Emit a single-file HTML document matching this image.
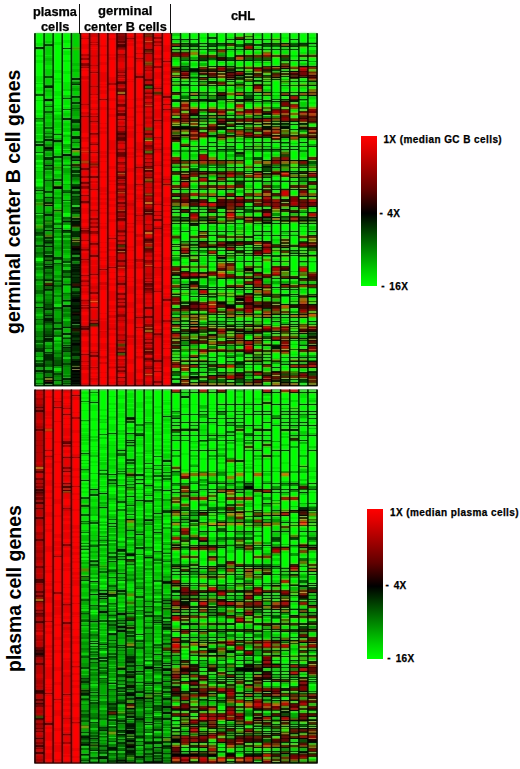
<!DOCTYPE html>
<html><head><meta charset="utf-8">
<style>
html,body{margin:0;padding:0;background:#fff;}
body{width:520px;height:769px;position:relative;overflow:hidden;font-family:"Liberation Sans",sans-serif;font-weight:bold;color:#000;-webkit-text-stroke:0.25px #000;}
.t{position:absolute;white-space:nowrap;line-height:1;}
.hd{font-size:12px;transform-origin:0 0;}
.vl{position:absolute;width:1.4px;background:#111;}
.hm{position:absolute;left:0;top:0;}
.rot{position:absolute;font-size:19.5px;-webkit-text-stroke:0;white-space:nowrap;line-height:1;transform-origin:0 0;}
.bar{position:absolute;width:16px;background:linear-gradient(to bottom,#ff0000 0%,#e00000 8%,#600000 36%,#000 51.5%,#005000 66%,#00d000 90%,#00ff00 100%);}
.cb{position:absolute;font-size:10px;letter-spacing:0.42px;white-space:nowrap;line-height:1;transform-origin:0 0;}
</style></head><body>
<svg class="hm" width="520" height="769" viewBox="0 0 520 769"><defs><filter id="bl" x="0" y="0" width="520" height="769" filterUnits="userSpaceOnUse" color-interpolation-filters="sRGB"><feGaussianBlur in="SourceGraphic" stdDeviation="0.5 0.7" result="b"/><feColorMatrix in="b" type="matrix" values="0.299 0.587 0.114 0 0  -0.1687 -0.3313 0.5 0 0.5  0.5 -0.4187 -0.0813 0 0.5  0 0 0 0 1" result="ycc"/><feGaussianBlur in="ycc" stdDeviation="1.0" result="yccb"/><feColorMatrix in="ycc" type="matrix" values="1 0 0 0 0  0 0 0 0 0  0 0 0 0 0  0 0 0 0 1" result="yo"/><feColorMatrix in="yccb" type="matrix" values="0 0 0 0 0  0 1 0 0 0  0 0 1 0 0  0 0 0 0 1" result="co"/><feComposite in="yo" in2="co" operator="arithmetic" k1="0" k2="1" k3="1" k4="0" result="m"/><feColorMatrix in="m" type="matrix" values="1 0 1.402 0 -0.701  1 -0.344136 -0.714136 0 0.529136  1 1.772 0 0 -0.886  0 0 0 0 1"/></filter></defs><g filter="url(#bl)"><rect x="0" y="0" width="520" height="769" fill="#fff"/><rect x="34.5" y="33.3" width="283" height="352.9" fill="#000"/><rect x="34.5" y="389.6" width="283" height="373.8" fill="#000"/><g shape-rendering="crispEdges"><path fill="#000000" d="M44.1 99.3h9.1v2h-9.1zM44.1 148.3h9.1v1h-9.1zM44.1 165.3h9.1v1h-9.1zM44.1 205.3h9.1v1h-9.1zM44.1 230.3h9.1v1h-9.1zM44.1 246.3h9.1v1h-9.1zM44.1 266.3h9.1v1h-9.1zM44.1 280.3h9.1v1h-9.1zM44.1 382.3h9.1v1h-9.1zM53.19 187.3h9.1v2h-9.1zM62.29 154.3h9.1v2h-9.1zM62.29 221.3h9.1v1h-9.1zM62.29 230.3h9.1v1h-9.1zM62.29 305.3h9.1v2h-9.1zM62.29 327.3h9.1v1h-9.1zM71.39 149.3h9.1v1h-9.1zM71.39 160.3h9.1v1h-9.1zM71.39 187.3h9.1v2h-9.1zM71.39 221.3h9.1v1h-9.1zM71.39 248.3h9.1v2h-9.1zM71.39 253.3h9.1v1h-9.1zM71.39 299.3h9.1v3h-9.1zM71.39 308.3h9.1v1h-9.1zM71.39 314.3h9.1v1h-9.1zM71.39 322.3h9.1v2h-9.1zM71.39 343.3h9.1v2h-9.1zM71.39 361.3h9.1v1h-9.1zM71.39 368.3h9.1v1h-9.1zM71.39 370.3h9.1v2h-9.1zM71.39 374.3h9.1v1h-9.1zM71.39 377.3h9.1v1h-9.1zM71.39 380.3h9.1v2h-9.1zM71.39 383.3h9.1v1h-9.1zM171.45 46.3h9.1v1h-9.1zM171.45 196.3h9.1v1h-9.1zM171.45 209.3h9.1v1h-9.1zM171.45 212.3h9.1v1h-9.1zM171.45 324.3h9.1v1h-9.1zM180.55 39.3h9.1v1h-9.1zM180.55 49.3h9.1v1h-9.1zM180.55 77.3h9.1v1h-9.1zM180.55 126.3h9.1v3h-9.1zM180.55 135.3h9.1v1h-9.1zM180.55 181.3h9.1v1h-9.1zM180.55 209.3h9.1v1h-9.1zM180.55 278.3h9.1v1h-9.1zM180.55 284.3h9.1v1h-9.1zM180.55 333.3h9.1v1h-9.1zM180.55 379.3h9.1v1h-9.1zM189.65 115.3h9.1v1h-9.1zM189.65 129.3h9.1v1h-9.1zM189.65 160.3h9.1v1h-9.1zM189.65 223.3h9.1v1h-9.1zM189.65 241.3h9.1v1h-9.1zM189.65 255.3h9.1v1h-9.1zM189.65 324.3h9.1v1h-9.1zM189.65 326.3h9.1v1h-9.1zM189.65 331.3h9.1v1h-9.1zM189.65 357.3h9.1v1h-9.1zM189.65 364.3h9.1v1h-9.1zM189.65 376.3h9.1v2h-9.1zM198.74 99.3h9.1v1h-9.1zM198.74 118.3h9.1v1h-9.1zM198.74 160.3h9.1v1h-9.1zM198.74 171.3h9.1v1h-9.1zM198.74 231.3h9.1v1h-9.1zM198.74 241.3h9.1v1h-9.1zM198.74 289.3h9.1v1h-9.1zM198.74 361.3h9.1v1h-9.1zM198.74 372.3h9.1v1h-9.1zM207.84 101.3h9.1v1h-9.1zM207.84 135.3h9.1v1h-9.1zM207.84 142.3h9.1v1h-9.1zM207.84 212.3h9.1v1h-9.1zM207.84 220.3h9.1v1h-9.1zM207.84 287.3h9.1v1h-9.1zM207.84 289.3h9.1v1h-9.1zM207.84 314.3h9.1v1h-9.1zM207.84 361.3h9.1v1h-9.1zM207.84 375.3h9.1v1h-9.1zM216.94 60.3h9.1v1h-9.1zM216.94 95.3h9.1v1h-9.1zM216.94 121.3h9.1v1h-9.1zM216.94 129.3h9.1v1h-9.1zM216.94 149.3h9.1v1h-9.1zM216.94 189.3h9.1v1h-9.1zM216.94 196.3h9.1v1h-9.1zM216.94 231.3h9.1v1h-9.1zM216.94 278.3h9.1v1h-9.1zM216.94 345.3h9.1v1h-9.1zM226.03 77.3h9.1v1h-9.1zM226.03 79.3h9.1v1h-9.1zM226.03 99.3h9.1v1h-9.1zM226.03 212.3h9.1v1h-9.1zM226.03 287.3h9.1v1h-9.1zM226.03 326.3h9.1v1h-9.1zM226.03 382.3h9.1v1h-9.1zM235.13 39.3h9.1v1h-9.1zM235.13 75.3h9.1v1h-9.1zM235.13 124.3h9.1v1h-9.1zM235.13 196.3h9.1v1h-9.1zM235.13 202.3h9.1v1h-9.1zM235.13 212.3h9.1v1h-9.1zM235.13 296.3h9.1v1h-9.1zM235.13 298.3h9.1v3h-9.1zM235.13 314.3h9.1v1h-9.1zM235.13 331.3h9.1v1h-9.1zM235.13 375.3h9.1v1h-9.1zM244.23 39.3h9.1v1h-9.1zM244.23 60.3h9.1v1h-9.1zM244.23 99.3h9.1v1h-9.1zM244.23 146.3h9.1v1h-9.1zM244.23 261.3h9.1v1h-9.1zM244.23 268.3h9.1v3h-9.1zM244.23 293.3h9.1v1h-9.1zM244.23 331.3h9.1v1h-9.1zM244.23 340.3h9.1v1h-9.1zM253.32 80.3h9.1v1h-9.1zM253.32 92.3h9.1v1h-9.1zM253.32 124.3h9.1v1h-9.1zM253.32 167.3h9.1v1h-9.1zM253.32 171.3h9.1v1h-9.1zM253.32 189.3h9.1v1h-9.1zM253.32 235.3h9.1v1h-9.1zM253.32 287.3h9.1v1h-9.1zM253.32 357.3h9.1v1h-9.1zM262.42 181.3h9.1v1h-9.1zM262.42 209.3h9.1v1h-9.1zM262.42 212.3h9.1v1h-9.1zM262.42 231.3h9.1v1h-9.1zM262.42 317.3h9.1v1h-9.1zM262.42 379.3h9.1v1h-9.1zM271.52 223.3h9.1v1h-9.1zM271.52 287.3h9.1v1h-9.1zM280.61 71.3h9.1v1h-9.1zM280.61 95.3h9.1v1h-9.1zM280.61 142.3h9.1v1h-9.1zM280.61 149.3h9.1v1h-9.1zM280.61 160.3h9.1v1h-9.1zM280.61 181.3h9.1v1h-9.1zM280.61 209.3h9.1v1h-9.1zM280.61 284.3h9.1v1h-9.1zM280.61 314.3h9.1v1h-9.1zM280.61 364.3h9.1v1h-9.1zM289.71 71.3h9.1v1h-9.1zM289.71 77.3h9.1v1h-9.1zM289.71 149.3h9.1v1h-9.1zM289.71 160.3h9.1v1h-9.1zM289.71 189.3h9.1v1h-9.1zM289.71 321.3h9.1v1h-9.1zM298.81 60.3h9.1v1h-9.1zM298.81 118.3h9.1v1h-9.1zM298.81 142.3h9.1v1h-9.1zM298.81 160.3h9.1v1h-9.1zM298.81 206.3h9.1v1h-9.1zM298.81 331.3h9.1v1h-9.1zM298.81 357.3h9.1v1h-9.1zM307.9 43.3h9.1v1h-9.1zM307.9 77.3h9.1v1h-9.1zM307.9 95.3h9.1v1h-9.1zM307.9 137.3h9.1v1h-9.1zM307.9 173.3h9.1v1h-9.1zM307.9 196.3h9.1v1h-9.1zM307.9 255.3h9.1v1h-9.1zM307.9 296.3h9.1v1h-9.1zM307.9 321.3h9.1v1h-9.1zM307.9 345.3h9.1v1h-9.1zM80.48 743.6h9.1v1h-9.1zM80.48 753.6h9.1v1h-9.1zM89.58 488.6h9.1v1h-9.1zM89.58 580.6h9.1v1h-9.1zM89.58 593.6h9.1v1h-9.1zM89.58 620.6h9.1v1h-9.1zM98.68 492.6h9.1v1h-9.1zM98.68 592.6h9.1v2h-9.1zM98.68 597.6h9.1v1h-9.1zM98.68 610.6h9.1v2h-9.1zM98.68 757.6h9.1v1h-9.1zM107.77 682.6h9.1v1h-9.1zM116.87 449.6h9.1v1h-9.1zM116.87 612.6h9.1v2h-9.1zM116.87 625.6h9.1v2h-9.1zM116.87 629.6h9.1v2h-9.1zM116.87 733.6h9.1v1h-9.1zM116.87 759.6h9.1v1h-9.1zM125.97 518.6h9.1v1h-9.1zM125.97 553.6h9.1v2h-9.1zM125.97 693.6h9.1v2h-9.1zM125.97 707.6h9.1v1h-9.1zM125.97 715.6h9.1v1h-9.1zM125.97 729.6h9.1v4h-9.1zM125.97 739.6h9.1v2h-9.1zM125.97 745.6h9.1v2h-9.1zM135.06 482.6h9.1v1h-9.1zM135.06 499.6h9.1v1h-9.1zM135.06 533.6h9.1v1h-9.1zM135.06 670.6h9.1v1h-9.1zM135.06 696.6h9.1v2h-9.1zM144.16 519.6h9.1v1h-9.1zM144.16 556.6h9.1v1h-9.1zM144.16 666.6h9.1v2h-9.1zM144.16 697.6h9.1v1h-9.1zM153.26 666.6h9.1v1h-9.1zM153.26 746.6h9.1v1h-9.1zM162.35 489.6h9.1v1h-9.1zM162.35 581.6h9.1v1h-9.1zM162.35 623.6h9.1v1h-9.1zM162.35 664.6h9.1v1h-9.1zM162.35 668.6h9.1v2h-9.1zM162.35 705.6h9.1v2h-9.1zM162.35 711.6h9.1v2h-9.1zM171.45 417.6h9.1v1h-9.1zM171.45 594.6h9.1v1h-9.1zM171.45 604.6h9.1v1h-9.1zM171.45 673.6h9.1v1h-9.1zM171.45 692.6h9.1v1h-9.1zM171.45 719.6h9.1v1h-9.1zM171.45 738.6h9.1v3h-9.1zM171.45 753.6h9.1v3h-9.1zM180.55 395.6h9.1v2h-9.1zM180.55 573.6h9.1v1h-9.1zM180.55 591.6h9.1v1h-9.1zM180.55 622.6h9.1v2h-9.1zM180.55 670.6h9.1v1h-9.1zM180.55 715.6h9.1v1h-9.1zM180.55 723.6h9.1v1h-9.1zM180.55 730.6h9.1v1h-9.1zM180.55 750.6h9.1v1h-9.1zM180.55 753.6h9.1v3h-9.1zM189.65 611.6h9.1v1h-9.1zM189.65 630.6h9.1v1h-9.1zM189.65 641.6h9.1v1h-9.1zM189.65 670.6h9.1v1h-9.1zM189.65 680.6h9.1v1h-9.1zM189.65 690.6h9.1v1h-9.1zM189.65 750.6h9.1v1h-9.1zM189.65 753.6h9.1v3h-9.1zM198.74 421.6h9.1v1h-9.1zM198.74 511.6h9.1v1h-9.1zM198.74 530.6h9.1v1h-9.1zM198.74 594.6h9.1v1h-9.1zM198.74 628.6h9.1v1h-9.1zM198.74 666.6h9.1v1h-9.1zM198.74 678.6h9.1v1h-9.1zM198.74 719.6h9.1v1h-9.1zM207.84 649.6h9.1v1h-9.1zM207.84 654.6h9.1v1h-9.1zM207.84 692.6h9.1v1h-9.1zM207.84 699.6h9.1v1h-9.1zM207.84 753.6h9.1v3h-9.1zM216.94 410.6h9.1v1h-9.1zM216.94 565.6h9.1v1h-9.1zM216.94 641.6h9.1v1h-9.1zM216.94 654.6h9.1v1h-9.1zM226.03 421.6h9.1v1h-9.1zM226.03 600.6h9.1v1h-9.1zM226.03 604.6h9.1v1h-9.1zM226.03 650.6h9.1v2h-9.1zM226.03 670.6h9.1v1h-9.1zM226.03 676.6h9.1v1h-9.1zM226.03 678.6h9.1v1h-9.1zM235.13 403.6h9.1v1h-9.1zM235.13 488.6h9.1v1h-9.1zM235.13 511.6h9.1v1h-9.1zM235.13 659.6h9.1v1h-9.1zM235.13 667.6h9.1v3h-9.1zM235.13 673.6h9.1v1h-9.1zM235.13 695.6h9.1v1h-9.1zM235.13 715.6h9.1v1h-9.1zM235.13 725.6h9.1v1h-9.1zM244.23 424.6h9.1v1h-9.1zM244.23 485.6h9.1v3h-9.1zM244.23 530.6h9.1v1h-9.1zM244.23 570.6h9.1v1h-9.1zM244.23 611.6h9.1v1h-9.1zM244.23 636.6h9.1v1h-9.1zM244.23 667.6h9.1v4h-9.1zM244.23 692.6h9.1v1h-9.1zM244.23 761.6h9.1v1h-9.1zM253.32 488.6h9.1v1h-9.1zM253.32 565.6h9.1v1h-9.1zM253.32 567.6h9.1v1h-9.1zM253.32 608.6h9.1v1h-9.1zM253.32 673.6h9.1v1h-9.1zM253.32 678.6h9.1v1h-9.1zM253.32 719.6h9.1v1h-9.1zM253.32 725.6h9.1v1h-9.1zM262.42 391.6h9.1v1h-9.1zM262.42 413.6h9.1v1h-9.1zM262.42 544.6h9.1v1h-9.1zM262.42 594.6h9.1v1h-9.1zM262.42 659.6h9.1v1h-9.1zM262.42 663.6h9.1v1h-9.1zM262.42 673.6h9.1v1h-9.1zM262.42 680.6h9.1v1h-9.1zM262.42 690.6h9.1v1h-9.1zM271.52 403.6h9.1v1h-9.1zM271.52 514.6h9.1v1h-9.1zM271.52 565.6h9.1v1h-9.1zM271.52 608.6h9.1v1h-9.1zM271.52 611.6h9.1v1h-9.1zM271.52 663.6h9.1v1h-9.1zM271.52 699.6h9.1v1h-9.1zM271.52 750.6h9.1v1h-9.1zM271.52 761.6h9.1v1h-9.1zM280.61 449.6h9.1v1h-9.1zM280.61 521.6h9.1v1h-9.1zM280.61 600.6h9.1v1h-9.1zM280.61 639.6h9.1v1h-9.1zM280.61 752.6h9.1v1h-9.1zM289.71 424.6h9.1v1h-9.1zM289.71 608.6h9.1v1h-9.1zM289.71 614.6h9.1v1h-9.1zM289.71 639.6h9.1v1h-9.1zM289.71 676.6h9.1v1h-9.1zM289.71 719.6h9.1v1h-9.1zM289.71 741.6h9.1v1h-9.1zM298.81 403.6h9.1v1h-9.1zM298.81 491.6h9.1v1h-9.1zM298.81 509.6h9.1v1h-9.1zM298.81 514.6h9.1v1h-9.1zM298.81 544.6h9.1v1h-9.1zM298.81 585.6h9.1v1h-9.1zM298.81 641.6h9.1v1h-9.1zM298.81 666.6h9.1v1h-9.1zM298.81 719.6h9.1v1h-9.1zM298.81 737.6h9.1v1h-9.1zM298.81 751.6h9.1v1h-9.1zM307.9 410.6h9.1v1h-9.1zM307.9 570.6h9.1v1h-9.1zM307.9 591.6h9.1v1h-9.1zM307.9 604.6h9.1v1h-9.1zM307.9 641.6h9.1v1h-9.1zM307.9 695.6h9.1v1h-9.1zM307.9 715.6h9.1v1h-9.1zM307.9 719.6h9.1v1h-9.1zM307.9 741.6h9.1v1h-9.1z"/><path fill="#001500" d="M35 47.3h9.1v2h-9.1zM35 144.3h9.1v2h-9.1zM35 190.3h9.1v1h-9.1zM35 307.3h9.1v1h-9.1zM35 370.3h9.1v2h-9.1zM44.1 86.3h9.1v2h-9.1zM44.1 139.3h9.1v2h-9.1zM44.1 197.3h9.1v1h-9.1zM44.1 214.3h9.1v2h-9.1zM44.1 242.3h9.1v1h-9.1zM44.1 255.3h9.1v2h-9.1zM44.1 285.3h9.1v1h-9.1zM44.1 289.3h9.1v1h-9.1zM44.1 309.3h9.1v1h-9.1zM44.1 315.3h9.1v1h-9.1zM44.1 318.3h9.1v3h-9.1zM44.1 336.3h9.1v1h-9.1zM44.1 338.3h9.1v2h-9.1zM44.1 377.3h9.1v1h-9.1zM44.1 380.3h9.1v1h-9.1zM44.1 383.3h9.1v1h-9.1zM53.19 140.3h9.1v2h-9.1zM53.19 328.3h9.1v1h-9.1zM62.29 48.3h9.1v1h-9.1zM62.29 118.3h9.1v2h-9.1zM62.29 300.3h9.1v1h-9.1zM62.29 333.3h9.1v2h-9.1zM62.29 347.3h9.1v1h-9.1zM62.29 378.3h9.1v2h-9.1zM71.39 78.3h9.1v2h-9.1zM71.39 84.3h9.1v1h-9.1zM71.39 96.3h9.1v1h-9.1zM71.39 136.3h9.1v3h-9.1zM71.39 156.3h9.1v2h-9.1zM71.39 207.3h9.1v2h-9.1zM71.39 211.3h9.1v1h-9.1zM71.39 218.3h9.1v1h-9.1zM71.39 222.3h9.1v4h-9.1zM71.39 236.3h9.1v1h-9.1zM71.39 250.3h9.1v1h-9.1zM71.39 257.3h9.1v2h-9.1zM71.39 264.3h9.1v2h-9.1zM71.39 267.3h9.1v1h-9.1zM71.39 269.3h9.1v3h-9.1zM71.39 274.3h9.1v1h-9.1zM71.39 277.3h9.1v1h-9.1zM71.39 282.3h9.1v1h-9.1zM71.39 286.3h9.1v2h-9.1zM71.39 293.3h9.1v1h-9.1zM71.39 297.3h9.1v2h-9.1zM71.39 305.3h9.1v3h-9.1zM71.39 311.3h9.1v2h-9.1zM71.39 315.3h9.1v1h-9.1zM71.39 319.3h9.1v2h-9.1zM71.39 328.3h9.1v1h-9.1zM71.39 335.3h9.1v2h-9.1zM71.39 340.3h9.1v1h-9.1zM71.39 345.3h9.1v1h-9.1zM71.39 353.3h9.1v3h-9.1zM71.39 362.3h9.1v3h-9.1zM71.39 367.3h9.1v1h-9.1zM71.39 372.3h9.1v2h-9.1zM71.39 375.3h9.1v2h-9.1zM71.39 378.3h9.1v2h-9.1zM71.39 382.3h9.1v1h-9.1zM71.39 385.3h9.1v0.9h-9.1zM171.45 68.3h9.1v1h-9.1zM171.45 101.3h9.1v1h-9.1zM171.45 118.3h9.1v1h-9.1zM171.45 126.3h9.1v1h-9.1zM171.45 135.3h9.1v1h-9.1zM171.45 137.3h9.1v1h-9.1zM171.45 160.3h9.1v1h-9.1zM171.45 274.3h9.1v2h-9.1zM171.45 278.3h9.1v1h-9.1zM171.45 294.3h9.1v1h-9.1zM171.45 331.3h9.1v1h-9.1zM171.45 364.3h9.1v1h-9.1zM171.45 379.3h9.1v1h-9.1zM180.55 66.3h9.1v1h-9.1zM180.55 85.3h9.1v1h-9.1zM180.55 118.3h9.1v1h-9.1zM180.55 177.3h9.1v1h-9.1zM180.55 231.3h9.1v1h-9.1zM180.55 308.3h9.1v1h-9.1zM180.55 340.3h9.1v1h-9.1zM189.65 71.3h9.1v1h-9.1zM189.65 99.3h9.1v1h-9.1zM189.65 189.3h9.1v1h-9.1zM189.65 261.3h9.1v1h-9.1zM189.65 281.3h9.1v3h-9.1zM189.65 382.3h9.1v1h-9.1zM198.74 71.3h9.1v1h-9.1zM198.74 85.3h9.1v1h-9.1zM198.74 220.3h9.1v1h-9.1zM198.74 294.3h9.1v1h-9.1zM207.84 46.3h9.1v1h-9.1zM207.84 71.3h9.1v1h-9.1zM207.84 81.3h9.1v1h-9.1zM207.84 136.3h9.1v1h-9.1zM207.84 171.3h9.1v1h-9.1zM207.84 223.3h9.1v1h-9.1zM207.84 246.3h9.1v2h-9.1zM216.94 71.3h9.1v1h-9.1zM216.94 85.3h9.1v1h-9.1zM216.94 124.3h9.1v1h-9.1zM216.94 127.3h9.1v2h-9.1zM216.94 207.3h9.1v2h-9.1zM216.94 212.3h9.1v1h-9.1zM216.94 223.3h9.1v1h-9.1zM216.94 250.3h9.1v1h-9.1zM216.94 261.3h9.1v1h-9.1zM216.94 317.3h9.1v1h-9.1zM216.94 324.3h9.1v1h-9.1zM216.94 331.3h9.1v1h-9.1zM226.03 49.3h9.1v1h-9.1zM226.03 66.3h9.1v1h-9.1zM226.03 135.3h9.1v1h-9.1zM226.03 189.3h9.1v1h-9.1zM226.03 241.3h9.1v1h-9.1zM226.03 308.3h9.1v1h-9.1zM226.03 361.3h9.1v1h-9.1zM226.03 379.3h9.1v1h-9.1zM235.13 99.3h9.1v1h-9.1zM235.13 142.3h9.1v1h-9.1zM235.13 160.3h9.1v1h-9.1zM235.13 289.3h9.1v1h-9.1zM235.13 333.3h9.1v1h-9.1zM244.23 92.3h9.1v1h-9.1zM244.23 241.3h9.1v1h-9.1zM244.23 244.3h9.1v1h-9.1zM244.23 284.3h9.1v1h-9.1zM244.23 333.3h9.1v1h-9.1zM253.32 118.3h9.1v1h-9.1zM253.32 247.3h9.1v1h-9.1zM253.32 255.3h9.1v1h-9.1zM253.32 289.3h9.1v1h-9.1zM253.32 338.3h9.1v1h-9.1zM253.32 372.3h9.1v1h-9.1zM262.42 92.3h9.1v1h-9.1zM262.42 113.3h9.1v2h-9.1zM262.42 118.3h9.1v1h-9.1zM262.42 127.3h9.1v2h-9.1zM262.42 149.3h9.1v1h-9.1zM262.42 160.3h9.1v1h-9.1zM262.42 171.3h9.1v1h-9.1zM262.42 222.3h9.1v1h-9.1zM262.42 255.3h9.1v1h-9.1zM262.42 296.3h9.1v1h-9.1zM262.42 314.3h9.1v1h-9.1zM262.42 375.3h9.1v1h-9.1zM271.52 49.3h9.1v1h-9.1zM271.52 142.3h9.1v1h-9.1zM271.52 160.3h9.1v1h-9.1zM271.52 167.3h9.1v1h-9.1zM271.52 261.3h9.1v1h-9.1zM271.52 278.3h9.1v1h-9.1zM271.52 331.3h9.1v1h-9.1zM271.52 340.3h9.1v1h-9.1zM271.52 346.3h9.1v3h-9.1zM280.61 46.3h9.1v1h-9.1zM280.61 66.3h9.1v1h-9.1zM280.61 137.3h9.1v1h-9.1zM280.61 220.3h9.1v1h-9.1zM280.61 278.3h9.1v1h-9.1zM280.61 289.3h9.1v1h-9.1zM280.61 294.3h9.1v2h-9.1zM280.61 324.3h9.1v1h-9.1zM280.61 345.3h9.1v1h-9.1zM289.71 39.3h9.1v1h-9.1zM289.71 49.3h9.1v1h-9.1zM289.71 81.3h9.1v1h-9.1zM289.71 121.3h9.1v1h-9.1zM289.71 129.3h9.1v1h-9.1zM289.71 171.3h9.1v1h-9.1zM289.71 177.3h9.1v1h-9.1zM289.71 357.3h9.1v1h-9.1zM298.81 43.3h9.1v1h-9.1zM298.81 77.3h9.1v1h-9.1zM298.81 92.3h9.1v1h-9.1zM298.81 99.3h9.1v1h-9.1zM298.81 137.3h9.1v1h-9.1zM298.81 189.3h9.1v1h-9.1zM298.81 255.3h9.1v1h-9.1zM298.81 278.3h9.1v1h-9.1zM298.81 314.3h9.1v1h-9.1zM298.81 345.3h9.1v1h-9.1zM298.81 361.3h9.1v1h-9.1zM307.9 220.3h9.1v1h-9.1zM307.9 231.3h9.1v1h-9.1zM307.9 340.3h9.1v1h-9.1zM307.9 361.3h9.1v1h-9.1zM307.9 364.3h9.1v1h-9.1zM80.48 479.6h9.1v1h-9.1zM80.48 692.6h9.1v2h-9.1zM80.48 735.6h9.1v2h-9.1zM89.58 401.6h9.1v1h-9.1zM89.58 560.6h9.1v1h-9.1zM89.58 642.6h9.1v1h-9.1zM89.58 657.6h9.1v1h-9.1zM89.58 737.6h9.1v1h-9.1zM89.58 749.6h9.1v1h-9.1zM98.68 506.6h9.1v1h-9.1zM98.68 589.6h9.1v1h-9.1zM98.68 595.6h9.1v1h-9.1zM98.68 643.6h9.1v1h-9.1zM98.68 659.6h9.1v1h-9.1zM98.68 729.6h9.1v1h-9.1zM98.68 755.6h9.1v2h-9.1zM107.77 473.6h9.1v1h-9.1zM107.77 522.6h9.1v1h-9.1zM107.77 593.6h9.1v1h-9.1zM107.77 632.6h9.1v2h-9.1zM107.77 746.6h9.1v3h-9.1zM116.87 548.6h9.1v2h-9.1zM116.87 589.6h9.1v2h-9.1zM116.87 667.6h9.1v2h-9.1zM116.87 690.6h9.1v1h-9.1zM116.87 729.6h9.1v1h-9.1zM125.97 417.6h9.1v1h-9.1zM125.97 432.6h9.1v1h-9.1zM125.97 439.6h9.1v1h-9.1zM125.97 441.6h9.1v1h-9.1zM125.97 444.6h9.1v1h-9.1zM125.97 495.6h9.1v1h-9.1zM125.97 619.6h9.1v1h-9.1zM125.97 660.6h9.1v2h-9.1zM125.97 670.6h9.1v2h-9.1zM125.97 686.6h9.1v1h-9.1zM125.97 691.6h9.1v2h-9.1zM125.97 702.6h9.1v1h-9.1zM125.97 716.6h9.1v1h-9.1zM125.97 723.6h9.1v3h-9.1zM125.97 727.6h9.1v1h-9.1zM125.97 744.6h9.1v1h-9.1zM125.97 749.6h9.1v3h-9.1zM135.06 434.6h9.1v1h-9.1zM135.06 473.6h9.1v2h-9.1zM135.06 478.6h9.1v1h-9.1zM135.06 633.6h9.1v1h-9.1zM135.06 691.6h9.1v1h-9.1zM135.06 718.6h9.1v1h-9.1zM135.06 755.6h9.1v2h-9.1zM144.16 484.6h9.1v1h-9.1zM144.16 682.6h9.1v1h-9.1zM144.16 692.6h9.1v1h-9.1zM144.16 721.6h9.1v1h-9.1zM144.16 741.6h9.1v2h-9.1zM144.16 761.6h9.1v1.8h-9.1zM153.26 512.6h9.1v1h-9.1zM153.26 531.6h9.1v1h-9.1zM153.26 621.6h9.1v1h-9.1zM153.26 653.6h9.1v1h-9.1zM153.26 736.6h9.1v1h-9.1zM153.26 741.6h9.1v2h-9.1zM153.26 760.6h9.1v2h-9.1zM162.35 415.6h9.1v1h-9.1zM162.35 459.6h9.1v2h-9.1zM162.35 580.6h9.1v1h-9.1zM162.35 599.6h9.1v1h-9.1zM162.35 602.6h9.1v1h-9.1zM162.35 626.6h9.1v1h-9.1zM162.35 662.6h9.1v1h-9.1zM162.35 680.6h9.1v1h-9.1zM162.35 697.6h9.1v2h-9.1zM162.35 717.6h9.1v2h-9.1zM162.35 745.6h9.1v1h-9.1zM171.45 470.6h9.1v1h-9.1zM171.45 565.6h9.1v1h-9.1zM171.45 570.6h9.1v1h-9.1zM171.45 573.6h9.1v1h-9.1zM171.45 582.6h9.1v1h-9.1zM171.45 654.6h9.1v1h-9.1zM171.45 676.6h9.1v1h-9.1zM171.45 685.6h9.1v2h-9.1zM171.45 730.6h9.1v1h-9.1zM180.55 546.6h9.1v1h-9.1zM180.55 570.6h9.1v1h-9.1zM180.55 601.6h9.1v3h-9.1zM180.55 628.6h9.1v1h-9.1zM180.55 673.6h9.1v1h-9.1zM180.55 680.6h9.1v1h-9.1zM180.55 699.6h9.1v1h-9.1zM189.65 570.6h9.1v1h-9.1zM189.65 663.6h9.1v1h-9.1zM189.65 709.6h9.1v1h-9.1zM189.65 725.6h9.1v1h-9.1zM189.65 737.6h9.1v1h-9.1zM198.74 544.6h9.1v1h-9.1zM198.74 546.6h9.1v1h-9.1zM198.74 630.6h9.1v1h-9.1zM198.74 692.6h9.1v1h-9.1zM198.74 698.6h9.1v1h-9.1zM207.84 417.6h9.1v1h-9.1zM207.84 421.6h9.1v1h-9.1zM207.84 482.6h9.1v1h-9.1zM207.84 488.6h9.1v1h-9.1zM207.84 491.6h9.1v1h-9.1zM207.84 544.6h9.1v1h-9.1zM207.84 608.6h9.1v1h-9.1zM207.84 715.6h9.1v1h-9.1zM207.84 723.6h9.1v1h-9.1zM216.94 434.6h9.1v1h-9.1zM216.94 491.6h9.1v1h-9.1zM216.94 511.6h9.1v1h-9.1zM216.94 600.6h9.1v1h-9.1zM216.94 604.6h9.1v1h-9.1zM216.94 690.6h9.1v1h-9.1zM216.94 723.6h9.1v1h-9.1zM216.94 750.6h9.1v1h-9.1zM226.03 434.6h9.1v1h-9.1zM226.03 439.6h9.1v1h-9.1zM226.03 530.6h9.1v1h-9.1zM226.03 614.6h9.1v1h-9.1zM226.03 725.6h9.1v1h-9.1zM235.13 546.6h9.1v1h-9.1zM235.13 565.6h9.1v1h-9.1zM235.13 567.6h9.1v1h-9.1zM235.13 600.6h9.1v1h-9.1zM235.13 611.6h9.1v1h-9.1zM235.13 630.6h9.1v1h-9.1zM235.13 666.6h9.1v1h-9.1zM235.13 737.6h9.1v1h-9.1zM244.23 413.6h9.1v1h-9.1zM244.23 482.6h9.1v1h-9.1zM244.23 628.6h9.1v1h-9.1zM244.23 654.6h9.1v1h-9.1zM244.23 659.6h9.1v1h-9.1zM244.23 753.6h9.1v3h-9.1zM253.32 403.6h9.1v1h-9.1zM253.32 410.6h9.1v1h-9.1zM253.32 413.6h9.1v1h-9.1zM253.32 434.6h9.1v1h-9.1zM253.32 573.6h9.1v1h-9.1zM253.32 600.6h9.1v1h-9.1zM253.32 663.6h9.1v1h-9.1zM253.32 676.6h9.1v1h-9.1zM253.32 753.6h9.1v3h-9.1zM262.42 439.6h9.1v1h-9.1zM262.42 514.6h9.1v1h-9.1zM262.42 565.6h9.1v1h-9.1zM262.42 608.6h9.1v1h-9.1zM262.42 614.6h9.1v1h-9.1zM262.42 695.6h9.1v1h-9.1zM262.42 715.6h9.1v1h-9.1zM262.42 725.6h9.1v1h-9.1zM271.52 594.6h9.1v1h-9.1zM271.52 630.6h9.1v1h-9.1zM271.52 636.6h9.1v1h-9.1zM271.52 639.6h9.1v1h-9.1zM271.52 641.6h9.1v1h-9.1zM271.52 680.6h9.1v1h-9.1zM271.52 695.6h9.1v1h-9.1zM271.52 719.6h9.1v1h-9.1zM271.52 734.6h9.1v1h-9.1zM280.61 403.6h9.1v1h-9.1zM280.61 410.6h9.1v1h-9.1zM280.61 488.6h9.1v1h-9.1zM280.61 546.6h9.1v1h-9.1zM280.61 594.6h9.1v1h-9.1zM280.61 663.6h9.1v1h-9.1zM280.61 715.6h9.1v1h-9.1zM280.61 746.6h9.1v1h-9.1zM289.71 391.6h9.1v1h-9.1zM289.71 410.6h9.1v1h-9.1zM289.71 413.6h9.1v1h-9.1zM289.71 565.6h9.1v1h-9.1zM289.71 570.6h9.1v1h-9.1zM289.71 725.6h9.1v1h-9.1zM298.81 424.6h9.1v1h-9.1zM298.81 439.6h9.1v1h-9.1zM298.81 530.6h9.1v1h-9.1zM298.81 546.6h9.1v1h-9.1zM298.81 584.6h9.1v1h-9.1zM298.81 595.6h9.1v2h-9.1zM298.81 636.6h9.1v1h-9.1zM298.81 715.6h9.1v1h-9.1zM307.9 434.6h9.1v1h-9.1zM307.9 530.6h9.1v1h-9.1zM307.9 544.6h9.1v1h-9.1zM307.9 598.6h9.1v1h-9.1zM307.9 649.6h9.1v1h-9.1zM307.9 666.6h9.1v1h-9.1z"/><path fill="#002a00" d="M35 350.3h9.1v2h-9.1zM35 365.3h9.1v2h-9.1zM44.1 45.3h9.1v1h-9.1zM44.1 157.3h9.1v3h-9.1zM44.1 191.3h9.1v1h-9.1zM44.1 202.3h9.1v2h-9.1zM44.1 237.3h9.1v1h-9.1zM44.1 264.3h9.1v1h-9.1zM44.1 308.3h9.1v1h-9.1zM44.1 340.3h9.1v2h-9.1zM44.1 352.3h9.1v1h-9.1zM44.1 354.3h9.1v6h-9.1zM44.1 370.3h9.1v3h-9.1zM44.1 385.3h9.1v0.9h-9.1zM53.19 134.3h9.1v1h-9.1zM53.19 156.3h9.1v2h-9.1zM53.19 228.3h9.1v1h-9.1zM53.19 257.3h9.1v2h-9.1zM53.19 365.3h9.1v1h-9.1zM53.19 380.3h9.1v1h-9.1zM62.29 98.3h9.1v1h-9.1zM62.29 284.3h9.1v1h-9.1zM62.29 338.3h9.1v1h-9.1zM62.29 345.3h9.1v1h-9.1zM62.29 351.3h9.1v1h-9.1zM71.39 102.3h9.1v2h-9.1zM71.39 120.3h9.1v3h-9.1zM71.39 129.3h9.1v2h-9.1zM71.39 148.3h9.1v1h-9.1zM71.39 170.3h9.1v3h-9.1zM71.39 186.3h9.1v1h-9.1zM71.39 191.3h9.1v3h-9.1zM71.39 196.3h9.1v1h-9.1zM71.39 219.3h9.1v1h-9.1zM71.39 231.3h9.1v5h-9.1zM71.39 240.3h9.1v1h-9.1zM71.39 251.3h9.1v2h-9.1zM71.39 254.3h9.1v1h-9.1zM71.39 259.3h9.1v2h-9.1zM71.39 266.3h9.1v1h-9.1zM71.39 268.3h9.1v1h-9.1zM71.39 272.3h9.1v2h-9.1zM71.39 278.3h9.1v4h-9.1zM71.39 283.3h9.1v1h-9.1zM71.39 292.3h9.1v1h-9.1zM71.39 295.3h9.1v2h-9.1zM71.39 302.3h9.1v3h-9.1zM71.39 309.3h9.1v2h-9.1zM71.39 316.3h9.1v3h-9.1zM71.39 321.3h9.1v1h-9.1zM71.39 325.3h9.1v3h-9.1zM71.39 333.3h9.1v2h-9.1zM71.39 337.3h9.1v1h-9.1zM71.39 341.3h9.1v2h-9.1zM71.39 346.3h9.1v5h-9.1zM71.39 359.3h9.1v2h-9.1zM71.39 365.3h9.1v1h-9.1zM71.39 384.3h9.1v1h-9.1zM171.45 39.3h9.1v1h-9.1zM171.45 81.3h9.1v1h-9.1zM171.45 171.3h9.1v1h-9.1zM171.45 220.3h9.1v1h-9.1zM171.45 308.3h9.1v1h-9.1zM171.45 317.3h9.1v1h-9.1zM171.45 321.3h9.1v1h-9.1zM171.45 338.3h9.1v1h-9.1zM171.45 345.3h9.1v1h-9.1zM180.55 60.3h9.1v1h-9.1zM180.55 84.3h9.1v1h-9.1zM180.55 92.3h9.1v1h-9.1zM180.55 115.3h9.1v1h-9.1zM180.55 121.3h9.1v1h-9.1zM180.55 160.3h9.1v1h-9.1zM180.55 241.3h9.1v1h-9.1zM180.55 255.3h9.1v1h-9.1zM180.55 289.3h9.1v1h-9.1zM180.55 302.3h9.1v2h-9.1zM180.55 331.3h9.1v1h-9.1zM189.65 39.3h9.1v1h-9.1zM189.65 68.3h9.1v1h-9.1zM189.65 77.3h9.1v1h-9.1zM189.65 85.3h9.1v1h-9.1zM189.65 118.3h9.1v1h-9.1zM189.65 206.3h9.1v1h-9.1zM189.65 209.3h9.1v1h-9.1zM189.65 212.3h9.1v1h-9.1zM189.65 244.3h9.1v1h-9.1zM189.65 284.3h9.1v1h-9.1zM198.74 49.3h9.1v1h-9.1zM198.74 69.3h9.1v2h-9.1zM198.74 95.3h9.1v1h-9.1zM198.74 124.3h9.1v1h-9.1zM198.74 177.3h9.1v1h-9.1zM198.74 189.3h9.1v1h-9.1zM198.74 206.3h9.1v1h-9.1zM198.74 209.3h9.1v1h-9.1zM198.74 217.3h9.1v1h-9.1zM198.74 308.3h9.1v1h-9.1zM198.74 364.3h9.1v1h-9.1zM207.84 37.3h9.1v2h-9.1zM207.84 43.3h9.1v1h-9.1zM207.84 69.3h9.1v2h-9.1zM207.84 92.3h9.1v1h-9.1zM207.84 231.3h9.1v1h-9.1zM216.94 118.3h9.1v1h-9.1zM216.94 167.3h9.1v1h-9.1zM216.94 304.3h9.1v1h-9.1zM216.94 321.3h9.1v1h-9.1zM216.94 364.3h9.1v1h-9.1zM216.94 367.3h9.1v1h-9.1zM226.03 43.3h9.1v1h-9.1zM226.03 69.3h9.1v2h-9.1zM226.03 81.3h9.1v1h-9.1zM226.03 118.3h9.1v1h-9.1zM226.03 129.3h9.1v1h-9.1zM226.03 149.3h9.1v1h-9.1zM226.03 173.3h9.1v1h-9.1zM226.03 202.3h9.1v1h-9.1zM226.03 231.3h9.1v1h-9.1zM226.03 340.3h9.1v1h-9.1zM235.13 49.3h9.1v1h-9.1zM235.13 60.3h9.1v1h-9.1zM235.13 78.3h9.1v1h-9.1zM235.13 84.3h9.1v1h-9.1zM235.13 250.3h9.1v1h-9.1zM235.13 304.3h9.1v1h-9.1zM235.13 324.3h9.1v1h-9.1zM235.13 326.3h9.1v1h-9.1zM235.13 345.3h9.1v1h-9.1zM235.13 362.3h9.1v3h-9.1zM235.13 367.3h9.1v1h-9.1zM235.13 372.3h9.1v1h-9.1zM235.13 378.3h9.1v1h-9.1zM235.13 382.3h9.1v1h-9.1zM244.23 49.3h9.1v1h-9.1zM244.23 73.3h9.1v2h-9.1zM244.23 206.3h9.1v1h-9.1zM244.23 220.3h9.1v1h-9.1zM244.23 255.3h9.1v1h-9.1zM244.23 289.3h9.1v1h-9.1zM244.23 294.3h9.1v1h-9.1zM244.23 364.3h9.1v1h-9.1zM244.23 385.3h9.1v0.9h-9.1zM253.32 44.3h9.1v2h-9.1zM253.32 77.3h9.1v1h-9.1zM253.32 95.3h9.1v1h-9.1zM253.32 129.3h9.1v1h-9.1zM253.32 149.3h9.1v1h-9.1zM253.32 181.3h9.1v1h-9.1zM253.32 206.3h9.1v1h-9.1zM253.32 220.3h9.1v1h-9.1zM253.32 223.3h9.1v1h-9.1zM253.32 333.3h9.1v1h-9.1zM253.32 340.3h9.1v1h-9.1zM262.42 69.3h9.1v2h-9.1zM262.42 137.3h9.1v1h-9.1zM262.42 167.3h9.1v1h-9.1zM262.42 196.3h9.1v1h-9.1zM262.42 220.3h9.1v1h-9.1zM262.42 294.3h9.1v1h-9.1zM262.42 304.3h9.1v1h-9.1zM262.42 308.3h9.1v1h-9.1zM262.42 357.3h9.1v1h-9.1zM262.42 364.3h9.1v1h-9.1zM271.52 99.3h9.1v1h-9.1zM271.52 124.3h9.1v1h-9.1zM271.52 129.3h9.1v1h-9.1zM271.52 181.3h9.1v1h-9.1zM271.52 202.3h9.1v1h-9.1zM271.52 361.3h9.1v1h-9.1zM280.61 92.3h9.1v1h-9.1zM280.61 146.3h9.1v1h-9.1zM280.61 189.3h9.1v1h-9.1zM280.61 223.3h9.1v1h-9.1zM280.61 245.3h9.1v1h-9.1zM280.61 340.3h9.1v1h-9.1zM289.71 95.3h9.1v1h-9.1zM289.71 99.3h9.1v1h-9.1zM289.71 135.3h9.1v1h-9.1zM289.71 220.3h9.1v1h-9.1zM289.71 255.3h9.1v1h-9.1zM289.71 289.3h9.1v1h-9.1zM289.71 304.3h9.1v1h-9.1zM289.71 317.3h9.1v1h-9.1zM289.71 364.3h9.1v1h-9.1zM289.71 367.3h9.1v1h-9.1zM289.71 379.3h9.1v1h-9.1zM289.71 382.3h9.1v1h-9.1zM298.81 124.3h9.1v1h-9.1zM298.81 146.3h9.1v1h-9.1zM298.81 177.3h9.1v1h-9.1zM298.81 181.3h9.1v1h-9.1zM298.81 202.3h9.1v1h-9.1zM298.81 217.3h9.1v1h-9.1zM298.81 284.3h9.1v1h-9.1zM298.81 308.3h9.1v1h-9.1zM298.81 364.3h9.1v1h-9.1zM298.81 372.3h9.1v1h-9.1zM298.81 379.3h9.1v1h-9.1zM307.9 66.3h9.1v1h-9.1zM307.9 121.3h9.1v1h-9.1zM307.9 181.3h9.1v1h-9.1zM307.9 212.3h9.1v1h-9.1zM307.9 235.3h9.1v1h-9.1zM307.9 247.3h9.1v1h-9.1zM307.9 278.3h9.1v1h-9.1zM307.9 333.3h9.1v1h-9.1zM307.9 357.3h9.1v1h-9.1zM307.9 372.3h9.1v1h-9.1zM307.9 385.3h9.1v0.9h-9.1zM62.29 485.6h9.1v2h-9.1zM80.48 452.6h9.1v1h-9.1zM80.48 548.6h9.1v1h-9.1zM80.48 579.6h9.1v1h-9.1zM80.48 677.6h9.1v1h-9.1zM80.48 680.6h9.1v2h-9.1zM80.48 698.6h9.1v1h-9.1zM80.48 731.6h9.1v1h-9.1zM80.48 744.6h9.1v1h-9.1zM89.58 493.6h9.1v2h-9.1zM89.58 640.6h9.1v1h-9.1zM89.58 691.6h9.1v1h-9.1zM89.58 721.6h9.1v1h-9.1zM89.58 741.6h9.1v1h-9.1zM89.58 761.6h9.1v1.8h-9.1zM98.68 656.6h9.1v2h-9.1zM98.68 726.6h9.1v1h-9.1zM98.68 749.6h9.1v1h-9.1zM107.77 432.6h9.1v1h-9.1zM107.77 482.6h9.1v1h-9.1zM107.77 525.6h9.1v1h-9.1zM107.77 560.6h9.1v1h-9.1zM107.77 594.6h9.1v2h-9.1zM107.77 614.6h9.1v1h-9.1zM107.77 702.6h9.1v2h-9.1zM107.77 710.6h9.1v1h-9.1zM107.77 713.6h9.1v1h-9.1zM107.77 719.6h9.1v1h-9.1zM116.87 558.6h9.1v1h-9.1zM116.87 572.6h9.1v1h-9.1zM116.87 619.6h9.1v1h-9.1zM116.87 622.6h9.1v1h-9.1zM116.87 644.6h9.1v1h-9.1zM116.87 646.6h9.1v1h-9.1zM116.87 686.6h9.1v2h-9.1zM116.87 694.6h9.1v1h-9.1zM116.87 701.6h9.1v2h-9.1zM116.87 719.6h9.1v2h-9.1zM116.87 741.6h9.1v2h-9.1zM125.97 416.6h9.1v1h-9.1zM125.97 459.6h9.1v1h-9.1zM125.97 504.6h9.1v1h-9.1zM125.97 529.6h9.1v1h-9.1zM125.97 558.6h9.1v1h-9.1zM125.97 630.6h9.1v1h-9.1zM125.97 634.6h9.1v2h-9.1zM125.97 655.6h9.1v3h-9.1zM125.97 664.6h9.1v2h-9.1zM125.97 697.6h9.1v1h-9.1zM125.97 722.6h9.1v1h-9.1zM125.97 726.6h9.1v1h-9.1zM125.97 752.6h9.1v2h-9.1zM135.06 546.6h9.1v2h-9.1zM135.06 664.6h9.1v1h-9.1zM135.06 681.6h9.1v1h-9.1zM135.06 690.6h9.1v1h-9.1zM135.06 717.6h9.1v1h-9.1zM135.06 735.6h9.1v2h-9.1zM135.06 744.6h9.1v1h-9.1zM144.16 499.6h9.1v2h-9.1zM144.16 605.6h9.1v1h-9.1zM144.16 611.6h9.1v1h-9.1zM144.16 614.6h9.1v2h-9.1zM144.16 723.6h9.1v1h-9.1zM144.16 760.6h9.1v1h-9.1zM153.26 681.6h9.1v2h-9.1zM153.26 717.6h9.1v1h-9.1zM153.26 728.6h9.1v2h-9.1zM153.26 751.6h9.1v2h-9.1zM153.26 757.6h9.1v1h-9.1zM162.35 510.6h9.1v2h-9.1zM162.35 582.6h9.1v1h-9.1zM162.35 620.6h9.1v1h-9.1zM162.35 627.6h9.1v2h-9.1zM162.35 642.6h9.1v1h-9.1zM162.35 667.6h9.1v1h-9.1zM162.35 673.6h9.1v2h-9.1zM162.35 685.6h9.1v1h-9.1zM162.35 690.6h9.1v2h-9.1zM162.35 736.6h9.1v1h-9.1zM162.35 752.6h9.1v1h-9.1zM171.45 421.6h9.1v1h-9.1zM171.45 439.6h9.1v1h-9.1zM171.45 449.6h9.1v1h-9.1zM171.45 567.6h9.1v1h-9.1zM171.45 600.6h9.1v1h-9.1zM171.45 636.6h9.1v1h-9.1zM171.45 691.6h9.1v1h-9.1zM171.45 752.6h9.1v1h-9.1zM180.55 413.6h9.1v1h-9.1zM180.55 594.6h9.1v1h-9.1zM180.55 639.6h9.1v1h-9.1zM180.55 641.6h9.1v1h-9.1zM180.55 692.6h9.1v1h-9.1zM189.65 413.6h9.1v1h-9.1zM189.65 514.6h9.1v1h-9.1zM189.65 594.6h9.1v1h-9.1zM189.65 598.6h9.1v1h-9.1zM189.65 600.6h9.1v1h-9.1zM189.65 608.6h9.1v1h-9.1zM189.65 628.6h9.1v1h-9.1zM189.65 673.6h9.1v1h-9.1zM189.65 723.6h9.1v1h-9.1zM198.74 410.6h9.1v1h-9.1zM198.74 488.6h9.1v1h-9.1zM198.74 604.6h9.1v1h-9.1zM198.74 659.6h9.1v1h-9.1zM198.74 676.6h9.1v1h-9.1zM198.74 725.6h9.1v1h-9.1zM198.74 753.6h9.1v3h-9.1zM207.84 509.6h9.1v1h-9.1zM207.84 530.6h9.1v1h-9.1zM207.84 546.6h9.1v1h-9.1zM207.84 567.6h9.1v1h-9.1zM207.84 591.6h9.1v1h-9.1zM207.84 673.6h9.1v1h-9.1zM207.84 678.6h9.1v1h-9.1zM207.84 725.6h9.1v1h-9.1zM207.84 732.6h9.1v1h-9.1zM216.94 391.6h9.1v1h-9.1zM216.94 439.6h9.1v1h-9.1zM216.94 666.6h9.1v1h-9.1zM216.94 761.6h9.1v1h-9.1zM226.03 424.6h9.1v1h-9.1zM226.03 482.6h9.1v1h-9.1zM226.03 544.6h9.1v1h-9.1zM226.03 649.6h9.1v1h-9.1zM226.03 673.6h9.1v1h-9.1zM226.03 680.6h9.1v1h-9.1zM226.03 741.6h9.1v1h-9.1zM235.13 421.6h9.1v1h-9.1zM235.13 594.6h9.1v1h-9.1zM235.13 678.6h9.1v1h-9.1zM235.13 692.6h9.1v1h-9.1zM235.13 709.6h9.1v1h-9.1zM235.13 723.6h9.1v1h-9.1zM235.13 727.6h9.1v1h-9.1zM235.13 750.6h9.1v1h-9.1zM244.23 403.6h9.1v1h-9.1zM244.23 434.6h9.1v1h-9.1zM244.23 582.6h9.1v1h-9.1zM244.23 630.6h9.1v1h-9.1zM244.23 649.6h9.1v1h-9.1zM244.23 666.6h9.1v1h-9.1zM244.23 680.6h9.1v1h-9.1zM244.23 690.6h9.1v1h-9.1zM244.23 750.6h9.1v1h-9.1zM253.32 591.6h9.1v1h-9.1zM253.32 695.6h9.1v1h-9.1zM253.32 727.6h9.1v1h-9.1zM262.42 567.6h9.1v1h-9.1zM262.42 604.6h9.1v1h-9.1zM262.42 750.6h9.1v1h-9.1zM271.52 424.6h9.1v1h-9.1zM271.52 491.6h9.1v1h-9.1zM271.52 509.6h9.1v1h-9.1zM271.52 628.6h9.1v1h-9.1zM271.52 649.6h9.1v1h-9.1zM271.52 666.6h9.1v1h-9.1zM271.52 673.6h9.1v1h-9.1zM271.52 715.6h9.1v1h-9.1zM271.52 741.6h9.1v1h-9.1zM280.61 604.6h9.1v1h-9.1zM280.61 611.6h9.1v1h-9.1zM280.61 734.6h9.1v1h-9.1zM280.61 741.6h9.1v1h-9.1zM289.71 434.6h9.1v1h-9.1zM289.71 544.6h9.1v1h-9.1zM289.71 630.6h9.1v1h-9.1zM289.71 636.6h9.1v1h-9.1zM289.71 663.6h9.1v1h-9.1zM289.71 666.6h9.1v1h-9.1zM289.71 723.6h9.1v1h-9.1zM289.71 727.6h9.1v1h-9.1zM289.71 750.6h9.1v1h-9.1zM298.81 506.6h9.1v3h-9.1zM298.81 511.6h9.1v1h-9.1zM298.81 608.6h9.1v1h-9.1zM298.81 628.6h9.1v1h-9.1zM298.81 649.6h9.1v1h-9.1zM298.81 718.6h9.1v1h-9.1zM298.81 723.6h9.1v1h-9.1zM298.81 725.6h9.1v1h-9.1zM298.81 730.6h9.1v1h-9.1zM298.81 746.6h9.1v1h-9.1zM307.9 417.6h9.1v1h-9.1zM307.9 488.6h9.1v1h-9.1zM307.9 600.6h9.1v1h-9.1zM307.9 614.6h9.1v1h-9.1zM307.9 639.6h9.1v1h-9.1zM307.9 670.6h9.1v1h-9.1zM307.9 676.6h9.1v1h-9.1zM307.9 680.6h9.1v1h-9.1zM307.9 732.6h9.1v1h-9.1z"/><path fill="#004000" d="M35 94.3h9.1v2h-9.1zM35 152.3h9.1v1h-9.1zM35 232.3h9.1v2h-9.1zM35 245.3h9.1v2h-9.1zM35 348.3h9.1v2h-9.1zM35 363.3h9.1v2h-9.1zM44.1 44.3h9.1v1h-9.1zM44.1 76.3h9.1v2h-9.1zM44.1 106.3h9.1v1h-9.1zM44.1 149.3h9.1v2h-9.1zM44.1 180.3h9.1v1h-9.1zM44.1 192.3h9.1v1h-9.1zM44.1 238.3h9.1v1h-9.1zM44.1 240.3h9.1v2h-9.1zM44.1 267.3h9.1v2h-9.1zM44.1 279.3h9.1v1h-9.1zM44.1 290.3h9.1v1h-9.1zM44.1 304.3h9.1v1h-9.1zM44.1 321.3h9.1v2h-9.1zM44.1 334.3h9.1v2h-9.1zM44.1 360.3h9.1v1h-9.1zM53.19 179.3h9.1v2h-9.1zM53.19 263.3h9.1v1h-9.1zM53.19 307.3h9.1v2h-9.1zM53.19 322.3h9.1v2h-9.1zM53.19 329.3h9.1v1h-9.1zM53.19 373.3h9.1v2h-9.1zM62.29 109.3h9.1v1h-9.1zM62.29 192.3h9.1v1h-9.1zM62.29 231.3h9.1v2h-9.1zM62.29 261.3h9.1v2h-9.1zM62.29 270.3h9.1v3h-9.1zM62.29 276.3h9.1v2h-9.1zM62.29 363.3h9.1v2h-9.1zM62.29 383.3h9.1v1h-9.1zM62.29 385.3h9.1v0.9h-9.1zM71.39 97.3h9.1v1h-9.1zM71.39 119.3h9.1v1h-9.1zM71.39 174.3h9.1v3h-9.1zM71.39 184.3h9.1v2h-9.1zM71.39 199.3h9.1v1h-9.1zM71.39 204.3h9.1v1h-9.1zM71.39 209.3h9.1v2h-9.1zM71.39 212.3h9.1v2h-9.1zM71.39 242.3h9.1v4h-9.1zM71.39 275.3h9.1v2h-9.1zM71.39 291.3h9.1v1h-9.1zM71.39 331.3h9.1v2h-9.1zM71.39 338.3h9.1v2h-9.1zM71.39 351.3h9.1v2h-9.1zM144.16 88.3h9.1v1h-9.1zM162.35 184.3h9.1v1h-9.1zM171.45 69.3h9.1v2h-9.1zM171.45 85.3h9.1v1h-9.1zM171.45 99.3h9.1v1h-9.1zM171.45 167.3h9.1v1h-9.1zM171.45 173.3h9.1v1h-9.1zM171.45 206.3h9.1v1h-9.1zM171.45 217.3h9.1v1h-9.1zM171.45 357.3h9.1v1h-9.1zM171.45 375.3h9.1v1h-9.1zM180.55 101.3h9.1v1h-9.1zM180.55 129.3h9.1v1h-9.1zM180.55 189.3h9.1v1h-9.1zM180.55 196.3h9.1v1h-9.1zM180.55 223.3h9.1v1h-9.1zM180.55 321.3h9.1v1h-9.1zM189.65 44.3h9.1v2h-9.1zM189.65 81.3h9.1v1h-9.1zM189.65 101.3h9.1v1h-9.1zM189.65 121.3h9.1v1h-9.1zM189.65 126.3h9.1v1h-9.1zM189.65 135.3h9.1v1h-9.1zM189.65 173.3h9.1v1h-9.1zM189.65 202.3h9.1v1h-9.1zM189.65 317.3h9.1v1h-9.1zM189.65 333.3h9.1v1h-9.1zM198.74 57.3h9.1v3h-9.1zM198.74 81.3h9.1v1h-9.1zM198.74 129.3h9.1v1h-9.1zM198.74 250.3h9.1v1h-9.1zM198.74 287.3h9.1v1h-9.1zM198.74 314.3h9.1v1h-9.1zM198.74 331.3h9.1v1h-9.1zM207.84 75.3h9.1v1h-9.1zM207.84 99.3h9.1v1h-9.1zM207.84 118.3h9.1v1h-9.1zM207.84 126.3h9.1v1h-9.1zM207.84 167.3h9.1v1h-9.1zM207.84 172.3h9.1v1h-9.1zM207.84 255.3h9.1v1h-9.1zM207.84 331.3h9.1v1h-9.1zM207.84 357.3h9.1v1h-9.1zM207.84 364.3h9.1v1h-9.1zM207.84 379.3h9.1v1h-9.1zM216.94 171.3h9.1v1h-9.1zM216.94 217.3h9.1v1h-9.1zM216.94 241.3h9.1v1h-9.1zM216.94 247.3h9.1v1h-9.1zM216.94 382.3h9.1v1h-9.1zM226.03 209.3h9.1v1h-9.1zM226.03 220.3h9.1v1h-9.1zM226.03 244.3h9.1v1h-9.1zM226.03 278.3h9.1v1h-9.1zM226.03 304.3h9.1v1h-9.1zM235.13 46.3h9.1v1h-9.1zM235.13 77.3h9.1v1h-9.1zM235.13 126.3h9.1v1h-9.1zM235.13 129.3h9.1v1h-9.1zM235.13 173.3h9.1v1h-9.1zM235.13 177.3h9.1v1h-9.1zM235.13 182.3h9.1v3h-9.1zM235.13 218.3h9.1v2h-9.1zM235.13 223.3h9.1v1h-9.1zM235.13 247.3h9.1v1h-9.1zM235.13 261.3h9.1v1h-9.1zM235.13 278.3h9.1v1h-9.1zM235.13 338.3h9.1v1h-9.1zM235.13 361.3h9.1v1h-9.1zM235.13 379.3h9.1v1h-9.1zM244.23 43.3h9.1v3h-9.1zM244.23 81.3h9.1v1h-9.1zM244.23 95.3h9.1v1h-9.1zM244.23 129.3h9.1v1h-9.1zM244.23 137.3h9.1v1h-9.1zM244.23 171.3h9.1v1h-9.1zM244.23 177.3h9.1v1h-9.1zM244.23 202.3h9.1v1h-9.1zM244.23 209.3h9.1v1h-9.1zM244.23 372.3h9.1v1h-9.1zM244.23 375.3h9.1v1h-9.1zM244.23 379.3h9.1v1h-9.1zM253.32 60.3h9.1v1h-9.1zM253.32 75.3h9.1v1h-9.1zM253.32 81.3h9.1v1h-9.1zM253.32 115.3h9.1v1h-9.1zM253.32 157.3h9.1v3h-9.1zM253.32 196.3h9.1v1h-9.1zM253.32 261.3h9.1v1h-9.1zM253.32 294.3h9.1v1h-9.1zM253.32 317.3h9.1v1h-9.1zM253.32 364.3h9.1v1h-9.1zM253.32 385.3h9.1v0.9h-9.1zM262.42 39.3h9.1v1h-9.1zM262.42 46.3h9.1v1h-9.1zM262.42 49.3h9.1v1h-9.1zM262.42 66.3h9.1v1h-9.1zM262.42 71.3h9.1v1h-9.1zM262.42 75.3h9.1v1h-9.1zM262.42 81.3h9.1v1h-9.1zM262.42 95.3h9.1v1h-9.1zM262.42 146.3h9.1v1h-9.1zM262.42 284.3h9.1v1h-9.1zM271.52 69.3h9.1v2h-9.1zM271.52 121.3h9.1v1h-9.1zM271.52 126.3h9.1v1h-9.1zM271.52 220.3h9.1v1h-9.1zM271.52 247.3h9.1v1h-9.1zM271.52 255.3h9.1v1h-9.1zM271.52 308.3h9.1v1h-9.1zM280.61 49.3h9.1v1h-9.1zM280.61 85.3h9.1v1h-9.1zM280.61 115.3h9.1v1h-9.1zM280.61 124.3h9.1v1h-9.1zM280.61 135.3h9.1v1h-9.1zM280.61 231.3h9.1v1h-9.1zM280.61 235.3h9.1v1h-9.1zM280.61 250.3h9.1v1h-9.1zM280.61 287.3h9.1v1h-9.1zM280.61 331.3h9.1v1h-9.1zM280.61 338.3h9.1v1h-9.1zM280.61 380.3h9.1v2h-9.1zM289.71 287.3h9.1v1h-9.1zM289.71 331.3h9.1v1h-9.1zM289.71 385.3h9.1v0.9h-9.1zM298.81 44.3h9.1v2h-9.1zM298.81 95.3h9.1v1h-9.1zM298.81 129.3h9.1v1h-9.1zM298.81 212.3h9.1v1h-9.1zM298.81 380.3h9.1v2h-9.1zM307.9 92.3h9.1v1h-9.1zM307.9 177.3h9.1v1h-9.1zM307.9 189.3h9.1v1h-9.1zM307.9 284.3h9.1v1h-9.1zM307.9 287.3h9.1v1h-9.1zM307.9 294.3h9.1v1h-9.1zM307.9 338.3h9.1v1h-9.1zM80.48 496.6h9.1v2h-9.1zM80.48 513.6h9.1v2h-9.1zM80.48 612.6h9.1v1h-9.1zM80.48 666.6h9.1v2h-9.1zM80.48 694.6h9.1v1h-9.1zM80.48 713.6h9.1v1h-9.1zM80.48 737.6h9.1v1h-9.1zM80.48 741.6h9.1v2h-9.1zM80.48 759.6h9.1v1h-9.1zM89.58 521.6h9.1v2h-9.1zM89.58 563.6h9.1v2h-9.1zM89.58 604.6h9.1v1h-9.1zM89.58 645.6h9.1v1h-9.1zM89.58 661.6h9.1v1h-9.1zM89.58 701.6h9.1v2h-9.1zM89.58 756.6h9.1v2h-9.1zM98.68 469.6h9.1v1h-9.1zM98.68 619.6h9.1v2h-9.1zM98.68 660.6h9.1v1h-9.1zM98.68 677.6h9.1v1h-9.1zM98.68 744.6h9.1v2h-9.1zM107.77 478.6h9.1v2h-9.1zM107.77 555.6h9.1v2h-9.1zM107.77 576.6h9.1v1h-9.1zM107.77 589.6h9.1v1h-9.1zM107.77 619.6h9.1v2h-9.1zM107.77 623.6h9.1v2h-9.1zM107.77 639.6h9.1v1h-9.1zM107.77 655.6h9.1v1h-9.1zM107.77 688.6h9.1v1h-9.1zM107.77 706.6h9.1v3h-9.1zM107.77 726.6h9.1v1h-9.1zM107.77 740.6h9.1v1h-9.1zM107.77 749.6h9.1v1h-9.1zM107.77 759.6h9.1v2h-9.1zM116.87 484.6h9.1v1h-9.1zM116.87 500.6h9.1v2h-9.1zM116.87 550.6h9.1v1h-9.1zM116.87 555.6h9.1v1h-9.1zM116.87 673.6h9.1v3h-9.1zM116.87 679.6h9.1v1h-9.1zM116.87 683.6h9.1v1h-9.1zM116.87 722.6h9.1v1h-9.1zM116.87 730.6h9.1v2h-9.1zM116.87 734.6h9.1v1h-9.1zM116.87 738.6h9.1v1h-9.1zM116.87 749.6h9.1v1h-9.1zM116.87 760.6h9.1v2h-9.1zM125.97 420.6h9.1v2h-9.1zM125.97 458.6h9.1v1h-9.1zM125.97 462.6h9.1v1h-9.1zM125.97 486.6h9.1v1h-9.1zM125.97 513.6h9.1v1h-9.1zM125.97 552.6h9.1v1h-9.1zM125.97 563.6h9.1v1h-9.1zM125.97 618.6h9.1v1h-9.1zM125.97 645.6h9.1v2h-9.1zM125.97 658.6h9.1v2h-9.1zM125.97 673.6h9.1v2h-9.1zM125.97 688.6h9.1v1h-9.1zM125.97 698.6h9.1v1h-9.1zM125.97 718.6h9.1v1h-9.1zM125.97 737.6h9.1v2h-9.1zM135.06 595.6h9.1v2h-9.1zM135.06 639.6h9.1v2h-9.1zM135.06 740.6h9.1v1h-9.1zM144.16 462.6h9.1v1h-9.1zM144.16 494.6h9.1v1h-9.1zM144.16 518.6h9.1v1h-9.1zM144.16 659.6h9.1v1h-9.1zM144.16 665.6h9.1v1h-9.1zM144.16 684.6h9.1v1h-9.1zM144.16 700.6h9.1v1h-9.1zM144.16 706.6h9.1v1h-9.1zM144.16 731.6h9.1v1h-9.1zM144.16 748.6h9.1v1h-9.1zM144.16 752.6h9.1v2h-9.1zM153.26 455.6h9.1v1h-9.1zM153.26 474.6h9.1v2h-9.1zM153.26 550.6h9.1v1h-9.1zM153.26 619.6h9.1v1h-9.1zM153.26 704.6h9.1v2h-9.1zM153.26 709.6h9.1v1h-9.1zM153.26 718.6h9.1v1h-9.1zM153.26 740.6h9.1v1h-9.1zM162.35 471.6h9.1v1h-9.1zM162.35 509.6h9.1v1h-9.1zM162.35 552.6h9.1v1h-9.1zM162.35 616.6h9.1v2h-9.1zM162.35 649.6h9.1v1h-9.1zM162.35 740.6h9.1v2h-9.1zM162.35 744.6h9.1v1h-9.1zM162.35 746.6h9.1v2h-9.1zM171.45 391.6h9.1v1h-9.1zM171.45 410.6h9.1v1h-9.1zM171.45 434.6h9.1v1h-9.1zM171.45 482.6h9.1v1h-9.1zM171.45 488.6h9.1v1h-9.1zM171.45 511.6h9.1v1h-9.1zM171.45 521.6h9.1v1h-9.1zM171.45 563.6h9.1v2h-9.1zM171.45 591.6h9.1v1h-9.1zM171.45 678.6h9.1v1h-9.1zM171.45 709.6h9.1v1h-9.1zM171.45 715.6h9.1v1h-9.1zM171.45 737.6h9.1v1h-9.1zM180.55 391.6h9.1v1h-9.1zM180.55 439.6h9.1v1h-9.1zM180.55 491.6h9.1v1h-9.1zM180.55 514.6h9.1v1h-9.1zM180.55 521.6h9.1v1h-9.1zM180.55 530.6h9.1v1h-9.1zM180.55 663.6h9.1v1h-9.1zM180.55 691.6h9.1v1h-9.1zM180.55 734.6h9.1v1h-9.1zM180.55 741.6h9.1v1h-9.1zM189.65 424.6h9.1v1h-9.1zM189.65 434.6h9.1v1h-9.1zM189.65 449.6h9.1v1h-9.1zM189.65 482.6h9.1v1h-9.1zM189.65 509.6h9.1v1h-9.1zM189.65 536.6h9.1v3h-9.1zM189.65 584.6h9.1v1h-9.1zM189.65 666.6h9.1v1h-9.1zM189.65 746.6h9.1v1h-9.1zM189.65 752.6h9.1v1h-9.1zM189.65 761.6h9.1v1h-9.1zM198.74 413.6h9.1v1h-9.1zM198.74 582.6h9.1v1h-9.1zM198.74 611.6h9.1v1h-9.1zM198.74 636.6h9.1v1h-9.1zM198.74 649.6h9.1v1h-9.1zM198.74 690.6h9.1v1h-9.1zM198.74 723.6h9.1v1h-9.1zM198.74 752.6h9.1v1h-9.1zM207.84 439.6h9.1v1h-9.1zM207.84 570.6h9.1v1h-9.1zM207.84 573.6h9.1v1h-9.1zM207.84 584.6h9.1v1h-9.1zM207.84 628.6h9.1v1h-9.1zM207.84 639.6h9.1v1h-9.1zM207.84 663.6h9.1v1h-9.1zM207.84 666.6h9.1v1h-9.1zM207.84 680.6h9.1v1h-9.1zM207.84 741.6h9.1v1h-9.1zM207.84 750.6h9.1v1h-9.1zM216.94 413.6h9.1v1h-9.1zM216.94 424.6h9.1v1h-9.1zM216.94 488.6h9.1v1h-9.1zM216.94 530.6h9.1v1h-9.1zM216.94 563.6h9.1v2h-9.1zM216.94 567.6h9.1v1h-9.1zM216.94 611.6h9.1v1h-9.1zM216.94 614.6h9.1v1h-9.1zM216.94 659.6h9.1v1h-9.1zM216.94 676.6h9.1v1h-9.1zM216.94 680.6h9.1v1h-9.1zM216.94 692.6h9.1v1h-9.1zM216.94 709.6h9.1v1h-9.1zM216.94 727.6h9.1v1h-9.1zM226.03 503.6h9.1v2h-9.1zM226.03 509.6h9.1v1h-9.1zM226.03 584.6h9.1v1h-9.1zM226.03 591.6h9.1v1h-9.1zM226.03 630.6h9.1v1h-9.1zM226.03 695.6h9.1v1h-9.1zM226.03 732.6h9.1v1h-9.1zM235.13 410.6h9.1v1h-9.1zM235.13 413.6h9.1v1h-9.1zM235.13 417.6h9.1v1h-9.1zM235.13 424.6h9.1v1h-9.1zM235.13 591.6h9.1v1h-9.1zM235.13 604.6h9.1v1h-9.1zM235.13 628.6h9.1v1h-9.1zM235.13 636.6h9.1v1h-9.1zM235.13 641.6h9.1v1h-9.1zM235.13 670.6h9.1v1h-9.1zM235.13 720.6h9.1v1h-9.1zM235.13 734.6h9.1v1h-9.1zM235.13 746.6h9.1v1h-9.1zM244.23 439.6h9.1v1h-9.1zM244.23 488.6h9.1v1h-9.1zM244.23 521.6h9.1v1h-9.1zM244.23 591.6h9.1v1h-9.1zM244.23 723.6h9.1v1h-9.1zM244.23 734.6h9.1v1h-9.1zM253.32 521.6h9.1v1h-9.1zM253.32 530.6h9.1v1h-9.1zM253.32 544.6h9.1v1h-9.1zM253.32 594.6h9.1v1h-9.1zM253.32 604.6h9.1v1h-9.1zM253.32 611.6h9.1v1h-9.1zM253.32 666.6h9.1v1h-9.1zM253.32 709.6h9.1v1h-9.1zM253.32 732.6h9.1v1h-9.1zM253.32 734.6h9.1v1h-9.1zM253.32 737.6h9.1v1h-9.1zM253.32 741.6h9.1v1h-9.1zM253.32 750.6h9.1v1h-9.1zM253.32 752.6h9.1v1h-9.1zM262.42 434.6h9.1v1h-9.1zM262.42 482.6h9.1v1h-9.1zM262.42 488.6h9.1v1h-9.1zM262.42 521.6h9.1v1h-9.1zM262.42 584.6h9.1v1h-9.1zM262.42 641.6h9.1v1h-9.1zM262.42 649.6h9.1v1h-9.1zM262.42 699.6h9.1v1h-9.1zM262.42 719.6h9.1v1h-9.1zM271.52 482.6h9.1v1h-9.1zM271.52 536.6h9.1v3h-9.1zM271.52 573.6h9.1v1h-9.1zM271.52 582.6h9.1v1h-9.1zM271.52 591.6h9.1v1h-9.1zM271.52 600.6h9.1v1h-9.1zM271.52 604.6h9.1v1h-9.1zM271.52 615.6h9.1v2h-9.1zM271.52 670.6h9.1v1h-9.1zM271.52 725.6h9.1v1h-9.1zM271.52 727.6h9.1v1h-9.1zM280.61 417.6h9.1v1h-9.1zM280.61 424.6h9.1v1h-9.1zM280.61 482.6h9.1v1h-9.1zM280.61 491.6h9.1v1h-9.1zM280.61 608.6h9.1v1h-9.1zM280.61 666.6h9.1v1h-9.1zM280.61 676.6h9.1v1h-9.1zM280.61 678.6h9.1v1h-9.1zM280.61 695.6h9.1v1h-9.1zM280.61 750.6h9.1v1h-9.1zM280.61 761.6h9.1v1h-9.1zM289.71 511.6h9.1v1h-9.1zM289.71 521.6h9.1v1h-9.1zM289.71 536.6h9.1v3h-9.1zM289.71 628.6h9.1v1h-9.1zM289.71 678.6h9.1v1h-9.1zM289.71 692.6h9.1v1h-9.1zM289.71 695.6h9.1v1h-9.1zM289.71 730.6h9.1v1h-9.1zM298.81 434.6h9.1v1h-9.1zM298.81 625.6h9.1v3h-9.1zM298.81 654.6h9.1v1h-9.1zM298.81 663.6h9.1v1h-9.1zM298.81 741.6h9.1v1h-9.1zM307.9 502.6h9.1v1h-9.1zM307.9 586.6h9.1v3h-9.1zM307.9 654.6h9.1v1h-9.1zM307.9 678.6h9.1v1h-9.1zM307.9 692.6h9.1v1h-9.1zM307.9 723.6h9.1v1h-9.1zM307.9 761.6h9.1v1h-9.1z"/><path fill="#005500" d="M35 118.3h9.1v1h-9.1zM35 213.3h9.1v1h-9.1zM35 234.3h9.1v2h-9.1zM35 302.3h9.1v1h-9.1zM35 319.3h9.1v1h-9.1zM35 340.3h9.1v3h-9.1zM35 360.3h9.1v2h-9.1zM44.1 111.3h9.1v2h-9.1zM44.1 127.3h9.1v2h-9.1zM44.1 168.3h9.1v2h-9.1zM44.1 225.3h9.1v3h-9.1zM44.1 243.3h9.1v1h-9.1zM44.1 251.3h9.1v3h-9.1zM44.1 257.3h9.1v1h-9.1zM44.1 272.3h9.1v2h-9.1zM44.1 305.3h9.1v3h-9.1zM44.1 331.3h9.1v3h-9.1zM44.1 348.3h9.1v1h-9.1zM44.1 364.3h9.1v3h-9.1zM53.19 259.3h9.1v1h-9.1zM53.19 281.3h9.1v1h-9.1zM53.19 285.3h9.1v2h-9.1zM53.19 335.3h9.1v2h-9.1zM53.19 360.3h9.1v5h-9.1zM62.29 165.3h9.1v1h-9.1zM62.29 200.3h9.1v1h-9.1zM62.29 217.3h9.1v2h-9.1zM62.29 348.3h9.1v3h-9.1zM71.39 108.3h9.1v1h-9.1zM71.39 128.3h9.1v1h-9.1zM71.39 142.3h9.1v1h-9.1zM71.39 167.3h9.1v1h-9.1zM71.39 197.3h9.1v2h-9.1zM71.39 200.3h9.1v4h-9.1zM71.39 294.3h9.1v1h-9.1zM89.58 164.3h9.1v1h-9.1zM89.58 324.3h9.1v2h-9.1zM116.87 245.3h9.1v2h-9.1zM144.16 51.3h9.1v1h-9.1zM144.16 181.3h9.1v1h-9.1zM153.26 92.3h9.1v2h-9.1zM171.45 43.3h9.1v1h-9.1zM171.45 181.3h9.1v1h-9.1zM171.45 202.3h9.1v1h-9.1zM171.45 287.3h9.1v1h-9.1zM171.45 289.3h9.1v1h-9.1zM171.45 296.3h9.1v1h-9.1zM171.45 314.3h9.1v1h-9.1zM171.45 332.3h9.1v1h-9.1zM171.45 350.3h9.1v2h-9.1zM171.45 372.3h9.1v1h-9.1zM171.45 378.3h9.1v1h-9.1zM180.55 68.3h9.1v3h-9.1zM180.55 81.3h9.1v1h-9.1zM180.55 314.3h9.1v1h-9.1zM180.55 338.3h9.1v1h-9.1zM180.55 357.3h9.1v1h-9.1zM189.65 43.3h9.1v1h-9.1zM189.65 168.3h9.1v3h-9.1zM189.65 220.3h9.1v1h-9.1zM189.65 247.3h9.1v1h-9.1zM189.65 278.3h9.1v1h-9.1zM189.65 367.3h9.1v1h-9.1zM189.65 379.3h9.1v1h-9.1zM198.74 167.3h9.1v1h-9.1zM198.74 196.3h9.1v1h-9.1zM198.74 244.3h9.1v1h-9.1zM198.74 324.3h9.1v1h-9.1zM198.74 326.3h9.1v1h-9.1zM198.74 329.3h9.1v2h-9.1zM198.74 338.3h9.1v1h-9.1zM198.74 340.3h9.1v1h-9.1zM198.74 380.3h9.1v2h-9.1zM207.84 44.3h9.1v2h-9.1zM207.84 57.3h9.1v3h-9.1zM207.84 121.3h9.1v1h-9.1zM207.84 218.3h9.1v2h-9.1zM207.84 250.3h9.1v1h-9.1zM207.84 261.3h9.1v1h-9.1zM207.84 294.3h9.1v1h-9.1zM207.84 372.3h9.1v1h-9.1zM207.84 382.3h9.1v1h-9.1zM216.94 44.3h9.1v2h-9.1zM216.94 49.3h9.1v1h-9.1zM216.94 96.3h9.1v3h-9.1zM216.94 135.3h9.1v1h-9.1zM216.94 235.3h9.1v1h-9.1zM216.94 289.3h9.1v1h-9.1zM226.03 57.3h9.1v3h-9.1zM226.03 71.3h9.1v1h-9.1zM226.03 177.3h9.1v1h-9.1zM226.03 206.3h9.1v1h-9.1zM226.03 255.3h9.1v1h-9.1zM226.03 289.3h9.1v1h-9.1zM226.03 314.3h9.1v1h-9.1zM226.03 345.3h9.1v1h-9.1zM226.03 364.3h9.1v1h-9.1zM226.03 385.3h9.1v0.9h-9.1zM235.13 44.3h9.1v2h-9.1zM235.13 68.3h9.1v1h-9.1zM235.13 115.3h9.1v1h-9.1zM235.13 118.3h9.1v1h-9.1zM235.13 149.3h9.1v1h-9.1zM235.13 171.3h9.1v1h-9.1zM235.13 380.3h9.1v2h-9.1zM244.23 96.3h9.1v3h-9.1zM244.23 101.3h9.1v1h-9.1zM244.23 124.3h9.1v1h-9.1zM244.23 142.3h9.1v1h-9.1zM244.23 210.3h9.1v3h-9.1zM244.23 247.3h9.1v1h-9.1zM253.32 99.3h9.1v1h-9.1zM253.32 180.3h9.1v1h-9.1zM253.32 284.3h9.1v1h-9.1zM253.32 304.3h9.1v1h-9.1zM253.32 314.3h9.1v1h-9.1zM253.32 345.3h9.1v1h-9.1zM253.32 375.3h9.1v1h-9.1zM262.42 44.3h9.1v2h-9.1zM262.42 77.3h9.1v1h-9.1zM262.42 85.3h9.1v1h-9.1zM262.42 101.3h9.1v1h-9.1zM262.42 164.3h9.1v2h-9.1zM262.42 168.3h9.1v3h-9.1zM262.42 189.3h9.1v1h-9.1zM262.42 206.3h9.1v1h-9.1zM262.42 235.3h9.1v1h-9.1zM262.42 336.3h9.1v2h-9.1zM262.42 340.3h9.1v1h-9.1zM262.42 373.3h9.1v2h-9.1zM271.52 44.3h9.1v3h-9.1zM271.52 75.3h9.1v1h-9.1zM271.52 244.3h9.1v1h-9.1zM271.52 296.3h9.1v1h-9.1zM271.52 379.3h9.1v1h-9.1zM280.61 57.3h9.1v3h-9.1zM280.61 154.3h9.1v3h-9.1zM280.61 164.3h9.1v2h-9.1zM280.61 217.3h9.1v1h-9.1zM280.61 357.3h9.1v1h-9.1zM280.61 361.3h9.1v1h-9.1zM280.61 373.3h9.1v3h-9.1zM289.71 43.3h9.1v3h-9.1zM289.71 75.3h9.1v1h-9.1zM289.71 235.3h9.1v1h-9.1zM289.71 296.3h9.1v1h-9.1zM289.71 340.3h9.1v1h-9.1zM289.71 375.3h9.1v1h-9.1zM298.81 81.3h9.1v1h-9.1zM298.81 107.3h9.1v2h-9.1zM298.81 115.3h9.1v1h-9.1zM298.81 135.3h9.1v1h-9.1zM298.81 164.3h9.1v2h-9.1zM298.81 218.3h9.1v2h-9.1zM298.81 241.3h9.1v1h-9.1zM298.81 247.3h9.1v1h-9.1zM298.81 297.3h9.1v1h-9.1zM298.81 340.3h9.1v1h-9.1zM298.81 382.3h9.1v1h-9.1zM307.9 46.3h9.1v1h-9.1zM307.9 118.3h9.1v1h-9.1zM307.9 161.3h9.1v3h-9.1zM307.9 324.3h9.1v1h-9.1zM307.9 334.3h9.1v2h-9.1zM307.9 373.3h9.1v3h-9.1zM307.9 382.3h9.1v1h-9.1zM80.48 468.6h9.1v1h-9.1zM80.48 505.6h9.1v1h-9.1zM80.48 520.6h9.1v1h-9.1zM80.48 531.6h9.1v1h-9.1zM80.48 545.6h9.1v1h-9.1zM80.48 598.6h9.1v2h-9.1zM80.48 619.6h9.1v2h-9.1zM80.48 655.6h9.1v2h-9.1zM80.48 690.6h9.1v2h-9.1zM80.48 714.6h9.1v2h-9.1zM80.48 719.6h9.1v2h-9.1zM80.48 738.6h9.1v1h-9.1zM89.58 544.6h9.1v2h-9.1zM89.58 559.6h9.1v1h-9.1zM89.58 651.6h9.1v1h-9.1zM89.58 653.6h9.1v1h-9.1zM89.58 658.6h9.1v1h-9.1zM89.58 668.6h9.1v1h-9.1zM89.58 694.6h9.1v1h-9.1zM89.58 699.6h9.1v1h-9.1zM89.58 717.6h9.1v1h-9.1zM89.58 734.6h9.1v2h-9.1zM98.68 433.6h9.1v1h-9.1zM98.68 539.6h9.1v1h-9.1zM98.68 570.6h9.1v2h-9.1zM98.68 604.6h9.1v2h-9.1zM98.68 647.6h9.1v1h-9.1zM98.68 666.6h9.1v2h-9.1zM98.68 671.6h9.1v2h-9.1zM98.68 694.6h9.1v1h-9.1zM98.68 727.6h9.1v2h-9.1zM98.68 735.6h9.1v1h-9.1zM98.68 751.6h9.1v2h-9.1zM107.77 518.6h9.1v1h-9.1zM107.77 551.6h9.1v2h-9.1zM107.77 569.6h9.1v2h-9.1zM107.77 584.6h9.1v2h-9.1zM107.77 602.6h9.1v1h-9.1zM107.77 610.6h9.1v1h-9.1zM107.77 645.6h9.1v2h-9.1zM107.77 652.6h9.1v2h-9.1zM107.77 656.6h9.1v1h-9.1zM107.77 718.6h9.1v1h-9.1zM107.77 725.6h9.1v1h-9.1zM107.77 752.6h9.1v1h-9.1zM116.87 454.6h9.1v1h-9.1zM116.87 470.6h9.1v1h-9.1zM116.87 579.6h9.1v1h-9.1zM116.87 592.6h9.1v2h-9.1zM116.87 699.6h9.1v2h-9.1zM116.87 735.6h9.1v1h-9.1zM116.87 758.6h9.1v1h-9.1zM125.97 461.6h9.1v1h-9.1zM125.97 483.6h9.1v1h-9.1zM125.97 536.6h9.1v1h-9.1zM125.97 560.6h9.1v1h-9.1zM125.97 616.6h9.1v1h-9.1zM125.97 624.6h9.1v1h-9.1zM125.97 631.6h9.1v2h-9.1zM125.97 680.6h9.1v2h-9.1zM125.97 708.6h9.1v1h-9.1zM125.97 710.6h9.1v2h-9.1zM135.06 432.6h9.1v2h-9.1zM135.06 587.6h9.1v1h-9.1zM135.06 609.6h9.1v1h-9.1zM135.06 646.6h9.1v2h-9.1zM135.06 673.6h9.1v1h-9.1zM135.06 698.6h9.1v2h-9.1zM144.16 546.6h9.1v1h-9.1zM144.16 600.6h9.1v1h-9.1zM144.16 626.6h9.1v1h-9.1zM144.16 712.6h9.1v1h-9.1zM144.16 716.6h9.1v1h-9.1zM144.16 747.6h9.1v1h-9.1zM144.16 755.6h9.1v1h-9.1zM153.26 464.6h9.1v1h-9.1zM153.26 468.6h9.1v1h-9.1zM153.26 579.6h9.1v2h-9.1zM153.26 614.6h9.1v2h-9.1zM153.26 643.6h9.1v2h-9.1zM153.26 646.6h9.1v1h-9.1zM153.26 659.6h9.1v2h-9.1zM153.26 668.6h9.1v2h-9.1zM153.26 706.6h9.1v3h-9.1zM153.26 722.6h9.1v1h-9.1zM153.26 754.6h9.1v2h-9.1zM153.26 762.6h9.1v0.8h-9.1zM162.35 464.6h9.1v1h-9.1zM162.35 477.6h9.1v2h-9.1zM162.35 560.6h9.1v1h-9.1zM162.35 643.6h9.1v1h-9.1zM162.35 654.6h9.1v2h-9.1zM162.35 686.6h9.1v2h-9.1zM171.45 530.6h9.1v1h-9.1zM171.45 640.6h9.1v1h-9.1zM171.45 659.6h9.1v1h-9.1zM171.45 670.6h9.1v1h-9.1zM171.45 679.6h9.1v1h-9.1zM171.45 695.6h9.1v1h-9.1zM171.45 723.6h9.1v1h-9.1zM171.45 761.6h9.1v1h-9.1zM180.55 482.6h9.1v1h-9.1zM180.55 695.6h9.1v1h-9.1zM189.65 511.6h9.1v1h-9.1zM189.65 573.6h9.1v1h-9.1zM189.65 582.6h9.1v1h-9.1zM189.65 614.6h9.1v1h-9.1zM189.65 659.6h9.1v1h-9.1zM189.65 692.6h9.1v1h-9.1zM198.74 391.6h9.1v1h-9.1zM198.74 434.6h9.1v1h-9.1zM198.74 514.6h9.1v1h-9.1zM198.74 521.6h9.1v1h-9.1zM198.74 699.6h9.1v1h-9.1zM198.74 732.6h9.1v1h-9.1zM207.84 594.6h9.1v1h-9.1zM207.84 598.6h9.1v1h-9.1zM207.84 647.6h9.1v2h-9.1zM207.84 690.6h9.1v1h-9.1zM207.84 695.6h9.1v1h-9.1zM216.94 417.6h9.1v1h-9.1zM216.94 527.6h9.1v3h-9.1zM216.94 663.6h9.1v1h-9.1zM216.94 700.6h9.1v2h-9.1zM216.94 725.6h9.1v1h-9.1zM216.94 730.6h9.1v1h-9.1zM216.94 746.6h9.1v1h-9.1zM226.03 410.6h9.1v1h-9.1zM226.03 430.6h9.1v2h-9.1zM226.03 521.6h9.1v1h-9.1zM226.03 582.6h9.1v1h-9.1zM226.03 598.6h9.1v1h-9.1zM226.03 663.6h9.1v1h-9.1zM226.03 723.6h9.1v1h-9.1zM226.03 730.6h9.1v1h-9.1zM226.03 737.6h9.1v1h-9.1zM235.13 536.6h9.1v3h-9.1zM235.13 544.6h9.1v1h-9.1zM235.13 570.6h9.1v1h-9.1zM235.13 598.6h9.1v1h-9.1zM235.13 643.6h9.1v2h-9.1zM235.13 649.6h9.1v1h-9.1zM235.13 663.6h9.1v1h-9.1zM235.13 680.6h9.1v1h-9.1zM235.13 719.6h9.1v1h-9.1zM235.13 761.6h9.1v1h-9.1zM244.23 449.6h9.1v1h-9.1zM244.23 536.6h9.1v3h-9.1zM244.23 563.6h9.1v2h-9.1zM244.23 584.6h9.1v1h-9.1zM244.23 600.6h9.1v1h-9.1zM244.23 604.6h9.1v1h-9.1zM244.23 639.6h9.1v1h-9.1zM244.23 641.6h9.1v1h-9.1zM244.23 676.6h9.1v1h-9.1zM244.23 727.6h9.1v1h-9.1zM244.23 732.6h9.1v1h-9.1zM244.23 752.6h9.1v1h-9.1zM253.32 424.6h9.1v1h-9.1zM253.32 511.6h9.1v1h-9.1zM253.32 514.6h9.1v1h-9.1zM253.32 546.6h9.1v1h-9.1zM253.32 649.6h9.1v1h-9.1zM253.32 654.6h9.1v1h-9.1zM262.42 518.6h9.1v1h-9.1zM262.42 563.6h9.1v2h-9.1zM262.42 582.6h9.1v1h-9.1zM262.42 600.6h9.1v1h-9.1zM262.42 654.6h9.1v1h-9.1zM262.42 709.6h9.1v1h-9.1zM262.42 738.6h9.1v4h-9.1zM262.42 752.6h9.1v1h-9.1zM271.52 539.6h9.1v2h-9.1zM271.52 567.6h9.1v1h-9.1zM271.52 614.6h9.1v1h-9.1zM271.52 659.6h9.1v1h-9.1zM271.52 676.6h9.1v1h-9.1zM271.52 709.6h9.1v1h-9.1zM271.52 752.6h9.1v1h-9.1zM280.61 573.6h9.1v1h-9.1zM280.61 628.6h9.1v1h-9.1zM280.61 641.6h9.1v1h-9.1zM280.61 712.6h9.1v3h-9.1zM289.71 417.6h9.1v1h-9.1zM289.71 421.6h9.1v1h-9.1zM289.71 439.6h9.1v1h-9.1zM289.71 685.6h9.1v2h-9.1zM289.71 752.6h9.1v1h-9.1zM289.71 761.6h9.1v1h-9.1zM298.81 413.6h9.1v1h-9.1zM298.81 488.6h9.1v1h-9.1zM298.81 565.6h9.1v1h-9.1zM298.81 579.6h9.1v3h-9.1zM298.81 598.6h9.1v1h-9.1zM298.81 600.6h9.1v1h-9.1zM298.81 664.6h9.1v2h-9.1zM298.81 692.6h9.1v1h-9.1zM298.81 738.6h9.1v3h-9.1zM307.9 536.6h9.1v3h-9.1zM307.9 594.6h9.1v1h-9.1zM307.9 620.6h9.1v2h-9.1zM307.9 630.6h9.1v1h-9.1zM307.9 690.6h9.1v1h-9.1zM307.9 709.6h9.1v1h-9.1zM307.9 752.6h9.1v1h-9.1z"/><path fill="#006a00" d="M35 141.3h9.1v2h-9.1zM35 252.3h9.1v2h-9.1zM35 279.3h9.1v2h-9.1zM35 290.3h9.1v4h-9.1zM35 336.3h9.1v1h-9.1zM35 345.3h9.1v3h-9.1zM35 383.3h9.1v1h-9.1zM44.1 85.3h9.1v1h-9.1zM44.1 133.3h9.1v1h-9.1zM44.1 136.3h9.1v2h-9.1zM44.1 259.3h9.1v1h-9.1zM44.1 286.3h9.1v3h-9.1zM44.1 302.3h9.1v2h-9.1zM44.1 313.3h9.1v2h-9.1zM44.1 323.3h9.1v2h-9.1zM44.1 328.3h9.1v3h-9.1zM44.1 361.3h9.1v3h-9.1zM53.19 223.3h9.1v2h-9.1zM53.19 280.3h9.1v1h-9.1zM53.19 353.3h9.1v1h-9.1zM53.19 357.3h9.1v3h-9.1zM53.19 384.3h9.1v1.9h-9.1zM62.29 190.3h9.1v2h-9.1zM62.29 293.3h9.1v1h-9.1zM62.29 381.3h9.1v1h-9.1zM71.39 82.3h9.1v2h-9.1zM71.39 158.3h9.1v2h-9.1zM71.39 220.3h9.1v1h-9.1zM71.39 356.3h9.1v3h-9.1zM116.87 344.3h9.1v2h-9.1zM144.16 35.3h9.1v1h-9.1zM171.45 373.3h9.1v2h-9.1zM180.55 44.3h9.1v2h-9.1zM180.55 67.3h9.1v1h-9.1zM180.55 96.3h9.1v3h-9.1zM180.55 218.3h9.1v2h-9.1zM180.55 364.3h9.1v1h-9.1zM189.65 150.3h9.1v2h-9.1zM189.65 339.3h9.1v1h-9.1zM189.65 373.3h9.1v2h-9.1zM198.74 101.3h9.1v1h-9.1zM198.74 218.3h9.1v2h-9.1zM198.74 285.3h9.1v2h-9.1zM207.84 368.3h9.1v3h-9.1zM216.94 164.3h9.1v2h-9.1zM216.94 379.3h9.1v3h-9.1zM235.13 154.3h9.1v3h-9.1zM235.13 207.3h9.1v2h-9.1zM244.23 57.3h9.1v3h-9.1zM244.23 272.3h9.1v2h-9.1zM253.32 57.3h9.1v3h-9.1zM262.42 57.3h9.1v3h-9.1zM262.42 218.3h9.1v2h-9.1zM262.42 324.3h9.1v1h-9.1zM271.52 295.3h9.1v1h-9.1zM280.61 332.3h9.1v1h-9.1zM307.9 218.3h9.1v2h-9.1zM307.9 248.3h9.1v2h-9.1zM35 715.6h9.1v2h-9.1zM80.48 400.6h9.1v1h-9.1zM80.48 522.6h9.1v1h-9.1zM80.48 542.6h9.1v1h-9.1zM80.48 624.6h9.1v1h-9.1zM80.48 678.6h9.1v2h-9.1zM80.48 697.6h9.1v1h-9.1zM80.48 709.6h9.1v2h-9.1zM80.48 716.6h9.1v1h-9.1zM80.48 734.6h9.1v1h-9.1zM80.48 747.6h9.1v2h-9.1zM80.48 754.6h9.1v1h-9.1zM89.58 391.6h9.1v1h-9.1zM89.58 633.6h9.1v2h-9.1zM89.58 716.6h9.1v1h-9.1zM89.58 731.6h9.1v2h-9.1zM89.58 747.6h9.1v2h-9.1zM98.68 472.6h9.1v2h-9.1zM98.68 535.6h9.1v1h-9.1zM98.68 543.6h9.1v2h-9.1zM98.68 681.6h9.1v1h-9.1zM98.68 717.6h9.1v2h-9.1zM107.77 539.6h9.1v1h-9.1zM107.77 642.6h9.1v1h-9.1zM107.77 704.6h9.1v2h-9.1zM116.87 452.6h9.1v2h-9.1zM116.87 472.6h9.1v1h-9.1zM116.87 508.6h9.1v2h-9.1zM116.87 576.6h9.1v1h-9.1zM116.87 649.6h9.1v1h-9.1zM116.87 692.6h9.1v2h-9.1zM116.87 713.6h9.1v2h-9.1zM116.87 743.6h9.1v3h-9.1zM116.87 747.6h9.1v2h-9.1zM116.87 752.6h9.1v2h-9.1zM116.87 756.6h9.1v2h-9.1zM125.97 467.6h9.1v1h-9.1zM125.97 747.6h9.1v2h-9.1zM125.97 754.6h9.1v2h-9.1zM125.97 759.6h9.1v2h-9.1zM135.06 423.6h9.1v2h-9.1zM135.06 553.6h9.1v1h-9.1zM135.06 605.6h9.1v1h-9.1zM135.06 701.6h9.1v2h-9.1zM135.06 705.6h9.1v1h-9.1zM135.06 715.6h9.1v2h-9.1zM135.06 719.6h9.1v2h-9.1zM135.06 734.6h9.1v1h-9.1zM135.06 749.6h9.1v1h-9.1zM135.06 757.6h9.1v2h-9.1zM144.16 421.6h9.1v1h-9.1zM144.16 467.6h9.1v1h-9.1zM144.16 523.6h9.1v1h-9.1zM144.16 621.6h9.1v1h-9.1zM144.16 627.6h9.1v1h-9.1zM144.16 632.6h9.1v1h-9.1zM144.16 689.6h9.1v1h-9.1zM144.16 728.6h9.1v1h-9.1zM144.16 740.6h9.1v1h-9.1zM153.26 488.6h9.1v2h-9.1zM153.26 558.6h9.1v2h-9.1zM153.26 600.6h9.1v2h-9.1zM153.26 663.6h9.1v1h-9.1zM153.26 694.6h9.1v2h-9.1zM153.26 735.6h9.1v1h-9.1zM153.26 759.6h9.1v1h-9.1zM162.35 474.6h9.1v2h-9.1zM162.35 624.6h9.1v2h-9.1zM162.35 633.6h9.1v3h-9.1zM162.35 756.6h9.1v2h-9.1zM162.35 759.6h9.1v1h-9.1zM171.45 430.6h9.1v2h-9.1zM171.45 583.6h9.1v1h-9.1zM180.55 506.6h9.1v3h-9.1zM180.55 536.6h9.1v3h-9.1zM180.55 545.6h9.1v1h-9.1zM180.55 563.6h9.1v2h-9.1zM207.84 506.6h9.1v3h-9.1zM216.94 506.6h9.1v3h-9.1zM216.94 536.6h9.1v3h-9.1zM216.94 605.6h9.1v2h-9.1zM226.03 536.6h9.1v3h-9.1zM226.03 605.6h9.1v2h-9.1zM226.03 666.6h9.1v1h-9.1zM235.13 577.6h9.1v2h-9.1zM244.23 432.6h9.1v2h-9.1zM244.23 483.6h9.1v2h-9.1zM253.32 563.6h9.1v2h-9.1zM253.32 609.6h9.1v2h-9.1zM262.42 698.6h9.1v1h-9.1zM262.42 727.6h9.1v1h-9.1zM271.52 696.6h9.1v2h-9.1zM298.81 557.6h9.1v3h-9.1zM298.81 724.6h9.1v1h-9.1zM307.9 506.6h9.1v3h-9.1z"/><path fill="#008000" d="M35 229.3h9.1v3h-9.1zM35 238.3h9.1v3h-9.1zM35 254.3h9.1v3h-9.1zM35 263.3h9.1v3h-9.1zM35 268.3h9.1v2h-9.1zM35 323.3h9.1v2h-9.1zM35 331.3h9.1v5h-9.1zM35 344.3h9.1v1h-9.1zM35 356.3h9.1v1h-9.1zM35 373.3h9.1v1h-9.1zM35 378.3h9.1v2h-9.1zM44.1 220.3h9.1v2h-9.1zM44.1 258.3h9.1v1h-9.1zM44.1 270.3h9.1v2h-9.1zM44.1 274.3h9.1v2h-9.1zM44.1 278.3h9.1v1h-9.1zM44.1 294.3h9.1v2h-9.1zM44.1 299.3h9.1v3h-9.1zM44.1 316.3h9.1v2h-9.1zM44.1 353.3h9.1v1h-9.1zM44.1 373.3h9.1v4h-9.1zM53.19 295.3h9.1v2h-9.1zM53.19 352.3h9.1v1h-9.1zM53.19 375.3h9.1v2h-9.1zM62.29 219.3h9.1v2h-9.1zM62.29 222.3h9.1v1h-9.1zM62.29 235.3h9.1v3h-9.1zM62.29 264.3h9.1v3h-9.1zM62.29 273.3h9.1v3h-9.1zM62.29 301.3h9.1v1h-9.1zM62.29 309.3h9.1v3h-9.1zM62.29 314.3h9.1v3h-9.1zM62.29 326.3h9.1v1h-9.1zM62.29 337.3h9.1v1h-9.1zM62.29 342.3h9.1v2h-9.1zM62.29 355.3h9.1v2h-9.1zM62.29 359.3h9.1v4h-9.1zM62.29 365.3h9.1v2h-9.1zM62.29 375.3h9.1v2h-9.1zM62.29 380.3h9.1v1h-9.1zM62.29 382.3h9.1v1h-9.1zM71.39 166.3h9.1v1h-9.1zM71.39 177.3h9.1v3h-9.1zM71.39 262.3h9.1v2h-9.1zM71.39 288.3h9.1v3h-9.1zM116.87 353.3h9.1v2h-9.1zM144.16 64.3h9.1v1h-9.1zM144.16 86.3h9.1v2h-9.1zM144.16 128.3h9.1v2h-9.1zM144.16 138.3h9.1v2h-9.1zM144.16 247.3h9.1v1h-9.1zM171.45 132.3h9.1v2h-9.1zM171.45 150.3h9.1v2h-9.1zM171.45 218.3h9.1v2h-9.1zM171.45 259.3h9.1v2h-9.1zM180.55 57.3h9.1v3h-9.1zM180.55 150.3h9.1v2h-9.1zM180.55 332.3h9.1v1h-9.1zM189.65 72.3h9.1v1h-9.1zM198.74 164.3h9.1v3h-9.1zM198.74 355.3h9.1v2h-9.1zM207.84 150.3h9.1v2h-9.1zM207.84 164.3h9.1v2h-9.1zM207.84 207.3h9.1v2h-9.1zM207.84 297.3h9.1v1h-9.1zM207.84 346.3h9.1v3h-9.1zM207.84 380.3h9.1v2h-9.1zM216.94 150.3h9.1v2h-9.1zM216.94 344.3h9.1v1h-9.1zM216.94 373.3h9.1v2h-9.1zM226.03 132.3h9.1v2h-9.1zM226.03 150.3h9.1v2h-9.1zM226.03 311.3h9.1v2h-9.1zM226.03 324.3h9.1v1h-9.1zM235.13 175.3h9.1v2h-9.1zM235.13 234.3h9.1v1h-9.1zM235.13 365.3h9.1v2h-9.1zM244.23 196.3h9.1v1h-9.1zM244.23 329.3h9.1v2h-9.1zM244.23 380.3h9.1v2h-9.1zM253.32 150.3h9.1v2h-9.1zM253.32 248.3h9.1v2h-9.1zM262.42 150.3h9.1v2h-9.1zM262.42 175.3h9.1v2h-9.1zM271.52 150.3h9.1v2h-9.1zM271.52 164.3h9.1v2h-9.1zM280.61 100.3h9.1v1h-9.1zM280.61 218.3h9.1v2h-9.1zM289.71 373.3h9.1v2h-9.1zM298.81 150.3h9.1v2h-9.1zM298.81 180.3h9.1v1h-9.1zM298.81 313.3h9.1v1h-9.1zM307.9 80.3h9.1v1h-9.1zM307.9 332.3h9.1v1h-9.1zM307.9 360.3h9.1v1h-9.1zM80.48 419.6h9.1v1h-9.1zM80.48 618.6h9.1v1h-9.1zM80.48 636.6h9.1v2h-9.1zM80.48 647.6h9.1v2h-9.1zM80.48 682.6h9.1v2h-9.1zM80.48 699.6h9.1v1h-9.1zM80.48 703.6h9.1v1h-9.1zM80.48 739.6h9.1v2h-9.1zM80.48 758.6h9.1v1h-9.1zM89.58 588.6h9.1v2h-9.1zM89.58 647.6h9.1v2h-9.1zM89.58 650.6h9.1v1h-9.1zM89.58 673.6h9.1v2h-9.1zM89.58 682.6h9.1v1h-9.1zM89.58 689.6h9.1v1h-9.1zM89.58 703.6h9.1v4h-9.1zM89.58 712.6h9.1v4h-9.1zM89.58 723.6h9.1v4h-9.1zM89.58 738.6h9.1v2h-9.1zM89.58 742.6h9.1v2h-9.1zM98.68 669.6h9.1v2h-9.1zM98.68 679.6h9.1v2h-9.1zM98.68 700.6h9.1v4h-9.1zM98.68 713.6h9.1v2h-9.1zM98.68 732.6h9.1v1h-9.1zM98.68 739.6h9.1v1h-9.1zM98.68 748.6h9.1v1h-9.1zM98.68 750.6h9.1v1h-9.1zM98.68 762.6h9.1v0.8h-9.1zM107.77 626.6h9.1v2h-9.1zM107.77 657.6h9.1v2h-9.1zM107.77 670.6h9.1v1h-9.1zM107.77 679.6h9.1v1h-9.1zM107.77 694.6h9.1v1h-9.1zM107.77 700.6h9.1v2h-9.1zM107.77 709.6h9.1v1h-9.1zM107.77 714.6h9.1v1h-9.1zM107.77 723.6h9.1v1h-9.1zM107.77 729.6h9.1v2h-9.1zM107.77 737.6h9.1v1h-9.1zM107.77 743.6h9.1v3h-9.1zM107.77 753.6h9.1v2h-9.1zM107.77 757.6h9.1v2h-9.1zM107.77 761.6h9.1v1.8h-9.1zM116.87 653.6h9.1v1h-9.1zM116.87 661.6h9.1v1h-9.1zM116.87 680.6h9.1v1h-9.1zM116.87 688.6h9.1v2h-9.1zM116.87 698.6h9.1v1h-9.1zM116.87 712.6h9.1v1h-9.1zM116.87 717.6h9.1v2h-9.1zM125.97 480.6h9.1v1h-9.1zM125.97 578.6h9.1v2h-9.1zM125.97 615.6h9.1v1h-9.1zM125.97 638.6h9.1v2h-9.1zM125.97 653.6h9.1v2h-9.1zM125.97 662.6h9.1v1h-9.1zM125.97 668.6h9.1v1h-9.1zM125.97 672.6h9.1v1h-9.1zM125.97 682.6h9.1v2h-9.1zM125.97 687.6h9.1v1h-9.1zM125.97 713.6h9.1v2h-9.1zM125.97 741.6h9.1v2h-9.1zM135.06 672.6h9.1v1h-9.1zM135.06 684.6h9.1v1h-9.1zM135.06 700.6h9.1v1h-9.1zM135.06 703.6h9.1v2h-9.1zM135.06 706.6h9.1v1h-9.1zM135.06 721.6h9.1v1h-9.1zM135.06 730.6h9.1v2h-9.1zM135.06 737.6h9.1v1h-9.1zM144.16 610.6h9.1v1h-9.1zM144.16 652.6h9.1v1h-9.1zM144.16 680.6h9.1v2h-9.1zM144.16 691.6h9.1v1h-9.1zM144.16 696.6h9.1v1h-9.1zM144.16 734.6h9.1v4h-9.1zM144.16 749.6h9.1v1h-9.1zM144.16 756.6h9.1v1h-9.1zM153.26 528.6h9.1v1h-9.1zM153.26 661.6h9.1v2h-9.1zM153.26 671.6h9.1v1h-9.1zM153.26 698.6h9.1v2h-9.1zM153.26 701.6h9.1v1h-9.1zM153.26 711.6h9.1v1h-9.1zM153.26 715.6h9.1v2h-9.1zM153.26 719.6h9.1v2h-9.1zM153.26 726.6h9.1v2h-9.1zM153.26 749.6h9.1v2h-9.1zM153.26 756.6h9.1v1h-9.1zM153.26 758.6h9.1v1h-9.1zM162.35 597.6h9.1v2h-9.1zM162.35 608.6h9.1v1h-9.1zM162.35 621.6h9.1v2h-9.1zM162.35 638.6h9.1v1h-9.1zM162.35 646.6h9.1v1h-9.1zM162.35 651.6h9.1v1h-9.1zM162.35 695.6h9.1v2h-9.1zM162.35 702.6h9.1v3h-9.1zM162.35 707.6h9.1v2h-9.1zM162.35 723.6h9.1v2h-9.1zM162.35 726.6h9.1v1h-9.1zM162.35 760.6h9.1v1h-9.1zM162.35 762.6h9.1v0.8h-9.1zM180.55 595.6h9.1v2h-9.1zM189.65 518.6h9.1v1h-9.1zM189.65 733.6h9.1v1h-9.1zM198.74 471.6h9.1v1h-9.1zM198.74 503.6h9.1v2h-9.1zM198.74 724.6h9.1v1h-9.1zM198.74 733.6h9.1v1h-9.1zM216.94 471.6h9.1v1h-9.1zM216.94 545.6h9.1v1h-9.1zM216.94 696.6h9.1v2h-9.1zM216.94 751.6h9.1v1h-9.1zM226.03 633.6h9.1v3h-9.1zM226.03 662.6h9.1v1h-9.1zM235.13 480.6h9.1v2h-9.1zM244.23 519.6h9.1v2h-9.1zM244.23 712.6h9.1v3h-9.1zM244.23 733.6h9.1v1h-9.1zM253.32 547.6h9.1v2h-9.1zM253.32 633.6h9.1v3h-9.1zM253.32 660.6h9.1v2h-9.1zM253.32 758.6h9.1v2h-9.1zM262.42 724.6h9.1v1h-9.1zM289.71 483.6h9.1v2h-9.1zM298.81 752.6h9.1v1h-9.1z"/><path fill="#009500" d="M35 187.3h9.1v2h-9.1zM35 193.3h9.1v1h-9.1zM35 199.3h9.1v3h-9.1zM35 215.3h9.1v3h-9.1zM35 223.3h9.1v1h-9.1zM35 241.3h9.1v1h-9.1zM35 248.3h9.1v4h-9.1zM35 267.3h9.1v1h-9.1zM35 285.3h9.1v5h-9.1zM35 301.3h9.1v1h-9.1zM35 303.3h9.1v1h-9.1zM35 308.3h9.1v4h-9.1zM35 320.3h9.1v3h-9.1zM35 337.3h9.1v3h-9.1zM35 372.3h9.1v1h-9.1zM44.1 144.3h9.1v3h-9.1zM44.1 163.3h9.1v2h-9.1zM44.1 166.3h9.1v2h-9.1zM44.1 198.3h9.1v4h-9.1zM44.1 212.3h9.1v2h-9.1zM44.1 223.3h9.1v2h-9.1zM44.1 239.3h9.1v1h-9.1zM44.1 244.3h9.1v2h-9.1zM44.1 247.3h9.1v4h-9.1zM44.1 261.3h9.1v3h-9.1zM44.1 265.3h9.1v1h-9.1zM44.1 269.3h9.1v1h-9.1zM44.1 276.3h9.1v2h-9.1zM44.1 296.3h9.1v3h-9.1zM44.1 310.3h9.1v3h-9.1zM44.1 325.3h9.1v3h-9.1zM44.1 337.3h9.1v1h-9.1zM44.1 345.3h9.1v3h-9.1zM53.19 197.3h9.1v2h-9.1zM53.19 230.3h9.1v3h-9.1zM53.19 236.3h9.1v2h-9.1zM53.19 247.3h9.1v2h-9.1zM53.19 264.3h9.1v2h-9.1zM53.19 275.3h9.1v3h-9.1zM53.19 283.3h9.1v2h-9.1zM53.19 287.3h9.1v3h-9.1zM53.19 309.3h9.1v2h-9.1zM53.19 318.3h9.1v4h-9.1zM53.19 332.3h9.1v3h-9.1zM53.19 341.3h9.1v1h-9.1zM53.19 350.3h9.1v2h-9.1zM53.19 354.3h9.1v3h-9.1zM53.19 366.3h9.1v2h-9.1zM53.19 371.3h9.1v2h-9.1zM53.19 377.3h9.1v3h-9.1zM62.29 223.3h9.1v2h-9.1zM62.29 240.3h9.1v4h-9.1zM62.29 246.3h9.1v3h-9.1zM62.29 258.3h9.1v3h-9.1zM62.29 285.3h9.1v1h-9.1zM62.29 294.3h9.1v2h-9.1zM62.29 307.3h9.1v2h-9.1zM62.29 313.3h9.1v1h-9.1zM62.29 321.3h9.1v5h-9.1zM62.29 346.3h9.1v1h-9.1zM62.29 352.3h9.1v3h-9.1zM62.29 367.3h9.1v7h-9.1zM62.29 384.3h9.1v1h-9.1zM71.39 105.3h9.1v3h-9.1zM71.39 109.3h9.1v2h-9.1zM71.39 125.3h9.1v3h-9.1zM71.39 180.3h9.1v1h-9.1zM71.39 194.3h9.1v2h-9.1zM71.39 227.3h9.1v4h-9.1zM71.39 237.3h9.1v2h-9.1zM71.39 261.3h9.1v1h-9.1zM144.16 62.3h9.1v1h-9.1zM144.16 151.3h9.1v2h-9.1zM144.16 194.3h9.1v1h-9.1zM171.45 66.3h9.1v1h-9.1zM171.45 238.3h9.1v1h-9.1zM171.45 313.3h9.1v1h-9.1zM180.55 137.3h9.1v1h-9.1zM180.55 341.3h9.1v4h-9.1zM180.55 350.3h9.1v2h-9.1zM189.65 78.3h9.1v1h-9.1zM189.65 313.3h9.1v1h-9.1zM198.74 116.3h9.1v2h-9.1zM198.74 119.3h9.1v2h-9.1zM198.74 188.3h9.1v1h-9.1zM198.74 251.3h9.1v2h-9.1zM198.74 313.3h9.1v1h-9.1zM207.84 50.3h9.1v2h-9.1zM207.84 313.3h9.1v1h-9.1zM216.94 55.3h9.1v2h-9.1zM216.94 81.3h9.1v1h-9.1zM216.94 166.3h9.1v1h-9.1zM216.94 175.3h9.1v2h-9.1zM216.94 355.3h9.1v2h-9.1zM226.03 67.3h9.1v1h-9.1zM226.03 180.3h9.1v1h-9.1zM226.03 246.3h9.1v1h-9.1zM226.03 355.3h9.1v2h-9.1zM235.13 76.3h9.1v1h-9.1zM235.13 82.3h9.1v2h-9.1zM235.13 135.3h9.1v1h-9.1zM235.13 180.3h9.1v1h-9.1zM235.13 311.3h9.1v2h-9.1zM235.13 344.3h9.1v1h-9.1zM235.13 355.3h9.1v2h-9.1zM244.23 130.3h9.1v2h-9.1zM253.32 276.3h9.1v2h-9.1zM253.32 297.3h9.1v1h-9.1zM253.32 324.3h9.1v1h-9.1zM253.32 355.3h9.1v2h-9.1zM253.32 358.3h9.1v2h-9.1zM262.42 116.3h9.1v2h-9.1zM262.42 309.3h9.1v2h-9.1zM271.52 72.3h9.1v1h-9.1zM271.52 92.3h9.1v1h-9.1zM271.52 107.3h9.1v2h-9.1zM271.52 116.3h9.1v2h-9.1zM271.52 180.3h9.1v1h-9.1zM271.52 185.3h9.1v3h-9.1zM271.52 196.3h9.1v1h-9.1zM271.52 213.3h9.1v3h-9.1zM271.52 311.3h9.1v2h-9.1zM271.52 344.3h9.1v1h-9.1zM280.61 125.3h9.1v1h-9.1zM280.61 166.3h9.1v1h-9.1zM280.61 296.3h9.1v1h-9.1zM289.71 311.3h9.1v2h-9.1zM298.81 130.3h9.1v2h-9.1zM298.81 178.3h9.1v2h-9.1zM298.81 325.3h9.1v1h-9.1zM307.9 61.3h9.1v1h-9.1zM307.9 164.3h9.1v2h-9.1zM307.9 261.3h9.1v1h-9.1zM62.29 490.6h9.1v1h-9.1zM80.48 576.6h9.1v3h-9.1zM80.48 610.6h9.1v2h-9.1zM80.48 613.6h9.1v1h-9.1zM80.48 632.6h9.1v4h-9.1zM80.48 641.6h9.1v3h-9.1zM80.48 649.6h9.1v2h-9.1zM80.48 654.6h9.1v1h-9.1zM80.48 662.6h9.1v4h-9.1zM80.48 674.6h9.1v3h-9.1zM80.48 687.6h9.1v2h-9.1zM80.48 711.6h9.1v2h-9.1zM80.48 717.6h9.1v2h-9.1zM80.48 724.6h9.1v1h-9.1zM80.48 757.6h9.1v1h-9.1zM80.48 761.6h9.1v1.8h-9.1zM89.58 539.6h9.1v1h-9.1zM89.58 607.6h9.1v2h-9.1zM89.58 618.6h9.1v2h-9.1zM89.58 627.6h9.1v2h-9.1zM89.58 635.6h9.1v3h-9.1zM89.58 654.6h9.1v2h-9.1zM89.58 662.6h9.1v4h-9.1zM89.58 669.6h9.1v1h-9.1zM89.58 671.6h9.1v2h-9.1zM89.58 677.6h9.1v3h-9.1zM89.58 687.6h9.1v2h-9.1zM89.58 695.6h9.1v2h-9.1zM89.58 707.6h9.1v2h-9.1zM89.58 722.6h9.1v1h-9.1zM89.58 729.6h9.1v2h-9.1zM89.58 733.6h9.1v1h-9.1zM89.58 736.6h9.1v1h-9.1zM89.58 745.6h9.1v2h-9.1zM89.58 751.6h9.1v1h-9.1zM89.58 760.6h9.1v1h-9.1zM98.68 614.6h9.1v1h-9.1zM98.68 641.6h9.1v2h-9.1zM98.68 645.6h9.1v1h-9.1zM98.68 648.6h9.1v2h-9.1zM98.68 663.6h9.1v1h-9.1zM98.68 673.6h9.1v2h-9.1zM98.68 678.6h9.1v1h-9.1zM98.68 682.6h9.1v2h-9.1zM98.68 709.6h9.1v2h-9.1zM98.68 715.6h9.1v2h-9.1zM98.68 725.6h9.1v1h-9.1zM98.68 733.6h9.1v1h-9.1zM98.68 736.6h9.1v1h-9.1zM98.68 742.6h9.1v2h-9.1zM98.68 746.6h9.1v2h-9.1zM98.68 760.6h9.1v2h-9.1zM107.77 557.6h9.1v2h-9.1zM107.77 568.6h9.1v1h-9.1zM107.77 603.6h9.1v1h-9.1zM107.77 605.6h9.1v1h-9.1zM107.77 613.6h9.1v1h-9.1zM107.77 615.6h9.1v2h-9.1zM107.77 621.6h9.1v2h-9.1zM107.77 625.6h9.1v1h-9.1zM107.77 628.6h9.1v2h-9.1zM107.77 634.6h9.1v1h-9.1zM107.77 643.6h9.1v2h-9.1zM107.77 649.6h9.1v1h-9.1zM107.77 660.6h9.1v3h-9.1zM107.77 665.6h9.1v1h-9.1zM107.77 667.6h9.1v3h-9.1zM107.77 672.6h9.1v1h-9.1zM107.77 675.6h9.1v2h-9.1zM107.77 689.6h9.1v2h-9.1zM107.77 695.6h9.1v2h-9.1zM107.77 715.6h9.1v2h-9.1zM107.77 721.6h9.1v2h-9.1zM107.77 727.6h9.1v2h-9.1zM107.77 735.6h9.1v1h-9.1zM107.77 738.6h9.1v2h-9.1zM116.87 552.6h9.1v2h-9.1zM116.87 617.6h9.1v2h-9.1zM116.87 620.6h9.1v2h-9.1zM116.87 624.6h9.1v1h-9.1zM116.87 627.6h9.1v2h-9.1zM116.87 636.6h9.1v2h-9.1zM116.87 676.6h9.1v1h-9.1zM116.87 723.6h9.1v4h-9.1zM116.87 736.6h9.1v1h-9.1zM116.87 754.6h9.1v2h-9.1zM116.87 762.6h9.1v0.8h-9.1zM125.97 573.6h9.1v2h-9.1zM125.97 605.6h9.1v2h-9.1zM125.97 610.6h9.1v2h-9.1zM125.97 636.6h9.1v2h-9.1zM125.97 640.6h9.1v1h-9.1zM125.97 648.6h9.1v5h-9.1zM125.97 663.6h9.1v1h-9.1zM125.97 666.6h9.1v2h-9.1zM125.97 677.6h9.1v1h-9.1zM125.97 695.6h9.1v2h-9.1zM125.97 709.6h9.1v1h-9.1zM125.97 720.6h9.1v2h-9.1zM125.97 728.6h9.1v1h-9.1zM125.97 733.6h9.1v2h-9.1zM135.06 530.6h9.1v2h-9.1zM135.06 577.6h9.1v1h-9.1zM135.06 585.6h9.1v2h-9.1zM135.06 642.6h9.1v1h-9.1zM135.06 645.6h9.1v1h-9.1zM135.06 655.6h9.1v2h-9.1zM135.06 687.6h9.1v3h-9.1zM135.06 707.6h9.1v1h-9.1zM135.06 710.6h9.1v5h-9.1zM135.06 722.6h9.1v4h-9.1zM135.06 727.6h9.1v3h-9.1zM135.06 752.6h9.1v1h-9.1zM135.06 762.6h9.1v0.8h-9.1zM144.16 536.6h9.1v1h-9.1zM144.16 554.6h9.1v2h-9.1zM144.16 567.6h9.1v2h-9.1zM144.16 639.6h9.1v2h-9.1zM144.16 645.6h9.1v2h-9.1zM144.16 655.6h9.1v2h-9.1zM144.16 674.6h9.1v1h-9.1zM144.16 698.6h9.1v2h-9.1zM144.16 701.6h9.1v2h-9.1zM144.16 704.6h9.1v2h-9.1zM144.16 709.6h9.1v3h-9.1zM144.16 729.6h9.1v2h-9.1zM144.16 743.6h9.1v1h-9.1zM144.16 754.6h9.1v1h-9.1zM144.16 757.6h9.1v3h-9.1zM153.26 561.6h9.1v2h-9.1zM153.26 588.6h9.1v1h-9.1zM153.26 591.6h9.1v2h-9.1zM153.26 605.6h9.1v2h-9.1zM153.26 616.6h9.1v2h-9.1zM153.26 620.6h9.1v1h-9.1zM153.26 623.6h9.1v1h-9.1zM153.26 664.6h9.1v1h-9.1zM153.26 667.6h9.1v1h-9.1zM153.26 670.6h9.1v1h-9.1zM153.26 672.6h9.1v1h-9.1zM153.26 689.6h9.1v2h-9.1zM153.26 725.6h9.1v1h-9.1zM153.26 734.6h9.1v1h-9.1zM153.26 737.6h9.1v1h-9.1zM153.26 747.6h9.1v2h-9.1zM162.35 498.6h9.1v2h-9.1zM162.35 526.6h9.1v2h-9.1zM162.35 543.6h9.1v1h-9.1zM162.35 575.6h9.1v2h-9.1zM162.35 593.6h9.1v2h-9.1zM162.35 600.6h9.1v2h-9.1zM162.35 605.6h9.1v1h-9.1zM162.35 656.6h9.1v2h-9.1zM162.35 675.6h9.1v2h-9.1zM162.35 678.6h9.1v2h-9.1zM162.35 683.6h9.1v2h-9.1zM162.35 693.6h9.1v1h-9.1zM162.35 699.6h9.1v1h-9.1zM162.35 701.6h9.1v1h-9.1zM162.35 709.6h9.1v2h-9.1zM162.35 716.6h9.1v1h-9.1zM162.35 729.6h9.1v1h-9.1zM162.35 750.6h9.1v2h-9.1zM162.35 753.6h9.1v1h-9.1zM162.35 758.6h9.1v1h-9.1zM171.45 414.6h9.1v3h-9.1zM171.45 454.6h9.1v2h-9.1zM171.45 471.6h9.1v1h-9.1zM171.45 483.6h9.1v2h-9.1zM171.45 598.6h9.1v1h-9.1zM180.55 483.6h9.1v2h-9.1zM180.55 547.6h9.1v2h-9.1zM180.55 719.6h9.1v1h-9.1zM180.55 724.6h9.1v1h-9.1zM180.55 752.6h9.1v1h-9.1zM189.65 465.6h9.1v1h-9.1zM189.65 489.6h9.1v2h-9.1zM189.65 512.6h9.1v2h-9.1zM189.65 522.6h9.1v2h-9.1zM189.65 571.6h9.1v2h-9.1zM189.65 676.6h9.1v1h-9.1zM189.65 696.6h9.1v3h-9.1zM198.74 440.6h9.1v1h-9.1zM198.74 478.6h9.1v2h-9.1zM198.74 483.6h9.1v2h-9.1zM198.74 597.6h9.1v1h-9.1zM198.74 662.6h9.1v1h-9.1zM198.74 721.6h9.1v2h-9.1zM207.84 454.6h9.1v2h-9.1zM207.84 480.6h9.1v2h-9.1zM207.84 518.6h9.1v1h-9.1zM207.84 571.6h9.1v2h-9.1zM207.84 601.6h9.1v3h-9.1zM207.84 609.6h9.1v2h-9.1zM207.84 612.6h9.1v2h-9.1zM207.84 681.6h9.1v2h-9.1zM216.94 411.6h9.1v2h-9.1zM216.94 454.6h9.1v2h-9.1zM216.94 472.6h9.1v3h-9.1zM216.94 519.6h9.1v2h-9.1zM216.94 555.6h9.1v2h-9.1zM216.94 583.6h9.1v1h-9.1zM216.94 586.6h9.1v3h-9.1zM216.94 629.6h9.1v1h-9.1zM216.94 631.6h9.1v2h-9.1zM216.94 645.6h9.1v2h-9.1zM216.94 664.6h9.1v2h-9.1zM216.94 674.6h9.1v2h-9.1zM216.94 724.6h9.1v1h-9.1zM226.03 457.6h9.1v2h-9.1zM226.03 516.6h9.1v2h-9.1zM226.03 685.6h9.1v2h-9.1zM226.03 698.6h9.1v1h-9.1zM226.03 702.6h9.1v3h-9.1zM226.03 731.6h9.1v1h-9.1zM226.03 751.6h9.1v1h-9.1zM235.13 425.6h9.1v2h-9.1zM235.13 506.6h9.1v3h-9.1zM235.13 518.6h9.1v1h-9.1zM235.13 545.6h9.1v1h-9.1zM235.13 547.6h9.1v2h-9.1zM235.13 583.6h9.1v1h-9.1zM235.13 599.6h9.1v1h-9.1zM235.13 612.6h9.1v2h-9.1zM235.13 652.6h9.1v2h-9.1zM235.13 698.6h9.1v1h-9.1zM235.13 731.6h9.1v1h-9.1zM244.23 441.6h9.1v2h-9.1zM244.23 541.6h9.1v2h-9.1zM244.23 546.6h9.1v1h-9.1zM244.23 579.6h9.1v3h-9.1zM244.23 608.6h9.1v1h-9.1zM244.23 631.6h9.1v2h-9.1zM244.23 673.6h9.1v1h-9.1zM244.23 710.6h9.1v2h-9.1zM253.32 522.6h9.1v2h-9.1zM253.32 584.6h9.1v1h-9.1zM253.32 598.6h9.1v1h-9.1zM253.32 647.6h9.1v2h-9.1zM253.32 683.6h9.1v2h-9.1zM253.32 724.6h9.1v1h-9.1zM262.42 470.6h9.1v1h-9.1zM262.42 496.6h9.1v3h-9.1zM262.42 566.6h9.1v1h-9.1zM262.42 630.6h9.1v1h-9.1zM262.42 726.6h9.1v1h-9.1zM271.52 414.6h9.1v3h-9.1zM271.52 440.6h9.1v1h-9.1zM271.52 485.6h9.1v3h-9.1zM271.52 499.6h9.1v1h-9.1zM271.52 518.6h9.1v3h-9.1zM271.52 545.6h9.1v1h-9.1zM271.52 617.6h9.1v1h-9.1zM271.52 662.6h9.1v1h-9.1zM271.52 718.6h9.1v1h-9.1zM280.61 471.6h9.1v1h-9.1zM280.61 483.6h9.1v2h-9.1zM280.61 574.6h9.1v1h-9.1zM280.61 595.6h9.1v2h-9.1zM280.61 612.6h9.1v2h-9.1zM280.61 640.6h9.1v1h-9.1zM280.61 747.6h9.1v3h-9.1zM280.61 753.6h9.1v3h-9.1zM289.71 445.6h9.1v2h-9.1zM289.71 470.6h9.1v2h-9.1zM289.71 489.6h9.1v2h-9.1zM289.71 552.6h9.1v3h-9.1zM289.71 624.6h9.1v1h-9.1zM289.71 667.6h9.1v3h-9.1zM289.71 674.6h9.1v2h-9.1zM289.71 716.6h9.1v2h-9.1zM289.71 720.6h9.1v1h-9.1zM289.71 760.6h9.1v1h-9.1zM307.9 485.6h9.1v3h-9.1zM307.9 511.6h9.1v1h-9.1zM307.9 545.6h9.1v1h-9.1zM307.9 625.6h9.1v3h-9.1zM307.9 674.6h9.1v2h-9.1zM307.9 733.6h9.1v1h-9.1z"/><path fill="#00aa00" d="M35 119.3h9.1v3h-9.1zM35 218.3h9.1v1h-9.1zM35 221.3h9.1v2h-9.1zM35 228.3h9.1v1h-9.1zM35 237.3h9.1v1h-9.1zM35 242.3h9.1v3h-9.1zM35 247.3h9.1v1h-9.1zM35 257.3h9.1v1h-9.1zM35 261.3h9.1v2h-9.1zM35 270.3h9.1v3h-9.1zM35 276.3h9.1v3h-9.1zM35 281.3h9.1v3h-9.1zM35 294.3h9.1v3h-9.1zM35 300.3h9.1v1h-9.1zM35 312.3h9.1v2h-9.1zM35 316.3h9.1v3h-9.1zM35 328.3h9.1v3h-9.1zM35 352.3h9.1v4h-9.1zM35 362.3h9.1v1h-9.1zM35 367.3h9.1v3h-9.1zM35 374.3h9.1v4h-9.1zM44.1 131.3h9.1v2h-9.1zM44.1 153.3h9.1v3h-9.1zM44.1 160.3h9.1v3h-9.1zM44.1 171.3h9.1v3h-9.1zM44.1 178.3h9.1v2h-9.1zM44.1 181.3h9.1v6h-9.1zM44.1 211.3h9.1v1h-9.1zM44.1 216.3h9.1v4h-9.1zM44.1 228.3h9.1v2h-9.1zM44.1 231.3h9.1v4h-9.1zM44.1 291.3h9.1v3h-9.1zM53.19 160.3h9.1v2h-9.1zM53.19 203.3h9.1v1h-9.1zM53.19 214.3h9.1v3h-9.1zM53.19 240.3h9.1v3h-9.1zM53.19 245.3h9.1v2h-9.1zM53.19 249.3h9.1v2h-9.1zM53.19 266.3h9.1v5h-9.1zM53.19 282.3h9.1v1h-9.1zM53.19 290.3h9.1v3h-9.1zM53.19 301.3h9.1v3h-9.1zM53.19 311.3h9.1v7h-9.1zM53.19 324.3h9.1v4h-9.1zM53.19 331.3h9.1v1h-9.1zM53.19 344.3h9.1v3h-9.1zM53.19 381.3h9.1v3h-9.1zM62.29 144.3h9.1v3h-9.1zM62.29 150.3h9.1v1h-9.1zM62.29 156.3h9.1v3h-9.1zM62.29 168.3h9.1v5h-9.1zM62.29 184.3h9.1v1h-9.1zM62.29 202.3h9.1v2h-9.1zM62.29 205.3h9.1v2h-9.1zM62.29 244.3h9.1v2h-9.1zM62.29 250.3h9.1v3h-9.1zM62.29 281.3h9.1v3h-9.1zM62.29 296.3h9.1v4h-9.1zM62.29 312.3h9.1v1h-9.1zM62.29 317.3h9.1v2h-9.1zM62.29 339.3h9.1v3h-9.1zM62.29 344.3h9.1v1h-9.1zM62.29 374.3h9.1v1h-9.1zM71.39 88.3h9.1v3h-9.1zM71.39 111.3h9.1v5h-9.1zM71.39 123.3h9.1v2h-9.1zM71.39 139.3h9.1v3h-9.1zM71.39 155.3h9.1v1h-9.1zM71.39 168.3h9.1v2h-9.1zM71.39 181.3h9.1v1h-9.1zM71.39 189.3h9.1v2h-9.1zM71.39 214.3h9.1v3h-9.1zM71.39 255.3h9.1v2h-9.1zM71.39 324.3h9.1v1h-9.1zM171.45 166.3h9.1v1h-9.1zM171.45 257.3h9.1v2h-9.1zM171.45 281.3h9.1v3h-9.1zM171.45 311.3h9.1v2h-9.1zM171.45 344.3h9.1v1h-9.1zM180.55 95.3h9.1v1h-9.1zM180.55 242.3h9.1v2h-9.1zM180.55 285.3h9.1v2h-9.1zM180.55 311.3h9.1v2h-9.1zM180.55 372.3h9.1v1h-9.1zM189.65 57.3h9.1v3h-9.1zM189.65 166.3h9.1v1h-9.1zM189.65 293.3h9.1v1h-9.1zM189.65 344.3h9.1v2h-9.1zM198.74 93.3h9.1v2h-9.1zM198.74 111.3h9.1v2h-9.1zM198.74 322.3h9.1v2h-9.1zM207.84 96.3h9.1v3h-9.1zM207.84 278.3h9.1v3h-9.1zM216.94 52.3h9.1v3h-9.1zM216.94 116.3h9.1v2h-9.1zM216.94 180.3h9.1v1h-9.1zM216.94 334.3h9.1v2h-9.1zM226.03 123.3h9.1v1h-9.1zM226.03 349.3h9.1v1h-9.1zM226.03 373.3h9.1v2h-9.1zM235.13 253.3h9.1v1h-9.1zM235.13 332.3h9.1v1h-9.1zM235.13 354.3h9.1v1h-9.1zM244.23 93.3h9.1v2h-9.1zM244.23 116.3h9.1v2h-9.1zM244.23 180.3h9.1v1h-9.1zM244.23 313.3h9.1v1h-9.1zM244.23 373.3h9.1v2h-9.1zM253.32 116.3h9.1v2h-9.1zM253.32 313.3h9.1v1h-9.1zM262.42 256.3h9.1v1h-9.1zM262.42 332.3h9.1v1h-9.1zM262.42 361.3h9.1v1h-9.1zM271.52 166.3h9.1v1h-9.1zM271.52 271.3h9.1v1h-9.1zM271.52 281.3h9.1v3h-9.1zM271.52 301.3h9.1v1h-9.1zM271.52 349.3h9.1v1h-9.1zM271.52 362.3h9.1v2h-9.1zM280.61 132.3h9.1v2h-9.1zM280.61 143.3h9.1v1h-9.1zM280.61 281.3h9.1v3h-9.1zM289.71 172.3h9.1v1h-9.1zM289.71 251.3h9.1v2h-9.1zM289.71 271.3h9.1v1h-9.1zM289.71 371.3h9.1v1h-9.1zM298.81 166.3h9.1v1h-9.1zM298.81 210.3h9.1v2h-9.1zM298.81 226.3h9.1v1h-9.1zM298.81 272.3h9.1v2h-9.1zM298.81 336.3h9.1v2h-9.1zM298.81 344.3h9.1v1h-9.1zM307.9 144.3h9.1v2h-9.1zM307.9 297.3h9.1v1h-9.1zM307.9 355.3h9.1v2h-9.1zM307.9 379.3h9.1v1h-9.1zM80.48 556.6h9.1v1h-9.1zM80.48 561.6h9.1v2h-9.1zM80.48 583.6h9.1v4h-9.1zM80.48 600.6h9.1v4h-9.1zM80.48 607.6h9.1v1h-9.1zM80.48 614.6h9.1v3h-9.1zM80.48 629.6h9.1v2h-9.1zM80.48 640.6h9.1v1h-9.1zM80.48 644.6h9.1v3h-9.1zM80.48 651.6h9.1v1h-9.1zM80.48 657.6h9.1v5h-9.1zM80.48 670.6h9.1v3h-9.1zM80.48 684.6h9.1v3h-9.1zM80.48 700.6h9.1v1h-9.1zM80.48 704.6h9.1v5h-9.1zM80.48 721.6h9.1v3h-9.1zM80.48 727.6h9.1v4h-9.1zM80.48 760.6h9.1v1h-9.1zM89.58 543.6h9.1v1h-9.1zM89.58 550.6h9.1v2h-9.1zM89.58 565.6h9.1v2h-9.1zM89.58 572.6h9.1v2h-9.1zM89.58 576.6h9.1v2h-9.1zM89.58 590.6h9.1v1h-9.1zM89.58 598.6h9.1v2h-9.1zM89.58 605.6h9.1v2h-9.1zM89.58 614.6h9.1v4h-9.1zM89.58 623.6h9.1v3h-9.1zM89.58 631.6h9.1v2h-9.1zM89.58 652.6h9.1v1h-9.1zM89.58 675.6h9.1v2h-9.1zM89.58 709.6h9.1v3h-9.1zM89.58 718.6h9.1v1h-9.1zM89.58 740.6h9.1v1h-9.1zM89.58 752.6h9.1v1h-9.1zM89.58 758.6h9.1v1h-9.1zM98.68 501.6h9.1v2h-9.1zM98.68 555.6h9.1v1h-9.1zM98.68 567.6h9.1v2h-9.1zM98.68 575.6h9.1v1h-9.1zM98.68 598.6h9.1v4h-9.1zM98.68 608.6h9.1v2h-9.1zM98.68 612.6h9.1v2h-9.1zM98.68 622.6h9.1v2h-9.1zM98.68 628.6h9.1v2h-9.1zM98.68 636.6h9.1v2h-9.1zM98.68 653.6h9.1v3h-9.1zM98.68 664.6h9.1v2h-9.1zM98.68 684.6h9.1v9h-9.1zM98.68 695.6h9.1v3h-9.1zM98.68 704.6h9.1v3h-9.1zM98.68 711.6h9.1v2h-9.1zM98.68 724.6h9.1v1h-9.1zM98.68 730.6h9.1v2h-9.1zM98.68 740.6h9.1v2h-9.1zM98.68 758.6h9.1v2h-9.1zM107.77 497.6h9.1v2h-9.1zM107.77 527.6h9.1v1h-9.1zM107.77 533.6h9.1v2h-9.1zM107.77 542.6h9.1v3h-9.1zM107.77 571.6h9.1v2h-9.1zM107.77 586.6h9.1v2h-9.1zM107.77 607.6h9.1v3h-9.1zM107.77 635.6h9.1v4h-9.1zM107.77 663.6h9.1v1h-9.1zM107.77 673.6h9.1v2h-9.1zM107.77 681.6h9.1v1h-9.1zM107.77 684.6h9.1v2h-9.1zM107.77 691.6h9.1v3h-9.1zM107.77 697.6h9.1v3h-9.1zM107.77 720.6h9.1v1h-9.1zM107.77 733.6h9.1v2h-9.1zM107.77 755.6h9.1v2h-9.1zM116.87 540.6h9.1v2h-9.1zM116.87 545.6h9.1v1h-9.1zM116.87 568.6h9.1v2h-9.1zM116.87 577.6h9.1v1h-9.1zM116.87 601.6h9.1v1h-9.1zM116.87 606.6h9.1v2h-9.1zM116.87 609.6h9.1v3h-9.1zM116.87 614.6h9.1v1h-9.1zM116.87 631.6h9.1v5h-9.1zM116.87 645.6h9.1v1h-9.1zM116.87 647.6h9.1v2h-9.1zM116.87 650.6h9.1v3h-9.1zM116.87 654.6h9.1v3h-9.1zM116.87 658.6h9.1v3h-9.1zM116.87 662.6h9.1v3h-9.1zM116.87 677.6h9.1v2h-9.1zM116.87 681.6h9.1v2h-9.1zM116.87 695.6h9.1v3h-9.1zM116.87 703.6h9.1v1h-9.1zM116.87 706.6h9.1v3h-9.1zM116.87 710.6h9.1v1h-9.1zM116.87 721.6h9.1v1h-9.1zM116.87 727.6h9.1v2h-9.1zM116.87 739.6h9.1v2h-9.1zM125.97 475.6h9.1v2h-9.1zM125.97 487.6h9.1v1h-9.1zM125.97 509.6h9.1v2h-9.1zM125.97 537.6h9.1v2h-9.1zM125.97 543.6h9.1v2h-9.1zM125.97 577.6h9.1v1h-9.1zM125.97 607.6h9.1v2h-9.1zM125.97 622.6h9.1v2h-9.1zM125.97 625.6h9.1v1h-9.1zM125.97 669.6h9.1v1h-9.1zM125.97 678.6h9.1v2h-9.1zM125.97 689.6h9.1v2h-9.1zM125.97 757.6h9.1v2h-9.1zM135.06 522.6h9.1v2h-9.1zM135.06 538.6h9.1v1h-9.1zM135.06 542.6h9.1v3h-9.1zM135.06 578.6h9.1v1h-9.1zM135.06 581.6h9.1v2h-9.1zM135.06 599.6h9.1v1h-9.1zM135.06 606.6h9.1v1h-9.1zM135.06 610.6h9.1v4h-9.1zM135.06 615.6h9.1v3h-9.1zM135.06 643.6h9.1v2h-9.1zM135.06 657.6h9.1v1h-9.1zM135.06 660.6h9.1v3h-9.1zM135.06 665.6h9.1v3h-9.1zM135.06 671.6h9.1v1h-9.1zM135.06 685.6h9.1v2h-9.1zM135.06 694.6h9.1v2h-9.1zM135.06 726.6h9.1v1h-9.1zM135.06 732.6h9.1v2h-9.1zM135.06 741.6h9.1v3h-9.1zM135.06 747.6h9.1v2h-9.1zM135.06 753.6h9.1v2h-9.1zM135.06 759.6h9.1v2h-9.1zM144.16 475.6h9.1v1h-9.1zM144.16 514.6h9.1v1h-9.1zM144.16 521.6h9.1v2h-9.1zM144.16 547.6h9.1v1h-9.1zM144.16 557.6h9.1v1h-9.1zM144.16 581.6h9.1v1h-9.1zM144.16 592.6h9.1v1h-9.1zM144.16 599.6h9.1v1h-9.1zM144.16 606.6h9.1v2h-9.1zM144.16 619.6h9.1v1h-9.1zM144.16 625.6h9.1v1h-9.1zM144.16 633.6h9.1v6h-9.1zM144.16 649.6h9.1v3h-9.1zM144.16 660.6h9.1v1h-9.1zM144.16 663.6h9.1v2h-9.1zM144.16 668.6h9.1v3h-9.1zM144.16 672.6h9.1v2h-9.1zM144.16 675.6h9.1v3h-9.1zM144.16 683.6h9.1v1h-9.1zM144.16 686.6h9.1v2h-9.1zM144.16 693.6h9.1v2h-9.1zM144.16 703.6h9.1v1h-9.1zM144.16 713.6h9.1v2h-9.1zM144.16 717.6h9.1v2h-9.1zM144.16 745.6h9.1v2h-9.1zM144.16 750.6h9.1v2h-9.1zM153.26 478.6h9.1v2h-9.1zM153.26 497.6h9.1v1h-9.1zM153.26 515.6h9.1v2h-9.1zM153.26 518.6h9.1v1h-9.1zM153.26 557.6h9.1v1h-9.1zM153.26 597.6h9.1v2h-9.1zM153.26 607.6h9.1v3h-9.1zM153.26 618.6h9.1v1h-9.1zM153.26 632.6h9.1v1h-9.1zM153.26 645.6h9.1v1h-9.1zM153.26 647.6h9.1v1h-9.1zM153.26 649.6h9.1v2h-9.1zM153.26 673.6h9.1v1h-9.1zM153.26 677.6h9.1v2h-9.1zM153.26 683.6h9.1v2h-9.1zM153.26 696.6h9.1v2h-9.1zM153.26 724.6h9.1v1h-9.1zM153.26 732.6h9.1v2h-9.1zM162.35 547.6h9.1v2h-9.1zM162.35 558.6h9.1v2h-9.1zM162.35 565.6h9.1v1h-9.1zM162.35 579.6h9.1v1h-9.1zM162.35 603.6h9.1v2h-9.1zM162.35 609.6h9.1v5h-9.1zM162.35 636.6h9.1v2h-9.1zM162.35 639.6h9.1v1h-9.1zM162.35 641.6h9.1v1h-9.1zM162.35 644.6h9.1v2h-9.1zM162.35 660.6h9.1v2h-9.1zM162.35 671.6h9.1v2h-9.1zM162.35 681.6h9.1v2h-9.1zM162.35 692.6h9.1v1h-9.1zM162.35 700.6h9.1v1h-9.1zM162.35 714.6h9.1v2h-9.1zM162.35 721.6h9.1v2h-9.1zM162.35 728.6h9.1v1h-9.1zM162.35 732.6h9.1v3h-9.1zM162.35 748.6h9.1v2h-9.1zM162.35 754.6h9.1v2h-9.1zM171.45 472.6h9.1v3h-9.1zM171.45 518.6h9.1v1h-9.1zM171.45 527.6h9.1v3h-9.1zM171.45 541.6h9.1v2h-9.1zM171.45 660.6h9.1v2h-9.1zM171.45 698.6h9.1v1h-9.1zM180.55 427.6h9.1v1h-9.1zM180.55 516.6h9.1v2h-9.1zM180.55 524.6h9.1v1h-9.1zM180.55 585.6h9.1v1h-9.1zM180.55 716.6h9.1v2h-9.1zM180.55 732.6h9.1v1h-9.1zM189.65 440.6h9.1v1h-9.1zM189.65 464.6h9.1v1h-9.1zM189.65 480.6h9.1v2h-9.1zM189.65 510.6h9.1v1h-9.1zM189.65 545.6h9.1v1h-9.1zM189.65 575.6h9.1v2h-9.1zM189.65 671.6h9.1v2h-9.1zM189.65 678.6h9.1v1h-9.1zM189.65 732.6h9.1v1h-9.1zM198.74 414.6h9.1v3h-9.1zM198.74 664.6h9.1v2h-9.1zM198.74 685.6h9.1v2h-9.1zM198.74 700.6h9.1v2h-9.1zM207.84 410.6h9.1v1h-9.1zM207.84 437.6h9.1v2h-9.1zM207.84 470.6h9.1v1h-9.1zM207.84 539.6h9.1v2h-9.1zM207.84 549.6h9.1v3h-9.1zM207.84 577.6h9.1v2h-9.1zM207.84 615.6h9.1v2h-9.1zM207.84 676.6h9.1v1h-9.1zM207.84 746.6h9.1v1h-9.1zM207.84 751.6h9.1v1h-9.1zM216.94 480.6h9.1v2h-9.1zM216.94 485.6h9.1v3h-9.1zM216.94 512.6h9.1v2h-9.1zM216.94 539.6h9.1v2h-9.1zM216.94 566.6h9.1v1h-9.1zM216.94 568.6h9.1v2h-9.1zM216.94 585.6h9.1v1h-9.1zM216.94 608.6h9.1v1h-9.1zM216.94 615.6h9.1v2h-9.1zM216.94 652.6h9.1v2h-9.1zM216.94 685.6h9.1v2h-9.1zM216.94 728.6h9.1v2h-9.1zM226.03 483.6h9.1v2h-9.1zM226.03 510.6h9.1v1h-9.1zM226.03 515.6h9.1v1h-9.1zM226.03 518.6h9.1v1h-9.1zM226.03 565.6h9.1v1h-9.1zM226.03 617.6h9.1v1h-9.1zM226.03 667.6h9.1v3h-9.1zM226.03 724.6h9.1v1h-9.1zM235.13 485.6h9.1v3h-9.1zM235.13 519.6h9.1v2h-9.1zM235.13 531.6h9.1v3h-9.1zM235.13 575.6h9.1v2h-9.1zM235.13 584.6h9.1v1h-9.1zM235.13 671.6h9.1v2h-9.1zM235.13 724.6h9.1v1h-9.1zM235.13 744.6h9.1v2h-9.1zM244.23 518.6h9.1v1h-9.1zM244.23 531.6h9.1v3h-9.1zM244.23 586.6h9.1v3h-9.1zM244.23 643.6h9.1v2h-9.1zM244.23 662.6h9.1v1h-9.1zM244.23 687.6h9.1v3h-9.1zM244.23 709.6h9.1v1h-9.1zM253.32 454.6h9.1v2h-9.1zM253.32 518.6h9.1v1h-9.1zM253.32 534.6h9.1v2h-9.1zM253.32 566.6h9.1v1h-9.1zM253.32 636.6h9.1v1h-9.1zM253.32 650.6h9.1v4h-9.1zM253.32 680.6h9.1v1h-9.1zM253.32 733.6h9.1v1h-9.1zM253.32 762.6h9.1v0.8h-9.1zM262.42 503.6h9.1v2h-9.1zM262.42 511.6h9.1v1h-9.1zM262.42 541.6h9.1v2h-9.1zM262.42 552.6h9.1v3h-9.1zM262.42 607.6h9.1v1h-9.1zM262.42 685.6h9.1v2h-9.1zM262.42 712.6h9.1v3h-9.1zM271.52 470.6h9.1v1h-9.1zM271.52 511.6h9.1v1h-9.1zM271.52 521.6h9.1v1h-9.1zM271.52 543.6h9.1v2h-9.1zM271.52 566.6h9.1v1h-9.1zM271.52 643.6h9.1v2h-9.1zM271.52 685.6h9.1v2h-9.1zM271.52 724.6h9.1v1h-9.1zM271.52 751.6h9.1v1h-9.1zM271.52 756.6h9.1v2h-9.1zM280.61 470.6h9.1v1h-9.1zM280.61 545.6h9.1v1h-9.1zM280.61 584.6h9.1v1h-9.1zM280.61 758.6h9.1v2h-9.1zM289.71 545.6h9.1v1h-9.1zM289.71 575.6h9.1v2h-9.1zM289.71 712.6h9.1v4h-9.1zM289.71 726.6h9.1v1h-9.1zM298.81 454.6h9.1v2h-9.1zM298.81 470.6h9.1v2h-9.1zM298.81 483.6h9.1v2h-9.1zM298.81 502.6h9.1v1h-9.1zM298.81 534.6h9.1v2h-9.1zM298.81 575.6h9.1v2h-9.1zM298.81 586.6h9.1v3h-9.1zM298.81 614.6h9.1v1h-9.1zM298.81 631.6h9.1v2h-9.1zM298.81 673.6h9.1v1h-9.1zM298.81 698.6h9.1v1h-9.1zM298.81 760.6h9.1v1h-9.1zM307.9 539.6h9.1v2h-9.1zM307.9 612.6h9.1v2h-9.1zM307.9 650.6h9.1v2h-9.1zM307.9 681.6h9.1v2h-9.1zM307.9 730.6h9.1v1h-9.1z"/><path fill="#00bf00" d="M35 155.3h9.1v5h-9.1zM35 171.3h9.1v1h-9.1zM35 189.3h9.1v1h-9.1zM35 205.3h9.1v8h-9.1zM35 219.3h9.1v2h-9.1zM35 227.3h9.1v1h-9.1zM35 236.3h9.1v1h-9.1zM35 266.3h9.1v1h-9.1zM35 273.3h9.1v1h-9.1zM35 284.3h9.1v1h-9.1zM35 297.3h9.1v3h-9.1zM35 304.3h9.1v3h-9.1zM35 325.3h9.1v3h-9.1zM35 343.3h9.1v1h-9.1zM35 380.3h9.1v3h-9.1zM35 384.3h9.1v1.9h-9.1zM44.1 58.3h9.1v3h-9.1zM44.1 90.3h9.1v2h-9.1zM44.1 104.3h9.1v2h-9.1zM44.1 113.3h9.1v2h-9.1zM44.1 116.3h9.1v3h-9.1zM44.1 122.3h9.1v4h-9.1zM44.1 134.3h9.1v2h-9.1zM44.1 138.3h9.1v1h-9.1zM44.1 141.3h9.1v3h-9.1zM44.1 151.3h9.1v2h-9.1zM44.1 174.3h9.1v2h-9.1zM44.1 187.3h9.1v4h-9.1zM44.1 196.3h9.1v1h-9.1zM44.1 206.3h9.1v5h-9.1zM44.1 254.3h9.1v1h-9.1zM44.1 281.3h9.1v2h-9.1zM44.1 342.3h9.1v3h-9.1zM44.1 349.3h9.1v3h-9.1zM44.1 367.3h9.1v3h-9.1zM44.1 384.3h9.1v1h-9.1zM53.19 111.3h9.1v1h-9.1zM53.19 118.3h9.1v2h-9.1zM53.19 138.3h9.1v2h-9.1zM53.19 142.3h9.1v1h-9.1zM53.19 168.3h9.1v3h-9.1zM53.19 174.3h9.1v3h-9.1zM53.19 182.3h9.1v1h-9.1zM53.19 192.3h9.1v3h-9.1zM53.19 199.3h9.1v4h-9.1zM53.19 211.3h9.1v3h-9.1zM53.19 218.3h9.1v2h-9.1zM53.19 222.3h9.1v1h-9.1zM53.19 229.3h9.1v1h-9.1zM53.19 233.3h9.1v3h-9.1zM53.19 243.3h9.1v2h-9.1zM53.19 251.3h9.1v6h-9.1zM53.19 271.3h9.1v4h-9.1zM53.19 278.3h9.1v2h-9.1zM53.19 293.3h9.1v2h-9.1zM53.19 297.3h9.1v4h-9.1zM53.19 330.3h9.1v1h-9.1zM53.19 340.3h9.1v1h-9.1zM53.19 343.3h9.1v1h-9.1zM53.19 347.3h9.1v3h-9.1zM62.29 135.3h9.1v2h-9.1zM62.29 147.3h9.1v2h-9.1zM62.29 159.3h9.1v1h-9.1zM62.29 164.3h9.1v1h-9.1zM62.29 173.3h9.1v2h-9.1zM62.29 193.3h9.1v3h-9.1zM62.29 204.3h9.1v1h-9.1zM62.29 207.3h9.1v6h-9.1zM62.29 253.3h9.1v2h-9.1zM62.29 278.3h9.1v3h-9.1zM62.29 292.3h9.1v1h-9.1zM62.29 328.3h9.1v5h-9.1zM62.29 377.3h9.1v1h-9.1zM71.39 63.3h9.1v3h-9.1zM71.39 69.3h9.1v3h-9.1zM71.39 81.3h9.1v1h-9.1zM71.39 86.3h9.1v2h-9.1zM71.39 98.3h9.1v4h-9.1zM71.39 104.3h9.1v1h-9.1zM71.39 116.3h9.1v3h-9.1zM71.39 143.3h9.1v3h-9.1zM71.39 173.3h9.1v1h-9.1zM71.39 182.3h9.1v2h-9.1zM171.45 207.3h9.1v2h-9.1zM171.45 235.3h9.1v1h-9.1zM171.45 320.3h9.1v1h-9.1zM180.55 63.3h9.1v3h-9.1zM180.55 295.3h9.1v1h-9.1zM189.65 73.3h9.1v2h-9.1zM189.65 76.3h9.1v1h-9.1zM189.65 230.3h9.1v1h-9.1zM189.65 288.3h9.1v1h-9.1zM189.65 350.3h9.1v2h-9.1zM198.74 63.3h9.1v3h-9.1zM198.74 75.3h9.1v1h-9.1zM198.74 82.3h9.1v2h-9.1zM198.74 150.3h9.1v2h-9.1zM198.74 175.3h9.1v2h-9.1zM198.74 278.3h9.1v1h-9.1zM198.74 334.3h9.1v2h-9.1zM207.84 119.3h9.1v2h-9.1zM207.84 137.3h9.1v1h-9.1zM207.84 175.3h9.1v2h-9.1zM207.84 322.3h9.1v2h-9.1zM207.84 338.3h9.1v1h-9.1zM216.94 46.3h9.1v1h-9.1zM216.94 100.3h9.1v1h-9.1zM216.94 220.3h9.1v1h-9.1zM216.94 234.3h9.1v1h-9.1zM216.94 259.3h9.1v2h-9.1zM216.94 309.3h9.1v2h-9.1zM216.94 322.3h9.1v2h-9.1zM226.03 113.3h9.1v2h-9.1zM226.03 147.3h9.1v2h-9.1zM226.03 154.3h9.1v3h-9.1zM226.03 257.3h9.1v2h-9.1zM226.03 318.3h9.1v2h-9.1zM226.03 331.3h9.1v1h-9.1zM226.03 346.3h9.1v3h-9.1zM235.13 86.3h9.1v3h-9.1zM235.13 190.3h9.1v3h-9.1zM235.13 268.3h9.1v3h-9.1zM235.13 383.3h9.1v2h-9.1zM244.23 157.3h9.1v3h-9.1zM244.23 334.3h9.1v2h-9.1zM244.23 354.3h9.1v1h-9.1zM244.23 367.3h9.1v1h-9.1zM244.23 376.3h9.1v2h-9.1zM253.32 62.3h9.1v1h-9.1zM253.32 202.3h9.1v1h-9.1zM253.32 209.3h9.1v1h-9.1zM253.32 212.3h9.1v1h-9.1zM253.32 216.3h9.1v1h-9.1zM253.32 344.3h9.1v1h-9.1zM253.32 362.3h9.1v2h-9.1zM262.42 102.3h9.1v2h-9.1zM262.42 278.3h9.1v1h-9.1zM262.42 281.3h9.1v3h-9.1zM262.42 334.3h9.1v2h-9.1zM271.52 95.3h9.1v1h-9.1zM271.52 289.3h9.1v1h-9.1zM280.61 79.3h9.1v1h-9.1zM280.61 168.3h9.1v3h-9.1zM280.61 180.3h9.1v1h-9.1zM280.61 274.3h9.1v2h-9.1zM280.61 322.3h9.1v2h-9.1zM289.71 174.3h9.1v1h-9.1zM289.71 281.3h9.1v3h-9.1zM298.81 100.3h9.1v1h-9.1zM298.81 289.3h9.1v1h-9.1zM298.81 355.3h9.1v2h-9.1zM307.9 123.3h9.1v1h-9.1zM307.9 166.3h9.1v1h-9.1zM80.48 459.6h9.1v1h-9.1zM80.48 469.6h9.1v1h-9.1zM80.48 521.6h9.1v1h-9.1zM80.48 529.6h9.1v1h-9.1zM80.48 534.6h9.1v6h-9.1zM80.48 544.6h9.1v1h-9.1zM80.48 547.6h9.1v1h-9.1zM80.48 552.6h9.1v1h-9.1zM80.48 559.6h9.1v1h-9.1zM80.48 565.6h9.1v3h-9.1zM80.48 570.6h9.1v3h-9.1zM80.48 591.6h9.1v4h-9.1zM80.48 597.6h9.1v1h-9.1zM80.48 605.6h9.1v1h-9.1zM80.48 617.6h9.1v1h-9.1zM80.48 622.6h9.1v2h-9.1zM80.48 627.6h9.1v2h-9.1zM80.48 638.6h9.1v2h-9.1zM80.48 695.6h9.1v2h-9.1zM80.48 701.6h9.1v2h-9.1zM80.48 732.6h9.1v2h-9.1zM80.48 749.6h9.1v4h-9.1zM89.58 454.6h9.1v2h-9.1zM89.58 472.6h9.1v1h-9.1zM89.58 506.6h9.1v2h-9.1zM89.58 513.6h9.1v2h-9.1zM89.58 519.6h9.1v2h-9.1zM89.58 534.6h9.1v1h-9.1zM89.58 540.6h9.1v1h-9.1zM89.58 554.6h9.1v2h-9.1zM89.58 561.6h9.1v1h-9.1zM89.58 569.6h9.1v3h-9.1zM89.58 581.6h9.1v2h-9.1zM89.58 584.6h9.1v4h-9.1zM89.58 597.6h9.1v1h-9.1zM89.58 621.6h9.1v2h-9.1zM89.58 630.6h9.1v1h-9.1zM89.58 659.6h9.1v2h-9.1zM89.58 666.6h9.1v2h-9.1zM89.58 670.6h9.1v1h-9.1zM89.58 680.6h9.1v2h-9.1zM89.58 685.6h9.1v2h-9.1zM89.58 690.6h9.1v1h-9.1zM89.58 692.6h9.1v2h-9.1zM89.58 697.6h9.1v2h-9.1zM89.58 753.6h9.1v3h-9.1zM98.68 485.6h9.1v1h-9.1zM98.68 504.6h9.1v1h-9.1zM98.68 515.6h9.1v2h-9.1zM98.68 521.6h9.1v1h-9.1zM98.68 523.6h9.1v2h-9.1zM98.68 530.6h9.1v2h-9.1zM98.68 538.6h9.1v1h-9.1zM98.68 540.6h9.1v2h-9.1zM98.68 547.6h9.1v3h-9.1zM98.68 553.6h9.1v2h-9.1zM98.68 561.6h9.1v1h-9.1zM98.68 574.6h9.1v1h-9.1zM98.68 576.6h9.1v2h-9.1zM98.68 582.6h9.1v2h-9.1zM98.68 594.6h9.1v1h-9.1zM98.68 596.6h9.1v1h-9.1zM98.68 606.6h9.1v2h-9.1zM98.68 615.6h9.1v3h-9.1zM98.68 626.6h9.1v1h-9.1zM98.68 632.6h9.1v1h-9.1zM98.68 634.6h9.1v2h-9.1zM98.68 638.6h9.1v2h-9.1zM98.68 652.6h9.1v1h-9.1zM98.68 661.6h9.1v2h-9.1zM98.68 693.6h9.1v1h-9.1zM98.68 719.6h9.1v5h-9.1zM98.68 737.6h9.1v2h-9.1zM107.77 480.6h9.1v2h-9.1zM107.77 484.6h9.1v2h-9.1zM107.77 509.6h9.1v2h-9.1zM107.77 515.6h9.1v2h-9.1zM107.77 528.6h9.1v4h-9.1zM107.77 540.6h9.1v1h-9.1zM107.77 547.6h9.1v2h-9.1zM107.77 561.6h9.1v5h-9.1zM107.77 577.6h9.1v1h-9.1zM107.77 580.6h9.1v1h-9.1zM107.77 583.6h9.1v1h-9.1zM107.77 588.6h9.1v1h-9.1zM107.77 604.6h9.1v1h-9.1zM107.77 612.6h9.1v1h-9.1zM107.77 640.6h9.1v2h-9.1zM107.77 647.6h9.1v2h-9.1zM107.77 650.6h9.1v2h-9.1zM107.77 654.6h9.1v1h-9.1zM107.77 659.6h9.1v1h-9.1zM107.77 686.6h9.1v2h-9.1zM116.87 467.6h9.1v2h-9.1zM116.87 473.6h9.1v1h-9.1zM116.87 495.6h9.1v2h-9.1zM116.87 505.6h9.1v1h-9.1zM116.87 518.6h9.1v3h-9.1zM116.87 523.6h9.1v1h-9.1zM116.87 526.6h9.1v2h-9.1zM116.87 530.6h9.1v2h-9.1zM116.87 546.6h9.1v2h-9.1zM116.87 556.6h9.1v2h-9.1zM116.87 564.6h9.1v1h-9.1zM116.87 570.6h9.1v1h-9.1zM116.87 578.6h9.1v1h-9.1zM116.87 583.6h9.1v2h-9.1zM116.87 587.6h9.1v2h-9.1zM116.87 591.6h9.1v1h-9.1zM116.87 596.6h9.1v2h-9.1zM116.87 600.6h9.1v1h-9.1zM116.87 615.6h9.1v2h-9.1zM116.87 638.6h9.1v6h-9.1zM116.87 657.6h9.1v1h-9.1zM116.87 669.6h9.1v2h-9.1zM116.87 737.6h9.1v1h-9.1zM116.87 746.6h9.1v1h-9.1zM125.97 445.6h9.1v1h-9.1zM125.97 478.6h9.1v1h-9.1zM125.97 492.6h9.1v1h-9.1zM125.97 500.6h9.1v1h-9.1zM125.97 502.6h9.1v2h-9.1zM125.97 507.6h9.1v2h-9.1zM125.97 528.6h9.1v1h-9.1zM125.97 551.6h9.1v1h-9.1zM125.97 555.6h9.1v1h-9.1zM125.97 561.6h9.1v2h-9.1zM125.97 566.6h9.1v2h-9.1zM125.97 570.6h9.1v3h-9.1zM125.97 575.6h9.1v2h-9.1zM125.97 580.6h9.1v1h-9.1zM125.97 590.6h9.1v3h-9.1zM125.97 599.6h9.1v2h-9.1zM125.97 613.6h9.1v2h-9.1zM125.97 620.6h9.1v2h-9.1zM125.97 628.6h9.1v2h-9.1zM125.97 633.6h9.1v1h-9.1zM125.97 641.6h9.1v1h-9.1zM125.97 647.6h9.1v1h-9.1zM125.97 700.6h9.1v2h-9.1zM125.97 717.6h9.1v1h-9.1zM125.97 719.6h9.1v1h-9.1zM135.06 488.6h9.1v1h-9.1zM135.06 492.6h9.1v1h-9.1zM135.06 509.6h9.1v1h-9.1zM135.06 518.6h9.1v2h-9.1zM135.06 524.6h9.1v2h-9.1zM135.06 539.6h9.1v3h-9.1zM135.06 566.6h9.1v2h-9.1zM135.06 569.6h9.1v2h-9.1zM135.06 572.6h9.1v3h-9.1zM135.06 576.6h9.1v1h-9.1zM135.06 583.6h9.1v2h-9.1zM135.06 591.6h9.1v1h-9.1zM135.06 600.6h9.1v5h-9.1zM135.06 618.6h9.1v1h-9.1zM135.06 625.6h9.1v2h-9.1zM135.06 635.6h9.1v1h-9.1zM135.06 641.6h9.1v1h-9.1zM135.06 648.6h9.1v4h-9.1zM135.06 663.6h9.1v1h-9.1zM135.06 668.6h9.1v2h-9.1zM135.06 677.6h9.1v2h-9.1zM135.06 680.6h9.1v1h-9.1zM135.06 692.6h9.1v2h-9.1zM135.06 708.6h9.1v2h-9.1zM135.06 750.6h9.1v2h-9.1zM135.06 761.6h9.1v1h-9.1zM144.16 422.6h9.1v2h-9.1zM144.16 471.6h9.1v1h-9.1zM144.16 485.6h9.1v1h-9.1zM144.16 492.6h9.1v1h-9.1zM144.16 515.6h9.1v1h-9.1zM144.16 529.6h9.1v1h-9.1zM144.16 548.6h9.1v2h-9.1zM144.16 560.6h9.1v5h-9.1zM144.16 571.6h9.1v1h-9.1zM144.16 576.6h9.1v1h-9.1zM144.16 585.6h9.1v5h-9.1zM144.16 593.6h9.1v2h-9.1zM144.16 598.6h9.1v1h-9.1zM144.16 601.6h9.1v3h-9.1zM144.16 608.6h9.1v2h-9.1zM144.16 612.6h9.1v2h-9.1zM144.16 616.6h9.1v1h-9.1zM144.16 620.6h9.1v1h-9.1zM144.16 624.6h9.1v1h-9.1zM144.16 628.6h9.1v4h-9.1zM144.16 641.6h9.1v2h-9.1zM144.16 647.6h9.1v2h-9.1zM144.16 653.6h9.1v2h-9.1zM144.16 688.6h9.1v1h-9.1zM144.16 690.6h9.1v1h-9.1zM144.16 719.6h9.1v2h-9.1zM144.16 726.6h9.1v2h-9.1zM144.16 738.6h9.1v2h-9.1zM144.16 744.6h9.1v1h-9.1zM153.26 471.6h9.1v2h-9.1zM153.26 485.6h9.1v2h-9.1zM153.26 498.6h9.1v2h-9.1zM153.26 505.6h9.1v1h-9.1zM153.26 532.6h9.1v2h-9.1zM153.26 536.6h9.1v2h-9.1zM153.26 551.6h9.1v2h-9.1zM153.26 571.6h9.1v4h-9.1zM153.26 584.6h9.1v2h-9.1zM153.26 589.6h9.1v2h-9.1zM153.26 593.6h9.1v2h-9.1zM153.26 622.6h9.1v1h-9.1zM153.26 625.6h9.1v4h-9.1zM153.26 635.6h9.1v2h-9.1zM153.26 654.6h9.1v2h-9.1zM153.26 657.6h9.1v1h-9.1zM153.26 679.6h9.1v2h-9.1zM153.26 685.6h9.1v2h-9.1zM153.26 691.6h9.1v1h-9.1zM153.26 693.6h9.1v1h-9.1zM153.26 700.6h9.1v1h-9.1zM153.26 702.6h9.1v2h-9.1zM153.26 710.6h9.1v1h-9.1zM153.26 721.6h9.1v1h-9.1zM153.26 723.6h9.1v1h-9.1zM153.26 743.6h9.1v3h-9.1zM153.26 753.6h9.1v1h-9.1zM162.35 514.6h9.1v2h-9.1zM162.35 522.6h9.1v2h-9.1zM162.35 541.6h9.1v2h-9.1zM162.35 551.6h9.1v1h-9.1zM162.35 554.6h9.1v2h-9.1zM162.35 563.6h9.1v2h-9.1zM162.35 566.6h9.1v1h-9.1zM162.35 573.6h9.1v2h-9.1zM162.35 577.6h9.1v2h-9.1zM162.35 583.6h9.1v5h-9.1zM162.35 606.6h9.1v1h-9.1zM162.35 614.6h9.1v2h-9.1zM162.35 629.6h9.1v2h-9.1zM162.35 640.6h9.1v1h-9.1zM162.35 665.6h9.1v2h-9.1zM162.35 670.6h9.1v1h-9.1zM162.35 677.6h9.1v1h-9.1zM162.35 688.6h9.1v2h-9.1zM162.35 713.6h9.1v1h-9.1zM162.35 719.6h9.1v2h-9.1zM162.35 725.6h9.1v1h-9.1zM162.35 735.6h9.1v1h-9.1zM162.35 737.6h9.1v1h-9.1zM162.35 742.6h9.1v2h-9.1zM171.45 411.6h9.1v2h-9.1zM171.45 506.6h9.1v3h-9.1zM171.45 534.6h9.1v2h-9.1zM171.45 557.6h9.1v3h-9.1zM171.45 597.6h9.1v1h-9.1zM171.45 655.6h9.1v4h-9.1zM171.45 662.6h9.1v1h-9.1zM171.45 696.6h9.1v2h-9.1zM171.45 700.6h9.1v2h-9.1zM171.45 733.6h9.1v1h-9.1zM180.55 492.6h9.1v2h-9.1zM180.55 496.6h9.1v3h-9.1zM180.55 511.6h9.1v1h-9.1zM180.55 519.6h9.1v2h-9.1zM180.55 566.6h9.1v1h-9.1zM180.55 575.6h9.1v2h-9.1zM180.55 700.6h9.1v2h-9.1zM180.55 728.6h9.1v2h-9.1zM180.55 731.6h9.1v1h-9.1zM189.65 427.6h9.1v1h-9.1zM189.65 454.6h9.1v2h-9.1zM189.65 470.6h9.1v1h-9.1zM189.65 568.6h9.1v2h-9.1zM189.65 595.6h9.1v2h-9.1zM189.65 652.6h9.1v2h-9.1zM189.65 685.6h9.1v2h-9.1zM189.65 691.6h9.1v1h-9.1zM189.65 707.6h9.1v2h-9.1zM189.65 724.6h9.1v1h-9.1zM189.65 734.6h9.1v1h-9.1zM189.65 762.6h9.1v0.8h-9.1zM198.74 404.6h9.1v3h-9.1zM198.74 470.6h9.1v1h-9.1zM198.74 480.6h9.1v2h-9.1zM198.74 502.6h9.1v1h-9.1zM198.74 531.6h9.1v3h-9.1zM198.74 543.6h9.1v1h-9.1zM198.74 570.6h9.1v3h-9.1zM198.74 595.6h9.1v2h-9.1zM198.74 637.6h9.1v2h-9.1zM198.74 640.6h9.1v1h-9.1zM198.74 652.6h9.1v2h-9.1zM198.74 660.6h9.1v2h-9.1zM198.74 663.6h9.1v1h-9.1zM198.74 702.6h9.1v3h-9.1zM198.74 762.6h9.1v0.8h-9.1zM207.84 696.6h9.1v2h-9.1zM207.84 700.6h9.1v2h-9.1zM207.84 762.6h9.1v0.8h-9.1zM216.94 407.6h9.1v1h-9.1zM216.94 447.6h9.1v2h-9.1zM216.94 470.6h9.1v1h-9.1zM216.94 500.6h9.1v2h-9.1zM216.94 509.6h9.1v1h-9.1zM216.94 609.6h9.1v2h-9.1zM216.94 633.6h9.1v3h-9.1zM216.94 649.6h9.1v1h-9.1zM216.94 656.6h9.1v3h-9.1zM216.94 698.6h9.1v1h-9.1zM216.94 702.6h9.1v3h-9.1zM216.94 720.6h9.1v1h-9.1zM216.94 762.6h9.1v0.8h-9.1zM226.03 422.6h9.1v2h-9.1zM226.03 441.6h9.1v2h-9.1zM226.03 471.6h9.1v1h-9.1zM226.03 505.6h9.1v1h-9.1zM226.03 519.6h9.1v2h-9.1zM226.03 543.6h9.1v1h-9.1zM226.03 566.6h9.1v1h-9.1zM226.03 586.6h9.1v3h-9.1zM226.03 597.6h9.1v1h-9.1zM226.03 611.6h9.1v1h-9.1zM226.03 647.6h9.1v2h-9.1zM226.03 715.6h9.1v1h-9.1zM226.03 721.6h9.1v2h-9.1zM226.03 733.6h9.1v1h-9.1zM226.03 735.6h9.1v2h-9.1zM226.03 762.6h9.1v0.8h-9.1zM235.13 440.6h9.1v1h-9.1zM235.13 470.6h9.1v1h-9.1zM235.13 482.6h9.1v1h-9.1zM235.13 595.6h9.1v3h-9.1zM235.13 608.6h9.1v1h-9.1zM235.13 685.6h9.1v2h-9.1zM235.13 751.6h9.1v2h-9.1zM244.23 470.6h9.1v1h-9.1zM244.23 480.6h9.1v2h-9.1zM244.23 491.6h9.1v1h-9.1zM244.23 502.6h9.1v1h-9.1zM244.23 505.6h9.1v1h-9.1zM244.23 573.6h9.1v1h-9.1zM244.23 645.6h9.1v2h-9.1zM244.23 656.6h9.1v3h-9.1zM244.23 696.6h9.1v2h-9.1zM244.23 715.6h9.1v1h-9.1zM244.23 724.6h9.1v1h-9.1zM253.32 427.6h9.1v1h-9.1zM253.32 494.6h9.1v2h-9.1zM253.32 577.6h9.1v2h-9.1zM253.32 612.6h9.1v2h-9.1zM253.32 624.6h9.1v1h-9.1zM253.32 643.6h9.1v2h-9.1zM253.32 691.6h9.1v1h-9.1zM253.32 693.6h9.1v2h-9.1zM253.32 715.6h9.1v1h-9.1zM253.32 720.6h9.1v1h-9.1zM253.32 751.6h9.1v1h-9.1zM262.42 440.6h9.1v1h-9.1zM262.42 480.6h9.1v2h-9.1zM262.42 505.6h9.1v1h-9.1zM262.42 519.6h9.1v2h-9.1zM262.42 601.6h9.1v3h-9.1zM262.42 615.6h9.1v2h-9.1zM262.42 625.6h9.1v3h-9.1zM262.42 631.6h9.1v5h-9.1zM262.42 647.6h9.1v2h-9.1zM262.42 700.6h9.1v2h-9.1zM271.52 454.6h9.1v2h-9.1zM271.52 552.6h9.1v3h-9.1zM271.52 563.6h9.1v2h-9.1zM271.52 624.6h9.1v1h-9.1zM271.52 674.6h9.1v2h-9.1zM271.52 700.6h9.1v2h-9.1zM271.52 728.6h9.1v2h-9.1zM280.61 407.6h9.1v1h-9.1zM280.61 543.6h9.1v1h-9.1zM280.61 575.6h9.1v2h-9.1zM280.61 615.6h9.1v2h-9.1zM280.61 636.6h9.1v1h-9.1zM280.61 681.6h9.1v2h-9.1zM280.61 705.6h9.1v2h-9.1zM280.61 730.6h9.1v1h-9.1zM289.71 505.6h9.1v1h-9.1zM289.71 586.6h9.1v5h-9.1zM289.71 607.6h9.1v1h-9.1zM289.71 647.6h9.1v2h-9.1zM289.71 660.6h9.1v2h-9.1zM289.71 691.6h9.1v1h-9.1zM289.71 721.6h9.1v2h-9.1zM289.71 733.6h9.1v1h-9.1zM289.71 746.6h9.1v1h-9.1zM289.71 762.6h9.1v0.8h-9.1zM298.81 414.6h9.1v3h-9.1zM298.81 441.6h9.1v2h-9.1zM298.81 574.6h9.1v1h-9.1zM298.81 607.6h9.1v1h-9.1zM298.81 612.6h9.1v2h-9.1zM298.81 691.6h9.1v1h-9.1zM298.81 696.6h9.1v2h-9.1zM298.81 747.6h9.1v3h-9.1zM307.9 427.6h9.1v1h-9.1zM307.9 470.6h9.1v1h-9.1zM307.9 505.6h9.1v1h-9.1zM307.9 519.6h9.1v2h-9.1zM307.9 534.6h9.1v2h-9.1zM307.9 543.6h9.1v1h-9.1zM307.9 557.6h9.1v3h-9.1zM307.9 566.6h9.1v1h-9.1zM307.9 597.6h9.1v1h-9.1zM307.9 601.6h9.1v3h-9.1zM307.9 647.6h9.1v2h-9.1zM307.9 746.6h9.1v1h-9.1z"/><path fill="#00d400" d="M35 83.3h9.1v1h-9.1zM35 100.3h9.1v1h-9.1zM35 124.3h9.1v2h-9.1zM35 127.3h9.1v7h-9.1zM35 135.3h9.1v4h-9.1zM35 146.3h9.1v6h-9.1zM35 162.3h9.1v3h-9.1zM35 167.3h9.1v1h-9.1zM35 172.3h9.1v7h-9.1zM35 186.3h9.1v1h-9.1zM35 191.3h9.1v2h-9.1zM35 194.3h9.1v5h-9.1zM35 202.3h9.1v1h-9.1zM35 224.3h9.1v2h-9.1zM35 274.3h9.1v2h-9.1zM35 314.3h9.1v2h-9.1zM35 357.3h9.1v3h-9.1zM44.1 41.3h9.1v2h-9.1zM44.1 46.3h9.1v9h-9.1zM44.1 56.3h9.1v2h-9.1zM44.1 61.3h9.1v4h-9.1zM44.1 69.3h9.1v7h-9.1zM44.1 78.3h9.1v7h-9.1zM44.1 88.3h9.1v2h-9.1zM44.1 92.3h9.1v4h-9.1zM44.1 98.3h9.1v1h-9.1zM44.1 101.3h9.1v1h-9.1zM44.1 107.3h9.1v4h-9.1zM44.1 115.3h9.1v1h-9.1zM44.1 119.3h9.1v3h-9.1zM44.1 126.3h9.1v1h-9.1zM44.1 129.3h9.1v2h-9.1zM44.1 156.3h9.1v1h-9.1zM44.1 170.3h9.1v1h-9.1zM44.1 176.3h9.1v2h-9.1zM44.1 193.3h9.1v3h-9.1zM53.19 115.3h9.1v3h-9.1zM53.19 122.3h9.1v6h-9.1zM53.19 129.3h9.1v1h-9.1zM53.19 133.3h9.1v1h-9.1zM53.19 143.3h9.1v3h-9.1zM53.19 153.3h9.1v3h-9.1zM53.19 158.3h9.1v2h-9.1zM53.19 162.3h9.1v1h-9.1zM53.19 164.3h9.1v3h-9.1zM53.19 177.3h9.1v2h-9.1zM53.19 183.3h9.1v3h-9.1zM53.19 189.3h9.1v3h-9.1zM53.19 195.3h9.1v2h-9.1zM53.19 207.3h9.1v3h-9.1zM53.19 217.3h9.1v1h-9.1zM53.19 225.3h9.1v3h-9.1zM53.19 260.3h9.1v3h-9.1zM53.19 342.3h9.1v1h-9.1zM62.29 89.3h9.1v2h-9.1zM62.29 95.3h9.1v3h-9.1zM62.29 113.3h9.1v3h-9.1zM62.29 123.3h9.1v3h-9.1zM62.29 128.3h9.1v4h-9.1zM62.29 151.3h9.1v2h-9.1zM62.29 160.3h9.1v2h-9.1zM62.29 175.3h9.1v6h-9.1zM62.29 185.3h9.1v5h-9.1zM62.29 196.3h9.1v4h-9.1zM62.29 228.3h9.1v2h-9.1zM62.29 233.3h9.1v2h-9.1zM62.29 238.3h9.1v2h-9.1zM62.29 249.3h9.1v1h-9.1zM62.29 255.3h9.1v3h-9.1zM62.29 267.3h9.1v3h-9.1zM62.29 286.3h9.1v6h-9.1zM62.29 302.3h9.1v3h-9.1zM62.29 319.3h9.1v2h-9.1zM62.29 335.3h9.1v2h-9.1zM62.29 357.3h9.1v2h-9.1zM71.39 33.3h9.1v15h-9.1zM71.39 49.3h9.1v14h-9.1zM71.39 66.3h9.1v3h-9.1zM71.39 72.3h9.1v6h-9.1zM71.39 80.3h9.1v1h-9.1zM71.39 85.3h9.1v1h-9.1zM71.39 91.3h9.1v5h-9.1zM71.39 131.3h9.1v5h-9.1zM71.39 146.3h9.1v2h-9.1zM71.39 152.3h9.1v3h-9.1zM71.39 161.3h9.1v3h-9.1zM171.45 33.3h9.1v3h-9.1zM171.45 50.3h9.1v2h-9.1zM171.45 57.3h9.1v3h-9.1zM171.45 164.3h9.1v2h-9.1zM171.45 227.3h9.1v3h-9.1zM171.45 231.3h9.1v1h-9.1zM171.45 239.3h9.1v2h-9.1zM171.45 271.3h9.1v1h-9.1zM171.45 279.3h9.1v2h-9.1zM171.45 288.3h9.1v1h-9.1zM171.45 322.3h9.1v2h-9.1zM180.55 40.3h9.1v2h-9.1zM180.55 50.3h9.1v2h-9.1zM180.55 125.3h9.1v1h-9.1zM180.55 138.3h9.1v2h-9.1zM180.55 246.3h9.1v1h-9.1zM180.55 257.3h9.1v2h-9.1zM180.55 281.3h9.1v3h-9.1zM180.55 313.3h9.1v1h-9.1zM180.55 334.3h9.1v2h-9.1zM180.55 355.3h9.1v2h-9.1zM189.65 116.3h9.1v2h-9.1zM189.65 140.3h9.1v2h-9.1zM189.65 154.3h9.1v3h-9.1zM189.65 185.3h9.1v3h-9.1zM189.65 222.3h9.1v1h-9.1zM189.65 238.3h9.1v1h-9.1zM189.65 242.3h9.1v2h-9.1zM189.65 251.3h9.1v2h-9.1zM189.65 254.3h9.1v1h-9.1zM189.65 290.3h9.1v3h-9.1zM189.65 294.3h9.1v1h-9.1zM189.65 325.3h9.1v1h-9.1zM189.65 334.3h9.1v2h-9.1zM189.65 346.3h9.1v3h-9.1zM198.74 61.3h9.1v1h-9.1zM198.74 96.3h9.1v3h-9.1zM198.74 207.3h9.1v2h-9.1zM198.74 261.3h9.1v1h-9.1zM198.74 362.3h9.1v2h-9.1zM198.74 371.3h9.1v1h-9.1zM207.84 60.3h9.1v1h-9.1zM207.84 79.3h9.1v1h-9.1zM207.84 132.3h9.1v3h-9.1zM207.84 226.3h9.1v1h-9.1zM207.84 266.3h9.1v2h-9.1zM207.84 281.3h9.1v3h-9.1zM207.84 320.3h9.1v1h-9.1zM207.84 362.3h9.1v2h-9.1zM207.84 367.3h9.1v1h-9.1zM216.94 102.3h9.1v2h-9.1zM216.94 132.3h9.1v2h-9.1zM216.94 143.3h9.1v1h-9.1zM216.94 296.3h9.1v1h-9.1zM226.03 168.3h9.1v3h-9.1zM226.03 188.3h9.1v1h-9.1zM226.03 226.3h9.1v1h-9.1zM226.03 272.3h9.1v2h-9.1zM226.03 344.3h9.1v1h-9.1zM226.03 352.3h9.1v2h-9.1zM226.03 362.3h9.1v2h-9.1zM235.13 116.3h9.1v2h-9.1zM235.13 138.3h9.1v2h-9.1zM235.13 227.3h9.1v3h-9.1zM235.13 239.3h9.1v2h-9.1zM235.13 281.3h9.1v3h-9.1zM235.13 290.3h9.1v3h-9.1zM244.23 102.3h9.1v2h-9.1zM244.23 125.3h9.1v1h-9.1zM244.23 138.3h9.1v2h-9.1zM244.23 147.3h9.1v2h-9.1zM244.23 150.3h9.1v2h-9.1zM244.23 185.3h9.1v3h-9.1zM244.23 207.3h9.1v2h-9.1zM244.23 231.3h9.1v1h-9.1zM244.23 254.3h9.1v1h-9.1zM253.32 102.3h9.1v2h-9.1zM253.32 160.3h9.1v1h-9.1zM253.32 234.3h9.1v1h-9.1zM253.32 238.3h9.1v1h-9.1zM253.32 257.3h9.1v2h-9.1zM253.32 293.3h9.1v1h-9.1zM253.32 322.3h9.1v2h-9.1zM253.32 378.3h9.1v1h-9.1zM262.42 62.3h9.1v1h-9.1zM262.42 89.3h9.1v3h-9.1zM262.42 182.3h9.1v3h-9.1zM262.42 226.3h9.1v1h-9.1zM262.42 279.3h9.1v2h-9.1zM271.52 71.3h9.1v1h-9.1zM271.52 78.3h9.1v1h-9.1zM271.52 102.3h9.1v2h-9.1zM271.52 147.3h9.1v2h-9.1zM271.52 168.3h9.1v3h-9.1zM271.52 175.3h9.1v2h-9.1zM271.52 239.3h9.1v2h-9.1zM271.52 298.3h9.1v3h-9.1zM271.52 318.3h9.1v2h-9.1zM271.52 325.3h9.1v1h-9.1zM280.61 82.3h9.1v2h-9.1zM280.61 122.3h9.1v1h-9.1zM280.61 138.3h9.1v2h-9.1zM280.61 150.3h9.1v2h-9.1zM280.61 188.3h9.1v1h-9.1zM280.61 232.3h9.1v2h-9.1zM280.61 313.3h9.1v1h-9.1zM280.61 320.3h9.1v1h-9.1zM280.61 362.3h9.1v2h-9.1zM289.71 55.3h9.1v2h-9.1zM289.71 66.3h9.1v1h-9.1zM289.71 143.3h9.1v1h-9.1zM289.71 213.3h9.1v3h-9.1zM289.71 244.3h9.1v1h-9.1zM289.71 344.3h9.1v1h-9.1zM298.81 42.3h9.1v1h-9.1zM298.81 63.3h9.1v3h-9.1zM298.81 102.3h9.1v5h-9.1zM298.81 125.3h9.1v1h-9.1zM298.81 182.3h9.1v3h-9.1zM298.81 222.3h9.1v1h-9.1zM298.81 231.3h9.1v1h-9.1zM298.81 262.3h9.1v1h-9.1zM298.81 281.3h9.1v3h-9.1zM298.81 327.3h9.1v1h-9.1zM298.81 334.3h9.1v2h-9.1zM298.81 341.3h9.1v3h-9.1zM298.81 362.3h9.1v2h-9.1zM298.81 378.3h9.1v1h-9.1zM307.9 42.3h9.1v1h-9.1zM307.9 50.3h9.1v5h-9.1zM307.9 82.3h9.1v2h-9.1zM307.9 96.3h9.1v3h-9.1zM307.9 134.3h9.1v1h-9.1zM307.9 226.3h9.1v4h-9.1zM307.9 254.3h9.1v1h-9.1zM307.9 281.3h9.1v3h-9.1zM307.9 288.3h9.1v1h-9.1zM307.9 344.3h9.1v1h-9.1zM80.48 434.6h9.1v1h-9.1zM80.48 436.6h9.1v1h-9.1zM80.48 438.6h9.1v2h-9.1zM80.48 449.6h9.1v1h-9.1zM80.48 453.6h9.1v2h-9.1zM80.48 462.6h9.1v1h-9.1zM80.48 470.6h9.1v2h-9.1zM80.48 486.6h9.1v1h-9.1zM80.48 498.6h9.1v4h-9.1zM80.48 503.6h9.1v1h-9.1zM80.48 506.6h9.1v2h-9.1zM80.48 523.6h9.1v1h-9.1zM80.48 530.6h9.1v1h-9.1zM80.48 551.6h9.1v1h-9.1zM80.48 560.6h9.1v1h-9.1zM80.48 563.6h9.1v2h-9.1zM80.48 573.6h9.1v1h-9.1zM80.48 582.6h9.1v1h-9.1zM80.48 587.6h9.1v4h-9.1zM80.48 595.6h9.1v1h-9.1zM80.48 604.6h9.1v1h-9.1zM80.48 606.6h9.1v1h-9.1zM80.48 621.6h9.1v1h-9.1zM80.48 625.6h9.1v2h-9.1zM80.48 631.6h9.1v1h-9.1zM80.48 652.6h9.1v2h-9.1zM80.48 668.6h9.1v2h-9.1zM80.48 673.6h9.1v1h-9.1zM80.48 745.6h9.1v2h-9.1zM80.48 755.6h9.1v2h-9.1zM89.58 435.6h9.1v2h-9.1zM89.58 438.6h9.1v2h-9.1zM89.58 489.6h9.1v4h-9.1zM89.58 498.6h9.1v3h-9.1zM89.58 505.6h9.1v1h-9.1zM89.58 508.6h9.1v5h-9.1zM89.58 526.6h9.1v2h-9.1zM89.58 530.6h9.1v4h-9.1zM89.58 535.6h9.1v4h-9.1zM89.58 546.6h9.1v4h-9.1zM89.58 552.6h9.1v2h-9.1zM89.58 556.6h9.1v2h-9.1zM89.58 562.6h9.1v1h-9.1zM89.58 567.6h9.1v2h-9.1zM89.58 591.6h9.1v1h-9.1zM89.58 594.6h9.1v3h-9.1zM89.58 600.6h9.1v4h-9.1zM89.58 611.6h9.1v1h-9.1zM89.58 613.6h9.1v1h-9.1zM89.58 626.6h9.1v1h-9.1zM89.58 638.6h9.1v2h-9.1zM89.58 646.6h9.1v1h-9.1zM89.58 649.6h9.1v1h-9.1zM89.58 656.6h9.1v1h-9.1zM89.58 700.6h9.1v1h-9.1zM89.58 727.6h9.1v2h-9.1zM89.58 759.6h9.1v1h-9.1zM98.68 418.6h9.1v1h-9.1zM98.68 421.6h9.1v1h-9.1zM98.68 428.6h9.1v1h-9.1zM98.68 436.6h9.1v2h-9.1zM98.68 446.6h9.1v1h-9.1zM98.68 459.6h9.1v1h-9.1zM98.68 461.6h9.1v3h-9.1zM98.68 468.6h9.1v1h-9.1zM98.68 475.6h9.1v2h-9.1zM98.68 490.6h9.1v1h-9.1zM98.68 495.6h9.1v4h-9.1zM98.68 503.6h9.1v1h-9.1zM98.68 505.6h9.1v1h-9.1zM98.68 507.6h9.1v1h-9.1zM98.68 514.6h9.1v1h-9.1zM98.68 527.6h9.1v2h-9.1zM98.68 532.6h9.1v1h-9.1zM98.68 537.6h9.1v1h-9.1zM98.68 550.6h9.1v2h-9.1zM98.68 558.6h9.1v2h-9.1zM98.68 562.6h9.1v3h-9.1zM98.68 566.6h9.1v1h-9.1zM98.68 569.6h9.1v1h-9.1zM98.68 572.6h9.1v2h-9.1zM98.68 580.6h9.1v2h-9.1zM98.68 586.6h9.1v1h-9.1zM98.68 588.6h9.1v1h-9.1zM98.68 590.6h9.1v2h-9.1zM98.68 618.6h9.1v1h-9.1zM98.68 624.6h9.1v2h-9.1zM98.68 627.6h9.1v1h-9.1zM98.68 630.6h9.1v2h-9.1zM98.68 644.6h9.1v1h-9.1zM98.68 646.6h9.1v1h-9.1zM98.68 668.6h9.1v1h-9.1zM98.68 698.6h9.1v2h-9.1zM98.68 707.6h9.1v2h-9.1zM98.68 734.6h9.1v1h-9.1zM98.68 753.6h9.1v2h-9.1zM107.77 416.6h9.1v1h-9.1zM107.77 444.6h9.1v1h-9.1zM107.77 452.6h9.1v4h-9.1zM107.77 458.6h9.1v2h-9.1zM107.77 464.6h9.1v4h-9.1zM107.77 475.6h9.1v1h-9.1zM107.77 483.6h9.1v1h-9.1zM107.77 493.6h9.1v4h-9.1zM107.77 499.6h9.1v2h-9.1zM107.77 502.6h9.1v1h-9.1zM107.77 513.6h9.1v2h-9.1zM107.77 517.6h9.1v1h-9.1zM107.77 535.6h9.1v1h-9.1zM107.77 537.6h9.1v2h-9.1zM107.77 545.6h9.1v2h-9.1zM107.77 549.6h9.1v2h-9.1zM107.77 573.6h9.1v2h-9.1zM107.77 578.6h9.1v2h-9.1zM107.77 582.6h9.1v1h-9.1zM107.77 590.6h9.1v1h-9.1zM107.77 598.6h9.1v4h-9.1zM107.77 611.6h9.1v1h-9.1zM107.77 617.6h9.1v1h-9.1zM107.77 664.6h9.1v1h-9.1zM107.77 666.6h9.1v1h-9.1zM107.77 671.6h9.1v1h-9.1zM107.77 677.6h9.1v2h-9.1zM107.77 717.6h9.1v1h-9.1zM107.77 741.6h9.1v2h-9.1zM107.77 750.6h9.1v2h-9.1zM116.87 423.6h9.1v1h-9.1zM116.87 429.6h9.1v2h-9.1zM116.87 432.6h9.1v2h-9.1zM116.87 448.6h9.1v1h-9.1zM116.87 463.6h9.1v1h-9.1zM116.87 478.6h9.1v2h-9.1zM116.87 485.6h9.1v2h-9.1zM116.87 489.6h9.1v4h-9.1zM116.87 498.6h9.1v2h-9.1zM116.87 514.6h9.1v1h-9.1zM116.87 521.6h9.1v2h-9.1zM116.87 524.6h9.1v2h-9.1zM116.87 528.6h9.1v2h-9.1zM116.87 532.6h9.1v5h-9.1zM116.87 559.6h9.1v1h-9.1zM116.87 563.6h9.1v1h-9.1zM116.87 565.6h9.1v3h-9.1zM116.87 571.6h9.1v1h-9.1zM116.87 573.6h9.1v3h-9.1zM116.87 582.6h9.1v1h-9.1zM116.87 594.6h9.1v2h-9.1zM116.87 598.6h9.1v2h-9.1zM116.87 602.6h9.1v2h-9.1zM116.87 623.6h9.1v1h-9.1zM116.87 665.6h9.1v1h-9.1zM116.87 671.6h9.1v2h-9.1zM116.87 684.6h9.1v2h-9.1zM116.87 691.6h9.1v1h-9.1zM116.87 704.6h9.1v2h-9.1zM116.87 709.6h9.1v1h-9.1zM116.87 715.6h9.1v2h-9.1zM116.87 732.6h9.1v1h-9.1zM116.87 750.6h9.1v2h-9.1zM125.97 408.6h9.1v1h-9.1zM125.97 419.6h9.1v1h-9.1zM125.97 426.6h9.1v2h-9.1zM125.97 433.6h9.1v2h-9.1zM125.97 440.6h9.1v1h-9.1zM125.97 442.6h9.1v2h-9.1zM125.97 449.6h9.1v2h-9.1zM125.97 460.6h9.1v1h-9.1zM125.97 463.6h9.1v2h-9.1zM125.97 468.6h9.1v4h-9.1zM125.97 479.6h9.1v1h-9.1zM125.97 484.6h9.1v2h-9.1zM125.97 489.6h9.1v1h-9.1zM125.97 498.6h9.1v1h-9.1zM125.97 501.6h9.1v1h-9.1zM125.97 506.6h9.1v1h-9.1zM125.97 515.6h9.1v3h-9.1zM125.97 526.6h9.1v2h-9.1zM125.97 530.6h9.1v4h-9.1zM125.97 541.6h9.1v2h-9.1zM125.97 545.6h9.1v2h-9.1zM125.97 548.6h9.1v2h-9.1zM125.97 564.6h9.1v1h-9.1zM125.97 581.6h9.1v2h-9.1zM125.97 586.6h9.1v1h-9.1zM125.97 598.6h9.1v1h-9.1zM125.97 603.6h9.1v2h-9.1zM125.97 609.6h9.1v1h-9.1zM125.97 736.6h9.1v1h-9.1zM135.06 428.6h9.1v2h-9.1zM135.06 443.6h9.1v1h-9.1zM135.06 451.6h9.1v2h-9.1zM135.06 455.6h9.1v1h-9.1zM135.06 467.6h9.1v2h-9.1zM135.06 479.6h9.1v1h-9.1zM135.06 495.6h9.1v2h-9.1zM135.06 500.6h9.1v5h-9.1zM135.06 514.6h9.1v1h-9.1zM135.06 517.6h9.1v1h-9.1zM135.06 520.6h9.1v2h-9.1zM135.06 528.6h9.1v2h-9.1zM135.06 532.6h9.1v1h-9.1zM135.06 536.6h9.1v2h-9.1zM135.06 548.6h9.1v1h-9.1zM135.06 555.6h9.1v4h-9.1zM135.06 561.6h9.1v2h-9.1zM135.06 565.6h9.1v1h-9.1zM135.06 568.6h9.1v1h-9.1zM135.06 571.6h9.1v1h-9.1zM135.06 575.6h9.1v1h-9.1zM135.06 588.6h9.1v2h-9.1zM135.06 593.6h9.1v2h-9.1zM135.06 597.6h9.1v1h-9.1zM135.06 619.6h9.1v6h-9.1zM135.06 627.6h9.1v2h-9.1zM135.06 638.6h9.1v1h-9.1zM135.06 652.6h9.1v3h-9.1zM135.06 658.6h9.1v2h-9.1zM135.06 675.6h9.1v2h-9.1zM135.06 679.6h9.1v1h-9.1zM135.06 682.6h9.1v2h-9.1zM135.06 738.6h9.1v2h-9.1zM135.06 745.6h9.1v2h-9.1zM144.16 426.6h9.1v1h-9.1zM144.16 449.6h9.1v2h-9.1zM144.16 452.6h9.1v1h-9.1zM144.16 459.6h9.1v1h-9.1zM144.16 474.6h9.1v1h-9.1zM144.16 476.6h9.1v1h-9.1zM144.16 478.6h9.1v1h-9.1zM144.16 482.6h9.1v2h-9.1zM144.16 486.6h9.1v2h-9.1zM144.16 490.6h9.1v1h-9.1zM144.16 493.6h9.1v1h-9.1zM144.16 501.6h9.1v2h-9.1zM144.16 508.6h9.1v4h-9.1zM144.16 520.6h9.1v1h-9.1zM144.16 525.6h9.1v4h-9.1zM144.16 534.6h9.1v2h-9.1zM144.16 539.6h9.1v3h-9.1zM144.16 545.6h9.1v1h-9.1zM144.16 569.6h9.1v1h-9.1zM144.16 572.6h9.1v3h-9.1zM144.16 579.6h9.1v2h-9.1zM144.16 582.6h9.1v1h-9.1zM144.16 590.6h9.1v2h-9.1zM144.16 597.6h9.1v1h-9.1zM144.16 604.6h9.1v1h-9.1zM144.16 617.6h9.1v2h-9.1zM144.16 622.6h9.1v2h-9.1zM144.16 643.6h9.1v2h-9.1zM144.16 678.6h9.1v2h-9.1zM144.16 707.6h9.1v2h-9.1zM144.16 715.6h9.1v1h-9.1zM144.16 722.6h9.1v1h-9.1zM153.26 433.6h9.1v1h-9.1zM153.26 448.6h9.1v2h-9.1zM153.26 490.6h9.1v2h-9.1zM153.26 504.6h9.1v1h-9.1zM153.26 509.6h9.1v3h-9.1zM153.26 517.6h9.1v1h-9.1zM153.26 519.6h9.1v4h-9.1zM153.26 524.6h9.1v2h-9.1zM153.26 538.6h9.1v2h-9.1zM153.26 542.6h9.1v1h-9.1zM153.26 553.6h9.1v1h-9.1zM153.26 556.6h9.1v1h-9.1zM153.26 565.6h9.1v4h-9.1zM153.26 575.6h9.1v4h-9.1zM153.26 610.6h9.1v1h-9.1zM153.26 629.6h9.1v3h-9.1zM153.26 633.6h9.1v2h-9.1zM153.26 639.6h9.1v2h-9.1zM153.26 648.6h9.1v1h-9.1zM153.26 651.6h9.1v2h-9.1zM153.26 656.6h9.1v1h-9.1zM153.26 658.6h9.1v1h-9.1zM153.26 665.6h9.1v1h-9.1zM153.26 674.6h9.1v1h-9.1zM153.26 712.6h9.1v2h-9.1zM153.26 738.6h9.1v2h-9.1zM162.35 418.6h9.1v2h-9.1zM162.35 449.6h9.1v1h-9.1zM162.35 453.6h9.1v4h-9.1zM162.35 458.6h9.1v1h-9.1zM162.35 466.6h9.1v4h-9.1zM162.35 479.6h9.1v2h-9.1zM162.35 493.6h9.1v1h-9.1zM162.35 500.6h9.1v5h-9.1zM162.35 507.6h9.1v2h-9.1zM162.35 532.6h9.1v6h-9.1zM162.35 567.6h9.1v2h-9.1zM162.35 571.6h9.1v2h-9.1zM162.35 588.6h9.1v4h-9.1zM162.35 595.6h9.1v2h-9.1zM162.35 632.6h9.1v1h-9.1zM162.35 650.6h9.1v1h-9.1zM162.35 652.6h9.1v2h-9.1zM162.35 658.6h9.1v2h-9.1zM162.35 663.6h9.1v1h-9.1zM162.35 727.6h9.1v1h-9.1zM162.35 730.6h9.1v2h-9.1zM162.35 761.6h9.1v1h-9.1zM171.45 505.6h9.1v1h-9.1zM171.45 519.6h9.1v2h-9.1zM171.45 524.6h9.1v1h-9.1zM171.45 545.6h9.1v1h-9.1zM171.45 560.6h9.1v3h-9.1zM171.45 595.6h9.1v2h-9.1zM171.45 625.6h9.1v3h-9.1zM171.45 652.6h9.1v2h-9.1zM171.45 680.6h9.1v1h-9.1zM171.45 683.6h9.1v2h-9.1zM171.45 720.6h9.1v1h-9.1zM180.55 403.6h9.1v1h-9.1zM180.55 499.6h9.1v1h-9.1zM180.55 505.6h9.1v1h-9.1zM180.55 534.6h9.1v2h-9.1zM180.55 552.6h9.1v3h-9.1zM180.55 609.6h9.1v2h-9.1zM180.55 624.6h9.1v1h-9.1zM180.55 642.6h9.1v1h-9.1zM180.55 649.6h9.1v1h-9.1zM180.55 652.6h9.1v2h-9.1zM180.55 662.6h9.1v1h-9.1zM180.55 674.6h9.1v2h-9.1zM180.55 733.6h9.1v1h-9.1zM180.55 751.6h9.1v1h-9.1zM180.55 762.6h9.1v0.8h-9.1zM189.65 463.6h9.1v1h-9.1zM189.65 494.6h9.1v2h-9.1zM189.65 515.6h9.1v3h-9.1zM189.65 527.6h9.1v3h-9.1zM189.65 560.6h9.1v3h-9.1zM189.65 586.6h9.1v3h-9.1zM189.65 612.6h9.1v2h-9.1zM189.65 620.6h9.1v2h-9.1zM189.65 624.6h9.1v4h-9.1zM189.65 633.6h9.1v3h-9.1zM189.65 637.6h9.1v2h-9.1zM189.65 649.6h9.1v1h-9.1zM198.74 407.6h9.1v1h-9.1zM198.74 428.6h9.1v2h-9.1zM198.74 443.6h9.1v2h-9.1zM198.74 518.6h9.1v1h-9.1zM198.74 541.6h9.1v2h-9.1zM198.74 625.6h9.1v3h-9.1zM198.74 633.6h9.1v3h-9.1zM198.74 680.6h9.1v1h-9.1zM207.84 432.6h9.1v2h-9.1zM207.84 457.6h9.1v2h-9.1zM207.84 519.6h9.1v2h-9.1zM207.84 536.6h9.1v3h-9.1zM207.84 574.6h9.1v1h-9.1zM207.84 592.6h9.1v2h-9.1zM207.84 595.6h9.1v2h-9.1zM207.84 624.6h9.1v4h-9.1zM207.84 633.6h9.1v3h-9.1zM207.84 660.6h9.1v3h-9.1zM207.84 677.6h9.1v1h-9.1zM207.84 679.6h9.1v1h-9.1zM207.84 702.6h9.1v3h-9.1zM216.94 435.6h9.1v2h-9.1zM216.94 443.6h9.1v2h-9.1zM216.94 449.6h9.1v1h-9.1zM216.94 452.6h9.1v2h-9.1zM216.94 461.6h9.1v2h-9.1zM216.94 505.6h9.1v1h-9.1zM216.94 570.6h9.1v1h-9.1zM216.94 595.6h9.1v2h-9.1zM216.94 607.6h9.1v1h-9.1zM216.94 620.6h9.1v2h-9.1zM216.94 624.6h9.1v1h-9.1zM216.94 643.6h9.1v2h-9.1zM216.94 667.6h9.1v3h-9.1zM216.94 742.6h9.1v2h-9.1zM226.03 447.6h9.1v2h-9.1zM226.03 480.6h9.1v2h-9.1zM226.03 545.6h9.1v1h-9.1zM226.03 549.6h9.1v3h-9.1zM226.03 595.6h9.1v2h-9.1zM226.03 612.6h9.1v2h-9.1zM226.03 636.6h9.1v3h-9.1zM226.03 656.6h9.1v3h-9.1zM235.13 389.6h9.1v2h-9.1zM235.13 432.6h9.1v2h-9.1zM235.13 437.6h9.1v3h-9.1zM235.13 464.6h9.1v1h-9.1zM235.13 489.6h9.1v2h-9.1zM235.13 500.6h9.1v2h-9.1zM235.13 614.6h9.1v1h-9.1zM235.13 633.6h9.1v3h-9.1zM235.13 674.6h9.1v2h-9.1zM235.13 677.6h9.1v1h-9.1zM235.13 710.6h9.1v2h-9.1zM244.23 407.6h9.1v1h-9.1zM244.23 463.6h9.1v1h-9.1zM244.23 466.6h9.1v2h-9.1zM244.23 471.6h9.1v1h-9.1zM244.23 492.6h9.1v2h-9.1zM244.23 503.6h9.1v2h-9.1zM244.23 511.6h9.1v1h-9.1zM244.23 543.6h9.1v1h-9.1zM244.23 549.6h9.1v3h-9.1zM244.23 607.6h9.1v1h-9.1zM244.23 624.6h9.1v4h-9.1zM244.23 746.6h9.1v4h-9.1zM244.23 762.6h9.1v0.8h-9.1zM253.32 457.6h9.1v2h-9.1zM253.32 470.6h9.1v1h-9.1zM253.32 525.6h9.1v2h-9.1zM253.32 607.6h9.1v1h-9.1zM253.32 628.6h9.1v1h-9.1zM253.32 655.6h9.1v1h-9.1zM253.32 659.6h9.1v1h-9.1zM253.32 696.6h9.1v2h-9.1zM262.42 392.6h9.1v3h-9.1zM262.42 472.6h9.1v3h-9.1zM262.42 515.6h9.1v1h-9.1zM262.42 546.6h9.1v1h-9.1zM262.42 570.6h9.1v1h-9.1zM262.42 585.6h9.1v1h-9.1zM262.42 618.6h9.1v2h-9.1zM262.42 636.6h9.1v1h-9.1zM262.42 696.6h9.1v2h-9.1zM262.42 720.6h9.1v1h-9.1zM262.42 733.6h9.1v1h-9.1zM262.42 737.6h9.1v1h-9.1zM271.52 510.6h9.1v1h-9.1zM271.52 516.6h9.1v2h-9.1zM271.52 531.6h9.1v5h-9.1zM271.52 557.6h9.1v3h-9.1zM271.52 570.6h9.1v1h-9.1zM271.52 579.6h9.1v3h-9.1zM271.52 595.6h9.1v2h-9.1zM271.52 629.6h9.1v1h-9.1zM271.52 633.6h9.1v3h-9.1zM271.52 637.6h9.1v2h-9.1zM271.52 652.6h9.1v2h-9.1zM271.52 667.6h9.1v3h-9.1zM271.52 716.6h9.1v2h-9.1zM271.52 731.6h9.1v1h-9.1zM280.61 435.6h9.1v2h-9.1zM280.61 443.6h9.1v2h-9.1zM280.61 480.6h9.1v2h-9.1zM280.61 492.6h9.1v2h-9.1zM280.61 519.6h9.1v2h-9.1zM280.61 527.6h9.1v3h-9.1zM280.61 566.6h9.1v1h-9.1zM280.61 620.6h9.1v2h-9.1zM280.61 652.6h9.1v2h-9.1zM280.61 720.6h9.1v1h-9.1zM280.61 732.6h9.1v1h-9.1zM289.71 399.6h9.1v2h-9.1zM289.71 425.6h9.1v2h-9.1zM289.71 480.6h9.1v2h-9.1zM289.71 546.6h9.1v1h-9.1zM289.71 595.6h9.1v2h-9.1zM289.71 631.6h9.1v2h-9.1zM289.71 649.6h9.1v1h-9.1zM289.71 654.6h9.1v1h-9.1zM289.71 734.6h9.1v1h-9.1zM289.71 747.6h9.1v3h-9.1zM298.81 430.6h9.1v4h-9.1zM298.81 468.6h9.1v2h-9.1zM298.81 478.6h9.1v2h-9.1zM298.81 482.6h9.1v1h-9.1zM298.81 492.6h9.1v2h-9.1zM298.81 547.6h9.1v2h-9.1zM298.81 573.6h9.1v1h-9.1zM298.81 604.6h9.1v1h-9.1zM298.81 643.6h9.1v2h-9.1zM298.81 656.6h9.1v3h-9.1zM298.81 678.6h9.1v1h-9.1zM298.81 732.6h9.1v1h-9.1zM298.81 758.6h9.1v2h-9.1zM298.81 762.6h9.1v0.8h-9.1zM307.9 399.6h9.1v2h-9.1zM307.9 432.6h9.1v2h-9.1zM307.9 445.6h9.1v2h-9.1zM307.9 491.6h9.1v1h-9.1zM307.9 515.6h9.1v1h-9.1zM307.9 531.6h9.1v3h-9.1zM307.9 549.6h9.1v3h-9.1zM307.9 575.6h9.1v4h-9.1zM307.9 592.6h9.1v2h-9.1zM307.9 595.6h9.1v2h-9.1zM307.9 656.6h9.1v3h-9.1zM307.9 702.6h9.1v3h-9.1zM307.9 742.6h9.1v2h-9.1zM307.9 758.6h9.1v2h-9.1z"/><path fill="#00ea00" d="M35 43.3h9.1v3h-9.1zM35 49.3h9.1v1h-9.1zM35 55.3h9.1v2h-9.1zM35 60.3h9.1v3h-9.1zM35 76.3h9.1v6h-9.1zM35 87.3h9.1v4h-9.1zM35 93.3h9.1v1h-9.1zM35 110.3h9.1v3h-9.1zM35 115.3h9.1v3h-9.1zM35 126.3h9.1v1h-9.1zM35 139.3h9.1v2h-9.1zM35 143.3h9.1v1h-9.1zM35 168.3h9.1v3h-9.1zM35 181.3h9.1v2h-9.1zM44.1 33.3h9.1v8h-9.1zM44.1 43.3h9.1v1h-9.1zM44.1 55.3h9.1v1h-9.1zM44.1 65.3h9.1v4h-9.1zM44.1 96.3h9.1v2h-9.1zM44.1 102.3h9.1v2h-9.1zM53.19 42.3h9.1v3h-9.1zM53.19 70.3h9.1v3h-9.1zM53.19 78.3h9.1v2h-9.1zM53.19 81.3h9.1v2h-9.1zM53.19 91.3h9.1v5h-9.1zM53.19 98.3h9.1v1h-9.1zM53.19 105.3h9.1v1h-9.1zM53.19 108.3h9.1v3h-9.1zM53.19 114.3h9.1v1h-9.1zM53.19 120.3h9.1v2h-9.1zM53.19 128.3h9.1v1h-9.1zM53.19 130.3h9.1v3h-9.1zM53.19 135.3h9.1v3h-9.1zM53.19 146.3h9.1v3h-9.1zM53.19 150.3h9.1v3h-9.1zM53.19 163.3h9.1v1h-9.1zM53.19 171.3h9.1v3h-9.1zM53.19 181.3h9.1v1h-9.1zM53.19 204.3h9.1v3h-9.1zM53.19 220.3h9.1v2h-9.1zM53.19 238.3h9.1v2h-9.1zM53.19 304.3h9.1v3h-9.1zM53.19 337.3h9.1v3h-9.1zM53.19 368.3h9.1v3h-9.1zM62.29 40.3h9.1v3h-9.1zM62.29 51.3h9.1v4h-9.1zM62.29 60.3h9.1v2h-9.1zM62.29 71.3h9.1v3h-9.1zM62.29 82.3h9.1v7h-9.1zM62.29 99.3h9.1v6h-9.1zM62.29 107.3h9.1v2h-9.1zM62.29 111.3h9.1v2h-9.1zM62.29 116.3h9.1v2h-9.1zM62.29 120.3h9.1v3h-9.1zM62.29 126.3h9.1v2h-9.1zM62.29 134.3h9.1v1h-9.1zM62.29 137.3h9.1v4h-9.1zM62.29 153.3h9.1v1h-9.1zM62.29 162.3h9.1v2h-9.1zM62.29 166.3h9.1v2h-9.1zM62.29 181.3h9.1v3h-9.1zM62.29 201.3h9.1v1h-9.1zM62.29 216.3h9.1v1h-9.1zM62.29 263.3h9.1v1h-9.1zM71.39 205.3h9.1v2h-9.1zM171.45 40.3h9.1v2h-9.1zM171.45 60.3h9.1v2h-9.1zM171.45 79.3h9.1v1h-9.1zM171.45 82.3h9.1v2h-9.1zM171.45 152.3h9.1v2h-9.1zM171.45 180.3h9.1v1h-9.1zM171.45 188.3h9.1v1h-9.1zM171.45 234.3h9.1v1h-9.1zM171.45 261.3h9.1v1h-9.1zM171.45 352.3h9.1v2h-9.1zM171.45 382.3h9.1v1h-9.1zM180.55 62.3h9.1v1h-9.1zM180.55 86.3h9.1v3h-9.1zM180.55 93.3h9.1v2h-9.1zM180.55 143.3h9.1v1h-9.1zM180.55 149.3h9.1v1h-9.1zM180.55 152.3h9.1v8h-9.1zM180.55 164.3h9.1v2h-9.1zM180.55 173.3h9.1v1h-9.1zM180.55 180.3h9.1v1h-9.1zM180.55 188.3h9.1v1h-9.1zM180.55 190.3h9.1v3h-9.1zM180.55 227.3h9.1v3h-9.1zM180.55 262.3h9.1v1h-9.1zM180.55 294.3h9.1v1h-9.1zM180.55 325.3h9.1v1h-9.1zM180.55 346.3h9.1v3h-9.1zM180.55 354.3h9.1v1h-9.1zM180.55 375.3h9.1v1h-9.1zM180.55 382.3h9.1v1h-9.1zM189.65 47.3h9.1v2h-9.1zM189.65 50.3h9.1v2h-9.1zM189.65 63.3h9.1v3h-9.1zM189.65 75.3h9.1v1h-9.1zM189.65 79.3h9.1v1h-9.1zM189.65 96.3h9.1v3h-9.1zM189.65 102.3h9.1v2h-9.1zM189.65 157.3h9.1v3h-9.1zM189.65 164.3h9.1v2h-9.1zM189.65 196.3h9.1v1h-9.1zM189.65 207.3h9.1v2h-9.1zM189.65 235.3h9.1v1h-9.1zM189.65 239.3h9.1v2h-9.1zM189.65 246.3h9.1v1h-9.1zM189.65 248.3h9.1v2h-9.1zM189.65 268.3h9.1v3h-9.1zM189.65 298.3h9.1v3h-9.1zM198.74 37.3h9.1v2h-9.1zM198.74 44.3h9.1v2h-9.1zM198.74 52.3h9.1v3h-9.1zM198.74 80.3h9.1v1h-9.1zM198.74 102.3h9.1v2h-9.1zM198.74 239.3h9.1v2h-9.1zM198.74 257.3h9.1v4h-9.1zM198.74 263.3h9.1v3h-9.1zM198.74 279.3h9.1v5h-9.1zM198.74 298.3h9.1v3h-9.1zM198.74 357.3h9.1v1h-9.1zM198.74 365.3h9.1v2h-9.1zM198.74 368.3h9.1v3h-9.1zM198.74 378.3h9.1v1h-9.1zM207.84 78.3h9.1v1h-9.1zM207.84 86.3h9.1v3h-9.1zM207.84 143.3h9.1v1h-9.1zM207.84 152.3h9.1v2h-9.1zM207.84 177.3h9.1v1h-9.1zM207.84 197.3h9.1v2h-9.1zM207.84 227.3h9.1v3h-9.1zM207.84 234.3h9.1v1h-9.1zM207.84 242.3h9.1v2h-9.1zM207.84 257.3h9.1v2h-9.1zM207.84 284.3h9.1v1h-9.1zM207.84 295.3h9.1v1h-9.1zM207.84 298.3h9.1v3h-9.1zM207.84 333.3h9.1v1h-9.1zM207.84 360.3h9.1v1h-9.1zM207.84 371.3h9.1v1h-9.1zM216.94 62.3h9.1v1h-9.1zM216.94 80.3h9.1v1h-9.1zM216.94 89.3h9.1v3h-9.1zM216.94 101.3h9.1v1h-9.1zM216.94 104.3h9.1v3h-9.1zM216.94 140.3h9.1v2h-9.1zM216.94 152.3h9.1v8h-9.1zM216.94 168.3h9.1v3h-9.1zM216.94 193.3h9.1v3h-9.1zM216.94 218.3h9.1v2h-9.1zM216.94 227.3h9.1v3h-9.1zM216.94 294.3h9.1v1h-9.1zM216.94 320.3h9.1v1h-9.1zM216.94 378.3h9.1v1h-9.1zM226.03 37.3h9.1v2h-9.1zM226.03 47.3h9.1v2h-9.1zM226.03 50.3h9.1v2h-9.1zM226.03 63.3h9.1v3h-9.1zM226.03 89.3h9.1v3h-9.1zM226.03 95.3h9.1v1h-9.1zM226.03 102.3h9.1v2h-9.1zM226.03 134.3h9.1v1h-9.1zM226.03 138.3h9.1v2h-9.1zM226.03 157.3h9.1v3h-9.1zM226.03 164.3h9.1v2h-9.1zM226.03 190.3h9.1v3h-9.1zM226.03 227.3h9.1v3h-9.1zM226.03 232.3h9.1v2h-9.1zM226.03 279.3h9.1v2h-9.1zM226.03 295.3h9.1v1h-9.1zM226.03 297.3h9.1v1h-9.1zM226.03 302.3h9.1v2h-9.1zM235.13 36.3h9.1v1h-9.1zM235.13 47.3h9.1v2h-9.1zM235.13 50.3h9.1v2h-9.1zM235.13 69.3h9.1v2h-9.1zM235.13 89.3h9.1v3h-9.1zM235.13 109.3h9.1v2h-9.1zM235.13 157.3h9.1v3h-9.1zM235.13 178.3h9.1v2h-9.1zM235.13 213.3h9.1v3h-9.1zM235.13 220.3h9.1v1h-9.1zM235.13 224.3h9.1v2h-9.1zM235.13 238.3h9.1v1h-9.1zM235.13 257.3h9.1v4h-9.1zM235.13 294.3h9.1v1h-9.1zM235.13 313.3h9.1v1h-9.1zM235.13 322.3h9.1v2h-9.1zM235.13 325.3h9.1v1h-9.1zM235.13 352.3h9.1v2h-9.1zM235.13 368.3h9.1v3h-9.1zM244.23 37.3h9.1v2h-9.1zM244.23 66.3h9.1v1h-9.1zM244.23 72.3h9.1v1h-9.1zM244.23 126.3h9.1v1h-9.1zM244.23 143.3h9.1v1h-9.1zM244.23 152.3h9.1v2h-9.1zM244.23 164.3h9.1v2h-9.1zM244.23 168.3h9.1v3h-9.1zM244.23 197.3h9.1v2h-9.1zM244.23 226.3h9.1v4h-9.1zM244.23 320.3h9.1v1h-9.1zM244.23 378.3h9.1v1h-9.1zM253.32 33.3h9.1v3h-9.1zM253.32 47.3h9.1v2h-9.1zM253.32 52.3h9.1v3h-9.1zM253.32 61.3h9.1v1h-9.1zM253.32 96.3h9.1v3h-9.1zM253.32 125.3h9.1v1h-9.1zM253.32 132.3h9.1v2h-9.1zM253.32 144.3h9.1v2h-9.1zM253.32 147.3h9.1v2h-9.1zM253.32 188.3h9.1v1h-9.1zM253.32 224.3h9.1v2h-9.1zM253.32 271.3h9.1v1h-9.1zM253.32 288.3h9.1v1h-9.1zM253.32 334.3h9.1v2h-9.1zM262.42 109.3h9.1v2h-9.1zM262.42 138.3h9.1v2h-9.1zM262.42 147.3h9.1v2h-9.1zM262.42 154.3h9.1v3h-9.1zM262.42 232.3h9.1v2h-9.1zM262.42 268.3h9.1v4h-9.1zM262.42 298.3h9.1v3h-9.1zM262.42 318.3h9.1v4h-9.1zM262.42 325.3h9.1v1h-9.1zM262.42 346.3h9.1v3h-9.1zM262.42 352.3h9.1v2h-9.1zM262.42 367.3h9.1v4h-9.1zM262.42 383.3h9.1v2h-9.1zM271.52 96.3h9.1v3h-9.1zM271.52 115.3h9.1v1h-9.1zM271.52 125.3h9.1v1h-9.1zM271.52 154.3h9.1v3h-9.1zM271.52 188.3h9.1v1h-9.1zM271.52 197.3h9.1v2h-9.1zM271.52 221.3h9.1v1h-9.1zM271.52 231.3h9.1v1h-9.1zM271.52 241.3h9.1v3h-9.1zM271.52 251.3h9.1v2h-9.1zM271.52 259.3h9.1v2h-9.1zM271.52 276.3h9.1v2h-9.1zM271.52 284.3h9.1v1h-9.1zM271.52 293.3h9.1v1h-9.1zM271.52 322.3h9.1v2h-9.1zM271.52 358.3h9.1v2h-9.1zM271.52 382.3h9.1v1h-9.1zM280.61 37.3h9.1v2h-9.1zM280.61 47.3h9.1v2h-9.1zM280.61 50.3h9.1v5h-9.1zM280.61 61.3h9.1v1h-9.1zM280.61 69.3h9.1v2h-9.1zM280.61 75.3h9.1v1h-9.1zM280.61 80.3h9.1v1h-9.1zM280.61 86.3h9.1v3h-9.1zM280.61 207.3h9.1v2h-9.1zM280.61 241.3h9.1v1h-9.1zM280.61 248.3h9.1v2h-9.1zM280.61 318.3h9.1v2h-9.1zM280.61 367.3h9.1v1h-9.1zM289.71 42.3h9.1v1h-9.1zM289.71 109.3h9.1v2h-9.1zM289.71 207.3h9.1v3h-9.1zM289.71 222.3h9.1v1h-9.1zM289.71 234.3h9.1v1h-9.1zM289.71 290.3h9.1v3h-9.1zM289.71 295.3h9.1v1h-9.1zM289.71 298.3h9.1v3h-9.1zM289.71 325.3h9.1v1h-9.1zM289.71 334.3h9.1v2h-9.1zM289.71 354.3h9.1v1h-9.1zM289.71 380.3h9.1v2h-9.1zM298.81 52.3h9.1v3h-9.1zM298.81 86.3h9.1v3h-9.1zM298.81 96.3h9.1v3h-9.1zM298.81 138.3h9.1v2h-9.1zM298.81 149.3h9.1v1h-9.1zM298.81 152.3h9.1v5h-9.1zM298.81 238.3h9.1v1h-9.1zM298.81 254.3h9.1v1h-9.1zM298.81 287.3h9.1v1h-9.1zM298.81 290.3h9.1v3h-9.1zM298.81 358.3h9.1v2h-9.1zM298.81 368.3h9.1v3h-9.1zM307.9 37.3h9.1v2h-9.1zM307.9 44.3h9.1v2h-9.1zM307.9 63.3h9.1v3h-9.1zM307.9 69.3h9.1v2h-9.1zM307.9 99.3h9.1v1h-9.1zM307.9 102.3h9.1v2h-9.1zM307.9 178.3h9.1v2h-9.1zM307.9 185.3h9.1v3h-9.1zM307.9 207.3h9.1v2h-9.1zM307.9 222.3h9.1v1h-9.1zM307.9 232.3h9.1v2h-9.1zM307.9 251.3h9.1v2h-9.1zM307.9 262.3h9.1v1h-9.1zM307.9 311.3h9.1v2h-9.1zM307.9 317.3h9.1v1h-9.1zM307.9 322.3h9.1v2h-9.1zM80.48 391.6h9.1v2h-9.1zM80.48 396.6h9.1v2h-9.1zM80.48 402.6h9.1v1h-9.1zM80.48 409.6h9.1v1h-9.1zM80.48 420.6h9.1v1h-9.1zM80.48 423.6h9.1v1h-9.1zM80.48 427.6h9.1v4h-9.1zM80.48 432.6h9.1v2h-9.1zM80.48 435.6h9.1v1h-9.1zM80.48 437.6h9.1v1h-9.1zM80.48 441.6h9.1v3h-9.1zM80.48 450.6h9.1v1h-9.1zM80.48 465.6h9.1v3h-9.1zM80.48 474.6h9.1v5h-9.1zM80.48 482.6h9.1v2h-9.1zM80.48 487.6h9.1v1h-9.1zM80.48 490.6h9.1v2h-9.1zM80.48 502.6h9.1v1h-9.1zM80.48 508.6h9.1v5h-9.1zM80.48 515.6h9.1v5h-9.1zM80.48 524.6h9.1v5h-9.1zM80.48 540.6h9.1v2h-9.1zM80.48 546.6h9.1v1h-9.1zM80.48 555.6h9.1v1h-9.1zM80.48 574.6h9.1v1h-9.1zM80.48 580.6h9.1v2h-9.1zM80.48 596.6h9.1v1h-9.1zM80.48 608.6h9.1v2h-9.1zM89.58 393.6h9.1v2h-9.1zM89.58 399.6h9.1v2h-9.1zM89.58 404.6h9.1v6h-9.1zM89.58 417.6h9.1v3h-9.1zM89.58 428.6h9.1v2h-9.1zM89.58 440.6h9.1v1h-9.1zM89.58 445.6h9.1v1h-9.1zM89.58 449.6h9.1v1h-9.1zM89.58 451.6h9.1v3h-9.1zM89.58 460.6h9.1v2h-9.1zM89.58 464.6h9.1v1h-9.1zM89.58 478.6h9.1v3h-9.1zM89.58 483.6h9.1v2h-9.1zM89.58 486.6h9.1v2h-9.1zM89.58 496.6h9.1v2h-9.1zM89.58 501.6h9.1v4h-9.1zM89.58 524.6h9.1v2h-9.1zM89.58 528.6h9.1v2h-9.1zM89.58 541.6h9.1v2h-9.1zM89.58 574.6h9.1v2h-9.1zM89.58 592.6h9.1v1h-9.1zM89.58 641.6h9.1v1h-9.1zM89.58 643.6h9.1v2h-9.1zM89.58 683.6h9.1v2h-9.1zM89.58 719.6h9.1v2h-9.1zM89.58 750.6h9.1v1h-9.1zM98.68 408.6h9.1v2h-9.1zM98.68 414.6h9.1v2h-9.1zM98.68 419.6h9.1v2h-9.1zM98.68 427.6h9.1v1h-9.1zM98.68 443.6h9.1v3h-9.1zM98.68 447.6h9.1v2h-9.1zM98.68 452.6h9.1v3h-9.1zM98.68 456.6h9.1v3h-9.1zM98.68 464.6h9.1v4h-9.1zM98.68 474.6h9.1v1h-9.1zM98.68 477.6h9.1v2h-9.1zM98.68 480.6h9.1v4h-9.1zM98.68 486.6h9.1v2h-9.1zM98.68 491.6h9.1v1h-9.1zM98.68 493.6h9.1v2h-9.1zM98.68 499.6h9.1v2h-9.1zM98.68 508.6h9.1v6h-9.1zM98.68 517.6h9.1v1h-9.1zM98.68 520.6h9.1v1h-9.1zM98.68 533.6h9.1v2h-9.1zM98.68 536.6h9.1v1h-9.1zM98.68 545.6h9.1v2h-9.1zM98.68 552.6h9.1v1h-9.1zM98.68 556.6h9.1v2h-9.1zM98.68 560.6h9.1v1h-9.1zM98.68 587.6h9.1v1h-9.1zM98.68 621.6h9.1v1h-9.1zM98.68 633.6h9.1v1h-9.1zM98.68 640.6h9.1v1h-9.1zM98.68 658.6h9.1v1h-9.1zM98.68 675.6h9.1v2h-9.1zM107.77 395.6h9.1v1h-9.1zM107.77 402.6h9.1v2h-9.1zM107.77 407.6h9.1v1h-9.1zM107.77 410.6h9.1v1h-9.1zM107.77 415.6h9.1v1h-9.1zM107.77 417.6h9.1v2h-9.1zM107.77 423.6h9.1v7h-9.1zM107.77 433.6h9.1v2h-9.1zM107.77 437.6h9.1v1h-9.1zM107.77 440.6h9.1v4h-9.1zM107.77 445.6h9.1v7h-9.1zM107.77 456.6h9.1v1h-9.1zM107.77 460.6h9.1v4h-9.1zM107.77 468.6h9.1v4h-9.1zM107.77 474.6h9.1v1h-9.1zM107.77 476.6h9.1v1h-9.1zM107.77 486.6h9.1v1h-9.1zM107.77 490.6h9.1v1h-9.1zM107.77 501.6h9.1v1h-9.1zM107.77 505.6h9.1v4h-9.1zM107.77 519.6h9.1v3h-9.1zM107.77 523.6h9.1v2h-9.1zM107.77 526.6h9.1v1h-9.1zM107.77 536.6h9.1v1h-9.1zM107.77 553.6h9.1v2h-9.1zM107.77 559.6h9.1v1h-9.1zM107.77 566.6h9.1v2h-9.1zM107.77 575.6h9.1v1h-9.1zM107.77 581.6h9.1v1h-9.1zM107.77 606.6h9.1v1h-9.1zM107.77 680.6h9.1v1h-9.1zM107.77 683.6h9.1v1h-9.1zM107.77 736.6h9.1v1h-9.1zM116.87 394.6h9.1v4h-9.1zM116.87 402.6h9.1v6h-9.1zM116.87 410.6h9.1v1h-9.1zM116.87 412.6h9.1v5h-9.1zM116.87 420.6h9.1v1h-9.1zM116.87 431.6h9.1v1h-9.1zM116.87 437.6h9.1v1h-9.1zM116.87 439.6h9.1v3h-9.1zM116.87 443.6h9.1v2h-9.1zM116.87 447.6h9.1v1h-9.1zM116.87 450.6h9.1v2h-9.1zM116.87 455.6h9.1v3h-9.1zM116.87 461.6h9.1v2h-9.1zM116.87 464.6h9.1v3h-9.1zM116.87 469.6h9.1v1h-9.1zM116.87 471.6h9.1v1h-9.1zM116.87 474.6h9.1v2h-9.1zM116.87 480.6h9.1v3h-9.1zM116.87 497.6h9.1v1h-9.1zM116.87 502.6h9.1v1h-9.1zM116.87 510.6h9.1v4h-9.1zM116.87 515.6h9.1v1h-9.1zM116.87 539.6h9.1v1h-9.1zM116.87 542.6h9.1v3h-9.1zM116.87 551.6h9.1v1h-9.1zM116.87 554.6h9.1v1h-9.1zM116.87 560.6h9.1v2h-9.1zM116.87 585.6h9.1v2h-9.1zM116.87 604.6h9.1v1h-9.1zM116.87 608.6h9.1v1h-9.1zM125.97 389.6h9.1v1h-9.1zM125.97 392.6h9.1v5h-9.1zM125.97 398.6h9.1v4h-9.1zM125.97 403.6h9.1v3h-9.1zM125.97 407.6h9.1v1h-9.1zM125.97 409.6h9.1v7h-9.1zM125.97 428.6h9.1v2h-9.1zM125.97 435.6h9.1v4h-9.1zM125.97 446.6h9.1v3h-9.1zM125.97 452.6h9.1v6h-9.1zM125.97 477.6h9.1v1h-9.1zM125.97 481.6h9.1v2h-9.1zM125.97 491.6h9.1v1h-9.1zM125.97 493.6h9.1v2h-9.1zM125.97 496.6h9.1v2h-9.1zM125.97 499.6h9.1v1h-9.1zM125.97 505.6h9.1v1h-9.1zM125.97 511.6h9.1v2h-9.1zM125.97 522.6h9.1v3h-9.1zM125.97 534.6h9.1v2h-9.1zM125.97 539.6h9.1v1h-9.1zM125.97 547.6h9.1v1h-9.1zM125.97 550.6h9.1v1h-9.1zM125.97 565.6h9.1v1h-9.1zM125.97 568.6h9.1v2h-9.1zM125.97 583.6h9.1v3h-9.1zM125.97 587.6h9.1v3h-9.1zM125.97 595.6h9.1v3h-9.1zM135.06 401.6h9.1v6h-9.1zM135.06 410.6h9.1v1h-9.1zM135.06 417.6h9.1v1h-9.1zM135.06 425.6h9.1v3h-9.1zM135.06 435.6h9.1v3h-9.1zM135.06 439.6h9.1v4h-9.1zM135.06 444.6h9.1v2h-9.1zM135.06 456.6h9.1v8h-9.1zM135.06 466.6h9.1v1h-9.1zM135.06 469.6h9.1v2h-9.1zM135.06 475.6h9.1v1h-9.1zM135.06 483.6h9.1v1h-9.1zM135.06 486.6h9.1v2h-9.1zM135.06 497.6h9.1v2h-9.1zM135.06 505.6h9.1v2h-9.1zM135.06 510.6h9.1v4h-9.1zM135.06 526.6h9.1v2h-9.1zM135.06 534.6h9.1v2h-9.1zM135.06 549.6h9.1v4h-9.1zM135.06 563.6h9.1v1h-9.1zM135.06 579.6h9.1v2h-9.1zM135.06 590.6h9.1v1h-9.1zM135.06 592.6h9.1v1h-9.1zM135.06 598.6h9.1v1h-9.1zM135.06 607.6h9.1v2h-9.1zM135.06 629.6h9.1v4h-9.1zM135.06 674.6h9.1v1h-9.1zM144.16 389.6h9.1v1h-9.1zM144.16 395.6h9.1v3h-9.1zM144.16 400.6h9.1v3h-9.1zM144.16 408.6h9.1v8h-9.1zM144.16 417.6h9.1v1h-9.1zM144.16 419.6h9.1v1h-9.1zM144.16 424.6h9.1v2h-9.1zM144.16 427.6h9.1v4h-9.1zM144.16 433.6h9.1v9h-9.1zM144.16 443.6h9.1v6h-9.1zM144.16 451.6h9.1v1h-9.1zM144.16 454.6h9.1v1h-9.1zM144.16 457.6h9.1v2h-9.1zM144.16 460.6h9.1v2h-9.1zM144.16 465.6h9.1v2h-9.1zM144.16 468.6h9.1v3h-9.1zM144.16 477.6h9.1v1h-9.1zM144.16 491.6h9.1v1h-9.1zM144.16 496.6h9.1v1h-9.1zM144.16 504.6h9.1v4h-9.1zM144.16 516.6h9.1v2h-9.1zM144.16 524.6h9.1v1h-9.1zM144.16 530.6h9.1v4h-9.1zM144.16 537.6h9.1v2h-9.1zM144.16 542.6h9.1v3h-9.1zM144.16 552.6h9.1v2h-9.1zM144.16 558.6h9.1v2h-9.1zM144.16 565.6h9.1v2h-9.1zM144.16 570.6h9.1v1h-9.1zM144.16 577.6h9.1v2h-9.1zM144.16 583.6h9.1v2h-9.1zM144.16 595.6h9.1v2h-9.1zM144.16 657.6h9.1v2h-9.1zM144.16 671.6h9.1v1h-9.1zM144.16 685.6h9.1v1h-9.1zM144.16 724.6h9.1v2h-9.1zM153.26 405.6h9.1v2h-9.1zM153.26 411.6h9.1v2h-9.1zM153.26 422.6h9.1v2h-9.1zM153.26 426.6h9.1v2h-9.1zM153.26 430.6h9.1v3h-9.1zM153.26 437.6h9.1v3h-9.1zM153.26 444.6h9.1v2h-9.1zM153.26 451.6h9.1v2h-9.1zM153.26 458.6h9.1v2h-9.1zM153.26 465.6h9.1v3h-9.1zM153.26 473.6h9.1v1h-9.1zM153.26 480.6h9.1v2h-9.1zM153.26 492.6h9.1v4h-9.1zM153.26 500.6h9.1v4h-9.1zM153.26 507.6h9.1v2h-9.1zM153.26 513.6h9.1v2h-9.1zM153.26 526.6h9.1v2h-9.1zM153.26 529.6h9.1v2h-9.1zM153.26 540.6h9.1v2h-9.1zM153.26 545.6h9.1v3h-9.1zM153.26 554.6h9.1v2h-9.1zM153.26 560.6h9.1v1h-9.1zM153.26 563.6h9.1v2h-9.1zM153.26 569.6h9.1v2h-9.1zM153.26 583.6h9.1v1h-9.1zM153.26 586.6h9.1v2h-9.1zM153.26 599.6h9.1v1h-9.1zM153.26 602.6h9.1v3h-9.1zM153.26 611.6h9.1v3h-9.1zM153.26 624.6h9.1v1h-9.1zM153.26 637.6h9.1v2h-9.1zM153.26 641.6h9.1v2h-9.1zM153.26 675.6h9.1v2h-9.1zM153.26 687.6h9.1v2h-9.1zM153.26 730.6h9.1v2h-9.1zM162.35 399.6h9.1v1h-9.1zM162.35 401.6h9.1v3h-9.1zM162.35 408.6h9.1v1h-9.1zM162.35 410.6h9.1v2h-9.1zM162.35 413.6h9.1v2h-9.1zM162.35 416.6h9.1v2h-9.1zM162.35 420.6h9.1v2h-9.1zM162.35 423.6h9.1v4h-9.1zM162.35 428.6h9.1v5h-9.1zM162.35 438.6h9.1v1h-9.1zM162.35 440.6h9.1v2h-9.1zM162.35 444.6h9.1v3h-9.1zM162.35 448.6h9.1v1h-9.1zM162.35 450.6h9.1v1h-9.1zM162.35 452.6h9.1v1h-9.1zM162.35 457.6h9.1v1h-9.1zM162.35 462.6h9.1v2h-9.1zM162.35 470.6h9.1v1h-9.1zM162.35 472.6h9.1v2h-9.1zM162.35 476.6h9.1v1h-9.1zM162.35 485.6h9.1v4h-9.1zM162.35 490.6h9.1v1h-9.1zM162.35 494.6h9.1v4h-9.1zM162.35 505.6h9.1v2h-9.1zM162.35 512.6h9.1v2h-9.1zM162.35 516.6h9.1v3h-9.1zM162.35 528.6h9.1v4h-9.1zM162.35 538.6h9.1v2h-9.1zM162.35 544.6h9.1v3h-9.1zM162.35 549.6h9.1v2h-9.1zM162.35 556.6h9.1v2h-9.1zM162.35 561.6h9.1v2h-9.1zM162.35 569.6h9.1v2h-9.1zM162.35 592.6h9.1v1h-9.1zM162.35 618.6h9.1v2h-9.1zM162.35 694.6h9.1v1h-9.1zM171.45 407.6h9.1v1h-9.1zM171.45 435.6h9.1v4h-9.1zM171.45 465.6h9.1v1h-9.1zM171.45 492.6h9.1v2h-9.1zM171.45 552.6h9.1v3h-9.1zM171.45 568.6h9.1v2h-9.1zM171.45 574.6h9.1v3h-9.1zM171.45 586.6h9.1v3h-9.1zM171.45 607.6h9.1v1h-9.1zM171.45 612.6h9.1v2h-9.1zM171.45 624.6h9.1v1h-9.1zM171.45 629.6h9.1v1h-9.1zM171.45 664.6h9.1v3h-9.1zM171.45 710.6h9.1v2h-9.1zM171.45 724.6h9.1v2h-9.1zM171.45 732.6h9.1v1h-9.1zM171.45 742.6h9.1v2h-9.1zM180.55 392.6h9.1v3h-9.1zM180.55 404.6h9.1v3h-9.1zM180.55 452.6h9.1v2h-9.1zM180.55 468.6h9.1v2h-9.1zM180.55 502.6h9.1v1h-9.1zM180.55 515.6h9.1v1h-9.1zM180.55 525.6h9.1v2h-9.1zM180.55 560.6h9.1v3h-9.1zM180.55 567.6h9.1v1h-9.1zM180.55 571.6h9.1v2h-9.1zM180.55 579.6h9.1v3h-9.1zM180.55 583.6h9.1v1h-9.1zM180.55 599.6h9.1v1h-9.1zM180.55 612.6h9.1v2h-9.1zM180.55 620.6h9.1v2h-9.1zM180.55 637.6h9.1v2h-9.1zM180.55 643.6h9.1v2h-9.1zM180.55 656.6h9.1v3h-9.1zM180.55 687.6h9.1v3h-9.1zM180.55 720.6h9.1v1h-9.1zM180.55 726.6h9.1v2h-9.1zM189.65 403.6h9.1v1h-9.1zM189.65 441.6h9.1v2h-9.1zM189.65 445.6h9.1v2h-9.1zM189.65 457.6h9.1v2h-9.1zM189.65 492.6h9.1v2h-9.1zM189.65 531.6h9.1v3h-9.1zM189.65 566.6h9.1v1h-9.1zM189.65 574.6h9.1v1h-9.1zM189.65 585.6h9.1v1h-9.1zM189.65 604.6h9.1v1h-9.1zM189.65 607.6h9.1v1h-9.1zM189.65 609.6h9.1v2h-9.1zM189.65 617.6h9.1v3h-9.1zM189.65 639.6h9.1v1h-9.1zM189.65 662.6h9.1v1h-9.1zM189.65 677.6h9.1v1h-9.1zM189.65 699.6h9.1v1h-9.1zM189.65 742.6h9.1v2h-9.1zM198.74 424.6h9.1v4h-9.1zM198.74 430.6h9.1v4h-9.1zM198.74 457.6h9.1v2h-9.1zM198.74 485.6h9.1v3h-9.1zM198.74 489.6h9.1v2h-9.1zM198.74 494.6h9.1v2h-9.1zM198.74 500.6h9.1v2h-9.1zM198.74 505.6h9.1v1h-9.1zM198.74 510.6h9.1v1h-9.1zM198.74 516.6h9.1v2h-9.1zM198.74 525.6h9.1v2h-9.1zM198.74 557.6h9.1v3h-9.1zM198.74 566.6h9.1v1h-9.1zM198.74 568.6h9.1v2h-9.1zM198.74 574.6h9.1v1h-9.1zM198.74 583.6h9.1v1h-9.1zM198.74 592.6h9.1v2h-9.1zM198.74 599.6h9.1v1h-9.1zM198.74 612.6h9.1v3h-9.1zM198.74 617.6h9.1v3h-9.1zM198.74 624.6h9.1v1h-9.1zM198.74 629.6h9.1v1h-9.1zM198.74 673.6h9.1v1h-9.1zM198.74 696.6h9.1v2h-9.1zM198.74 710.6h9.1v2h-9.1zM198.74 728.6h9.1v2h-9.1zM198.74 747.6h9.1v3h-9.1zM207.84 403.6h9.1v1h-9.1zM207.84 407.6h9.1v1h-9.1zM207.84 413.6h9.1v1h-9.1zM207.84 422.6h9.1v2h-9.1zM207.84 447.6h9.1v2h-9.1zM207.84 475.6h9.1v5h-9.1zM207.84 503.6h9.1v3h-9.1zM207.84 510.6h9.1v1h-9.1zM207.84 541.6h9.1v3h-9.1zM207.84 582.6h9.1v2h-9.1zM207.84 607.6h9.1v1h-9.1zM207.84 620.6h9.1v2h-9.1zM207.84 640.6h9.1v1h-9.1zM207.84 643.6h9.1v4h-9.1zM207.84 659.6h9.1v1h-9.1zM207.84 674.6h9.1v2h-9.1zM207.84 691.6h9.1v1h-9.1zM207.84 698.6h9.1v1h-9.1zM207.84 731.6h9.1v1h-9.1zM207.84 742.6h9.1v2h-9.1zM207.84 756.6h9.1v2h-9.1zM216.94 421.6h9.1v1h-9.1zM216.94 432.6h9.1v2h-9.1zM216.94 457.6h9.1v2h-9.1zM216.94 468.6h9.1v2h-9.1zM216.94 496.6h9.1v3h-9.1zM216.94 515.6h9.1v1h-9.1zM216.94 531.6h9.1v3h-9.1zM216.94 541.6h9.1v3h-9.1zM216.94 547.6h9.1v2h-9.1zM216.94 557.6h9.1v6h-9.1zM216.94 579.6h9.1v3h-9.1zM216.94 597.6h9.1v1h-9.1zM216.94 617.6h9.1v3h-9.1zM216.94 625.6h9.1v3h-9.1zM216.94 637.6h9.1v2h-9.1zM216.94 662.6h9.1v1h-9.1zM216.94 695.6h9.1v1h-9.1zM216.94 752.6h9.1v4h-9.1zM226.03 414.6h9.1v3h-9.1zM226.03 432.6h9.1v2h-9.1zM226.03 449.6h9.1v1h-9.1zM226.03 456.6h9.1v1h-9.1zM226.03 465.6h9.1v1h-9.1zM226.03 470.6h9.1v1h-9.1zM226.03 478.6h9.1v2h-9.1zM226.03 485.6h9.1v3h-9.1zM226.03 524.6h9.1v1h-9.1zM226.03 539.6h9.1v4h-9.1zM226.03 546.6h9.1v3h-9.1zM226.03 571.6h9.1v2h-9.1zM226.03 575.6h9.1v4h-9.1zM226.03 585.6h9.1v1h-9.1zM226.03 608.6h9.1v1h-9.1zM226.03 625.6h9.1v3h-9.1zM226.03 652.6h9.1v3h-9.1zM226.03 671.6h9.1v2h-9.1zM226.03 679.6h9.1v1h-9.1zM226.03 681.6h9.1v2h-9.1zM226.03 720.6h9.1v1h-9.1zM235.13 395.6h9.1v2h-9.1zM235.13 407.6h9.1v1h-9.1zM235.13 427.6h9.1v1h-9.1zM235.13 443.6h9.1v2h-9.1zM235.13 466.6h9.1v2h-9.1zM235.13 483.6h9.1v2h-9.1zM235.13 502.6h9.1v1h-9.1zM235.13 525.6h9.1v5h-9.1zM235.13 534.6h9.1v2h-9.1zM235.13 568.6h9.1v2h-9.1zM235.13 574.6h9.1v1h-9.1zM235.13 625.6h9.1v3h-9.1zM235.13 642.6h9.1v1h-9.1zM235.13 656.6h9.1v3h-9.1zM235.13 683.6h9.1v2h-9.1zM235.13 687.6h9.1v4h-9.1zM235.13 693.6h9.1v2h-9.1zM235.13 696.6h9.1v2h-9.1zM235.13 707.6h9.1v2h-9.1zM235.13 728.6h9.1v2h-9.1zM235.13 733.6h9.1v1h-9.1zM235.13 747.6h9.1v3h-9.1zM244.23 401.6h9.1v2h-9.1zM244.23 425.6h9.1v3h-9.1zM244.23 435.6h9.1v2h-9.1zM244.23 459.6h9.1v2h-9.1zM244.23 465.6h9.1v1h-9.1zM244.23 489.6h9.1v2h-9.1zM244.23 494.6h9.1v2h-9.1zM244.23 500.6h9.1v2h-9.1zM244.23 525.6h9.1v2h-9.1zM244.23 534.6h9.1v2h-9.1zM244.23 577.6h9.1v2h-9.1zM244.23 622.6h9.1v2h-9.1zM244.23 637.6h9.1v2h-9.1zM244.23 660.6h9.1v2h-9.1zM244.23 671.6h9.1v2h-9.1zM244.23 674.6h9.1v2h-9.1zM244.23 677.6h9.1v1h-9.1zM244.23 691.6h9.1v1h-9.1zM244.23 707.6h9.1v2h-9.1zM244.23 718.6h9.1v2h-9.1zM244.23 751.6h9.1v1h-9.1zM253.32 397.6h9.1v2h-9.1zM253.32 447.6h9.1v2h-9.1zM253.32 464.6h9.1v1h-9.1zM253.32 482.6h9.1v1h-9.1zM253.32 485.6h9.1v3h-9.1zM253.32 491.6h9.1v3h-9.1zM253.32 503.6h9.1v2h-9.1zM253.32 510.6h9.1v1h-9.1zM253.32 516.6h9.1v2h-9.1zM253.32 543.6h9.1v1h-9.1zM253.32 570.6h9.1v3h-9.1zM253.32 574.6h9.1v1h-9.1zM253.32 582.6h9.1v1h-9.1zM253.32 585.6h9.1v1h-9.1zM253.32 595.6h9.1v2h-9.1zM253.32 614.6h9.1v1h-9.1zM253.32 631.6h9.1v2h-9.1zM253.32 671.6h9.1v2h-9.1zM253.32 723.6h9.1v1h-9.1zM253.32 728.6h9.1v2h-9.1zM262.42 397.6h9.1v2h-9.1zM262.42 417.6h9.1v1h-9.1zM262.42 445.6h9.1v2h-9.1zM262.42 457.6h9.1v2h-9.1zM262.42 509.6h9.1v1h-9.1zM262.42 543.6h9.1v1h-9.1zM262.42 549.6h9.1v3h-9.1zM262.42 557.6h9.1v6h-9.1zM262.42 583.6h9.1v1h-9.1zM262.42 592.6h9.1v2h-9.1zM262.42 595.6h9.1v2h-9.1zM262.42 612.6h9.1v2h-9.1zM262.42 620.6h9.1v2h-9.1zM262.42 637.6h9.1v2h-9.1zM262.42 667.6h9.1v3h-9.1zM262.42 731.6h9.1v1h-9.1zM262.42 756.6h9.1v2h-9.1zM271.52 410.6h9.1v1h-9.1zM271.52 422.6h9.1v2h-9.1zM271.52 445.6h9.1v2h-9.1zM271.52 466.6h9.1v2h-9.1zM271.52 505.6h9.1v4h-9.1zM271.52 525.6h9.1v5h-9.1zM271.52 575.6h9.1v2h-9.1zM271.52 583.6h9.1v1h-9.1zM271.52 586.6h9.1v3h-9.1zM271.52 612.6h9.1v2h-9.1zM271.52 647.6h9.1v2h-9.1zM271.52 677.6h9.1v1h-9.1zM271.52 747.6h9.1v3h-9.1zM280.61 397.6h9.1v2h-9.1zM280.61 411.6h9.1v2h-9.1zM280.61 432.6h9.1v2h-9.1zM280.61 461.6h9.1v2h-9.1zM280.61 510.6h9.1v1h-9.1zM280.61 531.6h9.1v3h-9.1zM280.61 549.6h9.1v3h-9.1zM280.61 568.6h9.1v2h-9.1zM280.61 571.6h9.1v2h-9.1zM280.61 577.6h9.1v2h-9.1zM280.61 585.6h9.1v1h-9.1zM280.61 625.6h9.1v3h-9.1zM280.61 633.6h9.1v3h-9.1zM280.61 642.6h9.1v1h-9.1zM280.61 647.6h9.1v2h-9.1zM280.61 650.6h9.1v2h-9.1zM280.61 659.6h9.1v1h-9.1zM280.61 662.6h9.1v1h-9.1zM280.61 664.6h9.1v2h-9.1zM280.61 667.6h9.1v3h-9.1zM280.61 674.6h9.1v2h-9.1zM280.61 677.6h9.1v1h-9.1zM280.61 683.6h9.1v2h-9.1zM280.61 691.6h9.1v1h-9.1zM280.61 709.6h9.1v1h-9.1zM280.61 724.6h9.1v1h-9.1zM280.61 742.6h9.1v2h-9.1zM289.71 411.6h9.1v2h-9.1zM289.71 418.6h9.1v3h-9.1zM289.71 432.6h9.1v2h-9.1zM289.71 435.6h9.1v2h-9.1zM289.71 440.6h9.1v1h-9.1zM289.71 464.6h9.1v1h-9.1zM289.71 516.6h9.1v2h-9.1zM289.71 530.6h9.1v1h-9.1zM289.71 543.6h9.1v1h-9.1zM289.71 579.6h9.1v3h-9.1zM289.71 599.6h9.1v1h-9.1zM289.71 601.6h9.1v3h-9.1zM289.71 611.6h9.1v1h-9.1zM289.71 625.6h9.1v3h-9.1zM289.71 641.6h9.1v1h-9.1zM289.71 643.6h9.1v4h-9.1zM289.71 650.6h9.1v2h-9.1zM289.71 677.6h9.1v1h-9.1zM289.71 724.6h9.1v1h-9.1zM289.71 738.6h9.1v3h-9.1zM298.81 392.6h9.1v5h-9.1zM298.81 417.6h9.1v1h-9.1zM298.81 449.6h9.1v1h-9.1zM298.81 503.6h9.1v3h-9.1zM298.81 527.6h9.1v3h-9.1zM298.81 552.6h9.1v3h-9.1zM298.81 563.6h9.1v2h-9.1zM298.81 577.6h9.1v2h-9.1zM298.81 582.6h9.1v1h-9.1zM298.81 605.6h9.1v2h-9.1zM298.81 617.6h9.1v1h-9.1zM298.81 637.6h9.1v2h-9.1zM298.81 642.6h9.1v1h-9.1zM298.81 671.6h9.1v2h-9.1zM298.81 705.6h9.1v2h-9.1zM298.81 710.6h9.1v2h-9.1zM298.81 733.6h9.1v1h-9.1zM307.9 397.6h9.1v2h-9.1zM307.9 421.6h9.1v1h-9.1zM307.9 466.6h9.1v4h-9.1zM307.9 475.6h9.1v3h-9.1zM307.9 565.6h9.1v1h-9.1zM307.9 607.6h9.1v1h-9.1zM307.9 609.6h9.1v2h-9.1zM307.9 624.6h9.1v1h-9.1zM307.9 631.6h9.1v5h-9.1zM307.9 642.6h9.1v1h-9.1zM307.9 685.6h9.1v5h-9.1zM307.9 691.6h9.1v1h-9.1zM307.9 724.6h9.1v1h-9.1zM307.9 751.6h9.1v1h-9.1z"/><path fill="#00ff00" d="M35 33.3h9.1v10h-9.1zM35 46.3h9.1v1h-9.1zM35 50.3h9.1v5h-9.1zM35 57.3h9.1v3h-9.1zM35 63.3h9.1v13h-9.1zM35 82.3h9.1v1h-9.1zM35 84.3h9.1v3h-9.1zM35 91.3h9.1v2h-9.1zM35 96.3h9.1v4h-9.1zM35 101.3h9.1v9h-9.1zM35 113.3h9.1v2h-9.1zM35 122.3h9.1v2h-9.1zM35 134.3h9.1v1h-9.1zM35 153.3h9.1v2h-9.1zM35 160.3h9.1v2h-9.1zM35 165.3h9.1v2h-9.1zM35 179.3h9.1v2h-9.1zM35 183.3h9.1v3h-9.1zM35 214.3h9.1v1h-9.1zM35 258.3h9.1v3h-9.1zM53.19 33.3h9.1v9h-9.1zM53.19 45.3h9.1v25h-9.1zM53.19 73.3h9.1v5h-9.1zM53.19 80.3h9.1v1h-9.1zM53.19 83.3h9.1v8h-9.1zM53.19 96.3h9.1v2h-9.1zM53.19 99.3h9.1v6h-9.1zM53.19 106.3h9.1v2h-9.1zM53.19 112.3h9.1v2h-9.1zM53.19 149.3h9.1v1h-9.1zM62.29 33.3h9.1v7h-9.1zM62.29 43.3h9.1v5h-9.1zM62.29 49.3h9.1v2h-9.1zM62.29 55.3h9.1v5h-9.1zM62.29 62.3h9.1v9h-9.1zM62.29 74.3h9.1v8h-9.1zM62.29 91.3h9.1v4h-9.1zM62.29 105.3h9.1v2h-9.1zM62.29 110.3h9.1v1h-9.1zM62.29 132.3h9.1v2h-9.1zM62.29 141.3h9.1v3h-9.1zM62.29 149.3h9.1v1h-9.1zM62.29 213.3h9.1v3h-9.1zM62.29 225.3h9.1v3h-9.1zM171.45 36.3h9.1v3h-9.1zM171.45 42.3h9.1v1h-9.1zM171.45 47.3h9.1v2h-9.1zM171.45 62.3h9.1v4h-9.1zM171.45 73.3h9.1v2h-9.1zM171.45 78.3h9.1v1h-9.1zM171.45 80.3h9.1v1h-9.1zM171.45 86.3h9.1v6h-9.1zM171.45 95.3h9.1v4h-9.1zM171.45 102.3h9.1v5h-9.1zM171.45 116.3h9.1v2h-9.1zM171.45 123.3h9.1v1h-9.1zM171.45 125.3h9.1v1h-9.1zM171.45 142.3h9.1v8h-9.1zM171.45 154.3h9.1v3h-9.1zM171.45 168.3h9.1v3h-9.1zM171.45 175.3h9.1v5h-9.1zM171.45 182.3h9.1v3h-9.1zM171.45 190.3h9.1v3h-9.1zM171.45 197.3h9.1v2h-9.1zM171.45 210.3h9.1v2h-9.1zM171.45 213.3h9.1v3h-9.1zM171.45 222.3h9.1v1h-9.1zM171.45 224.3h9.1v3h-9.1zM171.45 230.3h9.1v1h-9.1zM171.45 232.3h9.1v2h-9.1zM171.45 241.3h9.1v3h-9.1zM171.45 245.3h9.1v1h-9.1zM171.45 247.3h9.1v3h-9.1zM171.45 251.3h9.1v4h-9.1zM171.45 256.3h9.1v1h-9.1zM171.45 262.3h9.1v4h-9.1zM171.45 276.3h9.1v2h-9.1zM171.45 284.3h9.1v1h-9.1zM171.45 290.3h9.1v3h-9.1zM171.45 295.3h9.1v1h-9.1zM171.45 305.3h9.1v3h-9.1zM171.45 315.3h9.1v2h-9.1zM171.45 327.3h9.1v1h-9.1zM171.45 329.3h9.1v2h-9.1zM171.45 340.3h9.1v1h-9.1zM171.45 349.3h9.1v1h-9.1zM171.45 355.3h9.1v2h-9.1zM171.45 358.3h9.1v2h-9.1zM171.45 361.3h9.1v1h-9.1zM171.45 368.3h9.1v3h-9.1zM171.45 376.3h9.1v2h-9.1zM171.45 380.3h9.1v2h-9.1zM180.55 33.3h9.1v6h-9.1zM180.55 42.3h9.1v1h-9.1zM180.55 47.3h9.1v2h-9.1zM180.55 61.3h9.1v1h-9.1zM180.55 79.3h9.1v2h-9.1zM180.55 82.3h9.1v2h-9.1zM180.55 89.3h9.1v3h-9.1zM180.55 99.3h9.1v1h-9.1zM180.55 111.3h9.1v2h-9.1zM180.55 124.3h9.1v1h-9.1zM180.55 132.3h9.1v2h-9.1zM180.55 140.3h9.1v3h-9.1zM180.55 147.3h9.1v2h-9.1zM180.55 168.3h9.1v3h-9.1zM180.55 207.3h9.1v2h-9.1zM180.55 213.3h9.1v4h-9.1zM180.55 222.3h9.1v1h-9.1zM180.55 224.3h9.1v3h-9.1zM180.55 230.3h9.1v1h-9.1zM180.55 232.3h9.1v9h-9.1zM180.55 254.3h9.1v1h-9.1zM180.55 259.3h9.1v3h-9.1zM180.55 263.3h9.1v3h-9.1zM180.55 268.3h9.1v3h-9.1zM180.55 279.3h9.1v2h-9.1zM180.55 288.3h9.1v1h-9.1zM180.55 290.3h9.1v3h-9.1zM180.55 296.3h9.1v5h-9.1zM180.55 304.3h9.1v1h-9.1zM180.55 318.3h9.1v2h-9.1zM180.55 322.3h9.1v2h-9.1zM180.55 327.3h9.1v2h-9.1zM180.55 352.3h9.1v2h-9.1zM180.55 358.3h9.1v2h-9.1zM180.55 362.3h9.1v2h-9.1zM180.55 367.3h9.1v1h-9.1zM180.55 371.3h9.1v1h-9.1zM180.55 373.3h9.1v2h-9.1zM180.55 378.3h9.1v1h-9.1zM189.65 33.3h9.1v6h-9.1zM189.65 40.3h9.1v3h-9.1zM189.65 55.3h9.1v2h-9.1zM189.65 61.3h9.1v2h-9.1zM189.65 66.3h9.1v2h-9.1zM189.65 80.3h9.1v1h-9.1zM189.65 82.3h9.1v3h-9.1zM189.65 86.3h9.1v6h-9.1zM189.65 104.3h9.1v3h-9.1zM189.65 122.3h9.1v1h-9.1zM189.65 125.3h9.1v1h-9.1zM189.65 142.3h9.1v4h-9.1zM189.65 147.3h9.1v3h-9.1zM189.65 152.3h9.1v2h-9.1zM189.65 167.3h9.1v1h-9.1zM189.65 177.3h9.1v3h-9.1zM189.65 182.3h9.1v3h-9.1zM189.65 188.3h9.1v1h-9.1zM189.65 190.3h9.1v3h-9.1zM189.65 197.3h9.1v2h-9.1zM189.65 210.3h9.1v2h-9.1zM189.65 226.3h9.1v4h-9.1zM189.65 231.3h9.1v4h-9.1zM189.65 253.3h9.1v1h-9.1zM189.65 257.3h9.1v2h-9.1zM189.65 262.3h9.1v4h-9.1zM189.65 271.3h9.1v1h-9.1zM189.65 279.3h9.1v2h-9.1zM189.65 295.3h9.1v1h-9.1zM189.65 297.3h9.1v1h-9.1zM189.65 311.3h9.1v2h-9.1zM189.65 320.3h9.1v1h-9.1zM189.65 338.3h9.1v1h-9.1zM189.65 352.3h9.1v3h-9.1zM189.65 358.3h9.1v2h-9.1zM189.65 362.3h9.1v2h-9.1zM189.65 368.3h9.1v4h-9.1zM189.65 375.3h9.1v1h-9.1zM189.65 380.3h9.1v2h-9.1zM198.74 33.3h9.1v4h-9.1zM198.74 39.3h9.1v4h-9.1zM198.74 47.3h9.1v2h-9.1zM198.74 50.3h9.1v2h-9.1zM198.74 62.3h9.1v1h-9.1zM198.74 66.3h9.1v1h-9.1zM198.74 76.3h9.1v1h-9.1zM198.74 86.3h9.1v6h-9.1zM198.74 104.3h9.1v5h-9.1zM198.74 113.3h9.1v2h-9.1zM198.74 122.3h9.1v2h-9.1zM198.74 125.3h9.1v2h-9.1zM198.74 130.3h9.1v2h-9.1zM198.74 138.3h9.1v8h-9.1zM198.74 147.3h9.1v2h-9.1zM198.74 152.3h9.1v2h-9.1zM198.74 168.3h9.1v3h-9.1zM198.74 182.3h9.1v3h-9.1zM198.74 190.3h9.1v3h-9.1zM198.74 197.3h9.1v2h-9.1zM198.74 210.3h9.1v2h-9.1zM198.74 213.3h9.1v3h-9.1zM198.74 222.3h9.1v1h-9.1zM198.74 224.3h9.1v7h-9.1zM198.74 234.3h9.1v1h-9.1zM198.74 238.3h9.1v1h-9.1zM198.74 248.3h9.1v2h-9.1zM198.74 253.3h9.1v2h-9.1zM198.74 256.3h9.1v1h-9.1zM198.74 262.3h9.1v1h-9.1zM198.74 268.3h9.1v4h-9.1zM198.74 284.3h9.1v1h-9.1zM198.74 288.3h9.1v1h-9.1zM198.74 295.3h9.1v1h-9.1zM198.74 297.3h9.1v1h-9.1zM198.74 301.3h9.1v1h-9.1zM198.74 311.3h9.1v2h-9.1zM198.74 317.3h9.1v1h-9.1zM198.74 320.3h9.1v2h-9.1zM198.74 325.3h9.1v1h-9.1zM198.74 333.3h9.1v1h-9.1zM198.74 344.3h9.1v5h-9.1zM198.74 354.3h9.1v1h-9.1zM198.74 358.3h9.1v2h-9.1zM198.74 373.3h9.1v3h-9.1zM198.74 379.3h9.1v1h-9.1zM207.84 33.3h9.1v4h-9.1zM207.84 39.3h9.1v4h-9.1zM207.84 47.3h9.1v2h-9.1zM207.84 52.3h9.1v3h-9.1zM207.84 61.3h9.1v5h-9.1zM207.84 67.3h9.1v1h-9.1zM207.84 80.3h9.1v1h-9.1zM207.84 84.3h9.1v1h-9.1zM207.84 89.3h9.1v3h-9.1zM207.84 93.3h9.1v2h-9.1zM207.84 102.3h9.1v5h-9.1zM207.84 113.3h9.1v2h-9.1zM207.84 122.3h9.1v2h-9.1zM207.84 138.3h9.1v4h-9.1zM207.84 144.3h9.1v2h-9.1zM207.84 147.3h9.1v3h-9.1zM207.84 154.3h9.1v3h-9.1zM207.84 166.3h9.1v1h-9.1zM207.84 168.3h9.1v3h-9.1zM207.84 178.3h9.1v2h-9.1zM207.84 182.3h9.1v3h-9.1zM207.84 188.3h9.1v1h-9.1zM207.84 190.3h9.1v3h-9.1zM207.84 199.3h9.1v3h-9.1zM207.84 213.3h9.1v3h-9.1zM207.84 224.3h9.1v2h-9.1zM207.84 230.3h9.1v1h-9.1zM207.84 232.3h9.1v2h-9.1zM207.84 236.3h9.1v5h-9.1zM207.84 248.3h9.1v2h-9.1zM207.84 254.3h9.1v1h-9.1zM207.84 256.3h9.1v1h-9.1zM207.84 259.3h9.1v2h-9.1zM207.84 262.3h9.1v4h-9.1zM207.84 268.3h9.1v3h-9.1zM207.84 276.3h9.1v2h-9.1zM207.84 285.3h9.1v2h-9.1zM207.84 288.3h9.1v1h-9.1zM207.84 290.3h9.1v3h-9.1zM207.84 304.3h9.1v1h-9.1zM207.84 315.3h9.1v2h-9.1zM207.84 318.3h9.1v2h-9.1zM207.84 325.3h9.1v1h-9.1zM207.84 327.3h9.1v1h-9.1zM207.84 332.3h9.1v1h-9.1zM207.84 340.3h9.1v1h-9.1zM207.84 345.3h9.1v1h-9.1zM207.84 352.3h9.1v5h-9.1zM207.84 358.3h9.1v2h-9.1zM207.84 373.3h9.1v2h-9.1zM216.94 33.3h9.1v10h-9.1zM216.94 47.3h9.1v2h-9.1zM216.94 61.3h9.1v1h-9.1zM216.94 63.3h9.1v3h-9.1zM216.94 72.3h9.1v1h-9.1zM216.94 75.3h9.1v1h-9.1zM216.94 78.3h9.1v2h-9.1zM216.94 86.3h9.1v3h-9.1zM216.94 107.3h9.1v2h-9.1zM216.94 125.3h9.1v1h-9.1zM216.94 130.3h9.1v2h-9.1zM216.94 142.3h9.1v1h-9.1zM216.94 144.3h9.1v2h-9.1zM216.94 147.3h9.1v2h-9.1zM216.94 182.3h9.1v3h-9.1zM216.94 190.3h9.1v3h-9.1zM216.94 209.3h9.1v3h-9.1zM216.94 213.3h9.1v3h-9.1zM216.94 224.3h9.1v3h-9.1zM216.94 230.3h9.1v1h-9.1zM216.94 232.3h9.1v2h-9.1zM216.94 238.3h9.1v3h-9.1zM216.94 248.3h9.1v2h-9.1zM216.94 251.3h9.1v4h-9.1zM216.94 262.3h9.1v1h-9.1zM216.94 271.3h9.1v1h-9.1zM216.94 279.3h9.1v8h-9.1zM216.94 288.3h9.1v1h-9.1zM216.94 290.3h9.1v3h-9.1zM216.94 297.3h9.1v4h-9.1zM216.94 308.3h9.1v1h-9.1zM216.94 313.3h9.1v1h-9.1zM216.94 315.3h9.1v2h-9.1zM216.94 318.3h9.1v2h-9.1zM216.94 325.3h9.1v1h-9.1zM216.94 327.3h9.1v1h-9.1zM216.94 338.3h9.1v3h-9.1zM216.94 346.3h9.1v3h-9.1zM216.94 352.3h9.1v3h-9.1zM216.94 357.3h9.1v7h-9.1zM216.94 368.3h9.1v4h-9.1zM226.03 33.3h9.1v4h-9.1zM226.03 40.3h9.1v3h-9.1zM226.03 46.3h9.1v1h-9.1zM226.03 52.3h9.1v5h-9.1zM226.03 61.3h9.1v2h-9.1zM226.03 80.3h9.1v1h-9.1zM226.03 82.3h9.1v2h-9.1zM226.03 86.3h9.1v3h-9.1zM226.03 92.3h9.1v1h-9.1zM226.03 96.3h9.1v3h-9.1zM226.03 100.3h9.1v1h-9.1zM226.03 104.3h9.1v5h-9.1zM226.03 111.3h9.1v2h-9.1zM226.03 116.3h9.1v2h-9.1zM226.03 122.3h9.1v1h-9.1zM226.03 127.3h9.1v2h-9.1zM226.03 140.3h9.1v2h-9.1zM226.03 143.3h9.1v3h-9.1zM226.03 152.3h9.1v2h-9.1zM226.03 166.3h9.1v1h-9.1zM226.03 178.3h9.1v2h-9.1zM226.03 182.3h9.1v3h-9.1zM226.03 197.3h9.1v2h-9.1zM226.03 222.3h9.1v1h-9.1zM226.03 224.3h9.1v2h-9.1zM226.03 230.3h9.1v1h-9.1zM226.03 234.3h9.1v2h-9.1zM226.03 238.3h9.1v3h-9.1zM226.03 251.3h9.1v2h-9.1zM226.03 254.3h9.1v1h-9.1zM226.03 259.3h9.1v2h-9.1zM226.03 262.3h9.1v1h-9.1zM226.03 271.3h9.1v1h-9.1zM226.03 281.3h9.1v4h-9.1zM226.03 288.3h9.1v1h-9.1zM226.03 290.3h9.1v3h-9.1zM226.03 294.3h9.1v1h-9.1zM226.03 298.3h9.1v3h-9.1zM226.03 320.3h9.1v1h-9.1zM226.03 322.3h9.1v2h-9.1zM226.03 327.3h9.1v1h-9.1zM226.03 332.3h9.1v1h-9.1zM226.03 334.3h9.1v2h-9.1zM226.03 339.3h9.1v1h-9.1zM226.03 354.3h9.1v1h-9.1zM226.03 358.3h9.1v3h-9.1zM226.03 368.3h9.1v4h-9.1zM226.03 380.3h9.1v2h-9.1zM235.13 33.3h9.1v3h-9.1zM235.13 40.3h9.1v4h-9.1zM235.13 52.3h9.1v3h-9.1zM235.13 61.3h9.1v6h-9.1zM235.13 80.3h9.1v2h-9.1zM235.13 96.3h9.1v3h-9.1zM235.13 102.3h9.1v2h-9.1zM235.13 122.3h9.1v1h-9.1zM235.13 125.3h9.1v1h-9.1zM235.13 127.3h9.1v2h-9.1zM235.13 137.3h9.1v1h-9.1zM235.13 140.3h9.1v2h-9.1zM235.13 143.3h9.1v6h-9.1zM235.13 150.3h9.1v2h-9.1zM235.13 164.3h9.1v3h-9.1zM235.13 168.3h9.1v3h-9.1zM235.13 188.3h9.1v2h-9.1zM235.13 193.3h9.1v3h-9.1zM235.13 210.3h9.1v2h-9.1zM235.13 221.3h9.1v2h-9.1zM235.13 226.3h9.1v1h-9.1zM235.13 230.3h9.1v1h-9.1zM235.13 232.3h9.1v2h-9.1zM235.13 235.3h9.1v1h-9.1zM235.13 246.3h9.1v1h-9.1zM235.13 248.3h9.1v2h-9.1zM235.13 254.3h9.1v1h-9.1zM235.13 256.3h9.1v1h-9.1zM235.13 262.3h9.1v6h-9.1zM235.13 272.3h9.1v4h-9.1zM235.13 279.3h9.1v2h-9.1zM235.13 284.3h9.1v1h-9.1zM235.13 288.3h9.1v1h-9.1zM235.13 293.3h9.1v1h-9.1zM235.13 301.3h9.1v1h-9.1zM235.13 305.3h9.1v3h-9.1zM235.13 317.3h9.1v4h-9.1zM235.13 327.3h9.1v1h-9.1zM235.13 346.3h9.1v3h-9.1zM235.13 357.3h9.1v4h-9.1zM235.13 371.3h9.1v1h-9.1zM244.23 33.3h9.1v3h-9.1zM244.23 40.3h9.1v3h-9.1zM244.23 50.3h9.1v5h-9.1zM244.23 61.3h9.1v5h-9.1zM244.23 69.3h9.1v2h-9.1zM244.23 75.3h9.1v1h-9.1zM244.23 78.3h9.1v1h-9.1zM244.23 82.3h9.1v3h-9.1zM244.23 86.3h9.1v6h-9.1zM244.23 104.3h9.1v5h-9.1zM244.23 115.3h9.1v1h-9.1zM244.23 122.3h9.1v1h-9.1zM244.23 140.3h9.1v2h-9.1zM244.23 144.3h9.1v2h-9.1zM244.23 154.3h9.1v3h-9.1zM244.23 160.3h9.1v4h-9.1zM244.23 172.3h9.1v1h-9.1zM244.23 174.3h9.1v1h-9.1zM244.23 178.3h9.1v2h-9.1zM244.23 182.3h9.1v3h-9.1zM244.23 188.3h9.1v1h-9.1zM244.23 190.3h9.1v3h-9.1zM244.23 203.3h9.1v3h-9.1zM244.23 213.3h9.1v3h-9.1zM244.23 223.3h9.1v3h-9.1zM244.23 230.3h9.1v1h-9.1zM244.23 232.3h9.1v4h-9.1zM244.23 238.3h9.1v3h-9.1zM244.23 245.3h9.1v2h-9.1zM244.23 248.3h9.1v2h-9.1zM244.23 251.3h9.1v2h-9.1zM244.23 256.3h9.1v5h-9.1zM244.23 262.3h9.1v4h-9.1zM244.23 274.3h9.1v2h-9.1zM244.23 279.3h9.1v2h-9.1zM244.23 285.3h9.1v2h-9.1zM244.23 288.3h9.1v1h-9.1zM244.23 290.3h9.1v3h-9.1zM244.23 317.3h9.1v3h-9.1zM244.23 322.3h9.1v2h-9.1zM244.23 327.3h9.1v1h-9.1zM244.23 336.3h9.1v4h-9.1zM244.23 355.3h9.1v2h-9.1zM244.23 358.3h9.1v2h-9.1zM244.23 362.3h9.1v2h-9.1zM244.23 365.3h9.1v2h-9.1zM244.23 368.3h9.1v3h-9.1zM253.32 36.3h9.1v3h-9.1zM253.32 40.3h9.1v4h-9.1zM253.32 46.3h9.1v1h-9.1zM253.32 50.3h9.1v2h-9.1zM253.32 63.3h9.1v4h-9.1zM253.32 72.3h9.1v1h-9.1zM253.32 78.3h9.1v2h-9.1zM253.32 82.3h9.1v2h-9.1zM253.32 93.3h9.1v2h-9.1zM253.32 100.3h9.1v1h-9.1zM253.32 104.3h9.1v3h-9.1zM253.32 123.3h9.1v1h-9.1zM253.32 126.3h9.1v1h-9.1zM253.32 138.3h9.1v4h-9.1zM253.32 143.3h9.1v1h-9.1zM253.32 152.3h9.1v5h-9.1zM253.32 164.3h9.1v3h-9.1zM253.32 168.3h9.1v3h-9.1zM253.32 178.3h9.1v2h-9.1zM253.32 182.3h9.1v6h-9.1zM253.32 190.3h9.1v3h-9.1zM253.32 197.3h9.1v2h-9.1zM253.32 207.3h9.1v2h-9.1zM253.32 213.3h9.1v3h-9.1zM253.32 222.3h9.1v1h-9.1zM253.32 226.3h9.1v5h-9.1zM253.32 232.3h9.1v2h-9.1zM253.32 236.3h9.1v2h-9.1zM253.32 239.3h9.1v2h-9.1zM253.32 244.3h9.1v1h-9.1zM253.32 246.3h9.1v1h-9.1zM253.32 256.3h9.1v1h-9.1zM253.32 259.3h9.1v2h-9.1zM253.32 262.3h9.1v4h-9.1zM253.32 268.3h9.1v3h-9.1zM253.32 296.3h9.1v1h-9.1zM253.32 298.3h9.1v3h-9.1zM253.32 311.3h9.1v2h-9.1zM253.32 318.3h9.1v3h-9.1zM253.32 327.3h9.1v1h-9.1zM253.32 346.3h9.1v3h-9.1zM253.32 352.3h9.1v2h-9.1zM253.32 365.3h9.1v6h-9.1zM253.32 376.3h9.1v2h-9.1zM262.42 33.3h9.1v6h-9.1zM262.42 40.3h9.1v3h-9.1zM262.42 47.3h9.1v2h-9.1zM262.42 50.3h9.1v2h-9.1zM262.42 61.3h9.1v1h-9.1zM262.42 63.3h9.1v3h-9.1zM262.42 73.3h9.1v2h-9.1zM262.42 78.3h9.1v1h-9.1zM262.42 80.3h9.1v1h-9.1zM262.42 82.3h9.1v2h-9.1zM262.42 86.3h9.1v3h-9.1zM262.42 96.3h9.1v4h-9.1zM262.42 104.3h9.1v3h-9.1zM262.42 115.3h9.1v1h-9.1zM262.42 122.3h9.1v1h-9.1zM262.42 125.3h9.1v1h-9.1zM262.42 140.3h9.1v2h-9.1zM262.42 143.3h9.1v3h-9.1zM262.42 152.3h9.1v2h-9.1zM262.42 157.3h9.1v3h-9.1zM262.42 172.3h9.1v1h-9.1zM262.42 178.3h9.1v3h-9.1zM262.42 188.3h9.1v1h-9.1zM262.42 207.3h9.1v2h-9.1zM262.42 224.3h9.1v2h-9.1zM262.42 227.3h9.1v4h-9.1zM262.42 234.3h9.1v1h-9.1zM262.42 236.3h9.1v5h-9.1zM262.42 254.3h9.1v1h-9.1zM262.42 257.3h9.1v2h-9.1zM262.42 261.3h9.1v7h-9.1zM262.42 272.3h9.1v2h-9.1zM262.42 289.3h9.1v1h-9.1zM262.42 297.3h9.1v1h-9.1zM262.42 322.3h9.1v2h-9.1zM262.42 333.3h9.1v1h-9.1zM262.42 339.3h9.1v1h-9.1zM262.42 341.3h9.1v3h-9.1zM262.42 349.3h9.1v1h-9.1zM262.42 355.3h9.1v2h-9.1zM262.42 358.3h9.1v2h-9.1zM262.42 362.3h9.1v2h-9.1zM262.42 371.3h9.1v1h-9.1zM262.42 382.3h9.1v1h-9.1zM262.42 385.3h9.1v0.9h-9.1zM271.52 33.3h9.1v6h-9.1zM271.52 40.3h9.1v3h-9.1zM271.52 47.3h9.1v2h-9.1zM271.52 50.3h9.1v5h-9.1zM271.52 57.3h9.1v9h-9.1zM271.52 80.3h9.1v12h-9.1zM271.52 93.3h9.1v2h-9.1zM271.52 100.3h9.1v1h-9.1zM271.52 104.3h9.1v3h-9.1zM271.52 122.3h9.1v1h-9.1zM271.52 134.3h9.1v1h-9.1zM271.52 140.3h9.1v2h-9.1zM271.52 143.3h9.1v4h-9.1zM271.52 152.3h9.1v2h-9.1zM271.52 177.3h9.1v3h-9.1zM271.52 182.3h9.1v3h-9.1zM271.52 190.3h9.1v3h-9.1zM271.52 209.3h9.1v1h-9.1zM271.52 212.3h9.1v1h-9.1zM271.52 216.3h9.1v1h-9.1zM271.52 222.3h9.1v1h-9.1zM271.52 224.3h9.1v7h-9.1zM271.52 232.3h9.1v3h-9.1zM271.52 236.3h9.1v3h-9.1zM271.52 248.3h9.1v2h-9.1zM271.52 253.3h9.1v2h-9.1zM271.52 257.3h9.1v2h-9.1zM271.52 262.3h9.1v4h-9.1zM271.52 279.3h9.1v2h-9.1zM271.52 285.3h9.1v2h-9.1zM271.52 288.3h9.1v1h-9.1zM271.52 290.3h9.1v3h-9.1zM271.52 304.3h9.1v1h-9.1zM271.52 315.3h9.1v2h-9.1zM271.52 320.3h9.1v1h-9.1zM271.52 324.3h9.1v1h-9.1zM271.52 326.3h9.1v1h-9.1zM271.52 332.3h9.1v1h-9.1zM271.52 334.3h9.1v2h-9.1zM271.52 341.3h9.1v3h-9.1zM271.52 352.3h9.1v6h-9.1zM271.52 364.3h9.1v3h-9.1zM271.52 368.3h9.1v3h-9.1zM271.52 375.3h9.1v1h-9.1zM280.61 33.3h9.1v4h-9.1zM280.61 39.3h9.1v4h-9.1zM280.61 62.3h9.1v1h-9.1zM280.61 72.3h9.1v1h-9.1zM280.61 77.3h9.1v2h-9.1zM280.61 84.3h9.1v1h-9.1zM280.61 89.3h9.1v3h-9.1zM280.61 96.3h9.1v3h-9.1zM280.61 107.3h9.1v2h-9.1zM280.61 129.3h9.1v1h-9.1zM280.61 140.3h9.1v2h-9.1zM280.61 144.3h9.1v2h-9.1zM280.61 147.3h9.1v2h-9.1zM280.61 177.3h9.1v3h-9.1zM280.61 182.3h9.1v6h-9.1zM280.61 197.3h9.1v2h-9.1zM280.61 202.3h9.1v1h-9.1zM280.61 212.3h9.1v4h-9.1zM280.61 222.3h9.1v1h-9.1zM280.61 224.3h9.1v7h-9.1zM280.61 234.3h9.1v1h-9.1zM280.61 236.3h9.1v3h-9.1zM280.61 244.3h9.1v1h-9.1zM280.61 253.3h9.1v2h-9.1zM280.61 257.3h9.1v4h-9.1zM280.61 262.3h9.1v4h-9.1zM280.61 271.3h9.1v1h-9.1zM280.61 279.3h9.1v2h-9.1zM280.61 288.3h9.1v1h-9.1zM280.61 290.3h9.1v4h-9.1zM280.61 297.3h9.1v7h-9.1zM280.61 309.3h9.1v2h-9.1zM280.61 315.3h9.1v2h-9.1zM280.61 321.3h9.1v1h-9.1zM280.61 325.3h9.1v1h-9.1zM280.61 334.3h9.1v2h-9.1zM280.61 349.3h9.1v1h-9.1zM280.61 354.3h9.1v3h-9.1zM280.61 358.3h9.1v3h-9.1zM280.61 365.3h9.1v2h-9.1zM280.61 368.3h9.1v3h-9.1zM280.61 378.3h9.1v1h-9.1zM289.71 33.3h9.1v6h-9.1zM289.71 40.3h9.1v2h-9.1zM289.71 47.3h9.1v2h-9.1zM289.71 50.3h9.1v5h-9.1zM289.71 57.3h9.1v3h-9.1zM289.71 61.3h9.1v5h-9.1zM289.71 69.3h9.1v2h-9.1zM289.71 79.3h9.1v2h-9.1zM289.71 82.3h9.1v3h-9.1zM289.71 86.3h9.1v6h-9.1zM289.71 93.3h9.1v2h-9.1zM289.71 102.3h9.1v2h-9.1zM289.71 111.3h9.1v2h-9.1zM289.71 115.3h9.1v3h-9.1zM289.71 122.3h9.1v2h-9.1zM289.71 125.3h9.1v4h-9.1zM289.71 130.3h9.1v2h-9.1zM289.71 134.3h9.1v1h-9.1zM289.71 140.3h9.1v3h-9.1zM289.71 144.3h9.1v2h-9.1zM289.71 147.3h9.1v2h-9.1zM289.71 150.3h9.1v10h-9.1zM289.71 164.3h9.1v3h-9.1zM289.71 168.3h9.1v3h-9.1zM289.71 178.3h9.1v3h-9.1zM289.71 182.3h9.1v3h-9.1zM289.71 188.3h9.1v1h-9.1zM289.71 190.3h9.1v6h-9.1zM289.71 223.3h9.1v8h-9.1zM289.71 232.3h9.1v2h-9.1zM289.71 236.3h9.1v8h-9.1zM289.71 247.3h9.1v3h-9.1zM289.71 254.3h9.1v1h-9.1zM289.71 256.3h9.1v15h-9.1zM289.71 272.3h9.1v4h-9.1zM289.71 279.3h9.1v2h-9.1zM289.71 284.3h9.1v1h-9.1zM289.71 288.3h9.1v1h-9.1zM289.71 293.3h9.1v1h-9.1zM289.71 297.3h9.1v1h-9.1zM289.71 302.3h9.1v2h-9.1zM289.71 308.3h9.1v3h-9.1zM289.71 313.3h9.1v1h-9.1zM289.71 318.3h9.1v3h-9.1zM289.71 322.3h9.1v2h-9.1zM289.71 327.3h9.1v1h-9.1zM289.71 329.3h9.1v2h-9.1zM289.71 332.3h9.1v1h-9.1zM289.71 339.3h9.1v1h-9.1zM289.71 341.3h9.1v3h-9.1zM289.71 345.3h9.1v4h-9.1zM289.71 350.3h9.1v4h-9.1zM289.71 355.3h9.1v2h-9.1zM289.71 358.3h9.1v2h-9.1zM289.71 362.3h9.1v2h-9.1zM289.71 368.3h9.1v3h-9.1zM289.71 378.3h9.1v1h-9.1zM298.81 33.3h9.1v9h-9.1zM298.81 47.3h9.1v5h-9.1zM298.81 57.3h9.1v3h-9.1zM298.81 61.3h9.1v2h-9.1zM298.81 78.3h9.1v3h-9.1zM298.81 82.3h9.1v2h-9.1zM298.81 89.3h9.1v3h-9.1zM298.81 101.3h9.1v1h-9.1zM298.81 109.3h9.1v2h-9.1zM298.81 122.3h9.1v1h-9.1zM298.81 132.3h9.1v2h-9.1zM298.81 140.3h9.1v2h-9.1zM298.81 143.3h9.1v3h-9.1zM298.81 147.3h9.1v2h-9.1zM298.81 157.3h9.1v3h-9.1zM298.81 168.3h9.1v3h-9.1zM298.81 174.3h9.1v1h-9.1zM298.81 188.3h9.1v1h-9.1zM298.81 197.3h9.1v2h-9.1zM298.81 209.3h9.1v1h-9.1zM298.81 213.3h9.1v3h-9.1zM298.81 224.3h9.1v2h-9.1zM298.81 227.3h9.1v4h-9.1zM298.81 232.3h9.1v4h-9.1zM298.81 239.3h9.1v2h-9.1zM298.81 248.3h9.1v2h-9.1zM298.81 251.3h9.1v2h-9.1zM298.81 257.3h9.1v4h-9.1zM298.81 263.3h9.1v3h-9.1zM298.81 276.3h9.1v2h-9.1zM298.81 288.3h9.1v1h-9.1zM298.81 293.3h9.1v2h-9.1zM298.81 318.3h9.1v6h-9.1zM298.81 346.3h9.1v3h-9.1zM298.81 352.3h9.1v3h-9.1zM298.81 371.3h9.1v1h-9.1zM298.81 383.3h9.1v2.9h-9.1zM307.9 33.3h9.1v4h-9.1zM307.9 39.3h9.1v3h-9.1zM307.9 47.3h9.1v3h-9.1zM307.9 57.3h9.1v4h-9.1zM307.9 62.3h9.1v1h-9.1zM307.9 86.3h9.1v3h-9.1zM307.9 100.3h9.1v2h-9.1zM307.9 104.3h9.1v3h-9.1zM307.9 124.3h9.1v3h-9.1zM307.9 140.3h9.1v4h-9.1zM307.9 147.3h9.1v10h-9.1zM307.9 160.3h9.1v1h-9.1zM307.9 168.3h9.1v3h-9.1zM307.9 180.3h9.1v1h-9.1zM307.9 190.3h9.1v3h-9.1zM307.9 197.3h9.1v2h-9.1zM307.9 209.3h9.1v3h-9.1zM307.9 224.3h9.1v2h-9.1zM307.9 230.3h9.1v1h-9.1zM307.9 234.3h9.1v1h-9.1zM307.9 238.3h9.1v1h-9.1zM307.9 241.3h9.1v1h-9.1zM307.9 253.3h9.1v1h-9.1zM307.9 257.3h9.1v4h-9.1zM307.9 263.3h9.1v9h-9.1zM307.9 289.3h9.1v5h-9.1zM307.9 298.3h9.1v3h-9.1zM307.9 302.3h9.1v2h-9.1zM307.9 318.3h9.1v3h-9.1zM307.9 325.3h9.1v1h-9.1zM307.9 352.3h9.1v3h-9.1zM307.9 358.3h9.1v2h-9.1zM307.9 368.3h9.1v3h-9.1zM80.48 389.6h9.1v2h-9.1zM80.48 393.6h9.1v3h-9.1zM80.48 398.6h9.1v2h-9.1zM80.48 401.6h9.1v1h-9.1zM80.48 403.6h9.1v6h-9.1zM80.48 410.6h9.1v9h-9.1zM80.48 421.6h9.1v2h-9.1zM80.48 424.6h9.1v3h-9.1zM80.48 431.6h9.1v1h-9.1zM80.48 440.6h9.1v1h-9.1zM80.48 444.6h9.1v5h-9.1zM80.48 451.6h9.1v1h-9.1zM80.48 455.6h9.1v4h-9.1zM80.48 460.6h9.1v2h-9.1zM80.48 463.6h9.1v2h-9.1zM80.48 472.6h9.1v2h-9.1zM80.48 480.6h9.1v2h-9.1zM80.48 484.6h9.1v2h-9.1zM80.48 488.6h9.1v2h-9.1zM80.48 492.6h9.1v4h-9.1zM80.48 532.6h9.1v2h-9.1zM80.48 543.6h9.1v1h-9.1zM80.48 549.6h9.1v2h-9.1zM80.48 553.6h9.1v2h-9.1zM80.48 557.6h9.1v2h-9.1zM89.58 389.6h9.1v2h-9.1zM89.58 392.6h9.1v1h-9.1zM89.58 395.6h9.1v4h-9.1zM89.58 402.6h9.1v2h-9.1zM89.58 410.6h9.1v7h-9.1zM89.58 420.6h9.1v8h-9.1zM89.58 430.6h9.1v5h-9.1zM89.58 437.6h9.1v1h-9.1zM89.58 441.6h9.1v4h-9.1zM89.58 446.6h9.1v3h-9.1zM89.58 450.6h9.1v1h-9.1zM89.58 456.6h9.1v4h-9.1zM89.58 462.6h9.1v2h-9.1zM89.58 465.6h9.1v7h-9.1zM89.58 473.6h9.1v5h-9.1zM89.58 481.6h9.1v2h-9.1zM89.58 485.6h9.1v1h-9.1zM89.58 495.6h9.1v1h-9.1zM89.58 515.6h9.1v4h-9.1zM89.58 523.6h9.1v1h-9.1zM89.58 558.6h9.1v1h-9.1zM89.58 578.6h9.1v2h-9.1zM89.58 583.6h9.1v1h-9.1zM89.58 609.6h9.1v2h-9.1zM89.58 612.6h9.1v1h-9.1zM89.58 629.6h9.1v1h-9.1zM98.68 389.6h9.1v19h-9.1zM98.68 410.6h9.1v4h-9.1zM98.68 416.6h9.1v2h-9.1zM98.68 422.6h9.1v5h-9.1zM98.68 429.6h9.1v4h-9.1zM98.68 434.6h9.1v2h-9.1zM98.68 438.6h9.1v5h-9.1zM98.68 449.6h9.1v3h-9.1zM98.68 455.6h9.1v1h-9.1zM98.68 460.6h9.1v1h-9.1zM98.68 470.6h9.1v2h-9.1zM98.68 479.6h9.1v1h-9.1zM98.68 484.6h9.1v1h-9.1zM98.68 488.6h9.1v2h-9.1zM98.68 518.6h9.1v2h-9.1zM98.68 522.6h9.1v1h-9.1zM98.68 525.6h9.1v2h-9.1zM98.68 529.6h9.1v1h-9.1zM98.68 542.6h9.1v1h-9.1zM98.68 578.6h9.1v2h-9.1zM98.68 584.6h9.1v2h-9.1zM98.68 602.6h9.1v2h-9.1zM98.68 650.6h9.1v2h-9.1zM107.77 389.6h9.1v6h-9.1zM107.77 396.6h9.1v6h-9.1zM107.77 404.6h9.1v3h-9.1zM107.77 408.6h9.1v2h-9.1zM107.77 411.6h9.1v4h-9.1zM107.77 419.6h9.1v4h-9.1zM107.77 430.6h9.1v2h-9.1zM107.77 435.6h9.1v2h-9.1zM107.77 438.6h9.1v2h-9.1zM107.77 457.6h9.1v1h-9.1zM107.77 472.6h9.1v1h-9.1zM107.77 477.6h9.1v1h-9.1zM107.77 487.6h9.1v3h-9.1zM107.77 491.6h9.1v2h-9.1zM107.77 503.6h9.1v2h-9.1zM107.77 511.6h9.1v2h-9.1zM107.77 532.6h9.1v1h-9.1zM107.77 541.6h9.1v1h-9.1zM107.77 596.6h9.1v2h-9.1zM107.77 618.6h9.1v1h-9.1zM107.77 630.6h9.1v2h-9.1zM107.77 724.6h9.1v1h-9.1zM116.87 389.6h9.1v5h-9.1zM116.87 398.6h9.1v4h-9.1zM116.87 408.6h9.1v2h-9.1zM116.87 411.6h9.1v1h-9.1zM116.87 417.6h9.1v3h-9.1zM116.87 421.6h9.1v2h-9.1zM116.87 424.6h9.1v5h-9.1zM116.87 434.6h9.1v3h-9.1zM116.87 438.6h9.1v1h-9.1zM116.87 442.6h9.1v1h-9.1zM116.87 445.6h9.1v2h-9.1zM116.87 458.6h9.1v3h-9.1zM116.87 476.6h9.1v2h-9.1zM116.87 483.6h9.1v1h-9.1zM116.87 487.6h9.1v2h-9.1zM116.87 493.6h9.1v2h-9.1zM116.87 503.6h9.1v2h-9.1zM116.87 506.6h9.1v2h-9.1zM116.87 516.6h9.1v2h-9.1zM116.87 537.6h9.1v2h-9.1zM116.87 562.6h9.1v1h-9.1zM116.87 580.6h9.1v2h-9.1zM116.87 605.6h9.1v1h-9.1zM125.97 390.6h9.1v2h-9.1zM125.97 397.6h9.1v1h-9.1zM125.97 402.6h9.1v1h-9.1zM125.97 406.6h9.1v1h-9.1zM125.97 422.6h9.1v4h-9.1zM125.97 430.6h9.1v2h-9.1zM125.97 451.6h9.1v1h-9.1zM125.97 465.6h9.1v2h-9.1zM125.97 490.6h9.1v1h-9.1zM125.97 514.6h9.1v1h-9.1zM125.97 540.6h9.1v1h-9.1zM125.97 556.6h9.1v2h-9.1zM135.06 389.6h9.1v12h-9.1zM135.06 407.6h9.1v3h-9.1zM135.06 411.6h9.1v6h-9.1zM135.06 418.6h9.1v5h-9.1zM135.06 430.6h9.1v2h-9.1zM135.06 438.6h9.1v1h-9.1zM135.06 446.6h9.1v5h-9.1zM135.06 453.6h9.1v2h-9.1zM135.06 464.6h9.1v2h-9.1zM135.06 471.6h9.1v2h-9.1zM135.06 476.6h9.1v2h-9.1zM135.06 480.6h9.1v2h-9.1zM135.06 484.6h9.1v2h-9.1zM135.06 489.6h9.1v3h-9.1zM135.06 493.6h9.1v2h-9.1zM135.06 507.6h9.1v2h-9.1zM135.06 515.6h9.1v2h-9.1zM135.06 545.6h9.1v1h-9.1zM135.06 554.6h9.1v1h-9.1zM135.06 559.6h9.1v2h-9.1zM135.06 564.6h9.1v1h-9.1zM135.06 614.6h9.1v1h-9.1zM135.06 634.6h9.1v1h-9.1zM135.06 636.6h9.1v2h-9.1zM144.16 390.6h9.1v5h-9.1zM144.16 398.6h9.1v2h-9.1zM144.16 403.6h9.1v5h-9.1zM144.16 416.6h9.1v1h-9.1zM144.16 418.6h9.1v1h-9.1zM144.16 420.6h9.1v1h-9.1zM144.16 431.6h9.1v2h-9.1zM144.16 442.6h9.1v1h-9.1zM144.16 453.6h9.1v1h-9.1zM144.16 455.6h9.1v2h-9.1zM144.16 463.6h9.1v2h-9.1zM144.16 472.6h9.1v2h-9.1zM144.16 479.6h9.1v3h-9.1zM144.16 488.6h9.1v2h-9.1zM144.16 495.6h9.1v1h-9.1zM144.16 497.6h9.1v2h-9.1zM144.16 503.6h9.1v1h-9.1zM144.16 512.6h9.1v2h-9.1zM144.16 550.6h9.1v2h-9.1zM144.16 575.6h9.1v1h-9.1zM144.16 661.6h9.1v2h-9.1zM144.16 732.6h9.1v2h-9.1zM153.26 389.6h9.1v16h-9.1zM153.26 407.6h9.1v4h-9.1zM153.26 413.6h9.1v9h-9.1zM153.26 424.6h9.1v2h-9.1zM153.26 428.6h9.1v2h-9.1zM153.26 434.6h9.1v3h-9.1zM153.26 440.6h9.1v4h-9.1zM153.26 446.6h9.1v2h-9.1zM153.26 450.6h9.1v1h-9.1zM153.26 453.6h9.1v2h-9.1zM153.26 456.6h9.1v2h-9.1zM153.26 460.6h9.1v4h-9.1zM153.26 469.6h9.1v2h-9.1zM153.26 476.6h9.1v2h-9.1zM153.26 482.6h9.1v3h-9.1zM153.26 487.6h9.1v1h-9.1zM153.26 496.6h9.1v1h-9.1zM153.26 506.6h9.1v1h-9.1zM153.26 523.6h9.1v1h-9.1zM153.26 534.6h9.1v2h-9.1zM153.26 543.6h9.1v2h-9.1zM153.26 548.6h9.1v2h-9.1zM153.26 581.6h9.1v2h-9.1zM153.26 595.6h9.1v2h-9.1zM153.26 714.6h9.1v1h-9.1zM162.35 389.6h9.1v10h-9.1zM162.35 400.6h9.1v1h-9.1zM162.35 404.6h9.1v4h-9.1zM162.35 409.6h9.1v1h-9.1zM162.35 412.6h9.1v1h-9.1zM162.35 422.6h9.1v1h-9.1zM162.35 427.6h9.1v1h-9.1zM162.35 433.6h9.1v5h-9.1zM162.35 439.6h9.1v1h-9.1zM162.35 442.6h9.1v2h-9.1zM162.35 447.6h9.1v1h-9.1zM162.35 451.6h9.1v1h-9.1zM162.35 461.6h9.1v1h-9.1zM162.35 465.6h9.1v1h-9.1zM162.35 481.6h9.1v4h-9.1zM162.35 491.6h9.1v2h-9.1zM162.35 519.6h9.1v3h-9.1zM162.35 524.6h9.1v2h-9.1zM162.35 540.6h9.1v1h-9.1zM162.35 553.6h9.1v1h-9.1zM162.35 631.6h9.1v1h-9.1zM171.45 392.6h9.1v15h-9.1zM171.45 408.6h9.1v2h-9.1zM171.45 413.6h9.1v1h-9.1zM171.45 418.6h9.1v3h-9.1zM171.45 422.6h9.1v2h-9.1zM171.45 425.6h9.1v3h-9.1zM171.45 432.6h9.1v2h-9.1zM171.45 440.6h9.1v9h-9.1zM171.45 450.6h9.1v4h-9.1zM171.45 456.6h9.1v9h-9.1zM171.45 468.6h9.1v2h-9.1zM171.45 475.6h9.1v7h-9.1zM171.45 485.6h9.1v3h-9.1zM171.45 489.6h9.1v2h-9.1zM171.45 494.6h9.1v2h-9.1zM171.45 499.6h9.1v1h-9.1zM171.45 502.6h9.1v3h-9.1zM171.45 515.6h9.1v3h-9.1zM171.45 525.6h9.1v2h-9.1zM171.45 531.6h9.1v3h-9.1zM171.45 539.6h9.1v2h-9.1zM171.45 549.6h9.1v3h-9.1zM171.45 555.6h9.1v2h-9.1zM171.45 571.6h9.1v2h-9.1zM171.45 577.6h9.1v2h-9.1zM171.45 592.6h9.1v2h-9.1zM171.45 620.6h9.1v4h-9.1zM171.45 631.6h9.1v5h-9.1zM171.45 702.6h9.1v3h-9.1zM171.45 716.6h9.1v3h-9.1zM171.45 721.6h9.1v2h-9.1zM171.45 728.6h9.1v2h-9.1zM171.45 762.6h9.1v0.8h-9.1zM180.55 389.6h9.1v2h-9.1zM180.55 397.6h9.1v6h-9.1zM180.55 407.6h9.1v6h-9.1zM180.55 414.6h9.1v7h-9.1zM180.55 422.6h9.1v5h-9.1zM180.55 430.6h9.1v4h-9.1zM180.55 435.6h9.1v4h-9.1zM180.55 440.6h9.1v12h-9.1zM180.55 454.6h9.1v14h-9.1zM180.55 470.6h9.1v2h-9.1zM180.55 478.6h9.1v4h-9.1zM180.55 488.6h9.1v1h-9.1zM180.55 500.6h9.1v2h-9.1zM180.55 510.6h9.1v1h-9.1zM180.55 522.6h9.1v2h-9.1zM180.55 541.6h9.1v2h-9.1zM180.55 544.6h9.1v1h-9.1zM180.55 549.6h9.1v3h-9.1zM180.55 557.6h9.1v3h-9.1zM180.55 574.6h9.1v1h-9.1zM180.55 577.6h9.1v2h-9.1zM180.55 617.6h9.1v1h-9.1zM180.55 625.6h9.1v3h-9.1zM180.55 633.6h9.1v3h-9.1zM180.55 647.6h9.1v2h-9.1zM180.55 650.6h9.1v2h-9.1zM180.55 654.6h9.1v2h-9.1zM180.55 677.6h9.1v3h-9.1zM180.55 683.6h9.1v4h-9.1zM180.55 710.6h9.1v2h-9.1zM180.55 744.6h9.1v2h-9.1zM180.55 747.6h9.1v3h-9.1zM189.65 389.6h9.1v2h-9.1zM189.65 392.6h9.1v11h-9.1zM189.65 404.6h9.1v9h-9.1zM189.65 414.6h9.1v7h-9.1zM189.65 422.6h9.1v2h-9.1zM189.65 425.6h9.1v2h-9.1zM189.65 430.6h9.1v4h-9.1zM189.65 435.6h9.1v5h-9.1zM189.65 443.6h9.1v2h-9.1zM189.65 447.6h9.1v2h-9.1zM189.65 450.6h9.1v4h-9.1zM189.65 456.6h9.1v1h-9.1zM189.65 459.6h9.1v4h-9.1zM189.65 466.6h9.1v4h-9.1zM189.65 471.6h9.1v1h-9.1zM189.65 475.6h9.1v5h-9.1zM189.65 483.6h9.1v6h-9.1zM189.65 499.6h9.1v10h-9.1zM189.65 521.6h9.1v1h-9.1zM189.65 525.6h9.1v2h-9.1zM189.65 530.6h9.1v1h-9.1zM189.65 539.6h9.1v5h-9.1zM189.65 549.6h9.1v6h-9.1zM189.65 557.6h9.1v3h-9.1zM189.65 565.6h9.1v1h-9.1zM189.65 577.6h9.1v5h-9.1zM189.65 583.6h9.1v1h-9.1zM189.65 601.6h9.1v3h-9.1zM189.65 631.6h9.1v2h-9.1zM189.65 645.6h9.1v4h-9.1zM189.65 655.6h9.1v4h-9.1zM189.65 660.6h9.1v2h-9.1zM189.65 702.6h9.1v3h-9.1zM189.65 712.6h9.1v3h-9.1zM189.65 716.6h9.1v2h-9.1zM189.65 747.6h9.1v3h-9.1zM189.65 758.6h9.1v2h-9.1zM198.74 392.6h9.1v12h-9.1zM198.74 408.6h9.1v2h-9.1zM198.74 411.6h9.1v2h-9.1zM198.74 417.6h9.1v4h-9.1zM198.74 422.6h9.1v2h-9.1zM198.74 435.6h9.1v4h-9.1zM198.74 441.6h9.1v2h-9.1zM198.74 445.6h9.1v4h-9.1zM198.74 450.6h9.1v7h-9.1zM198.74 459.6h9.1v11h-9.1zM198.74 475.6h9.1v3h-9.1zM198.74 482.6h9.1v1h-9.1zM198.74 491.6h9.1v3h-9.1zM198.74 499.6h9.1v1h-9.1zM198.74 506.6h9.1v3h-9.1zM198.74 515.6h9.1v1h-9.1zM198.74 519.6h9.1v2h-9.1zM198.74 524.6h9.1v1h-9.1zM198.74 527.6h9.1v3h-9.1zM198.74 534.6h9.1v2h-9.1zM198.74 549.6h9.1v8h-9.1zM198.74 560.6h9.1v5h-9.1zM198.74 577.6h9.1v5h-9.1zM198.74 586.6h9.1v3h-9.1zM198.74 607.6h9.1v1h-9.1zM198.74 620.6h9.1v2h-9.1zM198.74 642.6h9.1v1h-9.1zM198.74 647.6h9.1v2h-9.1zM198.74 656.6h9.1v3h-9.1zM198.74 667.6h9.1v3h-9.1zM198.74 671.6h9.1v2h-9.1zM198.74 681.6h9.1v2h-9.1zM198.74 727.6h9.1v1h-9.1zM198.74 742.6h9.1v2h-9.1zM207.84 389.6h9.1v2h-9.1zM207.84 392.6h9.1v11h-9.1zM207.84 404.6h9.1v3h-9.1zM207.84 408.6h9.1v2h-9.1zM207.84 411.6h9.1v2h-9.1zM207.84 414.6h9.1v3h-9.1zM207.84 418.6h9.1v3h-9.1zM207.84 424.6h9.1v8h-9.1zM207.84 435.6h9.1v2h-9.1zM207.84 440.6h9.1v7h-9.1zM207.84 450.6h9.1v4h-9.1zM207.84 456.6h9.1v1h-9.1zM207.84 459.6h9.1v11h-9.1zM207.84 471.6h9.1v1h-9.1zM207.84 483.6h9.1v5h-9.1zM207.84 489.6h9.1v2h-9.1zM207.84 492.6h9.1v2h-9.1zM207.84 496.6h9.1v3h-9.1zM207.84 500.6h9.1v3h-9.1zM207.84 512.6h9.1v2h-9.1zM207.84 515.6h9.1v3h-9.1zM207.84 521.6h9.1v1h-9.1zM207.84 525.6h9.1v5h-9.1zM207.84 531.6h9.1v5h-9.1zM207.84 552.6h9.1v3h-9.1zM207.84 560.6h9.1v5h-9.1zM207.84 579.6h9.1v3h-9.1zM207.84 585.6h9.1v1h-9.1zM207.84 604.6h9.1v1h-9.1zM207.84 617.6h9.1v3h-9.1zM207.84 631.6h9.1v2h-9.1zM207.84 637.6h9.1v2h-9.1zM207.84 652.6h9.1v2h-9.1zM207.84 656.6h9.1v3h-9.1zM207.84 671.6h9.1v2h-9.1zM207.84 683.6h9.1v2h-9.1zM207.84 710.6h9.1v2h-9.1zM207.84 728.6h9.1v2h-9.1zM207.84 738.6h9.1v3h-9.1zM216.94 392.6h9.1v11h-9.1zM216.94 404.6h9.1v3h-9.1zM216.94 408.6h9.1v2h-9.1zM216.94 414.6h9.1v3h-9.1zM216.94 418.6h9.1v3h-9.1zM216.94 422.6h9.1v2h-9.1zM216.94 425.6h9.1v7h-9.1zM216.94 437.6h9.1v2h-9.1zM216.94 440.6h9.1v3h-9.1zM216.94 445.6h9.1v2h-9.1zM216.94 450.6h9.1v2h-9.1zM216.94 456.6h9.1v1h-9.1zM216.94 459.6h9.1v2h-9.1zM216.94 463.6h9.1v5h-9.1zM216.94 475.6h9.1v5h-9.1zM216.94 483.6h9.1v2h-9.1zM216.94 492.6h9.1v4h-9.1zM216.94 499.6h9.1v1h-9.1zM216.94 502.6h9.1v3h-9.1zM216.94 510.6h9.1v1h-9.1zM216.94 514.6h9.1v1h-9.1zM216.94 516.6h9.1v3h-9.1zM216.94 525.6h9.1v2h-9.1zM216.94 534.6h9.1v2h-9.1zM216.94 549.6h9.1v6h-9.1zM216.94 571.6h9.1v2h-9.1zM216.94 574.6h9.1v1h-9.1zM216.94 577.6h9.1v2h-9.1zM216.94 582.6h9.1v1h-9.1zM216.94 639.6h9.1v1h-9.1zM216.94 660.6h9.1v2h-9.1zM216.94 670.6h9.1v1h-9.1zM216.94 677.6h9.1v1h-9.1zM216.94 679.6h9.1v1h-9.1zM216.94 683.6h9.1v2h-9.1zM216.94 693.6h9.1v2h-9.1zM216.94 705.6h9.1v4h-9.1zM216.94 710.6h9.1v2h-9.1zM216.94 719.6h9.1v1h-9.1zM216.94 721.6h9.1v2h-9.1zM216.94 735.6h9.1v2h-9.1zM216.94 744.6h9.1v2h-9.1zM216.94 747.6h9.1v3h-9.1zM226.03 389.6h9.1v14h-9.1zM226.03 404.6h9.1v6h-9.1zM226.03 411.6h9.1v3h-9.1zM226.03 418.6h9.1v3h-9.1zM226.03 425.6h9.1v5h-9.1zM226.03 435.6h9.1v4h-9.1zM226.03 440.6h9.1v1h-9.1zM226.03 443.6h9.1v4h-9.1zM226.03 450.6h9.1v6h-9.1zM226.03 461.6h9.1v4h-9.1zM226.03 466.6h9.1v4h-9.1zM226.03 472.6h9.1v3h-9.1zM226.03 491.6h9.1v1h-9.1zM226.03 494.6h9.1v2h-9.1zM226.03 499.6h9.1v4h-9.1zM226.03 525.6h9.1v5h-9.1zM226.03 531.6h9.1v5h-9.1zM226.03 552.6h9.1v8h-9.1zM226.03 574.6h9.1v1h-9.1zM226.03 579.6h9.1v3h-9.1zM226.03 583.6h9.1v1h-9.1zM226.03 592.6h9.1v2h-9.1zM226.03 599.6h9.1v1h-9.1zM226.03 607.6h9.1v1h-9.1zM226.03 618.6h9.1v4h-9.1zM226.03 624.6h9.1v1h-9.1zM226.03 631.6h9.1v2h-9.1zM226.03 645.6h9.1v2h-9.1zM226.03 659.6h9.1v3h-9.1zM226.03 677.6h9.1v1h-9.1zM226.03 726.6h9.1v1h-9.1zM226.03 747.6h9.1v4h-9.1zM226.03 758.6h9.1v2h-9.1zM226.03 761.6h9.1v1h-9.1zM235.13 391.6h9.1v4h-9.1zM235.13 397.6h9.1v6h-9.1zM235.13 404.6h9.1v3h-9.1zM235.13 408.6h9.1v2h-9.1zM235.13 411.6h9.1v2h-9.1zM235.13 414.6h9.1v3h-9.1zM235.13 418.6h9.1v3h-9.1zM235.13 422.6h9.1v2h-9.1zM235.13 430.6h9.1v2h-9.1zM235.13 434.6h9.1v3h-9.1zM235.13 441.6h9.1v2h-9.1zM235.13 445.6h9.1v14h-9.1zM235.13 461.6h9.1v3h-9.1zM235.13 465.6h9.1v1h-9.1zM235.13 468.6h9.1v2h-9.1zM235.13 471.6h9.1v1h-9.1zM235.13 475.6h9.1v5h-9.1zM235.13 492.6h9.1v4h-9.1zM235.13 499.6h9.1v1h-9.1zM235.13 505.6h9.1v1h-9.1zM235.13 509.6h9.1v1h-9.1zM235.13 514.6h9.1v1h-9.1zM235.13 524.6h9.1v1h-9.1zM235.13 541.6h9.1v2h-9.1zM235.13 549.6h9.1v14h-9.1zM235.13 566.6h9.1v1h-9.1zM235.13 571.6h9.1v2h-9.1zM235.13 579.6h9.1v3h-9.1zM235.13 586.6h9.1v3h-9.1zM235.13 592.6h9.1v2h-9.1zM235.13 607.6h9.1v1h-9.1zM235.13 609.6h9.1v2h-9.1zM235.13 622.6h9.1v3h-9.1zM235.13 631.6h9.1v2h-9.1zM235.13 637.6h9.1v2h-9.1zM235.13 650.6h9.1v2h-9.1zM235.13 655.6h9.1v1h-9.1zM235.13 660.6h9.1v3h-9.1zM235.13 664.6h9.1v2h-9.1zM235.13 702.6h9.1v3h-9.1zM235.13 726.6h9.1v1h-9.1zM235.13 753.6h9.1v3h-9.1zM244.23 389.6h9.1v12h-9.1zM244.23 404.6h9.1v3h-9.1zM244.23 408.6h9.1v5h-9.1zM244.23 414.6h9.1v10h-9.1zM244.23 428.6h9.1v4h-9.1zM244.23 437.6h9.1v2h-9.1zM244.23 440.6h9.1v1h-9.1zM244.23 443.6h9.1v2h-9.1zM244.23 447.6h9.1v2h-9.1zM244.23 450.6h9.1v9h-9.1zM244.23 461.6h9.1v2h-9.1zM244.23 464.6h9.1v1h-9.1zM244.23 468.6h9.1v2h-9.1zM244.23 472.6h9.1v8h-9.1zM244.23 499.6h9.1v1h-9.1zM244.23 506.6h9.1v4h-9.1zM244.23 512.6h9.1v3h-9.1zM244.23 516.6h9.1v2h-9.1zM244.23 522.6h9.1v2h-9.1zM244.23 527.6h9.1v3h-9.1zM244.23 539.6h9.1v2h-9.1zM244.23 552.6h9.1v11h-9.1zM244.23 566.6h9.1v1h-9.1zM244.23 585.6h9.1v1h-9.1zM244.23 599.6h9.1v1h-9.1zM244.23 615.6h9.1v2h-9.1zM244.23 618.6h9.1v2h-9.1zM244.23 633.6h9.1v3h-9.1zM244.23 647.6h9.1v2h-9.1zM244.23 655.6h9.1v1h-9.1zM244.23 678.6h9.1v1h-9.1zM244.23 681.6h9.1v2h-9.1zM244.23 698.6h9.1v1h-9.1zM244.23 716.6h9.1v2h-9.1zM244.23 725.6h9.1v2h-9.1zM244.23 742.6h9.1v2h-9.1zM253.32 389.6h9.1v8h-9.1zM253.32 399.6h9.1v4h-9.1zM253.32 404.6h9.1v6h-9.1zM253.32 411.6h9.1v2h-9.1zM253.32 414.6h9.1v10h-9.1zM253.32 425.6h9.1v2h-9.1zM253.32 430.6h9.1v4h-9.1zM253.32 435.6h9.1v4h-9.1zM253.32 440.6h9.1v7h-9.1zM253.32 450.6h9.1v4h-9.1zM253.32 456.6h9.1v1h-9.1zM253.32 459.6h9.1v5h-9.1zM253.32 465.6h9.1v5h-9.1zM253.32 471.6h9.1v1h-9.1zM253.32 475.6h9.1v7h-9.1zM253.32 483.6h9.1v2h-9.1zM253.32 496.6h9.1v7h-9.1zM253.32 505.6h9.1v4h-9.1zM253.32 527.6h9.1v3h-9.1zM253.32 531.6h9.1v3h-9.1zM253.32 536.6h9.1v5h-9.1zM253.32 545.6h9.1v1h-9.1zM253.32 549.6h9.1v6h-9.1zM253.32 557.6h9.1v6h-9.1zM253.32 579.6h9.1v3h-9.1zM253.32 583.6h9.1v1h-9.1zM253.32 597.6h9.1v1h-9.1zM253.32 617.6h9.1v5h-9.1zM253.32 625.6h9.1v3h-9.1zM253.32 637.6h9.1v2h-9.1zM253.32 656.6h9.1v3h-9.1zM253.32 662.6h9.1v1h-9.1zM253.32 710.6h9.1v2h-9.1zM253.32 726.6h9.1v1h-9.1zM253.32 742.6h9.1v2h-9.1zM253.32 747.6h9.1v3h-9.1zM253.32 760.6h9.1v1h-9.1zM262.42 395.6h9.1v2h-9.1zM262.42 399.6h9.1v2h-9.1zM262.42 403.6h9.1v7h-9.1zM262.42 411.6h9.1v2h-9.1zM262.42 414.6h9.1v3h-9.1zM262.42 418.6h9.1v3h-9.1zM262.42 422.6h9.1v6h-9.1zM262.42 430.6h9.1v4h-9.1zM262.42 435.6h9.1v4h-9.1zM262.42 441.6h9.1v2h-9.1zM262.42 447.6h9.1v7h-9.1zM262.42 456.6h9.1v1h-9.1zM262.42 459.6h9.1v11h-9.1zM262.42 471.6h9.1v1h-9.1zM262.42 475.6h9.1v5h-9.1zM262.42 483.6h9.1v5h-9.1zM262.42 492.6h9.1v4h-9.1zM262.42 499.6h9.1v3h-9.1zM262.42 506.6h9.1v3h-9.1zM262.42 510.6h9.1v1h-9.1zM262.42 516.6h9.1v2h-9.1zM262.42 525.6h9.1v16h-9.1zM262.42 545.6h9.1v1h-9.1zM262.42 547.6h9.1v2h-9.1zM262.42 574.6h9.1v8h-9.1zM262.42 586.6h9.1v3h-9.1zM262.42 598.6h9.1v1h-9.1zM262.42 609.6h9.1v2h-9.1zM262.42 617.6h9.1v1h-9.1zM262.42 629.6h9.1v1h-9.1zM262.42 652.6h9.1v2h-9.1zM262.42 679.6h9.1v1h-9.1zM262.42 681.6h9.1v4h-9.1zM262.42 691.6h9.1v1h-9.1zM262.42 710.6h9.1v2h-9.1zM262.42 728.6h9.1v2h-9.1zM262.42 747.6h9.1v3h-9.1zM262.42 751.6h9.1v1h-9.1zM262.42 762.6h9.1v0.8h-9.1zM271.52 389.6h9.1v2h-9.1zM271.52 392.6h9.1v11h-9.1zM271.52 404.6h9.1v6h-9.1zM271.52 411.6h9.1v3h-9.1zM271.52 418.6h9.1v4h-9.1zM271.52 425.6h9.1v15h-9.1zM271.52 441.6h9.1v4h-9.1zM271.52 447.6h9.1v2h-9.1zM271.52 450.6h9.1v4h-9.1zM271.52 456.6h9.1v10h-9.1zM271.52 468.6h9.1v2h-9.1zM271.52 471.6h9.1v11h-9.1zM271.52 483.6h9.1v2h-9.1zM271.52 489.6h9.1v2h-9.1zM271.52 492.6h9.1v7h-9.1zM271.52 500.6h9.1v2h-9.1zM271.52 503.6h9.1v2h-9.1zM271.52 515.6h9.1v1h-9.1zM271.52 524.6h9.1v1h-9.1zM271.52 541.6h9.1v2h-9.1zM271.52 555.6h9.1v2h-9.1zM271.52 560.6h9.1v3h-9.1zM271.52 568.6h9.1v2h-9.1zM271.52 571.6h9.1v2h-9.1zM271.52 574.6h9.1v1h-9.1zM271.52 577.6h9.1v2h-9.1zM271.52 592.6h9.1v2h-9.1zM271.52 598.6h9.1v2h-9.1zM271.52 609.6h9.1v2h-9.1zM271.52 618.6h9.1v4h-9.1zM271.52 631.6h9.1v2h-9.1zM271.52 656.6h9.1v3h-9.1zM271.52 660.6h9.1v2h-9.1zM271.52 671.6h9.1v2h-9.1zM271.52 681.6h9.1v4h-9.1zM271.52 698.6h9.1v1h-9.1zM271.52 710.6h9.1v2h-9.1zM271.52 721.6h9.1v2h-9.1zM271.52 735.6h9.1v2h-9.1zM271.52 760.6h9.1v1h-9.1zM280.61 391.6h9.1v6h-9.1zM280.61 399.6h9.1v4h-9.1zM280.61 404.6h9.1v3h-9.1zM280.61 408.6h9.1v2h-9.1zM280.61 414.6h9.1v3h-9.1zM280.61 418.6h9.1v3h-9.1zM280.61 422.6h9.1v2h-9.1zM280.61 425.6h9.1v3h-9.1zM280.61 430.6h9.1v2h-9.1zM280.61 434.6h9.1v1h-9.1zM280.61 437.6h9.1v6h-9.1zM280.61 445.6h9.1v4h-9.1zM280.61 450.6h9.1v11h-9.1zM280.61 463.6h9.1v7h-9.1zM280.61 475.6h9.1v5h-9.1zM280.61 485.6h9.1v3h-9.1zM280.61 489.6h9.1v2h-9.1zM280.61 494.6h9.1v2h-9.1zM280.61 499.6h9.1v10h-9.1zM280.61 515.6h9.1v4h-9.1zM280.61 522.6h9.1v3h-9.1zM280.61 534.6h9.1v9h-9.1zM280.61 544.6h9.1v1h-9.1zM280.61 552.6h9.1v14h-9.1zM280.61 582.6h9.1v2h-9.1zM280.61 586.6h9.1v3h-9.1zM280.61 598.6h9.1v1h-9.1zM280.61 607.6h9.1v1h-9.1zM280.61 614.6h9.1v1h-9.1zM280.61 617.6h9.1v1h-9.1zM280.61 624.6h9.1v1h-9.1zM280.61 631.6h9.1v2h-9.1zM280.61 654.6h9.1v1h-9.1zM280.61 656.6h9.1v3h-9.1zM280.61 660.6h9.1v2h-9.1zM280.61 671.6h9.1v2h-9.1zM280.61 685.6h9.1v2h-9.1zM280.61 690.6h9.1v1h-9.1zM280.61 696.6h9.1v3h-9.1zM280.61 726.6h9.1v1h-9.1zM280.61 728.6h9.1v2h-9.1zM280.61 762.6h9.1v0.8h-9.1zM289.71 392.6h9.1v7h-9.1zM289.71 401.6h9.1v6h-9.1zM289.71 408.6h9.1v2h-9.1zM289.71 414.6h9.1v3h-9.1zM289.71 422.6h9.1v2h-9.1zM289.71 427.6h9.1v1h-9.1zM289.71 430.6h9.1v2h-9.1zM289.71 441.6h9.1v4h-9.1zM289.71 447.6h9.1v17h-9.1zM289.71 465.6h9.1v5h-9.1zM289.71 472.6h9.1v8h-9.1zM289.71 485.6h9.1v3h-9.1zM289.71 491.6h9.1v5h-9.1zM289.71 499.6h9.1v6h-9.1zM289.71 506.6h9.1v3h-9.1zM289.71 512.6h9.1v4h-9.1zM289.71 518.6h9.1v3h-9.1zM289.71 522.6h9.1v2h-9.1zM289.71 525.6h9.1v5h-9.1zM289.71 531.6h9.1v3h-9.1zM289.71 539.6h9.1v4h-9.1zM289.71 547.6h9.1v5h-9.1zM289.71 555.6h9.1v8h-9.1zM289.71 571.6h9.1v2h-9.1zM289.71 577.6h9.1v2h-9.1zM289.71 582.6h9.1v1h-9.1zM289.71 585.6h9.1v1h-9.1zM289.71 592.6h9.1v2h-9.1zM289.71 597.6h9.1v2h-9.1zM289.71 604.6h9.1v3h-9.1zM289.71 609.6h9.1v2h-9.1zM289.71 612.6h9.1v2h-9.1zM289.71 617.6h9.1v5h-9.1zM289.71 633.6h9.1v3h-9.1zM289.71 637.6h9.1v2h-9.1zM289.71 652.6h9.1v2h-9.1zM289.71 656.6h9.1v3h-9.1zM289.71 662.6h9.1v1h-9.1zM289.71 679.6h9.1v1h-9.1zM289.71 681.6h9.1v4h-9.1zM289.71 690.6h9.1v1h-9.1zM289.71 700.6h9.1v2h-9.1zM289.71 710.6h9.1v2h-9.1zM289.71 742.6h9.1v2h-9.1zM289.71 751.6h9.1v1h-9.1zM298.81 389.6h9.1v2h-9.1zM298.81 397.6h9.1v6h-9.1zM298.81 404.6h9.1v6h-9.1zM298.81 411.6h9.1v2h-9.1zM298.81 418.6h9.1v3h-9.1zM298.81 422.6h9.1v2h-9.1zM298.81 425.6h9.1v5h-9.1zM298.81 435.6h9.1v4h-9.1zM298.81 440.6h9.1v1h-9.1zM298.81 443.6h9.1v6h-9.1zM298.81 450.6h9.1v4h-9.1zM298.81 456.6h9.1v9h-9.1zM298.81 466.6h9.1v2h-9.1zM298.81 472.6h9.1v6h-9.1zM298.81 480.6h9.1v2h-9.1zM298.81 489.6h9.1v2h-9.1zM298.81 494.6h9.1v8h-9.1zM298.81 515.6h9.1v1h-9.1zM298.81 518.6h9.1v1h-9.1zM298.81 525.6h9.1v2h-9.1zM298.81 531.6h9.1v3h-9.1zM298.81 536.6h9.1v7h-9.1zM298.81 555.6h9.1v2h-9.1zM298.81 566.6h9.1v4h-9.1zM298.81 571.6h9.1v2h-9.1zM298.81 583.6h9.1v1h-9.1zM298.81 591.6h9.1v1h-9.1zM298.81 599.6h9.1v1h-9.1zM298.81 618.6h9.1v4h-9.1zM298.81 624.6h9.1v1h-9.1zM298.81 647.6h9.1v2h-9.1zM298.81 652.6h9.1v2h-9.1zM298.81 660.6h9.1v3h-9.1zM298.81 674.6h9.1v2h-9.1zM298.81 709.6h9.1v1h-9.1zM298.81 721.6h9.1v2h-9.1zM298.81 726.6h9.1v1h-9.1zM307.9 389.6h9.1v2h-9.1zM307.9 392.6h9.1v5h-9.1zM307.9 401.6h9.1v2h-9.1zM307.9 404.6h9.1v6h-9.1zM307.9 411.6h9.1v2h-9.1zM307.9 414.6h9.1v3h-9.1zM307.9 418.6h9.1v3h-9.1zM307.9 422.6h9.1v2h-9.1zM307.9 425.6h9.1v2h-9.1zM307.9 428.6h9.1v4h-9.1zM307.9 435.6h9.1v10h-9.1zM307.9 447.6h9.1v2h-9.1zM307.9 450.6h9.1v16h-9.1zM307.9 471.6h9.1v4h-9.1zM307.9 478.6h9.1v4h-9.1zM307.9 483.6h9.1v2h-9.1zM307.9 489.6h9.1v2h-9.1zM307.9 492.6h9.1v10h-9.1zM307.9 503.6h9.1v2h-9.1zM307.9 510.6h9.1v1h-9.1zM307.9 516.6h9.1v2h-9.1zM307.9 522.6h9.1v2h-9.1zM307.9 525.6h9.1v5h-9.1zM307.9 541.6h9.1v2h-9.1zM307.9 552.6h9.1v5h-9.1zM307.9 560.6h9.1v3h-9.1zM307.9 571.6h9.1v2h-9.1zM307.9 574.6h9.1v1h-9.1zM307.9 579.6h9.1v3h-9.1zM307.9 583.6h9.1v1h-9.1zM307.9 585.6h9.1v1h-9.1zM307.9 599.6h9.1v1h-9.1zM307.9 608.6h9.1v1h-9.1zM307.9 618.6h9.1v2h-9.1zM307.9 652.6h9.1v2h-9.1zM307.9 659.6h9.1v1h-9.1zM307.9 663.6h9.1v1h-9.1zM307.9 677.6h9.1v1h-9.1zM307.9 679.6h9.1v1h-9.1zM307.9 683.6h9.1v2h-9.1zM307.9 698.6h9.1v1h-9.1zM307.9 710.6h9.1v2h-9.1zM307.9 716.6h9.1v2h-9.1zM307.9 720.6h9.1v1h-9.1zM307.9 726.6h9.1v1h-9.1zM307.9 756.6h9.1v2h-9.1z"/><path fill="#150000" d="M171.45 49.3h9.1v1h-9.1zM171.45 77.3h9.1v1h-9.1zM171.45 92.3h9.1v1h-9.1zM171.45 127.3h9.1v3h-9.1zM171.45 138.3h9.1v2h-9.1zM171.45 189.3h9.1v1h-9.1zM171.45 223.3h9.1v1h-9.1zM171.45 250.3h9.1v1h-9.1zM180.55 71.3h9.1v1h-9.1zM180.55 146.3h9.1v1h-9.1zM180.55 217.3h9.1v1h-9.1zM180.55 220.3h9.1v1h-9.1zM180.55 250.3h9.1v1h-9.1zM180.55 287.3h9.1v1h-9.1zM180.55 324.3h9.1v1h-9.1zM180.55 345.3h9.1v1h-9.1zM180.55 385.3h9.1v0.9h-9.1zM189.65 49.3h9.1v1h-9.1zM189.65 60.3h9.1v1h-9.1zM189.65 69.3h9.1v2h-9.1zM189.65 92.3h9.1v1h-9.1zM189.65 95.3h9.1v1h-9.1zM189.65 289.3h9.1v1h-9.1zM189.65 296.3h9.1v1h-9.1zM189.65 308.3h9.1v1h-9.1zM189.65 372.3h9.1v1h-9.1zM198.74 43.3h9.1v1h-9.1zM198.74 46.3h9.1v1h-9.1zM198.74 60.3h9.1v1h-9.1zM198.74 77.3h9.1v1h-9.1zM198.74 115.3h9.1v1h-9.1zM198.74 146.3h9.1v1h-9.1zM198.74 173.3h9.1v1h-9.1zM198.74 202.3h9.1v1h-9.1zM198.74 223.3h9.1v1h-9.1zM198.74 304.3h9.1v1h-9.1zM198.74 367.3h9.1v1h-9.1zM207.84 66.3h9.1v1h-9.1zM207.84 77.3h9.1v1h-9.1zM207.84 115.3h9.1v1h-9.1zM207.84 129.3h9.1v1h-9.1zM207.84 160.3h9.1v1h-9.1zM207.84 241.3h9.1v1h-9.1zM207.84 308.3h9.1v1h-9.1zM207.84 321.3h9.1v1h-9.1zM216.94 43.3h9.1v1h-9.1zM216.94 99.3h9.1v1h-9.1zM216.94 115.3h9.1v1h-9.1zM216.94 137.3h9.1v1h-9.1zM216.94 146.3h9.1v1h-9.1zM216.94 173.3h9.1v1h-9.1zM216.94 206.3h9.1v1h-9.1zM216.94 244.3h9.1v1h-9.1zM216.94 257.3h9.1v2h-9.1zM216.94 302.3h9.1v2h-9.1zM216.94 326.3h9.1v1h-9.1zM216.94 372.3h9.1v1h-9.1zM216.94 375.3h9.1v1h-9.1zM226.03 39.3h9.1v1h-9.1zM226.03 60.3h9.1v1h-9.1zM226.03 72.3h9.1v1h-9.1zM226.03 75.3h9.1v1h-9.1zM226.03 85.3h9.1v1h-9.1zM226.03 115.3h9.1v1h-9.1zM226.03 126.3h9.1v1h-9.1zM226.03 146.3h9.1v1h-9.1zM226.03 181.3h9.1v1h-9.1zM226.03 250.3h9.1v1h-9.1zM226.03 261.3h9.1v1h-9.1zM226.03 305.3h9.1v3h-9.1zM226.03 317.3h9.1v1h-9.1zM226.03 321.3h9.1v1h-9.1zM235.13 71.3h9.1v1h-9.1zM235.13 101.3h9.1v1h-9.1zM235.13 123.3h9.1v1h-9.1zM235.13 167.3h9.1v1h-9.1zM235.13 241.3h9.1v1h-9.1zM235.13 255.3h9.1v1h-9.1zM235.13 287.3h9.1v1h-9.1zM235.13 321.3h9.1v1h-9.1zM244.23 123.3h9.1v1h-9.1zM244.23 149.3h9.1v1h-9.1zM244.23 217.3h9.1v1h-9.1zM244.23 304.3h9.1v1h-9.1zM244.23 314.3h9.1v1h-9.1zM244.23 321.3h9.1v1h-9.1zM244.23 326.3h9.1v1h-9.1zM244.23 344.3h9.1v1h-9.1zM253.32 142.3h9.1v1h-9.1zM253.32 217.3h9.1v1h-9.1zM253.32 241.3h9.1v1h-9.1zM253.32 278.3h9.1v1h-9.1zM253.32 326.3h9.1v1h-9.1zM253.32 331.3h9.1v1h-9.1zM253.32 361.3h9.1v1h-9.1zM253.32 379.3h9.1v1h-9.1zM262.42 43.3h9.1v1h-9.1zM262.42 126.3h9.1v1h-9.1zM262.42 135.3h9.1v1h-9.1zM262.42 142.3h9.1v1h-9.1zM262.42 202.3h9.1v1h-9.1zM262.42 217.3h9.1v1h-9.1zM262.42 223.3h9.1v1h-9.1zM262.42 241.3h9.1v1h-9.1zM262.42 247.3h9.1v1h-9.1zM262.42 287.3h9.1v1h-9.1zM262.42 345.3h9.1v1h-9.1zM271.52 66.3h9.1v1h-9.1zM271.52 77.3h9.1v1h-9.1zM271.52 101.3h9.1v1h-9.1zM271.52 173.3h9.1v1h-9.1zM271.52 189.3h9.1v1h-9.1zM271.52 217.3h9.1v1h-9.1zM271.52 314.3h9.1v1h-9.1zM271.52 317.3h9.1v1h-9.1zM271.52 321.3h9.1v1h-9.1zM271.52 367.3h9.1v1h-9.1zM271.52 372.3h9.1v1h-9.1zM280.61 60.3h9.1v1h-9.1zM280.61 68.3h9.1v1h-9.1zM280.61 99.3h9.1v1h-9.1zM280.61 127.3h9.1v2h-9.1zM280.61 171.3h9.1v1h-9.1zM280.61 247.3h9.1v1h-9.1zM280.61 255.3h9.1v1h-9.1zM280.61 304.3h9.1v1h-9.1zM280.61 317.3h9.1v1h-9.1zM280.61 379.3h9.1v1h-9.1zM280.61 382.3h9.1v1h-9.1zM289.71 101.3h9.1v1h-9.1zM289.71 124.3h9.1v1h-9.1zM289.71 146.3h9.1v1h-9.1zM289.71 173.3h9.1v1h-9.1zM289.71 206.3h9.1v1h-9.1zM289.71 250.3h9.1v1h-9.1zM289.71 314.3h9.1v1h-9.1zM289.71 361.3h9.1v1h-9.1zM298.81 66.3h9.1v1h-9.1zM298.81 75.3h9.1v1h-9.1zM298.81 123.3h9.1v1h-9.1zM298.81 173.3h9.1v1h-9.1zM298.81 196.3h9.1v1h-9.1zM298.81 220.3h9.1v1h-9.1zM298.81 223.3h9.1v1h-9.1zM298.81 304.3h9.1v1h-9.1zM298.81 333.3h9.1v1h-9.1zM298.81 338.3h9.1v1h-9.1zM307.9 81.3h9.1v1h-9.1zM307.9 85.3h9.1v1h-9.1zM307.9 129.3h9.1v1h-9.1zM307.9 146.3h9.1v1h-9.1zM307.9 202.3h9.1v1h-9.1zM307.9 206.3h9.1v1h-9.1zM307.9 223.3h9.1v1h-9.1zM307.9 304.3h9.1v1h-9.1zM307.9 367.3h9.1v1h-9.1zM35 652.6h9.1v2h-9.1zM35 702.6h9.1v1h-9.1zM35 737.6h9.1v1h-9.1zM171.45 424.6h9.1v1h-9.1zM171.45 491.6h9.1v1h-9.1zM171.45 509.6h9.1v1h-9.1zM171.45 544.6h9.1v1h-9.1zM171.45 546.6h9.1v1h-9.1zM171.45 584.6h9.1v1h-9.1zM171.45 611.6h9.1v1h-9.1zM171.45 614.6h9.1v1h-9.1zM171.45 641.6h9.1v1h-9.1zM171.45 727.6h9.1v1h-9.1zM171.45 750.6h9.1v1h-9.1zM180.55 421.6h9.1v1h-9.1zM180.55 434.6h9.1v1h-9.1zM180.55 509.6h9.1v1h-9.1zM180.55 565.6h9.1v1h-9.1zM180.55 630.6h9.1v1h-9.1zM180.55 636.6h9.1v1h-9.1zM180.55 667.6h9.1v3h-9.1zM180.55 690.6h9.1v1h-9.1zM189.65 391.6h9.1v1h-9.1zM189.65 491.6h9.1v1h-9.1zM189.65 567.6h9.1v1h-9.1zM189.65 591.6h9.1v1h-9.1zM189.65 636.6h9.1v1h-9.1zM189.65 654.6h9.1v1h-9.1zM189.65 715.6h9.1v1h-9.1zM189.65 741.6h9.1v1h-9.1zM198.74 439.6h9.1v1h-9.1zM198.74 449.6h9.1v1h-9.1zM198.74 509.6h9.1v1h-9.1zM198.74 565.6h9.1v1h-9.1zM198.74 567.6h9.1v1h-9.1zM198.74 573.6h9.1v1h-9.1zM198.74 591.6h9.1v1h-9.1zM198.74 645.6h9.1v2h-9.1zM198.74 715.6h9.1v1h-9.1zM198.74 734.6h9.1v1h-9.1zM198.74 741.6h9.1v1h-9.1zM198.74 746.6h9.1v1h-9.1zM207.84 511.6h9.1v1h-9.1zM207.84 565.6h9.1v1h-9.1zM207.84 611.6h9.1v1h-9.1zM207.84 614.6h9.1v1h-9.1zM207.84 630.6h9.1v1h-9.1zM207.84 636.6h9.1v1h-9.1zM207.84 641.6h9.1v1h-9.1zM207.84 650.6h9.1v2h-9.1zM207.84 719.6h9.1v1h-9.1zM216.94 482.6h9.1v1h-9.1zM216.94 521.6h9.1v1h-9.1zM216.94 546.6h9.1v1h-9.1zM216.94 584.6h9.1v1h-9.1zM216.94 598.6h9.1v1h-9.1zM216.94 630.6h9.1v1h-9.1zM216.94 636.6h9.1v1h-9.1zM216.94 699.6h9.1v1h-9.1zM216.94 715.6h9.1v1h-9.1zM216.94 741.6h9.1v1h-9.1zM226.03 403.6h9.1v1h-9.1zM226.03 417.6h9.1v1h-9.1zM226.03 488.6h9.1v1h-9.1zM226.03 511.6h9.1v1h-9.1zM226.03 573.6h9.1v1h-9.1zM226.03 594.6h9.1v1h-9.1zM226.03 719.6h9.1v1h-9.1zM226.03 752.6h9.1v4h-9.1zM235.13 573.6h9.1v1h-9.1zM235.13 582.6h9.1v1h-9.1zM235.13 639.6h9.1v1h-9.1zM235.13 654.6h9.1v1h-9.1zM244.23 565.6h9.1v1h-9.1zM244.23 594.6h9.1v1h-9.1zM244.23 663.6h9.1v1h-9.1zM244.23 695.6h9.1v1h-9.1zM244.23 699.6h9.1v1h-9.1zM244.23 730.6h9.1v1h-9.1zM253.32 439.6h9.1v1h-9.1zM253.32 515.6h9.1v1h-9.1zM253.32 670.6h9.1v1h-9.1zM253.32 716.6h9.1v2h-9.1zM253.32 761.6h9.1v1h-9.1zM262.42 410.6h9.1v1h-9.1zM262.42 491.6h9.1v1h-9.1zM262.42 573.6h9.1v1h-9.1zM262.42 591.6h9.1v1h-9.1zM262.42 611.6h9.1v1h-9.1zM262.42 666.6h9.1v1h-9.1zM262.42 670.6h9.1v1h-9.1zM262.42 676.6h9.1v1h-9.1zM262.42 692.6h9.1v1h-9.1zM262.42 730.6h9.1v1h-9.1zM262.42 732.6h9.1v1h-9.1zM271.52 391.6h9.1v1h-9.1zM271.52 530.6h9.1v1h-9.1zM271.52 584.6h9.1v1h-9.1zM271.52 654.6h9.1v1h-9.1zM271.52 692.6h9.1v1h-9.1zM271.52 732.6h9.1v1h-9.1zM280.61 421.6h9.1v1h-9.1zM280.61 530.6h9.1v1h-9.1zM280.61 630.6h9.1v1h-9.1zM280.61 673.6h9.1v1h-9.1zM280.61 719.6h9.1v1h-9.1zM280.61 737.6h9.1v1h-9.1zM289.71 488.6h9.1v1h-9.1zM289.71 509.6h9.1v1h-9.1zM289.71 584.6h9.1v1h-9.1zM289.71 600.6h9.1v1h-9.1zM289.71 709.6h9.1v1h-9.1zM289.71 737.6h9.1v1h-9.1zM298.81 410.6h9.1v1h-9.1zM298.81 421.6h9.1v1h-9.1zM298.81 570.6h9.1v1h-9.1zM298.81 680.6h9.1v1h-9.1zM298.81 690.6h9.1v1h-9.1zM298.81 727.6h9.1v1h-9.1zM298.81 750.6h9.1v1h-9.1zM307.9 413.6h9.1v1h-9.1zM307.9 424.6h9.1v1h-9.1zM307.9 546.6h9.1v1h-9.1zM307.9 573.6h9.1v1h-9.1zM307.9 584.6h9.1v1h-9.1zM307.9 611.6h9.1v1h-9.1zM307.9 628.6h9.1v1h-9.1zM307.9 727.6h9.1v1h-9.1zM307.9 738.6h9.1v3h-9.1z"/><path fill="#2a0000" d="M44.1 147.3h9.1v1h-9.1zM71.39 246.3h9.1v2h-9.1zM171.45 244.3h9.1v1h-9.1zM171.45 333.3h9.1v1h-9.1zM171.45 383.3h9.1v2.9h-9.1zM180.55 43.3h9.1v1h-9.1zM180.55 46.3h9.1v1h-9.1zM180.55 75.3h9.1v1h-9.1zM180.55 171.3h9.1v1h-9.1zM180.55 202.3h9.1v1h-9.1zM180.55 212.3h9.1v1h-9.1zM180.55 326.3h9.1v1h-9.1zM180.55 361.3h9.1v1h-9.1zM189.65 46.3h9.1v1h-9.1zM189.65 113.3h9.1v2h-9.1zM189.65 127.3h9.1v2h-9.1zM189.65 171.3h9.1v1h-9.1zM189.65 199.3h9.1v3h-9.1zM189.65 250.3h9.1v1h-9.1zM189.65 276.3h9.1v2h-9.1zM189.65 302.3h9.1v3h-9.1zM189.65 314.3h9.1v1h-9.1zM189.65 321.3h9.1v1h-9.1zM189.65 332.3h9.1v1h-9.1zM189.65 340.3h9.1v1h-9.1zM189.65 361.3h9.1v1h-9.1zM198.74 100.3h9.1v1h-9.1zM198.74 149.3h9.1v1h-9.1zM198.74 212.3h9.1v1h-9.1zM198.74 235.3h9.1v1h-9.1zM198.74 247.3h9.1v1h-9.1zM198.74 255.3h9.1v1h-9.1zM198.74 296.3h9.1v1h-9.1zM198.74 382.3h9.1v1h-9.1zM207.84 49.3h9.1v1h-9.1zM207.84 85.3h9.1v1h-9.1zM207.84 100.3h9.1v1h-9.1zM207.84 146.3h9.1v1h-9.1zM207.84 181.3h9.1v1h-9.1zM207.84 196.3h9.1v1h-9.1zM207.84 202.3h9.1v1h-9.1zM207.84 209.3h9.1v1h-9.1zM207.84 235.3h9.1v1h-9.1zM207.84 296.3h9.1v1h-9.1zM207.84 324.3h9.1v1h-9.1zM207.84 334.3h9.1v2h-9.1zM216.94 66.3h9.1v1h-9.1zM216.94 123.3h9.1v1h-9.1zM216.94 160.3h9.1v1h-9.1zM216.94 177.3h9.1v1h-9.1zM216.94 181.3h9.1v1h-9.1zM216.94 202.3h9.1v1h-9.1zM216.94 255.3h9.1v1h-9.1zM216.94 287.3h9.1v1h-9.1zM216.94 314.3h9.1v1h-9.1zM226.03 121.3h9.1v1h-9.1zM226.03 142.3h9.1v1h-9.1zM226.03 160.3h9.1v1h-9.1zM226.03 167.3h9.1v1h-9.1zM226.03 196.3h9.1v1h-9.1zM226.03 223.3h9.1v1h-9.1zM226.03 242.3h9.1v2h-9.1zM226.03 247.3h9.1v1h-9.1zM226.03 329.3h9.1v2h-9.1zM226.03 338.3h9.1v1h-9.1zM226.03 357.3h9.1v1h-9.1zM235.13 95.3h9.1v1h-9.1zM235.13 181.3h9.1v1h-9.1zM235.13 206.3h9.1v1h-9.1zM235.13 209.3h9.1v1h-9.1zM235.13 340.3h9.1v1h-9.1zM244.23 77.3h9.1v1h-9.1zM244.23 135.3h9.1v1h-9.1zM244.23 173.3h9.1v1h-9.1zM244.23 181.3h9.1v1h-9.1zM244.23 250.3h9.1v1h-9.1zM244.23 278.3h9.1v1h-9.1zM244.23 302.3h9.1v2h-9.1zM244.23 308.3h9.1v1h-9.1zM244.23 324.3h9.1v1h-9.1zM244.23 357.3h9.1v1h-9.1zM244.23 361.3h9.1v1h-9.1zM253.32 39.3h9.1v1h-9.1zM253.32 49.3h9.1v1h-9.1zM253.32 68.3h9.1v1h-9.1zM253.32 85.3h9.1v1h-9.1zM253.32 101.3h9.1v1h-9.1zM253.32 121.3h9.1v1h-9.1zM253.32 137.3h9.1v1h-9.1zM253.32 231.3h9.1v1h-9.1zM253.32 250.3h9.1v1h-9.1zM253.32 305.3h9.1v3h-9.1zM253.32 382.3h9.1v1h-9.1zM262.42 123.3h9.1v1h-9.1zM262.42 129.3h9.1v1h-9.1zM262.42 166.3h9.1v1h-9.1zM262.42 173.3h9.1v1h-9.1zM262.42 177.3h9.1v1h-9.1zM262.42 331.3h9.1v1h-9.1zM271.52 135.3h9.1v1h-9.1zM271.52 149.3h9.1v1h-9.1zM271.52 206.3h9.1v1h-9.1zM271.52 235.3h9.1v1h-9.1zM271.52 333.3h9.1v1h-9.1zM271.52 345.3h9.1v1h-9.1zM271.52 371.3h9.1v1h-9.1zM280.61 43.3h9.1v1h-9.1zM280.61 101.3h9.1v1h-9.1zM280.61 121.3h9.1v1h-9.1zM280.61 123.3h9.1v1h-9.1zM280.61 126.3h9.1v1h-9.1zM289.71 46.3h9.1v1h-9.1zM289.71 60.3h9.1v1h-9.1zM289.71 100.3h9.1v1h-9.1zM289.71 181.3h9.1v1h-9.1zM289.71 212.3h9.1v1h-9.1zM289.71 231.3h9.1v1h-9.1zM289.71 253.3h9.1v1h-9.1zM289.71 278.3h9.1v1h-9.1zM289.71 294.3h9.1v1h-9.1zM289.71 324.3h9.1v1h-9.1zM289.71 326.3h9.1v1h-9.1zM289.71 338.3h9.1v1h-9.1zM298.81 71.3h9.1v1h-9.1zM298.81 127.3h9.1v2h-9.1zM298.81 167.3h9.1v1h-9.1zM298.81 171.3h9.1v1h-9.1zM298.81 317.3h9.1v1h-9.1zM298.81 367.3h9.1v1h-9.1zM298.81 375.3h9.1v1h-9.1zM307.9 75.3h9.1v1h-9.1zM307.9 217.3h9.1v1h-9.1zM307.9 331.3h9.1v1h-9.1zM307.9 336.3h9.1v2h-9.1zM35 406.6h9.1v1h-9.1zM35 409.6h9.1v2h-9.1zM35 488.6h9.1v2h-9.1zM35 501.6h9.1v2h-9.1zM35 578.6h9.1v1h-9.1zM35 621.6h9.1v1h-9.1zM35 649.6h9.1v1h-9.1zM35 689.6h9.1v2h-9.1zM35 745.6h9.1v1h-9.1zM35 751.6h9.1v2h-9.1zM35 762.6h9.1v0.8h-9.1zM62.29 442.6h9.1v1h-9.1zM62.29 470.6h9.1v1h-9.1zM62.29 482.6h9.1v1h-9.1zM125.97 675.6h9.1v2h-9.1zM125.97 684.6h9.1v2h-9.1zM171.45 589.6h9.1v2h-9.1zM171.45 608.6h9.1v1h-9.1zM171.45 630.6h9.1v1h-9.1zM171.45 649.6h9.1v1h-9.1zM171.45 663.6h9.1v1h-9.1zM171.45 690.6h9.1v1h-9.1zM171.45 707.6h9.1v2h-9.1zM171.45 734.6h9.1v1h-9.1zM171.45 741.6h9.1v1h-9.1zM171.45 746.6h9.1v1h-9.1zM180.55 518.6h9.1v1h-9.1zM180.55 582.6h9.1v1h-9.1zM180.55 584.6h9.1v1h-9.1zM180.55 598.6h9.1v1h-9.1zM180.55 600.6h9.1v1h-9.1zM180.55 604.6h9.1v1h-9.1zM180.55 608.6h9.1v1h-9.1zM180.55 611.6h9.1v1h-9.1zM180.55 614.6h9.1v1h-9.1zM180.55 659.6h9.1v1h-9.1zM180.55 707.6h9.1v3h-9.1zM180.55 737.6h9.1v1h-9.1zM180.55 746.6h9.1v1h-9.1zM180.55 761.6h9.1v1h-9.1zM189.65 421.6h9.1v1h-9.1zM189.65 519.6h9.1v2h-9.1zM189.65 546.6h9.1v1h-9.1zM189.65 719.6h9.1v1h-9.1zM189.65 727.6h9.1v1h-9.1zM189.65 730.6h9.1v1h-9.1zM198.74 539.6h9.1v2h-9.1zM198.74 600.6h9.1v1h-9.1zM198.74 641.6h9.1v1h-9.1zM198.74 654.6h9.1v1h-9.1zM198.74 670.6h9.1v1h-9.1zM198.74 709.6h9.1v1h-9.1zM198.74 730.6h9.1v1h-9.1zM198.74 750.6h9.1v1h-9.1zM207.84 391.6h9.1v1h-9.1zM207.84 434.6h9.1v1h-9.1zM207.84 449.6h9.1v1h-9.1zM207.84 667.6h9.1v3h-9.1zM207.84 727.6h9.1v1h-9.1zM207.84 734.6h9.1v1h-9.1zM216.94 403.6h9.1v1h-9.1zM216.94 544.6h9.1v1h-9.1zM216.94 573.6h9.1v1h-9.1zM216.94 628.6h9.1v1h-9.1zM216.94 678.6h9.1v1h-9.1zM216.94 732.6h9.1v1h-9.1zM226.03 628.6h9.1v1h-9.1zM226.03 641.6h9.1v1h-9.1zM226.03 709.6h9.1v1h-9.1zM226.03 727.6h9.1v1h-9.1zM226.03 760.6h9.1v1h-9.1zM235.13 491.6h9.1v1h-9.1zM235.13 521.6h9.1v1h-9.1zM235.13 530.6h9.1v1h-9.1zM235.13 676.6h9.1v1h-9.1zM235.13 732.6h9.1v1h-9.1zM244.23 614.6h9.1v1h-9.1zM244.23 664.6h9.1v2h-9.1zM244.23 737.6h9.1v1h-9.1zM244.23 741.6h9.1v1h-9.1zM253.32 449.6h9.1v1h-9.1zM253.32 509.6h9.1v1h-9.1zM253.32 630.6h9.1v1h-9.1zM253.32 639.6h9.1v1h-9.1zM253.32 641.6h9.1v1h-9.1zM253.32 667.6h9.1v3h-9.1zM253.32 692.6h9.1v1h-9.1zM253.32 707.6h9.1v2h-9.1zM253.32 746.6h9.1v1h-9.1zM262.42 421.6h9.1v1h-9.1zM262.42 502.6h9.1v1h-9.1zM262.42 677.6h9.1v2h-9.1zM262.42 734.6h9.1v1h-9.1zM271.52 417.6h9.1v1h-9.1zM271.52 449.6h9.1v1h-9.1zM271.52 488.6h9.1v1h-9.1zM271.52 546.6h9.1v1h-9.1zM271.52 678.6h9.1v1h-9.1zM271.52 690.6h9.1v1h-9.1zM271.52 723.6h9.1v1h-9.1zM271.52 730.6h9.1v1h-9.1zM271.52 746.6h9.1v1h-9.1zM280.61 413.6h9.1v1h-9.1zM280.61 511.6h9.1v1h-9.1zM280.61 514.6h9.1v1h-9.1zM280.61 570.6h9.1v1h-9.1zM280.61 649.6h9.1v1h-9.1zM280.61 670.6h9.1v1h-9.1zM280.61 680.6h9.1v1h-9.1zM280.61 699.6h9.1v1h-9.1zM280.61 710.6h9.1v2h-9.1zM280.61 725.6h9.1v1h-9.1zM289.71 482.6h9.1v1h-9.1zM289.71 573.6h9.1v1h-9.1zM289.71 594.6h9.1v1h-9.1zM289.71 659.6h9.1v1h-9.1zM289.71 673.6h9.1v1h-9.1zM289.71 699.6h9.1v1h-9.1zM289.71 732.6h9.1v1h-9.1zM298.81 391.6h9.1v1h-9.1zM298.81 594.6h9.1v1h-9.1zM298.81 611.6h9.1v1h-9.1zM298.81 630.6h9.1v1h-9.1zM298.81 670.6h9.1v1h-9.1zM298.81 676.6h9.1v1h-9.1zM298.81 683.6h9.1v2h-9.1zM307.9 391.6h9.1v1h-9.1zM307.9 403.6h9.1v1h-9.1zM307.9 449.6h9.1v1h-9.1zM307.9 482.6h9.1v1h-9.1zM307.9 509.6h9.1v1h-9.1zM307.9 521.6h9.1v1h-9.1zM307.9 582.6h9.1v1h-9.1z"/><path fill="#400000" d="M44.1 260.3h9.1v1h-9.1zM71.39 313.3h9.1v1h-9.1zM71.39 329.3h9.1v2h-9.1zM80.48 182.3h9.1v1h-9.1zM80.48 328.3h9.1v2h-9.1zM89.58 307.3h9.1v1h-9.1zM116.87 44.3h9.1v3h-9.1zM116.87 82.3h9.1v2h-9.1zM116.87 133.3h9.1v2h-9.1zM116.87 178.3h9.1v1h-9.1zM116.87 249.3h9.1v2h-9.1zM116.87 377.3h9.1v1h-9.1zM144.16 49.3h9.1v1h-9.1zM144.16 134.3h9.1v1h-9.1zM144.16 166.3h9.1v1h-9.1zM144.16 177.3h9.1v1h-9.1zM144.16 211.3h9.1v1h-9.1zM144.16 239.3h9.1v2h-9.1zM144.16 288.3h9.1v1h-9.1zM144.16 307.3h9.1v1h-9.1zM171.45 100.3h9.1v1h-9.1zM180.55 174.3h9.1v1h-9.1zM180.55 253.3h9.1v1h-9.1zM180.55 271.3h9.1v1h-9.1zM180.55 276.3h9.1v2h-9.1zM180.55 305.3h9.1v3h-9.1zM189.65 224.3h9.1v2h-9.1zM189.65 329.3h9.1v2h-9.1zM198.74 276.3h9.1v2h-9.1zM207.84 329.3h9.1v2h-9.1zM216.94 57.3h9.1v3h-9.1zM216.94 92.3h9.1v1h-9.1zM216.94 245.3h9.1v1h-9.1zM226.03 253.3h9.1v1h-9.1zM235.13 100.3h9.1v1h-9.1zM235.13 152.3h9.1v2h-9.1zM235.13 329.3h9.1v2h-9.1zM235.13 350.3h9.1v2h-9.1zM244.23 352.3h9.1v2h-9.1zM253.32 272.3h9.1v2h-9.1zM262.42 100.3h9.1v1h-9.1zM262.42 210.3h9.1v2h-9.1zM262.42 216.3h9.1v1h-9.1zM262.42 242.3h9.1v2h-9.1zM262.42 302.3h9.1v2h-9.1zM262.42 305.3h9.1v3h-9.1zM271.52 380.3h9.1v2h-9.1zM280.61 76.3h9.1v1h-9.1zM280.61 199.3h9.1v3h-9.1zM280.61 268.3h9.1v3h-9.1zM289.71 73.3h9.1v2h-9.1zM289.71 305.3h9.1v3h-9.1zM298.81 261.3h9.1v1h-9.1zM298.81 349.3h9.1v1h-9.1zM307.9 245.3h9.1v2h-9.1zM307.9 329.3h9.1v2h-9.1zM35 470.6h9.1v2h-9.1zM35 491.6h9.1v1h-9.1zM35 507.6h9.1v1h-9.1zM35 516.6h9.1v2h-9.1zM35 581.6h9.1v1h-9.1zM35 612.6h9.1v1h-9.1zM35 620.6h9.1v1h-9.1zM35 691.6h9.1v2h-9.1zM35 698.6h9.1v1h-9.1zM35 730.6h9.1v1h-9.1zM35 744.6h9.1v1h-9.1zM44.1 722.6h9.1v2h-9.1zM53.19 406.6h9.1v1h-9.1zM62.29 413.6h9.1v1h-9.1zM62.29 456.6h9.1v1h-9.1zM62.29 489.6h9.1v1h-9.1zM62.29 733.6h9.1v1h-9.1zM71.39 394.6h9.1v1h-9.1zM125.97 612.6h9.1v1h-9.1zM180.55 428.6h9.1v2h-9.1zM189.65 428.6h9.1v2h-9.1zM189.65 622.6h9.1v2h-9.1zM189.65 664.6h9.1v2h-9.1zM189.65 667.6h9.1v3h-9.1zM189.65 679.6h9.1v1h-9.1zM189.65 683.6h9.1v2h-9.1zM189.65 687.6h9.1v3h-9.1zM207.84 524.6h9.1v1h-9.1zM216.94 589.6h9.1v2h-9.1zM216.94 599.6h9.1v1h-9.1zM226.03 622.6h9.1v2h-9.1zM226.03 690.6h9.1v1h-9.1zM235.13 589.6h9.1v2h-9.1zM244.23 683.6h9.1v2h-9.1zM244.23 738.6h9.1v3h-9.1zM253.32 677.6h9.1v1h-9.1zM253.32 738.6h9.1v3h-9.1zM262.42 428.6h9.1v2h-9.1zM262.42 628.6h9.1v1h-9.1zM262.42 671.6h9.1v2h-9.1zM271.52 597.6h9.1v1h-9.1zM271.52 622.6h9.1v2h-9.1zM280.61 567.6h9.1v1h-9.1zM280.61 687.6h9.1v3h-9.1zM289.71 428.6h9.1v2h-9.1zM289.71 705.6h9.1v2h-9.1zM307.9 567.6h9.1v1h-9.1zM307.9 707.6h9.1v2h-9.1z"/><path fill="#550000" d="M71.39 284.3h9.1v2h-9.1zM80.48 168.3h9.1v2h-9.1zM80.48 195.3h9.1v1h-9.1zM80.48 201.3h9.1v2h-9.1zM80.48 230.3h9.1v1h-9.1zM80.48 326.3h9.1v1h-9.1zM80.48 354.3h9.1v1h-9.1zM89.58 133.3h9.1v1h-9.1zM89.58 144.3h9.1v1h-9.1zM89.58 176.3h9.1v2h-9.1zM89.58 243.3h9.1v1h-9.1zM89.58 255.3h9.1v2h-9.1zM89.58 274.3h9.1v1h-9.1zM89.58 320.3h9.1v1h-9.1zM89.58 323.3h9.1v1h-9.1zM89.58 355.3h9.1v2h-9.1zM98.68 99.3h9.1v1h-9.1zM98.68 269.3h9.1v1h-9.1zM107.77 267.3h9.1v1h-9.1zM116.87 41.3h9.1v2h-9.1zM116.87 94.3h9.1v1h-9.1zM116.87 104.3h9.1v1h-9.1zM116.87 113.3h9.1v3h-9.1zM116.87 119.3h9.1v1h-9.1zM116.87 137.3h9.1v4h-9.1zM116.87 152.3h9.1v1h-9.1zM116.87 183.3h9.1v1h-9.1zM116.87 202.3h9.1v2h-9.1zM116.87 218.3h9.1v2h-9.1zM116.87 231.3h9.1v1h-9.1zM116.87 260.3h9.1v2h-9.1zM116.87 283.3h9.1v2h-9.1zM116.87 302.3h9.1v1h-9.1zM116.87 306.3h9.1v1h-9.1zM116.87 340.3h9.1v1h-9.1zM116.87 352.3h9.1v1h-9.1zM116.87 367.3h9.1v1h-9.1zM116.87 371.3h9.1v1h-9.1zM135.06 76.3h9.1v2h-9.1zM135.06 167.3h9.1v1h-9.1zM135.06 317.3h9.1v1h-9.1zM144.16 79.3h9.1v2h-9.1zM144.16 84.3h9.1v2h-9.1zM144.16 93.3h9.1v1h-9.1zM144.16 162.3h9.1v1h-9.1zM144.16 170.3h9.1v2h-9.1zM144.16 213.3h9.1v2h-9.1zM144.16 283.3h9.1v2h-9.1zM144.16 308.3h9.1v1h-9.1zM144.16 316.3h9.1v2h-9.1zM144.16 352.3h9.1v1h-9.1zM144.16 358.3h9.1v2h-9.1zM144.16 368.3h9.1v1h-9.1zM153.26 120.3h9.1v1h-9.1zM153.26 219.3h9.1v2h-9.1zM153.26 228.3h9.1v1h-9.1zM153.26 334.3h9.1v1h-9.1zM153.26 360.3h9.1v2h-9.1zM153.26 371.3h9.1v1h-9.1zM162.35 61.3h9.1v1h-9.1zM162.35 96.3h9.1v2h-9.1zM162.35 109.3h9.1v1h-9.1zM162.35 299.3h9.1v1h-9.1zM180.55 100.3h9.1v1h-9.1zM180.55 199.3h9.1v3h-9.1zM189.65 309.3h9.1v2h-9.1zM189.65 378.3h9.1v1h-9.1zM189.65 385.3h9.1v0.9h-9.1zM198.74 73.3h9.1v2h-9.1zM198.74 272.3h9.1v2h-9.1zM207.84 127.3h9.1v2h-9.1zM207.84 385.3h9.1v0.9h-9.1zM216.94 199.3h9.1v3h-9.1zM216.94 203.3h9.1v3h-9.1zM216.94 350.3h9.1v2h-9.1zM226.03 119.3h9.1v2h-9.1zM235.13 92.3h9.1v1h-9.1zM235.13 199.3h9.1v3h-9.1zM235.13 242.3h9.1v2h-9.1zM235.13 245.3h9.1v1h-9.1zM235.13 251.3h9.1v2h-9.1zM235.13 373.3h9.1v2h-9.1zM244.23 242.3h9.1v2h-9.1zM244.23 253.3h9.1v1h-9.1zM253.32 253.3h9.1v1h-9.1zM253.32 332.3h9.1v1h-9.1zM262.42 60.3h9.1v1h-9.1zM262.42 134.3h9.1v1h-9.1zM262.42 253.3h9.1v1h-9.1zM262.42 276.3h9.1v2h-9.1zM262.42 329.3h9.1v2h-9.1zM271.52 305.3h9.1v3h-9.1zM298.81 242.3h9.1v2h-9.1zM298.81 253.3h9.1v1h-9.1zM298.81 305.3h9.1v3h-9.1zM298.81 329.3h9.1v2h-9.1zM307.9 171.3h9.1v1h-9.1zM307.9 276.3h9.1v2h-9.1zM307.9 305.3h9.1v3h-9.1zM35 428.6h9.1v2h-9.1zM35 538.6h9.1v2h-9.1zM35 579.6h9.1v2h-9.1zM35 590.6h9.1v2h-9.1zM35 594.6h9.1v2h-9.1zM35 609.6h9.1v1h-9.1zM35 650.6h9.1v2h-9.1zM35 654.6h9.1v2h-9.1zM35 662.6h9.1v2h-9.1zM35 699.6h9.1v1h-9.1zM35 717.6h9.1v2h-9.1zM35 727.6h9.1v1h-9.1zM62.29 621.6h9.1v2h-9.1zM62.29 693.6h9.1v1h-9.1zM80.48 689.6h9.1v1h-9.1zM125.97 473.6h9.1v2h-9.1zM125.97 626.6h9.1v2h-9.1zM125.97 712.6h9.1v1h-9.1zM125.97 743.6h9.1v1h-9.1zM125.97 761.6h9.1v1.8h-9.1zM162.35 607.6h9.1v1h-9.1zM171.45 428.6h9.1v2h-9.1zM171.45 693.6h9.1v2h-9.1zM180.55 597.6h9.1v1h-9.1zM180.55 605.6h9.1v2h-9.1zM180.55 640.6h9.1v1h-9.1zM189.65 544.6h9.1v1h-9.1zM189.65 597.6h9.1v1h-9.1zM189.65 605.6h9.1v2h-9.1zM198.74 605.6h9.1v2h-9.1zM198.74 693.6h9.1v2h-9.1zM198.74 707.6h9.1v2h-9.1zM198.74 738.6h9.1v3h-9.1zM207.84 545.6h9.1v1h-9.1zM207.84 589.6h9.1v2h-9.1zM207.84 605.6h9.1v2h-9.1zM207.84 670.6h9.1v1h-9.1zM216.94 622.6h9.1v2h-9.1zM216.94 681.6h9.1v2h-9.1zM226.03 705.6h9.1v2h-9.1zM235.13 459.6h9.1v2h-9.1zM244.23 567.6h9.1v1h-9.1zM244.23 589.6h9.1v2h-9.1zM244.23 605.6h9.1v2h-9.1zM244.23 679.6h9.1v1h-9.1zM253.32 428.6h9.1v2h-9.1zM253.32 605.6h9.1v2h-9.1zM253.32 622.6h9.1v2h-9.1zM262.42 597.6h9.1v1h-9.1zM262.42 622.6h9.1v3h-9.1zM262.42 721.6h9.1v2h-9.1zM271.52 738.6h9.1v3h-9.1zM271.52 753.6h9.1v3h-9.1zM280.61 428.6h9.1v2h-9.1zM280.61 605.6h9.1v2h-9.1zM280.61 707.6h9.1v2h-9.1zM298.81 597.6h9.1v1h-9.1zM298.81 622.6h9.1v2h-9.1zM307.9 622.6h9.1v2h-9.1zM307.9 660.6h9.1v3h-9.1zM307.9 696.6h9.1v2h-9.1z"/><path fill="#551500" d="M262.42 295.3h9.1v1h-9.1z"/><path fill="#552a00" d="M171.45 266.3h9.1v2h-9.1zM244.23 221.3h9.1v1h-9.1z"/><path fill="#554000" d="M253.32 301.3h9.1v1h-9.1zM280.61 383.3h9.1v2h-9.1zM253.32 664.6h9.1v2h-9.1z"/><path fill="#555500" d="M253.32 731.6h9.1v1h-9.1z"/><path fill="#558000" d="M35 203.3h9.1v2h-9.1zM44.1 222.3h9.1v1h-9.1zM116.87 173.3h9.1v1h-9.1z"/><path fill="#6a0000" d="M71.39 164.3h9.1v2h-9.1zM80.48 116.3h9.1v1h-9.1zM80.48 183.3h9.1v1h-9.1zM80.48 249.3h9.1v1h-9.1zM80.48 259.3h9.1v1h-9.1zM80.48 275.3h9.1v1h-9.1zM80.48 305.3h9.1v1h-9.1zM89.58 72.3h9.1v1h-9.1zM89.58 121.3h9.1v1h-9.1zM89.58 152.3h9.1v1h-9.1zM89.58 231.3h9.1v1h-9.1zM89.58 292.3h9.1v2h-9.1zM107.77 238.3h9.1v1h-9.1zM116.87 72.3h9.1v1h-9.1zM116.87 75.3h9.1v1h-9.1zM116.87 90.3h9.1v1h-9.1zM116.87 105.3h9.1v1h-9.1zM116.87 126.3h9.1v1h-9.1zM116.87 149.3h9.1v1h-9.1zM116.87 153.3h9.1v4h-9.1zM116.87 162.3h9.1v1h-9.1zM116.87 176.3h9.1v2h-9.1zM116.87 189.3h9.1v1h-9.1zM116.87 211.3h9.1v2h-9.1zM116.87 220.3h9.1v1h-9.1zM116.87 235.3h9.1v1h-9.1zM116.87 240.3h9.1v1h-9.1zM116.87 293.3h9.1v2h-9.1zM125.97 38.3h9.1v1h-9.1zM135.06 327.3h9.1v1h-9.1zM144.16 53.3h9.1v1h-9.1zM144.16 133.3h9.1v1h-9.1zM144.16 145.3h9.1v1h-9.1zM144.16 209.3h9.1v2h-9.1zM144.16 249.3h9.1v2h-9.1zM144.16 339.3h9.1v1h-9.1zM144.16 342.3h9.1v2h-9.1zM144.16 351.3h9.1v1h-9.1zM153.26 88.3h9.1v1h-9.1zM153.26 381.3h9.1v2h-9.1zM153.26 385.3h9.1v0.9h-9.1zM162.35 104.3h9.1v1h-9.1zM162.35 300.3h9.1v1h-9.1zM171.45 52.3h9.1v3h-9.1zM171.45 193.3h9.1v3h-9.1zM171.45 199.3h9.1v3h-9.1zM171.45 272.3h9.1v2h-9.1zM171.45 302.3h9.1v2h-9.1zM171.45 341.3h9.1v3h-9.1zM171.45 346.3h9.1v3h-9.1zM180.55 178.3h9.1v2h-9.1zM180.55 210.3h9.1v2h-9.1zM180.55 245.3h9.1v1h-9.1zM180.55 272.3h9.1v2h-9.1zM180.55 329.3h9.1v2h-9.1zM189.65 109.3h9.1v4h-9.1zM189.65 203.3h9.1v3h-9.1zM189.65 341.3h9.1v3h-9.1zM198.74 79.3h9.1v1h-9.1zM198.74 92.3h9.1v1h-9.1zM198.74 136.3h9.1v1h-9.1zM198.74 199.3h9.1v3h-9.1zM198.74 242.3h9.1v2h-9.1zM198.74 246.3h9.1v1h-9.1zM198.74 341.3h9.1v3h-9.1zM198.74 385.3h9.1v0.9h-9.1zM207.84 73.3h9.1v2h-9.1zM207.84 82.3h9.1v2h-9.1zM207.84 111.3h9.1v2h-9.1zM207.84 173.3h9.1v1h-9.1zM207.84 222.3h9.1v1h-9.1zM207.84 272.3h9.1v2h-9.1zM207.84 328.3h9.1v1h-9.1zM207.84 339.3h9.1v1h-9.1zM207.84 350.3h9.1v2h-9.1zM207.84 365.3h9.1v2h-9.1zM216.94 68.3h9.1v1h-9.1zM216.94 93.3h9.1v2h-9.1zM216.94 122.3h9.1v1h-9.1zM216.94 126.3h9.1v1h-9.1zM216.94 268.3h9.1v3h-9.1zM216.94 305.3h9.1v3h-9.1zM226.03 136.3h9.1v1h-9.1zM226.03 199.3h9.1v3h-9.1zM226.03 245.3h9.1v1h-9.1zM226.03 276.3h9.1v2h-9.1zM235.13 55.3h9.1v2h-9.1zM235.13 119.3h9.1v2h-9.1zM235.13 302.3h9.1v2h-9.1zM244.23 100.3h9.1v1h-9.1zM244.23 199.3h9.1v3h-9.1zM244.23 236.3h9.1v2h-9.1zM244.23 287.3h9.1v1h-9.1zM244.23 297.3h9.1v1h-9.1zM244.23 332.3h9.1v1h-9.1zM244.23 350.3h9.1v2h-9.1zM244.23 382.3h9.1v1h-9.1zM253.32 73.3h9.1v2h-9.1zM253.32 84.3h9.1v1h-9.1zM253.32 136.3h9.1v1h-9.1zM253.32 174.3h9.1v1h-9.1zM253.32 210.3h9.1v2h-9.1zM253.32 218.3h9.1v2h-9.1zM253.32 251.3h9.1v2h-9.1zM253.32 279.3h9.1v2h-9.1zM253.32 329.3h9.1v2h-9.1zM253.32 350.3h9.1v2h-9.1zM253.32 371.3h9.1v1h-9.1zM253.32 380.3h9.1v2h-9.1zM262.42 111.3h9.1v2h-9.1zM262.42 190.3h9.1v3h-9.1zM262.42 199.3h9.1v3h-9.1zM262.42 360.3h9.1v1h-9.1zM271.52 79.3h9.1v1h-9.1zM271.52 172.3h9.1v1h-9.1zM271.52 193.3h9.1v3h-9.1zM271.52 246.3h9.1v1h-9.1zM271.52 302.3h9.1v2h-9.1zM271.52 378.3h9.1v1h-9.1zM280.61 136.3h9.1v1h-9.1zM280.61 203.3h9.1v3h-9.1zM280.61 210.3h9.1v2h-9.1zM280.61 266.3h9.1v2h-9.1zM280.61 327.3h9.1v1h-9.1zM280.61 350.3h9.1v2h-9.1zM289.71 92.3h9.1v1h-9.1zM289.71 210.3h9.1v2h-9.1zM289.71 216.3h9.1v1h-9.1zM289.71 245.3h9.1v2h-9.1zM289.71 276.3h9.1v2h-9.1zM298.81 116.3h9.1v2h-9.1zM298.81 172.3h9.1v1h-9.1zM298.81 246.3h9.1v1h-9.1zM298.81 296.3h9.1v1h-9.1zM307.9 76.3h9.1v1h-9.1zM307.9 111.3h9.1v2h-9.1zM307.9 116.3h9.1v2h-9.1zM307.9 127.3h9.1v2h-9.1zM307.9 136.3h9.1v1h-9.1zM307.9 182.3h9.1v3h-9.1zM307.9 279.3h9.1v2h-9.1zM307.9 308.3h9.1v1h-9.1zM307.9 341.3h9.1v3h-9.1zM307.9 371.3h9.1v1h-9.1zM35 477.6h9.1v2h-9.1zM35 482.6h9.1v1h-9.1zM35 492.6h9.1v1h-9.1zM35 496.6h9.1v3h-9.1zM35 565.6h9.1v2h-9.1zM35 600.6h9.1v1h-9.1zM35 646.6h9.1v3h-9.1zM35 705.6h9.1v1h-9.1zM44.1 692.6h9.1v1h-9.1zM53.19 555.6h9.1v1h-9.1zM62.29 440.6h9.1v2h-9.1zM62.29 466.6h9.1v2h-9.1zM62.29 507.6h9.1v1h-9.1zM62.29 543.6h9.1v2h-9.1zM62.29 603.6h9.1v1h-9.1zM71.39 456.6h9.1v1h-9.1zM80.48 504.6h9.1v1h-9.1zM125.97 418.6h9.1v1h-9.1zM125.97 703.6h9.1v2h-9.1zM171.45 687.6h9.1v3h-9.1zM171.45 747.6h9.1v3h-9.1zM180.55 539.6h9.1v2h-9.1zM180.55 660.6h9.1v2h-9.1zM180.55 702.6h9.1v3h-9.1zM189.65 563.6h9.1v2h-9.1zM189.65 589.6h9.1v2h-9.1zM189.65 710.6h9.1v2h-9.1zM189.65 744.6h9.1v2h-9.1zM198.74 589.6h9.1v2h-9.1zM198.74 639.6h9.1v1h-9.1zM198.74 674.6h9.1v2h-9.1zM198.74 720.6h9.1v1h-9.1zM207.84 555.6h9.1v2h-9.1zM207.84 575.6h9.1v2h-9.1zM207.84 622.6h9.1v2h-9.1zM207.84 687.6h9.1v3h-9.1zM207.84 705.6h9.1v2h-9.1zM207.84 726.6h9.1v1h-9.1zM216.94 612.6h9.1v2h-9.1zM216.94 691.6h9.1v1h-9.1zM216.94 731.6h9.1v1h-9.1zM226.03 560.6h9.1v3h-9.1zM226.03 567.6h9.1v1h-9.1zM226.03 643.6h9.1v2h-9.1zM226.03 683.6h9.1v2h-9.1zM226.03 738.6h9.1v3h-9.1zM235.13 617.6h9.1v1h-9.1zM235.13 620.6h9.1v2h-9.1zM235.13 716.6h9.1v2h-9.1zM235.13 735.6h9.1v2h-9.1zM235.13 742.6h9.1v2h-9.1zM244.23 544.6h9.1v1h-9.1zM244.23 597.6h9.1v1h-9.1zM244.23 652.6h9.1v2h-9.1zM253.32 700.6h9.1v2h-9.1zM253.32 712.6h9.1v3h-9.1zM262.42 401.6h9.1v2h-9.1zM262.42 454.6h9.1v2h-9.1zM262.42 571.6h9.1v2h-9.1zM262.42 662.6h9.1v1h-9.1zM262.42 707.6h9.1v2h-9.1zM262.42 735.6h9.1v2h-9.1zM262.42 760.6h9.1v1h-9.1zM271.52 605.6h9.1v2h-9.1zM271.52 705.6h9.1v2h-9.1zM271.52 712.6h9.1v3h-9.1zM280.61 592.6h9.1v2h-9.1zM280.61 622.6h9.1v2h-9.1zM280.61 655.6h9.1v1h-9.1zM280.61 692.6h9.1v1h-9.1zM280.61 721.6h9.1v2h-9.1zM280.61 738.6h9.1v3h-9.1zM289.71 437.6h9.1v2h-9.1zM289.71 563.6h9.1v2h-9.1zM289.71 615.6h9.1v2h-9.1zM289.71 629.6h9.1v1h-9.1zM289.71 670.6h9.1v1h-9.1zM289.71 702.6h9.1v3h-9.1zM289.71 753.6h9.1v3h-9.1zM298.81 485.6h9.1v3h-9.1zM298.81 510.6h9.1v1h-9.1zM298.81 512.6h9.1v2h-9.1zM298.81 629.6h9.1v1h-9.1zM298.81 700.6h9.1v2h-9.1zM298.81 731.6h9.1v1h-9.1zM298.81 742.6h9.1v2h-9.1zM298.81 753.6h9.1v3h-9.1zM307.9 547.6h9.1v2h-9.1zM307.9 615.6h9.1v2h-9.1zM307.9 667.6h9.1v3h-9.1zM307.9 700.6h9.1v2h-9.1zM307.9 712.6h9.1v3h-9.1zM307.9 725.6h9.1v1h-9.1zM307.9 750.6h9.1v1h-9.1zM307.9 753.6h9.1v3h-9.1z"/><path fill="#6a1500" d="M180.55 193.3h9.1v3h-9.1z"/><path fill="#6a2a00" d="M207.84 216.3h9.1v1h-9.1zM216.94 301.3h9.1v1h-9.1zM262.42 221.3h9.1v1h-9.1zM298.81 295.3h9.1v1h-9.1z"/><path fill="#6a4000" d="M171.45 255.3h9.1v1h-9.1zM207.84 244.3h9.1v1h-9.1zM253.32 266.3h9.1v2h-9.1zM262.42 301.3h9.1v1h-9.1zM280.61 63.3h9.1v3h-9.1zM289.71 301.3h9.1v1h-9.1zM207.84 720.6h9.1v1h-9.1zM298.81 693.6h9.1v2h-9.1z"/><path fill="#6a5500" d="M171.45 221.3h9.1v1h-9.1zM180.55 301.3h9.1v1h-9.1zM253.32 383.3h9.1v2h-9.1zM307.9 216.3h9.1v1h-9.1zM307.9 221.3h9.1v1h-9.1zM125.97 601.6h9.1v2h-9.1zM244.23 700.6h9.1v2h-9.1z"/><path fill="#6a6a00" d="M44.1 235.3h9.1v2h-9.1zM53.19 167.3h9.1v1h-9.1zM71.39 366.3h9.1v1h-9.1zM116.87 192.3h9.1v1h-9.1zM298.81 301.3h9.1v1h-9.1zM98.68 565.6h9.1v1h-9.1zM125.97 488.6h9.1v1h-9.1zM125.97 642.6h9.1v1h-9.1z"/><path fill="#6a8000" d="M144.16 330.3h9.1v2h-9.1zM298.81 339.3h9.1v1h-9.1zM125.97 472.6h9.1v1h-9.1z"/><path fill="#800000" d="M44.1 283.3h9.1v2h-9.1zM44.1 381.3h9.1v1h-9.1zM53.19 186.3h9.1v1h-9.1zM80.48 58.3h9.1v2h-9.1zM80.48 63.3h9.1v3h-9.1zM80.48 67.3h9.1v1h-9.1zM80.48 176.3h9.1v2h-9.1zM80.48 186.3h9.1v2h-9.1zM80.48 231.3h9.1v1h-9.1zM80.48 240.3h9.1v1h-9.1zM80.48 281.3h9.1v1h-9.1zM80.48 300.3h9.1v1h-9.1zM89.58 116.3h9.1v1h-9.1zM89.58 189.3h9.1v1h-9.1zM89.58 218.3h9.1v2h-9.1zM89.58 226.3h9.1v2h-9.1zM89.58 244.3h9.1v1h-9.1zM89.58 352.3h9.1v1h-9.1zM116.87 33.3h9.1v1h-9.1zM116.87 36.3h9.1v4h-9.1zM116.87 47.3h9.1v1h-9.1zM116.87 54.3h9.1v1h-9.1zM116.87 81.3h9.1v1h-9.1zM116.87 88.3h9.1v2h-9.1zM116.87 106.3h9.1v1h-9.1zM116.87 131.3h9.1v2h-9.1zM116.87 171.3h9.1v2h-9.1zM116.87 206.3h9.1v1h-9.1zM116.87 216.3h9.1v1h-9.1zM116.87 230.3h9.1v1h-9.1zM116.87 241.3h9.1v1h-9.1zM116.87 244.3h9.1v1h-9.1zM116.87 298.3h9.1v2h-9.1zM116.87 315.3h9.1v2h-9.1zM116.87 348.3h9.1v2h-9.1zM116.87 370.3h9.1v1h-9.1zM135.06 58.3h9.1v1h-9.1zM135.06 184.3h9.1v1h-9.1zM144.16 102.3h9.1v1h-9.1zM144.16 146.3h9.1v1h-9.1zM144.16 224.3h9.1v1h-9.1zM144.16 230.3h9.1v2h-9.1zM144.16 241.3h9.1v2h-9.1zM144.16 248.3h9.1v1h-9.1zM144.16 251.3h9.1v1h-9.1zM144.16 260.3h9.1v1h-9.1zM144.16 278.3h9.1v1h-9.1zM144.16 281.3h9.1v1h-9.1zM144.16 285.3h9.1v2h-9.1zM144.16 289.3h9.1v1h-9.1zM144.16 324.3h9.1v1h-9.1zM144.16 348.3h9.1v2h-9.1zM144.16 353.3h9.1v2h-9.1zM153.26 37.3h9.1v2h-9.1zM153.26 45.3h9.1v1h-9.1zM153.26 66.3h9.1v2h-9.1zM153.26 211.3h9.1v1h-9.1zM153.26 215.3h9.1v1h-9.1zM153.26 291.3h9.1v1h-9.1zM171.45 55.3h9.1v2h-9.1zM171.45 93.3h9.1v2h-9.1zM171.45 119.3h9.1v2h-9.1zM171.45 140.3h9.1v2h-9.1zM171.45 161.3h9.1v3h-9.1zM171.45 172.3h9.1v1h-9.1zM171.45 246.3h9.1v1h-9.1zM171.45 371.3h9.1v1h-9.1zM180.55 52.3h9.1v3h-9.1zM180.55 73.3h9.1v2h-9.1zM180.55 256.3h9.1v1h-9.1zM189.65 130.3h9.1v2h-9.1zM189.65 134.3h9.1v1h-9.1zM189.65 146.3h9.1v1h-9.1zM189.65 174.3h9.1v1h-9.1zM189.65 272.3h9.1v2h-9.1zM189.65 305.3h9.1v3h-9.1zM198.74 55.3h9.1v2h-9.1zM198.74 109.3h9.1v2h-9.1zM198.74 132.3h9.1v2h-9.1zM198.74 135.3h9.1v1h-9.1zM198.74 336.3h9.1v2h-9.1zM198.74 350.3h9.1v2h-9.1zM198.74 376.3h9.1v2h-9.1zM207.84 109.3h9.1v2h-9.1zM207.84 180.3h9.1v1h-9.1zM207.84 185.3h9.1v3h-9.1zM207.84 210.3h9.1v2h-9.1zM207.84 253.3h9.1v1h-9.1zM216.94 111.3h9.1v2h-9.1zM216.94 172.3h9.1v1h-9.1zM216.94 311.3h9.1v2h-9.1zM216.94 341.3h9.1v3h-9.1zM216.94 385.3h9.1v0.9h-9.1zM226.03 73.3h9.1v2h-9.1zM226.03 76.3h9.1v1h-9.1zM226.03 125.3h9.1v1h-9.1zM226.03 263.3h9.1v3h-9.1zM226.03 325.3h9.1v1h-9.1zM226.03 328.3h9.1v1h-9.1zM226.03 341.3h9.1v3h-9.1zM226.03 350.3h9.1v2h-9.1zM235.13 73.3h9.1v2h-9.1zM235.13 185.3h9.1v3h-9.1zM235.13 276.3h9.1v2h-9.1zM235.13 309.3h9.1v2h-9.1zM235.13 376.3h9.1v2h-9.1zM235.13 385.3h9.1v0.9h-9.1zM244.23 55.3h9.1v2h-9.1zM244.23 109.3h9.1v4h-9.1zM244.23 118.3h9.1v1h-9.1zM244.23 132.3h9.1v2h-9.1zM244.23 136.3h9.1v1h-9.1zM244.23 305.3h9.1v3h-9.1zM253.32 109.3h9.1v2h-9.1zM253.32 119.3h9.1v2h-9.1zM253.32 130.3h9.1v2h-9.1zM253.32 172.3h9.1v1h-9.1zM253.32 203.3h9.1v3h-9.1zM262.42 136.3h9.1v1h-9.1zM262.42 185.3h9.1v3h-9.1zM262.42 338.3h9.1v1h-9.1zM262.42 350.3h9.1v2h-9.1zM262.42 354.3h9.1v1h-9.1zM262.42 376.3h9.1v2h-9.1zM271.52 43.3h9.1v1h-9.1zM271.52 73.3h9.1v2h-9.1zM271.52 109.3h9.1v2h-9.1zM271.52 123.3h9.1v1h-9.1zM271.52 138.3h9.1v2h-9.1zM271.52 245.3h9.1v1h-9.1zM271.52 256.3h9.1v1h-9.1zM271.52 266.3h9.1v2h-9.1zM271.52 376.3h9.1v2h-9.1zM280.61 55.3h9.1v2h-9.1zM280.61 73.3h9.1v2h-9.1zM280.61 102.3h9.1v5h-9.1zM280.61 111.3h9.1v2h-9.1zM280.61 116.3h9.1v2h-9.1zM280.61 216.3h9.1v1h-9.1zM280.61 242.3h9.1v2h-9.1zM289.71 78.3h9.1v1h-9.1zM289.71 185.3h9.1v3h-9.1zM289.71 197.3h9.1v5h-9.1zM289.71 217.3h9.1v1h-9.1zM298.81 55.3h9.1v2h-9.1zM298.81 72.3h9.1v3h-9.1zM298.81 85.3h9.1v1h-9.1zM298.81 111.3h9.1v2h-9.1zM298.81 136.3h9.1v1h-9.1zM298.81 190.3h9.1v3h-9.1zM298.81 199.3h9.1v3h-9.1zM298.81 203.3h9.1v3h-9.1zM298.81 245.3h9.1v1h-9.1zM298.81 250.3h9.1v1h-9.1zM298.81 279.3h9.1v2h-9.1zM307.9 132.3h9.1v2h-9.1zM307.9 203.3h9.1v3h-9.1zM307.9 242.3h9.1v2h-9.1zM307.9 274.3h9.1v2h-9.1zM307.9 313.3h9.1v1h-9.1zM307.9 327.3h9.1v1h-9.1zM307.9 346.3h9.1v3h-9.1zM307.9 362.3h9.1v2h-9.1zM307.9 376.3h9.1v2h-9.1zM35 485.6h9.1v2h-9.1zM35 490.6h9.1v1h-9.1zM35 493.6h9.1v2h-9.1zM35 613.6h9.1v3h-9.1zM35 703.6h9.1v2h-9.1zM35 722.6h9.1v2h-9.1zM35 741.6h9.1v2h-9.1zM35 747.6h9.1v1h-9.1zM44.1 449.6h9.1v1h-9.1zM44.1 455.6h9.1v1h-9.1zM44.1 620.6h9.1v1h-9.1zM53.19 591.6h9.1v2h-9.1zM62.29 407.6h9.1v1h-9.1zM80.48 575.6h9.1v1h-9.1zM89.58 744.6h9.1v1h-9.1zM125.97 617.6h9.1v1h-9.1zM125.97 735.6h9.1v1h-9.1zM153.26 692.6h9.1v1h-9.1zM171.45 712.6h9.1v3h-9.1zM171.45 726.6h9.1v1h-9.1zM171.45 751.6h9.1v1h-9.1zM180.55 475.6h9.1v3h-9.1zM180.55 485.6h9.1v3h-9.1zM180.55 568.6h9.1v2h-9.1zM180.55 586.6h9.1v5h-9.1zM180.55 592.6h9.1v2h-9.1zM180.55 615.6h9.1v2h-9.1zM180.55 705.6h9.1v2h-9.1zM180.55 758.6h9.1v2h-9.1zM189.65 592.6h9.1v2h-9.1zM189.65 681.6h9.1v2h-9.1zM189.65 705.6h9.1v2h-9.1zM189.65 721.6h9.1v2h-9.1zM189.65 760.6h9.1v1h-9.1zM198.74 512.6h9.1v2h-9.1zM198.74 608.6h9.1v1h-9.1zM198.74 691.6h9.1v1h-9.1zM198.74 737.6h9.1v1h-9.1zM216.94 594.6h9.1v1h-9.1zM216.94 671.6h9.1v2h-9.1zM216.94 712.6h9.1v3h-9.1zM226.03 506.6h9.1v3h-9.1zM226.03 629.6h9.1v1h-9.1zM226.03 687.6h9.1v3h-9.1zM226.03 692.6h9.1v1h-9.1zM226.03 696.6h9.1v2h-9.1zM226.03 728.6h9.1v2h-9.1zM226.03 734.6h9.1v1h-9.1zM226.03 742.6h9.1v2h-9.1zM235.13 428.6h9.1v2h-9.1zM235.13 629.6h9.1v1h-9.1zM235.13 691.6h9.1v1h-9.1zM235.13 705.6h9.1v2h-9.1zM235.13 738.6h9.1v3h-9.1zM244.23 735.6h9.1v2h-9.1zM244.23 744.6h9.1v2h-9.1zM253.32 489.6h9.1v2h-9.1zM253.32 586.6h9.1v3h-9.1zM253.32 592.6h9.1v2h-9.1zM253.32 629.6h9.1v1h-9.1zM253.32 679.6h9.1v1h-9.1zM253.32 687.6h9.1v3h-9.1zM253.32 721.6h9.1v2h-9.1zM253.32 730.6h9.1v1h-9.1zM262.42 443.6h9.1v2h-9.1zM262.42 650.6h9.1v2h-9.1zM262.42 656.6h9.1v3h-9.1zM262.42 664.6h9.1v2h-9.1zM262.42 674.6h9.1v2h-9.1zM262.42 693.6h9.1v2h-9.1zM262.42 746.6h9.1v1h-9.1zM271.52 547.6h9.1v2h-9.1zM271.52 640.6h9.1v1h-9.1zM271.52 687.6h9.1v3h-9.1zM271.52 733.6h9.1v1h-9.1zM280.61 735.6h9.1v2h-9.1zM289.71 567.6h9.1v1h-9.1zM289.71 622.6h9.1v2h-9.1zM289.71 687.6h9.1v3h-9.1zM289.71 698.6h9.1v1h-9.1zM289.71 731.6h9.1v1h-9.1zM289.71 756.6h9.1v2h-9.1zM298.81 516.6h9.1v2h-9.1zM298.81 633.6h9.1v3h-9.1zM298.81 677.6h9.1v1h-9.1zM298.81 685.6h9.1v5h-9.1zM298.81 695.6h9.1v1h-9.1zM298.81 707.6h9.1v2h-9.1zM298.81 712.6h9.1v3h-9.1zM298.81 728.6h9.1v2h-9.1zM307.9 589.6h9.1v2h-9.1zM307.9 636.6h9.1v3h-9.1zM307.9 671.6h9.1v2h-9.1zM307.9 705.6h9.1v2h-9.1zM307.9 718.6h9.1v1h-9.1zM307.9 747.6h9.1v3h-9.1z"/><path fill="#801500" d="M235.13 244.3h9.1v1h-9.1zM244.23 193.3h9.1v3h-9.1zM271.52 336.3h9.1v2h-9.1zM189.65 693.6h9.1v2h-9.1zM289.71 693.6h9.1v2h-9.1z"/><path fill="#802a00" d="M171.45 136.3h9.1v1h-9.1zM180.55 161.3h9.1v3h-9.1zM180.55 221.3h9.1v1h-9.1zM189.65 218.3h9.1v2h-9.1zM189.65 301.3h9.1v1h-9.1zM216.94 109.3h9.1v2h-9.1zM216.94 161.3h9.1v3h-9.1zM235.13 295.3h9.1v1h-9.1zM244.23 295.3h9.1v1h-9.1zM271.52 157.3h9.1v3h-9.1zM198.74 751.6h9.1v1h-9.1zM207.84 721.6h9.1v2h-9.1zM271.52 742.6h9.1v2h-9.1zM280.61 693.6h9.1v2h-9.1z"/><path fill="#804000" d="M171.45 107.3h9.1v2h-9.1zM171.45 301.3h9.1v1h-9.1zM180.55 336.3h9.1v2h-9.1zM189.65 266.3h9.1v2h-9.1zM198.74 216.3h9.1v1h-9.1zM216.94 84.3h9.1v1h-9.1zM216.94 276.3h9.1v2h-9.1zM216.94 295.3h9.1v1h-9.1zM216.94 336.3h9.1v2h-9.1zM235.13 216.3h9.1v1h-9.1zM244.23 79.3h9.1v2h-9.1zM244.23 127.3h9.1v2h-9.1zM253.32 341.3h9.1v3h-9.1zM271.52 329.3h9.1v2h-9.1zM280.61 328.3h9.1v1h-9.1zM289.71 118.3h9.1v1h-9.1zM298.81 256.3h9.1v1h-9.1zM298.81 266.3h9.1v2h-9.1zM307.9 244.3h9.1v1h-9.1zM307.9 272.3h9.1v2h-9.1zM171.45 496.6h9.1v3h-9.1zM171.45 609.6h9.1v2h-9.1zM171.45 735.6h9.1v2h-9.1zM216.94 760.6h9.1v1h-9.1zM253.32 575.6h9.1v2h-9.1zM262.42 568.6h9.1v2h-9.1zM289.71 583.6h9.1v1h-9.1zM289.71 696.6h9.1v2h-9.1zM298.81 744.6h9.1v2h-9.1z"/><path fill="#805500" d="M80.48 161.3h9.1v2h-9.1zM116.87 210.3h9.1v1h-9.1zM144.16 179.3h9.1v2h-9.1zM144.16 212.3h9.1v1h-9.1zM144.16 243.3h9.1v1h-9.1zM216.94 222.3h9.1v1h-9.1zM226.03 218.3h9.1v2h-9.1zM226.03 266.3h9.1v2h-9.1zM235.13 328.3h9.1v1h-9.1zM244.23 71.3h9.1v1h-9.1zM253.32 173.3h9.1v1h-9.1zM253.32 309.3h9.1v2h-9.1zM271.52 119.3h9.1v2h-9.1zM298.81 175.3h9.1v2h-9.1zM307.9 73.3h9.1v2h-9.1zM307.9 138.3h9.1v2h-9.1zM116.87 666.6h9.1v1h-9.1zM171.45 647.6h9.1v2h-9.1zM235.13 615.6h9.1v2h-9.1zM271.52 650.6h9.1v2h-9.1zM271.52 720.6h9.1v1h-9.1zM271.52 744.6h9.1v2h-9.1zM280.61 637.6h9.1v2h-9.1z"/><path fill="#806a00" d="M144.16 327.3h9.1v1h-9.1zM171.45 203.3h9.1v3h-9.1zM180.55 317.3h9.1v1h-9.1zM207.84 116.3h9.1v2h-9.1zM207.84 317.3h9.1v1h-9.1zM244.23 216.3h9.1v1h-9.1zM244.23 383.3h9.1v2h-9.1zM262.42 84.3h9.1v1h-9.1zM307.9 71.3h9.1v1h-9.1zM125.97 519.6h9.1v1h-9.1zM171.45 731.6h9.1v1h-9.1zM198.74 731.6h9.1v1h-9.1zM216.94 650.6h9.1v2h-9.1zM226.03 664.6h9.1v2h-9.1zM262.42 705.6h9.1v2h-9.1zM289.71 534.6h9.1v2h-9.1zM298.81 560.6h9.1v3h-9.1z"/><path fill="#808000" d="M44.1 378.3h9.1v2h-9.1zM116.87 92.3h9.1v2h-9.1zM116.87 251.3h9.1v1h-9.1zM144.16 169.3h9.1v1h-9.1zM144.16 374.3h9.1v1h-9.1zM180.55 339.3h9.1v1h-9.1zM216.94 383.3h9.1v2h-9.1zM226.03 383.3h9.1v2h-9.1zM307.9 84.3h9.1v1h-9.1zM307.9 383.3h9.1v2h-9.1zM35 598.6h9.1v2h-9.1zM107.77 591.6h9.1v2h-9.1zM125.97 705.6h9.1v2h-9.1zM125.97 756.6h9.1v1h-9.1zM162.35 738.6h9.1v2h-9.1z"/><path fill="#809500" d="M89.58 301.3h9.1v1h-9.1zM298.81 84.3h9.1v1h-9.1z"/><path fill="#950000" d="M53.19 210.3h9.1v1h-9.1zM71.39 226.3h9.1v1h-9.1zM80.48 104.3h9.1v1h-9.1zM80.48 188.3h9.1v1h-9.1zM80.48 228.3h9.1v1h-9.1zM80.48 232.3h9.1v1h-9.1zM80.48 285.3h9.1v1h-9.1zM80.48 307.3h9.1v2h-9.1zM80.48 327.3h9.1v1h-9.1zM89.58 86.3h9.1v1h-9.1zM89.58 210.3h9.1v1h-9.1zM89.58 232.3h9.1v2h-9.1zM89.58 367.3h9.1v1h-9.1zM89.58 385.3h9.1v0.9h-9.1zM107.77 83.3h9.1v2h-9.1zM116.87 34.3h9.1v2h-9.1zM116.87 40.3h9.1v1h-9.1zM116.87 48.3h9.1v1h-9.1zM116.87 91.3h9.1v1h-9.1zM116.87 110.3h9.1v2h-9.1zM116.87 135.3h9.1v2h-9.1zM116.87 180.3h9.1v1h-9.1zM116.87 184.3h9.1v2h-9.1zM116.87 191.3h9.1v1h-9.1zM116.87 196.3h9.1v2h-9.1zM116.87 215.3h9.1v1h-9.1zM116.87 252.3h9.1v2h-9.1zM116.87 265.3h9.1v2h-9.1zM116.87 276.3h9.1v1h-9.1zM116.87 307.3h9.1v1h-9.1zM116.87 314.3h9.1v1h-9.1zM135.06 215.3h9.1v1h-9.1zM144.16 50.3h9.1v1h-9.1zM144.16 67.3h9.1v1h-9.1zM144.16 70.3h9.1v1h-9.1zM144.16 96.3h9.1v1h-9.1zM144.16 147.3h9.1v2h-9.1zM144.16 153.3h9.1v2h-9.1zM144.16 158.3h9.1v1h-9.1zM144.16 167.3h9.1v1h-9.1zM144.16 201.3h9.1v1h-9.1zM144.16 204.3h9.1v1h-9.1zM144.16 238.3h9.1v1h-9.1zM144.16 252.3h9.1v1h-9.1zM144.16 261.3h9.1v2h-9.1zM144.16 290.3h9.1v1h-9.1zM144.16 292.3h9.1v1h-9.1zM144.16 325.3h9.1v2h-9.1zM144.16 328.3h9.1v2h-9.1zM144.16 332.3h9.1v1h-9.1zM144.16 366.3h9.1v1h-9.1zM153.26 41.3h9.1v2h-9.1zM153.26 137.3h9.1v1h-9.1zM153.26 204.3h9.1v1h-9.1zM153.26 333.3h9.1v1h-9.1zM162.35 320.3h9.1v2h-9.1zM171.45 111.3h9.1v2h-9.1zM171.45 174.3h9.1v1h-9.1zM171.45 185.3h9.1v3h-9.1zM171.45 236.3h9.1v2h-9.1zM171.45 268.3h9.1v3h-9.1zM171.45 297.3h9.1v4h-9.1zM180.55 55.3h9.1v2h-9.1zM180.55 109.3h9.1v2h-9.1zM180.55 119.3h9.1v2h-9.1zM180.55 134.3h9.1v1h-9.1zM180.55 172.3h9.1v1h-9.1zM180.55 266.3h9.1v2h-9.1zM180.55 320.3h9.1v1h-9.1zM180.55 383.3h9.1v2h-9.1zM189.65 100.3h9.1v1h-9.1zM189.65 119.3h9.1v2h-9.1zM189.65 181.3h9.1v1h-9.1zM189.65 213.3h9.1v3h-9.1zM189.65 236.3h9.1v2h-9.1zM189.65 245.3h9.1v1h-9.1zM189.65 259.3h9.1v2h-9.1zM198.74 127.3h9.1v2h-9.1zM198.74 185.3h9.1v3h-9.1zM198.74 309.3h9.1v2h-9.1zM198.74 327.3h9.1v1h-9.1zM198.74 332.3h9.1v1h-9.1zM207.84 95.3h9.1v1h-9.1zM207.84 206.3h9.1v1h-9.1zM207.84 376.3h9.1v3h-9.1zM216.94 69.3h9.1v2h-9.1zM216.94 73.3h9.1v2h-9.1zM216.94 82.3h9.1v2h-9.1zM216.94 134.3h9.1v1h-9.1zM216.94 136.3h9.1v1h-9.1zM216.94 236.3h9.1v2h-9.1zM216.94 376.3h9.1v2h-9.1zM226.03 44.3h9.1v2h-9.1zM226.03 68.3h9.1v1h-9.1zM226.03 124.3h9.1v1h-9.1zM226.03 171.3h9.1v1h-9.1zM226.03 193.3h9.1v3h-9.1zM226.03 203.3h9.1v3h-9.1zM226.03 274.3h9.1v2h-9.1zM226.03 285.3h9.1v2h-9.1zM235.13 37.3h9.1v2h-9.1zM235.13 79.3h9.1v1h-9.1zM235.13 297.3h9.1v1h-9.1zM244.23 68.3h9.1v1h-9.1zM244.23 76.3h9.1v1h-9.1zM244.23 85.3h9.1v1h-9.1zM244.23 119.3h9.1v3h-9.1zM244.23 281.3h9.1v3h-9.1zM244.23 298.3h9.1v3h-9.1zM253.32 86.3h9.1v3h-9.1zM253.32 111.3h9.1v2h-9.1zM253.32 134.3h9.1v1h-9.1zM253.32 199.3h9.1v3h-9.1zM253.32 245.3h9.1v1h-9.1zM253.32 302.3h9.1v2h-9.1zM253.32 325.3h9.1v1h-9.1zM262.42 68.3h9.1v1h-9.1zM262.42 121.3h9.1v1h-9.1zM262.42 132.3h9.1v2h-9.1zM262.42 174.3h9.1v1h-9.1zM262.42 246.3h9.1v1h-9.1zM262.42 248.3h9.1v2h-9.1zM262.42 274.3h9.1v2h-9.1zM262.42 328.3h9.1v1h-9.1zM262.42 380.3h9.1v2h-9.1zM271.52 111.3h9.1v2h-9.1zM271.52 118.3h9.1v1h-9.1zM271.52 136.3h9.1v1h-9.1zM271.52 174.3h9.1v1h-9.1zM271.52 203.3h9.1v3h-9.1zM271.52 274.3h9.1v2h-9.1zM271.52 294.3h9.1v1h-9.1zM271.52 339.3h9.1v1h-9.1zM271.52 373.3h9.1v2h-9.1zM280.61 109.3h9.1v2h-9.1zM280.61 118.3h9.1v3h-9.1zM280.61 175.3h9.1v2h-9.1zM280.61 239.3h9.1v2h-9.1zM280.61 276.3h9.1v2h-9.1zM280.61 329.3h9.1v2h-9.1zM280.61 341.3h9.1v3h-9.1zM280.61 376.3h9.1v2h-9.1zM280.61 385.3h9.1v0.9h-9.1zM289.71 76.3h9.1v1h-9.1zM289.71 119.3h9.1v2h-9.1zM289.71 136.3h9.1v1h-9.1zM289.71 196.3h9.1v1h-9.1zM289.71 333.3h9.1v1h-9.1zM298.81 119.3h9.1v2h-9.1zM298.81 161.3h9.1v3h-9.1zM298.81 185.3h9.1v3h-9.1zM298.81 309.3h9.1v2h-9.1zM298.81 350.3h9.1v2h-9.1zM298.81 373.3h9.1v2h-9.1zM307.9 55.3h9.1v2h-9.1zM307.9 109.3h9.1v2h-9.1zM307.9 119.3h9.1v2h-9.1zM307.9 122.3h9.1v1h-9.1zM307.9 135.3h9.1v1h-9.1zM307.9 157.3h9.1v3h-9.1zM307.9 175.3h9.1v2h-9.1zM307.9 309.3h9.1v2h-9.1zM307.9 350.3h9.1v2h-9.1zM307.9 378.3h9.1v1h-9.1zM307.9 380.3h9.1v2h-9.1zM53.19 698.6h9.1v1h-9.1zM62.29 444.6h9.1v2h-9.1zM62.29 741.6h9.1v2h-9.1zM71.39 416.6h9.1v2h-9.1zM71.39 485.6h9.1v1h-9.1zM71.39 721.6h9.1v1h-9.1zM107.77 711.6h9.1v2h-9.1zM125.97 559.6h9.1v1h-9.1zM162.35 647.6h9.1v2h-9.1zM171.45 543.6h9.1v1h-9.1zM171.45 601.6h9.1v3h-9.1zM171.45 681.6h9.1v2h-9.1zM171.45 760.6h9.1v1h-9.1zM180.55 494.6h9.1v2h-9.1zM180.55 531.6h9.1v3h-9.1zM180.55 618.6h9.1v2h-9.1zM180.55 671.6h9.1v2h-9.1zM180.55 712.6h9.1v3h-9.1zM180.55 725.6h9.1v1h-9.1zM180.55 738.6h9.1v3h-9.1zM198.74 687.6h9.1v3h-9.1zM198.74 705.6h9.1v2h-9.1zM198.74 735.6h9.1v2h-9.1zM198.74 760.6h9.1v1h-9.1zM207.84 629.6h9.1v1h-9.1zM216.94 524.6h9.1v1h-9.1zM216.94 591.6h9.1v1h-9.1zM216.94 738.6h9.1v3h-9.1zM226.03 589.6h9.1v2h-9.1zM226.03 615.6h9.1v2h-9.1zM226.03 674.6h9.1v2h-9.1zM226.03 707.6h9.1v2h-9.1zM226.03 712.6h9.1v3h-9.1zM235.13 563.6h9.1v2h-9.1zM235.13 681.6h9.1v2h-9.1zM235.13 760.6h9.1v1h-9.1zM244.23 445.6h9.1v2h-9.1zM244.23 510.6h9.1v1h-9.1zM244.23 595.6h9.1v2h-9.1zM244.23 598.6h9.1v1h-9.1zM244.23 601.6h9.1v3h-9.1zM244.23 620.6h9.1v2h-9.1zM244.23 629.6h9.1v1h-9.1zM244.23 642.6h9.1v1h-9.1zM244.23 650.6h9.1v2h-9.1zM244.23 721.6h9.1v2h-9.1zM253.32 615.6h9.1v2h-9.1zM253.32 681.6h9.1v2h-9.1zM253.32 705.6h9.1v2h-9.1zM253.32 735.6h9.1v2h-9.1zM262.42 589.6h9.1v2h-9.1zM262.42 639.6h9.1v1h-9.1zM262.42 687.6h9.1v3h-9.1zM262.42 723.6h9.1v1h-9.1zM271.52 589.6h9.1v2h-9.1zM271.52 664.6h9.1v2h-9.1zM271.52 691.6h9.1v1h-9.1zM271.52 707.6h9.1v2h-9.1zM271.52 758.6h9.1v2h-9.1zM271.52 762.6h9.1v0.8h-9.1zM280.61 589.6h9.1v3h-9.1zM280.61 744.6h9.1v2h-9.1zM289.71 728.6h9.1v2h-9.1zM289.71 735.6h9.1v2h-9.1zM289.71 744.6h9.1v2h-9.1zM298.81 465.6h9.1v1h-9.1zM298.81 524.6h9.1v1h-9.1zM298.81 615.6h9.1v2h-9.1zM298.81 650.6h9.1v2h-9.1zM298.81 716.6h9.1v2h-9.1zM307.9 524.6h9.1v1h-9.1zM307.9 645.6h9.1v2h-9.1zM307.9 699.6h9.1v1h-9.1zM307.9 721.6h9.1v2h-9.1zM307.9 728.6h9.1v2h-9.1zM307.9 735.6h9.1v2h-9.1z"/><path fill="#951500" d="M180.55 244.3h9.1v1h-9.1zM298.81 216.3h9.1v1h-9.1z"/><path fill="#952a00" d="M171.45 216.3h9.1v1h-9.1zM180.55 123.3h9.1v1h-9.1zM189.65 221.3h9.1v1h-9.1zM207.84 161.3h9.1v3h-9.1zM226.03 221.3h9.1v1h-9.1zM235.13 130.3h9.1v2h-9.1zM244.23 266.3h9.1v2h-9.1zM289.71 336.3h9.1v2h-9.1zM298.81 221.3h9.1v1h-9.1zM207.84 600.6h9.1v1h-9.1zM253.32 512.6h9.1v2h-9.1z"/><path fill="#954000" d="M171.45 72.3h9.1v1h-9.1zM171.45 336.3h9.1v2h-9.1zM189.65 161.3h9.1v3h-9.1zM198.74 193.3h9.1v3h-9.1zM198.74 383.3h9.1v2h-9.1zM207.84 221.3h9.1v1h-9.1zM207.84 271.3h9.1v1h-9.1zM207.84 336.3h9.1v2h-9.1zM216.94 266.3h9.1v2h-9.1zM226.03 78.3h9.1v1h-9.1zM226.03 268.3h9.1v3h-9.1zM226.03 336.3h9.1v2h-9.1zM235.13 271.3h9.1v1h-9.1zM253.32 221.3h9.1v1h-9.1zM253.32 295.3h9.1v1h-9.1zM262.42 107.3h9.1v2h-9.1zM280.61 44.3h9.1v2h-9.1zM280.61 152.3h9.1v2h-9.1zM280.61 371.3h9.1v1h-9.1zM298.81 193.3h9.1v3h-9.1zM307.9 115.3h9.1v1h-9.1zM307.9 295.3h9.1v1h-9.1zM307.9 328.3h9.1v1h-9.1zM171.45 671.6h9.1v2h-9.1zM180.55 693.6h9.1v2h-9.1zM180.55 721.6h9.1v2h-9.1zM207.84 566.6h9.1v1h-9.1zM207.84 664.6h9.1v2h-9.1zM226.03 568.6h9.1v2h-9.1zM244.23 758.6h9.1v2h-9.1zM280.61 618.6h9.1v2h-9.1zM280.61 723.6h9.1v1h-9.1zM289.71 407.6h9.1v1h-9.1zM289.71 758.6h9.1v2h-9.1zM298.81 609.6h9.1v2h-9.1zM307.9 760.6h9.1v1h-9.1z"/><path fill="#955500" d="M80.48 151.3h9.1v1h-9.1zM116.87 267.3h9.1v1h-9.1zM144.16 105.3h9.1v1h-9.1zM144.16 350.3h9.1v1h-9.1zM171.45 113.3h9.1v2h-9.1zM171.45 122.3h9.1v1h-9.1zM171.45 134.3h9.1v1h-9.1zM180.55 107.3h9.1v2h-9.1zM180.55 349.3h9.1v1h-9.1zM216.94 256.3h9.1v1h-9.1zM226.03 161.3h9.1v3h-9.1zM226.03 256.3h9.1v1h-9.1zM235.13 161.3h9.1v3h-9.1zM235.13 341.3h9.1v3h-9.1zM244.23 345.3h9.1v1h-9.1zM253.32 71.3h9.1v1h-9.1zM289.71 137.3h9.1v1h-9.1zM298.81 46.3h9.1v1h-9.1zM307.9 193.3h9.1v3h-9.1zM307.9 349.3h9.1v1h-9.1zM44.1 428.6h9.1v2h-9.1zM198.74 622.6h9.1v2h-9.1zM207.84 514.6h9.1v1h-9.1zM207.84 557.6h9.1v3h-9.1zM207.84 568.6h9.1v2h-9.1zM207.84 685.6h9.1v2h-9.1zM207.84 693.6h9.1v2h-9.1zM226.03 563.6h9.1v2h-9.1zM235.13 721.6h9.1v2h-9.1zM253.32 685.6h9.1v2h-9.1zM253.32 744.6h9.1v2h-9.1zM280.61 700.6h9.1v2h-9.1zM307.9 762.6h9.1v0.8h-9.1z"/><path fill="#956a00" d="M44.1 204.3h9.1v1h-9.1zM144.16 41.3h9.1v1h-9.1zM144.16 265.3h9.1v1h-9.1zM171.45 84.3h9.1v1h-9.1zM171.45 354.3h9.1v1h-9.1zM180.55 315.3h9.1v2h-9.1zM180.55 376.3h9.1v2h-9.1zM189.65 180.3h9.1v1h-9.1zM207.84 174.3h9.1v1h-9.1zM207.84 341.3h9.1v3h-9.1zM216.94 188.3h9.1v1h-9.1zM262.42 130.3h9.1v2h-9.1zM271.52 210.3h9.1v2h-9.1zM280.61 161.3h9.1v3h-9.1zM280.61 256.3h9.1v1h-9.1zM280.61 272.3h9.1v2h-9.1zM289.71 175.3h9.1v2h-9.1zM289.71 328.3h9.1v1h-9.1zM307.9 89.3h9.1v3h-9.1zM307.9 188.3h9.1v1h-9.1zM80.48 568.6h9.1v2h-9.1zM125.97 593.6h9.1v2h-9.1zM125.97 699.6h9.1v1h-9.1zM171.45 605.6h9.1v2h-9.1zM180.55 543.6h9.1v1h-9.1zM189.65 643.6h9.1v2h-9.1zM198.74 585.6h9.1v1h-9.1zM207.84 472.6h9.1v3h-9.1zM226.03 700.6h9.1v2h-9.1zM226.03 744.6h9.1v2h-9.1zM235.13 741.6h9.1v1h-9.1zM244.23 575.6h9.1v2h-9.1zM307.9 512.6h9.1v3h-9.1zM307.9 673.6h9.1v1h-9.1z"/><path fill="#958000" d="M71.39 369.3h9.1v1h-9.1zM180.55 206.3h9.1v1h-9.1zM189.65 383.3h9.1v2h-9.1zM207.84 383.3h9.1v2h-9.1zM35 466.6h9.1v2h-9.1zM125.97 520.6h9.1v2h-9.1zM125.97 525.6h9.1v1h-9.1zM125.97 643.6h9.1v2h-9.1zM171.45 512.6h9.1v2h-9.1zM180.55 512.6h9.1v2h-9.1z"/><path fill="#959500" d="M198.74 339.3h9.1v1h-9.1z"/><path fill="#aa0000" d="M80.48 38.3h9.1v1h-9.1zM80.48 54.3h9.1v2h-9.1zM80.48 233.3h9.1v1h-9.1zM80.48 250.3h9.1v1h-9.1zM80.48 280.3h9.1v1h-9.1zM80.48 361.3h9.1v1h-9.1zM89.58 42.3h9.1v1h-9.1zM89.58 44.3h9.1v1h-9.1zM89.58 65.3h9.1v1h-9.1zM89.58 94.3h9.1v1h-9.1zM89.58 134.3h9.1v1h-9.1zM89.58 167.3h9.1v1h-9.1zM89.58 222.3h9.1v2h-9.1zM116.87 49.3h9.1v1h-9.1zM116.87 77.3h9.1v1h-9.1zM116.87 143.3h9.1v1h-9.1zM116.87 163.3h9.1v2h-9.1zM116.87 167.3h9.1v1h-9.1zM116.87 188.3h9.1v1h-9.1zM116.87 213.3h9.1v2h-9.1zM116.87 232.3h9.1v1h-9.1zM116.87 305.3h9.1v1h-9.1zM116.87 320.3h9.1v1h-9.1zM116.87 334.3h9.1v2h-9.1zM116.87 359.3h9.1v1h-9.1zM116.87 366.3h9.1v1h-9.1zM116.87 381.3h9.1v1h-9.1zM135.06 259.3h9.1v1h-9.1zM144.16 33.3h9.1v2h-9.1zM144.16 36.3h9.1v1h-9.1zM144.16 92.3h9.1v1h-9.1zM144.16 97.3h9.1v2h-9.1zM144.16 106.3h9.1v1h-9.1zM144.16 168.3h9.1v1h-9.1zM144.16 174.3h9.1v1h-9.1zM144.16 187.3h9.1v1h-9.1zM144.16 195.3h9.1v2h-9.1zM144.16 198.3h9.1v3h-9.1zM144.16 207.3h9.1v2h-9.1zM144.16 266.3h9.1v1h-9.1zM144.16 291.3h9.1v1h-9.1zM144.16 360.3h9.1v2h-9.1zM144.16 367.3h9.1v1h-9.1zM153.26 149.3h9.1v1h-9.1zM153.26 267.3h9.1v1h-9.1zM162.35 179.3h9.1v1h-9.1zM171.45 75.3h9.1v1h-9.1zM171.45 109.3h9.1v2h-9.1zM171.45 115.3h9.1v1h-9.1zM171.45 309.3h9.1v2h-9.1zM171.45 325.3h9.1v1h-9.1zM171.45 362.3h9.1v2h-9.1zM180.55 104.3h9.1v3h-9.1zM180.55 144.3h9.1v2h-9.1zM180.55 185.3h9.1v3h-9.1zM180.55 197.3h9.1v2h-9.1zM180.55 309.3h9.1v2h-9.1zM189.65 136.3h9.1v1h-9.1zM189.65 138.3h9.1v2h-9.1zM189.65 172.3h9.1v1h-9.1zM189.65 175.3h9.1v2h-9.1zM189.65 285.3h9.1v2h-9.1zM198.74 67.3h9.1v1h-9.1zM198.74 154.3h9.1v6h-9.1zM198.74 172.3h9.1v1h-9.1zM198.74 174.3h9.1v1h-9.1zM198.74 180.3h9.1v1h-9.1zM198.74 245.3h9.1v1h-9.1zM198.74 302.3h9.1v2h-9.1zM198.74 349.3h9.1v1h-9.1zM207.84 55.3h9.1v2h-9.1zM207.84 76.3h9.1v1h-9.1zM207.84 245.3h9.1v1h-9.1zM207.84 274.3h9.1v2h-9.1zM207.84 311.3h9.1v2h-9.1zM207.84 344.3h9.1v1h-9.1zM216.94 119.3h9.1v2h-9.1zM216.94 185.3h9.1v3h-9.1zM216.94 216.3h9.1v1h-9.1zM216.94 242.3h9.1v2h-9.1zM226.03 109.3h9.1v2h-9.1zM226.03 174.3h9.1v1h-9.1zM226.03 217.3h9.1v1h-9.1zM226.03 236.3h9.1v2h-9.1zM226.03 372.3h9.1v1h-9.1zM235.13 67.3h9.1v1h-9.1zM235.13 111.3h9.1v2h-9.1zM235.13 121.3h9.1v1h-9.1zM235.13 134.3h9.1v1h-9.1zM235.13 136.3h9.1v1h-9.1zM235.13 172.3h9.1v1h-9.1zM235.13 174.3h9.1v1h-9.1zM235.13 203.3h9.1v3h-9.1zM235.13 236.3h9.1v2h-9.1zM244.23 276.3h9.1v2h-9.1zM244.23 296.3h9.1v1h-9.1zM244.23 309.3h9.1v2h-9.1zM244.23 349.3h9.1v1h-9.1zM253.32 55.3h9.1v2h-9.1zM253.32 67.3h9.1v1h-9.1zM253.32 274.3h9.1v2h-9.1zM262.42 55.3h9.1v2h-9.1zM262.42 76.3h9.1v1h-9.1zM262.42 203.3h9.1v3h-9.1zM271.52 55.3h9.1v2h-9.1zM271.52 68.3h9.1v1h-9.1zM271.52 161.3h9.1v3h-9.1zM280.61 134.3h9.1v1h-9.1zM280.61 157.3h9.1v3h-9.1zM280.61 172.3h9.1v1h-9.1zM280.61 251.3h9.1v2h-9.1zM280.61 372.3h9.1v1h-9.1zM289.71 85.3h9.1v1h-9.1zM289.71 203.3h9.1v3h-9.1zM289.71 221.3h9.1v1h-9.1zM289.71 285.3h9.1v2h-9.1zM298.81 76.3h9.1v1h-9.1zM298.81 244.3h9.1v1h-9.1zM298.81 376.3h9.1v2h-9.1zM307.9 236.3h9.1v2h-9.1zM307.9 250.3h9.1v1h-9.1zM307.9 285.3h9.1v2h-9.1zM35 389.6h9.1v1h-9.1zM35 397.6h9.1v2h-9.1zM35 403.6h9.1v3h-9.1zM35 425.6h9.1v2h-9.1zM35 439.6h9.1v1h-9.1zM35 444.6h9.1v1h-9.1zM35 451.6h9.1v1h-9.1zM35 531.6h9.1v3h-9.1zM35 549.6h9.1v3h-9.1zM35 556.6h9.1v3h-9.1zM35 583.6h9.1v1h-9.1zM35 601.6h9.1v2h-9.1zM35 629.6h9.1v2h-9.1zM35 638.6h9.1v2h-9.1zM35 656.6h9.1v3h-9.1zM35 679.6h9.1v4h-9.1zM35 685.6h9.1v1h-9.1zM35 701.6h9.1v1h-9.1zM35 709.6h9.1v3h-9.1zM35 719.6h9.1v1h-9.1zM35 724.6h9.1v3h-9.1zM35 758.6h9.1v2h-9.1zM53.19 400.6h9.1v1h-9.1zM62.29 717.6h9.1v1h-9.1zM71.39 665.6h9.1v1h-9.1zM171.45 579.6h9.1v3h-9.1zM171.45 617.6h9.1v1h-9.1zM171.45 650.6h9.1v2h-9.1zM171.45 674.6h9.1v2h-9.1zM171.45 705.6h9.1v2h-9.1zM180.55 629.6h9.1v1h-9.1zM180.55 631.6h9.1v2h-9.1zM180.55 676.6h9.1v1h-9.1zM180.55 681.6h9.1v2h-9.1zM180.55 696.6h9.1v2h-9.1zM189.65 496.6h9.1v3h-9.1zM189.65 524.6h9.1v1h-9.1zM189.65 555.6h9.1v2h-9.1zM189.65 650.6h9.1v2h-9.1zM189.65 735.6h9.1v2h-9.1zM189.65 738.6h9.1v3h-9.1zM198.74 536.6h9.1v3h-9.1zM198.74 545.6h9.1v1h-9.1zM198.74 547.6h9.1v2h-9.1zM198.74 679.6h9.1v1h-9.1zM198.74 712.6h9.1v3h-9.1zM207.84 499.6h9.1v1h-9.1zM207.84 712.6h9.1v3h-9.1zM207.84 760.6h9.1v1h-9.1zM216.94 389.6h9.1v2h-9.1zM216.94 733.6h9.1v1h-9.1zM216.94 737.6h9.1v1h-9.1zM226.03 496.6h9.1v3h-9.1zM226.03 718.6h9.1v1h-9.1zM235.13 510.6h9.1v1h-9.1zM235.13 516.6h9.1v2h-9.1zM235.13 605.6h9.1v2h-9.1zM235.13 712.6h9.1v3h-9.1zM235.13 756.6h9.1v2h-9.1zM244.23 515.6h9.1v1h-9.1zM244.23 547.6h9.1v2h-9.1zM244.23 612.6h9.1v2h-9.1zM244.23 728.6h9.1v2h-9.1zM244.23 760.6h9.1v1h-9.1zM253.32 601.6h9.1v3h-9.1zM253.32 645.6h9.1v2h-9.1zM262.42 742.6h9.1v2h-9.1zM271.52 726.6h9.1v1h-9.1zM280.61 525.6h9.1v2h-9.1zM280.61 629.6h9.1v1h-9.1zM280.61 679.6h9.1v1h-9.1zM280.61 733.6h9.1v1h-9.1zM280.61 760.6h9.1v1h-9.1zM289.71 510.6h9.1v1h-9.1zM289.71 574.6h9.1v1h-9.1zM289.71 642.6h9.1v1h-9.1zM298.81 679.6h9.1v1h-9.1zM298.81 681.6h9.1v2h-9.1zM298.81 699.6h9.1v1h-9.1zM298.81 734.6h9.1v3h-9.1zM307.9 563.6h9.1v2h-9.1zM307.9 605.6h9.1v2h-9.1zM307.9 629.6h9.1v1h-9.1z"/><path fill="#aa1500" d="M235.13 336.3h9.1v2h-9.1zM262.42 293.3h9.1v1h-9.1zM307.9 693.6h9.1v2h-9.1z"/><path fill="#aa2a00" d="M171.45 328.3h9.1v1h-9.1zM198.74 266.3h9.1v2h-9.1zM207.84 301.3h9.1v1h-9.1zM235.13 334.3h9.1v2h-9.1zM262.42 244.3h9.1v1h-9.1zM280.61 93.3h9.1v2h-9.1zM180.55 645.6h9.1v2h-9.1zM198.74 609.6h9.1v2h-9.1zM207.84 494.6h9.1v2h-9.1zM207.84 744.6h9.1v2h-9.1zM216.94 734.6h9.1v1h-9.1zM244.23 609.6h9.1v2h-9.1zM298.81 549.6h9.1v3h-9.1z"/><path fill="#aa4000" d="M171.45 130.3h9.1v2h-9.1zM189.65 318.3h9.1v2h-9.1zM198.74 84.3h9.1v1h-9.1zM198.74 232.3h9.1v2h-9.1zM235.13 132.3h9.1v2h-9.1zM244.23 189.3h9.1v1h-9.1zM253.32 161.3h9.1v3h-9.1zM262.42 79.3h9.1v1h-9.1zM262.42 290.3h9.1v3h-9.1zM271.52 130.3h9.1v2h-9.1zM280.61 130.3h9.1v2h-9.1zM289.71 107.3h9.1v2h-9.1zM289.71 138.3h9.1v2h-9.1zM298.81 274.3h9.1v2h-9.1zM298.81 328.3h9.1v1h-9.1zM307.9 93.3h9.1v2h-9.1zM198.74 631.6h9.1v2h-9.1zM207.84 599.6h9.1v1h-9.1zM216.94 575.6h9.1v2h-9.1zM235.13 539.6h9.1v2h-9.1zM244.23 574.6h9.1v1h-9.1zM262.42 599.6h9.1v1h-9.1zM271.52 502.6h9.1v1h-9.1zM271.52 625.6h9.1v3h-9.1zM271.52 693.6h9.1v2h-9.1zM298.81 720.6h9.1v1h-9.1zM307.9 744.6h9.1v2h-9.1z"/><path fill="#aa5500" d="M171.45 76.3h9.1v1h-9.1zM180.55 136.3h9.1v1h-9.1zM180.55 203.3h9.1v3h-9.1zM189.65 137.3h9.1v1h-9.1zM198.74 72.3h9.1v1h-9.1zM198.74 274.3h9.1v2h-9.1zM207.84 189.3h9.1v1h-9.1zM207.84 193.3h9.1v3h-9.1zM216.94 138.3h9.1v2h-9.1zM216.94 221.3h9.1v1h-9.1zM216.94 328.3h9.1v1h-9.1zM226.03 84.3h9.1v1h-9.1zM235.13 339.3h9.1v1h-9.1zM244.23 166.3h9.1v1h-9.1zM244.23 328.3h9.1v1h-9.1zM253.32 321.3h9.1v1h-9.1zM262.42 52.3h9.1v3h-9.1zM280.61 113.3h9.1v2h-9.1zM298.81 126.3h9.1v1h-9.1zM307.9 256.3h9.1v1h-9.1zM171.45 514.6h9.1v1h-9.1zM171.45 566.6h9.1v1h-9.1zM171.45 667.6h9.1v3h-9.1zM180.55 664.6h9.1v2h-9.1zM189.65 472.6h9.1v3h-9.1zM189.65 534.6h9.1v2h-9.1zM216.94 726.6h9.1v1h-9.1zM226.03 609.6h9.1v2h-9.1zM244.23 568.6h9.1v2h-9.1zM244.23 571.6h9.1v2h-9.1zM244.23 731.6h9.1v1h-9.1zM262.42 718.6h9.1v1h-9.1zM262.42 744.6h9.1v2h-9.1zM271.52 737.6h9.1v1h-9.1zM280.61 727.6h9.1v1h-9.1z"/><path fill="#aa6a00" d="M35 226.3h9.1v1h-9.1zM71.39 48.3h9.1v1h-9.1zM71.39 217.3h9.1v1h-9.1zM71.39 239.3h9.1v1h-9.1zM71.39 241.3h9.1v1h-9.1zM180.55 102.3h9.1v2h-9.1zM180.55 247.3h9.1v1h-9.1zM189.65 93.3h9.1v2h-9.1zM189.65 315.3h9.1v2h-9.1zM189.65 328.3h9.1v1h-9.1zM189.65 336.3h9.1v2h-9.1zM198.74 221.3h9.1v1h-9.1zM198.74 315.3h9.1v2h-9.1zM207.84 157.3h9.1v3h-9.1zM207.84 349.3h9.1v1h-9.1zM216.94 197.3h9.1v2h-9.1zM226.03 210.3h9.1v2h-9.1zM226.03 301.3h9.1v1h-9.1zM235.13 107.3h9.1v2h-9.1zM235.13 231.3h9.1v1h-9.1zM235.13 315.3h9.1v2h-9.1zM244.23 315.3h9.1v2h-9.1zM253.32 89.3h9.1v3h-9.1zM253.32 113.3h9.1v2h-9.1zM262.42 93.3h9.1v2h-9.1zM262.42 161.3h9.1v3h-9.1zM262.42 193.3h9.1v3h-9.1zM262.42 313.3h9.1v1h-9.1zM271.52 67.3h9.1v1h-9.1zM280.61 196.3h9.1v1h-9.1zM280.61 206.3h9.1v1h-9.1zM280.61 308.3h9.1v1h-9.1zM289.71 132.3h9.1v2h-9.1zM289.71 161.3h9.1v3h-9.1zM289.71 383.3h9.1v2h-9.1zM298.81 298.3h9.1v3h-9.1zM307.9 107.3h9.1v2h-9.1zM144.16 695.6h9.1v1h-9.1zM189.65 640.6h9.1v1h-9.1zM198.74 522.6h9.1v2h-9.1zM207.84 709.6h9.1v1h-9.1zM216.94 673.6h9.1v1h-9.1zM226.03 639.6h9.1v1h-9.1zM235.13 601.6h9.1v3h-9.1zM235.13 679.6h9.1v1h-9.1zM244.23 592.6h9.1v2h-9.1zM253.32 599.6h9.1v1h-9.1zM262.42 605.6h9.1v2h-9.1zM271.52 512.6h9.1v2h-9.1zM271.52 607.6h9.1v1h-9.1zM280.61 609.6h9.1v2h-9.1zM289.71 680.6h9.1v1h-9.1z"/><path fill="#aa8000" d="M71.39 150.3h9.1v2h-9.1zM144.16 202.3h9.1v2h-9.1zM144.16 232.3h9.1v2h-9.1zM207.84 107.3h9.1v2h-9.1zM253.32 315.3h9.1v2h-9.1zM280.61 339.3h9.1v1h-9.1zM307.9 339.3h9.1v1h-9.1zM80.48 725.6h9.1v2h-9.1zM107.77 731.6h9.1v2h-9.1zM116.87 711.6h9.1v1h-9.1zM262.42 512.6h9.1v2h-9.1z"/><path fill="#aa9500" d="M144.16 140.3h9.1v1h-9.1zM226.03 512.6h9.1v2h-9.1z"/><path fill="#bf0000" d="M80.48 365.3h9.1v1h-9.1zM89.58 109.3h9.1v1h-9.1zM107.77 367.3h9.1v1h-9.1zM116.87 55.3h9.1v3h-9.1zM116.87 70.3h9.1v2h-9.1zM116.87 84.3h9.1v2h-9.1zM116.87 100.3h9.1v2h-9.1zM116.87 190.3h9.1v1h-9.1zM116.87 198.3h9.1v2h-9.1zM135.06 53.3h9.1v1h-9.1zM135.06 260.3h9.1v2h-9.1zM144.16 37.3h9.1v2h-9.1zM144.16 42.3h9.1v3h-9.1zM144.16 117.3h9.1v2h-9.1zM144.16 175.3h9.1v2h-9.1zM144.16 255.3h9.1v2h-9.1zM144.16 273.3h9.1v3h-9.1zM144.16 345.3h9.1v1h-9.1zM144.16 347.3h9.1v1h-9.1zM153.26 58.3h9.1v2h-9.1zM153.26 165.3h9.1v1h-9.1zM162.35 205.3h9.1v1h-9.1zM162.35 224.3h9.1v1h-9.1zM162.35 348.3h9.1v1h-9.1zM171.45 44.3h9.1v2h-9.1zM171.45 157.3h9.1v3h-9.1zM171.45 360.3h9.1v1h-9.1zM171.45 365.3h9.1v2h-9.1zM180.55 116.3h9.1v2h-9.1zM180.55 248.3h9.1v2h-9.1zM180.55 251.3h9.1v2h-9.1zM180.55 274.3h9.1v2h-9.1zM189.65 216.3h9.1v1h-9.1zM189.65 274.3h9.1v2h-9.1zM189.65 327.3h9.1v1h-9.1zM198.74 68.3h9.1v1h-9.1zM198.74 78.3h9.1v1h-9.1zM198.74 121.3h9.1v1h-9.1zM198.74 134.3h9.1v1h-9.1zM198.74 181.3h9.1v1h-9.1zM198.74 236.3h9.1v2h-9.1zM198.74 305.3h9.1v3h-9.1zM207.84 293.3h9.1v1h-9.1zM216.94 174.3h9.1v1h-9.1zM216.94 178.3h9.1v2h-9.1zM216.94 246.3h9.1v1h-9.1zM216.94 329.3h9.1v2h-9.1zM216.94 365.3h9.1v2h-9.1zM226.03 172.3h9.1v1h-9.1zM226.03 207.3h9.1v2h-9.1zM226.03 296.3h9.1v1h-9.1zM226.03 313.3h9.1v1h-9.1zM226.03 376.3h9.1v2h-9.1zM235.13 349.3h9.1v1h-9.1zM244.23 47.3h9.1v2h-9.1zM244.23 167.3h9.1v1h-9.1zM244.23 222.3h9.1v1h-9.1zM244.23 301.3h9.1v1h-9.1zM244.23 311.3h9.1v2h-9.1zM244.23 325.3h9.1v1h-9.1zM244.23 341.3h9.1v3h-9.1zM253.32 69.3h9.1v2h-9.1zM253.32 76.3h9.1v1h-9.1zM253.32 135.3h9.1v1h-9.1zM253.32 177.3h9.1v1h-9.1zM253.32 285.3h9.1v2h-9.1zM253.32 349.3h9.1v1h-9.1zM253.32 360.3h9.1v1h-9.1zM262.42 67.3h9.1v1h-9.1zM262.42 119.3h9.1v2h-9.1zM262.42 250.3h9.1v1h-9.1zM262.42 285.3h9.1v2h-9.1zM262.42 344.3h9.1v1h-9.1zM262.42 365.3h9.1v2h-9.1zM271.52 76.3h9.1v1h-9.1zM271.52 132.3h9.1v2h-9.1zM271.52 171.3h9.1v1h-9.1zM271.52 199.3h9.1v3h-9.1zM271.52 268.3h9.1v3h-9.1zM271.52 297.3h9.1v1h-9.1zM271.52 328.3h9.1v1h-9.1zM271.52 338.3h9.1v1h-9.1zM280.61 221.3h9.1v1h-9.1zM280.61 246.3h9.1v1h-9.1zM280.61 261.3h9.1v1h-9.1zM280.61 285.3h9.1v2h-9.1zM280.61 311.3h9.1v2h-9.1zM280.61 336.3h9.1v2h-9.1zM289.71 68.3h9.1v1h-9.1zM289.71 96.3h9.1v3h-9.1zM289.71 104.3h9.1v3h-9.1zM289.71 202.3h9.1v1h-9.1zM289.71 349.3h9.1v1h-9.1zM289.71 376.3h9.1v2h-9.1zM298.81 67.3h9.1v1h-9.1zM298.81 69.3h9.1v2h-9.1zM298.81 236.3h9.1v2h-9.1zM298.81 311.3h9.1v2h-9.1zM298.81 365.3h9.1v2h-9.1zM307.9 72.3h9.1v1h-9.1zM307.9 78.3h9.1v1h-9.1zM35 393.6h9.1v1h-9.1zM35 399.6h9.1v4h-9.1zM35 407.6h9.1v2h-9.1zM35 411.6h9.1v8h-9.1zM35 422.6h9.1v3h-9.1zM35 427.6h9.1v1h-9.1zM35 431.6h9.1v8h-9.1zM35 440.6h9.1v4h-9.1zM35 445.6h9.1v6h-9.1zM35 452.6h9.1v9h-9.1zM35 463.6h9.1v3h-9.1zM35 468.6h9.1v2h-9.1zM35 479.6h9.1v3h-9.1zM35 483.6h9.1v2h-9.1zM35 495.6h9.1v1h-9.1zM35 499.6h9.1v2h-9.1zM35 503.6h9.1v4h-9.1zM35 508.6h9.1v7h-9.1zM35 518.6h9.1v7h-9.1zM35 534.6h9.1v4h-9.1zM35 540.6h9.1v5h-9.1zM35 546.6h9.1v3h-9.1zM35 552.6h9.1v4h-9.1zM35 559.6h9.1v3h-9.1zM35 567.6h9.1v5h-9.1zM35 573.6h9.1v5h-9.1zM35 582.6h9.1v1h-9.1zM35 584.6h9.1v6h-9.1zM35 592.6h9.1v2h-9.1zM35 596.6h9.1v2h-9.1zM35 603.6h9.1v3h-9.1zM35 608.6h9.1v1h-9.1zM35 610.6h9.1v2h-9.1zM35 616.6h9.1v4h-9.1zM35 622.6h9.1v6h-9.1zM35 634.6h9.1v4h-9.1zM35 641.6h9.1v5h-9.1zM35 659.6h9.1v3h-9.1zM35 664.6h9.1v9h-9.1zM35 677.6h9.1v2h-9.1zM35 683.6h9.1v2h-9.1zM35 686.6h9.1v3h-9.1zM35 693.6h9.1v5h-9.1zM35 700.6h9.1v1h-9.1zM35 706.6h9.1v3h-9.1zM35 712.6h9.1v3h-9.1zM35 720.6h9.1v2h-9.1zM35 728.6h9.1v2h-9.1zM35 734.6h9.1v3h-9.1zM35 738.6h9.1v3h-9.1zM35 743.6h9.1v1h-9.1zM35 746.6h9.1v1h-9.1zM35 755.6h9.1v3h-9.1zM35 760.6h9.1v2h-9.1zM171.45 466.6h9.1v2h-9.1zM171.45 500.6h9.1v2h-9.1zM171.45 510.6h9.1v1h-9.1zM171.45 547.6h9.1v2h-9.1zM171.45 615.6h9.1v2h-9.1zM171.45 637.6h9.1v2h-9.1zM171.45 756.6h9.1v2h-9.1zM180.55 555.6h9.1v2h-9.1zM180.55 666.6h9.1v1h-9.1zM180.55 698.6h9.1v1h-9.1zM180.55 735.6h9.1v2h-9.1zM189.65 547.6h9.1v2h-9.1zM189.65 615.6h9.1v2h-9.1zM189.65 720.6h9.1v1h-9.1zM189.65 726.6h9.1v1h-9.1zM198.74 598.6h9.1v1h-9.1zM198.74 615.6h9.1v2h-9.1zM198.74 744.6h9.1v2h-9.1zM198.74 758.6h9.1v2h-9.1zM207.84 642.6h9.1v1h-9.1zM207.84 655.6h9.1v1h-9.1zM207.84 716.6h9.1v2h-9.1zM207.84 735.6h9.1v2h-9.1zM216.94 592.6h9.1v2h-9.1zM216.94 601.6h9.1v3h-9.1zM216.94 640.6h9.1v1h-9.1zM216.94 642.6h9.1v1h-9.1zM216.94 655.6h9.1v1h-9.1zM216.94 716.6h9.1v2h-9.1zM226.03 459.6h9.1v2h-9.1zM226.03 601.6h9.1v3h-9.1zM226.03 655.6h9.1v1h-9.1zM226.03 693.6h9.1v2h-9.1zM226.03 710.6h9.1v2h-9.1zM226.03 716.6h9.1v2h-9.1zM226.03 756.6h9.1v2h-9.1zM235.13 543.6h9.1v1h-9.1zM235.13 640.6h9.1v1h-9.1zM235.13 645.6h9.1v2h-9.1zM244.23 524.6h9.1v1h-9.1zM244.23 545.6h9.1v1h-9.1zM244.23 705.6h9.1v2h-9.1zM253.32 524.6h9.1v1h-9.1zM253.32 555.6h9.1v2h-9.1zM253.32 642.6h9.1v1h-9.1zM253.32 699.6h9.1v1h-9.1zM262.42 524.6h9.1v1h-9.1zM262.42 645.6h9.1v2h-9.1zM262.42 655.6h9.1v1h-9.1zM262.42 660.6h9.1v2h-9.1zM271.52 549.6h9.1v3h-9.1zM271.52 655.6h9.1v1h-9.1zM271.52 679.6h9.1v1h-9.1zM280.61 599.6h9.1v1h-9.1zM280.61 601.6h9.1v3h-9.1zM280.61 645.6h9.1v2h-9.1zM280.61 716.6h9.1v2h-9.1zM280.61 751.6h9.1v1h-9.1zM280.61 756.6h9.1v2h-9.1zM289.71 524.6h9.1v1h-9.1zM298.81 521.6h9.1v1h-9.1zM298.81 545.6h9.1v1h-9.1zM298.81 589.6h9.1v2h-9.1zM298.81 592.6h9.1v2h-9.1zM298.81 601.6h9.1v3h-9.1zM298.81 640.6h9.1v1h-9.1zM298.81 655.6h9.1v1h-9.1zM298.81 702.6h9.1v3h-9.1zM298.81 756.6h9.1v2h-9.1zM307.9 643.6h9.1v2h-9.1zM307.9 664.6h9.1v2h-9.1zM307.9 734.6h9.1v1h-9.1z"/><path fill="#bf2a00" d="M198.74 161.3h9.1v3h-9.1zM198.74 293.3h9.1v1h-9.1zM207.84 130.3h9.1v2h-9.1zM262.42 311.3h9.1v2h-9.1zM289.71 218.3h9.1v2h-9.1zM307.9 518.6h9.1v1h-9.1z"/><path fill="#bf4000" d="M171.45 318.3h9.1v2h-9.1zM180.55 76.3h9.1v1h-9.1zM180.55 130.3h9.1v2h-9.1zM180.55 293.3h9.1v1h-9.1zM189.65 132.3h9.1v2h-9.1zM216.94 113.3h9.1v2h-9.1zM235.13 93.3h9.1v2h-9.1zM235.13 113.3h9.1v2h-9.1zM244.23 218.3h9.1v2h-9.1zM253.32 175.3h9.1v2h-9.1zM253.32 193.3h9.1v3h-9.1zM253.32 336.3h9.1v2h-9.1zM262.42 288.3h9.1v1h-9.1zM262.42 378.3h9.1v1h-9.1zM271.52 127.3h9.1v2h-9.1zM280.61 344.3h9.1v1h-9.1zM280.61 352.3h9.1v2h-9.1zM289.71 372.3h9.1v1h-9.1zM298.81 93.3h9.1v2h-9.1zM298.81 113.3h9.1v2h-9.1zM307.9 113.3h9.1v2h-9.1zM171.45 744.6h9.1v2h-9.1zM189.65 751.6h9.1v1h-9.1zM207.84 707.6h9.1v2h-9.1zM207.84 737.6h9.1v1h-9.1zM216.94 489.6h9.1v2h-9.1zM244.23 685.6h9.1v2h-9.1zM244.23 693.6h9.1v2h-9.1zM262.42 758.6h9.1v2h-9.1zM271.52 601.6h9.1v3h-9.1zM280.61 509.6h9.1v1h-9.1zM289.71 568.6h9.1v2h-9.1zM289.71 640.6h9.1v1h-9.1z"/><path fill="#bf5500" d="M180.55 122.3h9.1v1h-9.1zM189.65 322.3h9.1v2h-9.1zM198.74 137.3h9.1v1h-9.1zM198.74 318.3h9.1v2h-9.1zM216.94 263.3h9.1v3h-9.1zM226.03 137.3h9.1v1h-9.1zM226.03 216.3h9.1v1h-9.1zM226.03 367.3h9.1v1h-9.1zM235.13 57.3h9.1v3h-9.1zM244.23 113.3h9.1v2h-9.1zM253.32 122.3h9.1v1h-9.1zM253.32 290.3h9.1v3h-9.1zM262.42 259.3h9.1v2h-9.1zM262.42 315.3h9.1v2h-9.1zM271.52 385.3h9.1v0.9h-9.1zM280.61 167.3h9.1v1h-9.1zM280.61 173.3h9.1v1h-9.1zM280.61 305.3h9.1v3h-9.1zM298.81 315.3h9.1v2h-9.1zM307.9 79.3h9.1v1h-9.1zM307.9 130.3h9.1v2h-9.1zM307.9 239.3h9.1v2h-9.1zM171.45 642.6h9.1v1h-9.1zM171.45 758.6h9.1v2h-9.1zM180.55 472.6h9.1v3h-9.1zM189.65 629.6h9.1v1h-9.1zM189.65 700.6h9.1v2h-9.1zM198.74 472.6h9.1v3h-9.1zM198.74 575.6h9.1v2h-9.1zM198.74 726.6h9.1v1h-9.1zM207.84 597.6h9.1v1h-9.1zM207.84 758.6h9.1v2h-9.1zM235.13 515.6h9.1v1h-9.1zM244.23 617.6h9.1v1h-9.1zM253.32 541.6h9.1v2h-9.1zM253.32 674.6h9.1v2h-9.1zM262.42 522.6h9.1v2h-9.1zM271.52 522.6h9.1v2h-9.1zM298.81 519.6h9.1v2h-9.1zM307.9 568.6h9.1v2h-9.1z"/><path fill="#bf6a00" d="M171.45 339.3h9.1v1h-9.1zM189.65 52.3h9.1v3h-9.1zM189.65 256.3h9.1v1h-9.1zM189.65 287.3h9.1v1h-9.1zM198.74 352.3h9.1v2h-9.1zM226.03 315.3h9.1v2h-9.1zM244.23 271.3h9.1v1h-9.1zM253.32 328.3h9.1v1h-9.1zM271.52 218.3h9.1v2h-9.1zM271.52 383.3h9.1v2h-9.1zM289.71 315.3h9.1v2h-9.1zM298.81 332.3h9.1v1h-9.1zM307.9 172.3h9.1v1h-9.1zM180.55 607.6h9.1v1h-9.1zM189.65 642.6h9.1v1h-9.1zM198.74 643.6h9.1v2h-9.1zM226.03 475.6h9.1v3h-9.1zM226.03 514.6h9.1v1h-9.1zM235.13 512.6h9.1v2h-9.1zM235.13 585.6h9.1v1h-9.1zM235.13 758.6h9.1v2h-9.1zM244.23 640.6h9.1v1h-9.1zM244.23 702.6h9.1v3h-9.1zM253.32 568.6h9.1v2h-9.1zM271.52 702.6h9.1v3h-9.1zM307.9 617.6h9.1v1h-9.1zM307.9 737.6h9.1v1h-9.1z"/><path fill="#bf8000" d="M253.32 107.3h9.1v2h-9.1zM253.32 339.3h9.1v1h-9.1zM271.52 137.3h9.1v1h-9.1z"/><path fill="#d40000" d="M80.48 66.3h9.1v1h-9.1zM80.48 76.3h9.1v3h-9.1zM80.48 112.3h9.1v2h-9.1zM80.48 137.3h9.1v2h-9.1zM80.48 147.3h9.1v2h-9.1zM80.48 203.3h9.1v1h-9.1zM80.48 247.3h9.1v2h-9.1zM80.48 261.3h9.1v2h-9.1zM80.48 291.3h9.1v2h-9.1zM80.48 301.3h9.1v3h-9.1zM80.48 333.3h9.1v3h-9.1zM80.48 367.3h9.1v3h-9.1zM89.58 34.3h9.1v3h-9.1zM89.58 55.3h9.1v2h-9.1zM89.58 113.3h9.1v2h-9.1zM89.58 142.3h9.1v2h-9.1zM89.58 161.3h9.1v3h-9.1zM89.58 166.3h9.1v1h-9.1zM89.58 181.3h9.1v2h-9.1zM89.58 286.3h9.1v3h-9.1zM89.58 298.3h9.1v1h-9.1zM89.58 326.3h9.1v1h-9.1zM89.58 378.3h9.1v2h-9.1zM98.68 282.3h9.1v3h-9.1zM98.68 331.3h9.1v1h-9.1zM98.68 356.3h9.1v2h-9.1zM98.68 362.3h9.1v2h-9.1zM107.77 249.3h9.1v2h-9.1zM107.77 256.3h9.1v1h-9.1zM107.77 311.3h9.1v1h-9.1zM107.77 315.3h9.1v3h-9.1zM107.77 328.3h9.1v2h-9.1zM107.77 385.3h9.1v0.9h-9.1zM116.87 43.3h9.1v1h-9.1zM116.87 58.3h9.1v4h-9.1zM116.87 68.3h9.1v2h-9.1zM116.87 76.3h9.1v1h-9.1zM116.87 79.3h9.1v1h-9.1zM116.87 86.3h9.1v1h-9.1zM116.87 99.3h9.1v1h-9.1zM116.87 122.3h9.1v2h-9.1zM116.87 127.3h9.1v4h-9.1zM116.87 141.3h9.1v2h-9.1zM116.87 148.3h9.1v1h-9.1zM116.87 157.3h9.1v2h-9.1zM116.87 168.3h9.1v3h-9.1zM116.87 174.3h9.1v2h-9.1zM116.87 179.3h9.1v1h-9.1zM116.87 181.3h9.1v2h-9.1zM116.87 193.3h9.1v3h-9.1zM116.87 204.3h9.1v2h-9.1zM116.87 207.3h9.1v3h-9.1zM116.87 221.3h9.1v1h-9.1zM116.87 225.3h9.1v5h-9.1zM116.87 236.3h9.1v1h-9.1zM116.87 247.3h9.1v2h-9.1zM116.87 254.3h9.1v6h-9.1zM116.87 262.3h9.1v3h-9.1zM116.87 268.3h9.1v3h-9.1zM116.87 280.3h9.1v3h-9.1zM116.87 287.3h9.1v1h-9.1zM116.87 311.3h9.1v3h-9.1zM116.87 317.3h9.1v3h-9.1zM116.87 321.3h9.1v2h-9.1zM116.87 326.3h9.1v5h-9.1zM116.87 336.3h9.1v4h-9.1zM116.87 341.3h9.1v2h-9.1zM116.87 346.3h9.1v2h-9.1zM116.87 350.3h9.1v2h-9.1zM116.87 355.3h9.1v2h-9.1zM116.87 360.3h9.1v2h-9.1zM116.87 363.3h9.1v2h-9.1zM116.87 372.3h9.1v2h-9.1zM116.87 382.3h9.1v3h-9.1zM125.97 203.3h9.1v3h-9.1zM125.97 223.3h9.1v1h-9.1zM125.97 335.3h9.1v3h-9.1zM135.06 149.3h9.1v1h-9.1zM135.06 156.3h9.1v1h-9.1zM135.06 198.3h9.1v1h-9.1zM135.06 220.3h9.1v1h-9.1zM135.06 234.3h9.1v3h-9.1zM135.06 267.3h9.1v1h-9.1zM135.06 356.3h9.1v2h-9.1zM135.06 379.3h9.1v3h-9.1zM144.16 39.3h9.1v2h-9.1zM144.16 45.3h9.1v4h-9.1zM144.16 52.3h9.1v1h-9.1zM144.16 54.3h9.1v7h-9.1zM144.16 65.3h9.1v2h-9.1zM144.16 68.3h9.1v2h-9.1zM144.16 73.3h9.1v6h-9.1zM144.16 81.3h9.1v3h-9.1zM144.16 91.3h9.1v1h-9.1zM144.16 103.3h9.1v2h-9.1zM144.16 107.3h9.1v1h-9.1zM144.16 111.3h9.1v2h-9.1zM144.16 116.3h9.1v1h-9.1zM144.16 121.3h9.1v3h-9.1zM144.16 130.3h9.1v3h-9.1zM144.16 135.3h9.1v3h-9.1zM144.16 143.3h9.1v2h-9.1zM144.16 149.3h9.1v2h-9.1zM144.16 155.3h9.1v2h-9.1zM144.16 159.3h9.1v1h-9.1zM144.16 163.3h9.1v3h-9.1zM144.16 172.3h9.1v2h-9.1zM144.16 182.3h9.1v5h-9.1zM144.16 188.3h9.1v6h-9.1zM144.16 197.3h9.1v1h-9.1zM144.16 205.3h9.1v2h-9.1zM144.16 215.3h9.1v6h-9.1zM144.16 225.3h9.1v5h-9.1zM144.16 237.3h9.1v1h-9.1zM144.16 244.3h9.1v3h-9.1zM144.16 253.3h9.1v2h-9.1zM144.16 263.3h9.1v2h-9.1zM144.16 267.3h9.1v6h-9.1zM144.16 276.3h9.1v2h-9.1zM144.16 287.3h9.1v1h-9.1zM144.16 293.3h9.1v2h-9.1zM144.16 298.3h9.1v2h-9.1zM144.16 302.3h9.1v2h-9.1zM144.16 320.3h9.1v3h-9.1zM144.16 333.3h9.1v2h-9.1zM144.16 337.3h9.1v2h-9.1zM144.16 357.3h9.1v1h-9.1zM144.16 364.3h9.1v2h-9.1zM144.16 369.3h9.1v5h-9.1zM144.16 375.3h9.1v3h-9.1zM144.16 381.3h9.1v4.9h-9.1zM153.26 94.3h9.1v2h-9.1zM153.26 181.3h9.1v2h-9.1zM153.26 226.3h9.1v2h-9.1zM153.26 260.3h9.1v2h-9.1zM153.26 320.3h9.1v3h-9.1zM153.26 329.3h9.1v1h-9.1zM153.26 335.3h9.1v3h-9.1zM153.26 367.3h9.1v2h-9.1zM162.35 356.3h9.1v3h-9.1zM171.45 67.3h9.1v1h-9.1zM171.45 71.3h9.1v1h-9.1zM171.45 121.3h9.1v1h-9.1zM171.45 285.3h9.1v2h-9.1zM171.45 304.3h9.1v1h-9.1zM171.45 326.3h9.1v1h-9.1zM171.45 334.3h9.1v2h-9.1zM171.45 367.3h9.1v1h-9.1zM180.55 72.3h9.1v1h-9.1zM180.55 113.3h9.1v2h-9.1zM180.55 167.3h9.1v1h-9.1zM180.55 175.3h9.1v2h-9.1zM180.55 182.3h9.1v3h-9.1zM180.55 360.3h9.1v1h-9.1zM180.55 365.3h9.1v2h-9.1zM180.55 368.3h9.1v3h-9.1zM180.55 380.3h9.1v2h-9.1zM189.65 193.3h9.1v3h-9.1zM189.65 349.3h9.1v1h-9.1zM189.65 355.3h9.1v2h-9.1zM189.65 365.3h9.1v2h-9.1zM198.74 178.3h9.1v2h-9.1zM198.74 290.3h9.1v3h-9.1zM198.74 328.3h9.1v1h-9.1zM207.84 309.3h9.1v2h-9.1zM216.94 50.3h9.1v2h-9.1zM216.94 67.3h9.1v1h-9.1zM216.94 76.3h9.1v2h-9.1zM216.94 332.3h9.1v2h-9.1zM226.03 101.3h9.1v1h-9.1zM226.03 130.3h9.1v2h-9.1zM226.03 185.3h9.1v3h-9.1zM226.03 248.3h9.1v2h-9.1zM226.03 333.3h9.1v1h-9.1zM226.03 375.3h9.1v1h-9.1zM226.03 378.3h9.1v1h-9.1zM235.13 72.3h9.1v1h-9.1zM235.13 85.3h9.1v1h-9.1zM235.13 104.3h9.1v3h-9.1zM235.13 285.3h9.1v2h-9.1zM244.23 36.3h9.1v1h-9.1zM244.23 46.3h9.1v1h-9.1zM244.23 134.3h9.1v1h-9.1zM244.23 371.3h9.1v1h-9.1zM253.32 127.3h9.1v2h-9.1zM253.32 146.3h9.1v1h-9.1zM253.32 281.3h9.1v3h-9.1zM253.32 354.3h9.1v1h-9.1zM253.32 373.3h9.1v2h-9.1zM262.42 197.3h9.1v2h-9.1zM262.42 213.3h9.1v3h-9.1zM262.42 245.3h9.1v1h-9.1zM262.42 251.3h9.1v2h-9.1zM262.42 326.3h9.1v1h-9.1zM262.42 372.3h9.1v1h-9.1zM271.52 39.3h9.1v1h-9.1zM271.52 207.3h9.1v2h-9.1zM271.52 309.3h9.1v2h-9.1zM271.52 313.3h9.1v1h-9.1zM271.52 350.3h9.1v2h-9.1zM280.61 81.3h9.1v1h-9.1zM280.61 190.3h9.1v6h-9.1zM280.61 346.3h9.1v3h-9.1zM289.71 72.3h9.1v1h-9.1zM289.71 167.3h9.1v1h-9.1zM298.81 121.3h9.1v1h-9.1zM298.81 207.3h9.1v2h-9.1zM298.81 271.3h9.1v1h-9.1zM298.81 324.3h9.1v1h-9.1zM307.9 67.3h9.1v2h-9.1zM307.9 174.3h9.1v1h-9.1zM307.9 199.3h9.1v3h-9.1zM307.9 213.3h9.1v3h-9.1zM307.9 301.3h9.1v1h-9.1zM35 390.6h9.1v3h-9.1zM35 394.6h9.1v3h-9.1zM35 419.6h9.1v3h-9.1zM35 430.6h9.1v1h-9.1zM35 461.6h9.1v2h-9.1zM35 472.6h9.1v5h-9.1zM35 487.6h9.1v1h-9.1zM35 515.6h9.1v1h-9.1zM35 525.6h9.1v6h-9.1zM35 545.6h9.1v1h-9.1zM35 562.6h9.1v3h-9.1zM35 572.6h9.1v1h-9.1zM35 606.6h9.1v2h-9.1zM35 628.6h9.1v1h-9.1zM35 640.6h9.1v1h-9.1zM35 673.6h9.1v4h-9.1zM35 731.6h9.1v3h-9.1zM35 748.6h9.1v3h-9.1zM35 753.6h9.1v2h-9.1zM53.19 420.6h9.1v1h-9.1zM62.29 474.6h9.1v2h-9.1zM62.29 508.6h9.1v2h-9.1zM62.29 604.6h9.1v1h-9.1zM62.29 626.6h9.1v3h-9.1zM62.29 674.6h9.1v2h-9.1zM62.29 734.6h9.1v1h-9.1zM71.39 602.6h9.1v1h-9.1zM171.45 536.6h9.1v3h-9.1zM171.45 599.6h9.1v1h-9.1zM171.45 618.6h9.1v2h-9.1zM171.45 645.6h9.1v2h-9.1zM180.55 503.6h9.1v2h-9.1zM180.55 527.6h9.1v3h-9.1zM180.55 718.6h9.1v1h-9.1zM180.55 742.6h9.1v2h-9.1zM180.55 756.6h9.1v2h-9.1zM180.55 760.6h9.1v1h-9.1zM189.65 674.6h9.1v2h-9.1zM189.65 731.6h9.1v1h-9.1zM198.74 584.6h9.1v1h-9.1zM198.74 655.6h9.1v1h-9.1zM198.74 683.6h9.1v2h-9.1zM198.74 756.6h9.1v2h-9.1zM198.74 761.6h9.1v1h-9.1zM207.84 547.6h9.1v2h-9.1zM207.84 718.6h9.1v1h-9.1zM207.84 730.6h9.1v1h-9.1zM207.84 747.6h9.1v3h-9.1zM207.84 752.6h9.1v1h-9.1zM207.84 761.6h9.1v1h-9.1zM216.94 647.6h9.1v2h-9.1zM216.94 687.6h9.1v3h-9.1zM226.03 489.6h9.1v2h-9.1zM226.03 642.6h9.1v1h-9.1zM226.03 691.6h9.1v1h-9.1zM226.03 699.6h9.1v1h-9.1zM235.13 496.6h9.1v3h-9.1zM235.13 618.6h9.1v2h-9.1zM235.13 647.6h9.1v2h-9.1zM235.13 699.6h9.1v1h-9.1zM235.13 718.6h9.1v1h-9.1zM244.23 496.6h9.1v3h-9.1zM253.32 519.6h9.1v2h-9.1zM253.32 640.6h9.1v1h-9.1zM253.32 690.6h9.1v1h-9.1zM253.32 698.6h9.1v1h-9.1zM253.32 702.6h9.1v3h-9.1zM253.32 718.6h9.1v1h-9.1zM262.42 489.6h9.1v2h-9.1zM262.42 555.6h9.1v2h-9.1zM262.42 702.6h9.1v3h-9.1zM262.42 716.6h9.1v2h-9.1zM262.42 761.6h9.1v1h-9.1zM271.52 585.6h9.1v1h-9.1zM271.52 645.6h9.1v2h-9.1zM280.61 496.6h9.1v3h-9.1zM280.61 597.6h9.1v1h-9.1zM280.61 643.6h9.1v2h-9.1zM280.61 702.6h9.1v3h-9.1zM289.71 496.6h9.1v3h-9.1zM289.71 591.6h9.1v1h-9.1zM289.71 655.6h9.1v1h-9.1zM289.71 664.6h9.1v2h-9.1zM289.71 707.6h9.1v2h-9.1zM298.81 543.6h9.1v1h-9.1zM298.81 659.6h9.1v1h-9.1zM298.81 667.6h9.1v3h-9.1zM298.81 761.6h9.1v1h-9.1zM307.9 640.6h9.1v1h-9.1z"/><path fill="#d42a00" d="M226.03 93.3h9.1v2h-9.1zM271.52 113.3h9.1v2h-9.1zM171.45 585.6h9.1v1h-9.1z"/><path fill="#d44000" d="M171.45 293.3h9.1v1h-9.1zM298.81 302.3h9.1v2h-9.1zM216.94 758.6h9.1v2h-9.1zM226.03 492.6h9.1v2h-9.1zM235.13 730.6h9.1v1h-9.1z"/><path fill="#d45500" d="M207.84 72.3h9.1v1h-9.1zM307.9 314.3h9.1v3h-9.1zM244.23 583.6h9.1v1h-9.1z"/><path fill="#d46a00" d="M189.65 107.3h9.1v2h-9.1zM216.94 272.3h9.1v2h-9.1zM216.94 522.6h9.1v2h-9.1zM235.13 472.6h9.1v3h-9.1z"/><path fill="#d48000" d="M226.03 522.6h9.1v2h-9.1z"/><path fill="#ea0000" d="M80.48 36.3h9.1v2h-9.1zM80.48 44.3h9.1v5h-9.1zM80.48 56.3h9.1v2h-9.1zM80.48 70.3h9.1v1h-9.1zM80.48 79.3h9.1v1h-9.1zM80.48 81.3h9.1v23h-9.1zM80.48 105.3h9.1v4h-9.1zM80.48 114.3h9.1v2h-9.1zM80.48 117.3h9.1v16h-9.1zM80.48 139.3h9.1v3h-9.1zM80.48 152.3h9.1v1h-9.1zM80.48 154.3h9.1v7h-9.1zM80.48 163.3h9.1v5h-9.1zM80.48 170.3h9.1v6h-9.1zM80.48 181.3h9.1v1h-9.1zM80.48 184.3h9.1v2h-9.1zM80.48 191.3h9.1v2h-9.1zM80.48 196.3h9.1v5h-9.1zM80.48 208.3h9.1v6h-9.1zM80.48 219.3h9.1v4h-9.1zM80.48 226.3h9.1v2h-9.1zM80.48 234.3h9.1v6h-9.1zM80.48 244.3h9.1v3h-9.1zM80.48 253.3h9.1v6h-9.1zM80.48 260.3h9.1v1h-9.1zM80.48 263.3h9.1v3h-9.1zM80.48 268.3h9.1v5h-9.1zM80.48 276.3h9.1v2h-9.1zM80.48 279.3h9.1v1h-9.1zM80.48 282.3h9.1v3h-9.1zM80.48 286.3h9.1v1h-9.1zM80.48 288.3h9.1v3h-9.1zM80.48 293.3h9.1v2h-9.1zM80.48 299.3h9.1v1h-9.1zM80.48 309.3h9.1v3h-9.1zM80.48 315.3h9.1v6h-9.1zM80.48 322.3h9.1v4h-9.1zM80.48 330.3h9.1v3h-9.1zM80.48 336.3h9.1v1h-9.1zM80.48 341.3h9.1v6h-9.1zM80.48 350.3h9.1v2h-9.1zM80.48 355.3h9.1v6h-9.1zM80.48 362.3h9.1v2h-9.1zM80.48 366.3h9.1v1h-9.1zM80.48 373.3h9.1v7h-9.1zM80.48 383.3h9.1v2.9h-9.1zM89.58 33.3h9.1v1h-9.1zM89.58 37.3h9.1v5h-9.1zM89.58 45.3h9.1v2h-9.1zM89.58 48.3h9.1v1h-9.1zM89.58 50.3h9.1v5h-9.1zM89.58 57.3h9.1v8h-9.1zM89.58 66.3h9.1v3h-9.1zM89.58 70.3h9.1v2h-9.1zM89.58 74.3h9.1v12h-9.1zM89.58 87.3h9.1v7h-9.1zM89.58 97.3h9.1v1h-9.1zM89.58 100.3h9.1v4h-9.1zM89.58 107.3h9.1v2h-9.1zM89.58 117.3h9.1v4h-9.1zM89.58 122.3h9.1v2h-9.1zM89.58 125.3h9.1v5h-9.1zM89.58 135.3h9.1v3h-9.1zM89.58 150.3h9.1v1h-9.1zM89.58 156.3h9.1v4h-9.1zM89.58 165.3h9.1v1h-9.1zM89.58 170.3h9.1v3h-9.1zM89.58 184.3h9.1v5h-9.1zM89.58 197.3h9.1v3h-9.1zM89.58 202.3h9.1v4h-9.1zM89.58 209.3h9.1v1h-9.1zM89.58 211.3h9.1v5h-9.1zM89.58 220.3h9.1v2h-9.1zM89.58 224.3h9.1v2h-9.1zM89.58 234.3h9.1v2h-9.1zM89.58 241.3h9.1v2h-9.1zM89.58 245.3h9.1v3h-9.1zM89.58 250.3h9.1v5h-9.1zM89.58 260.3h9.1v5h-9.1zM89.58 266.3h9.1v8h-9.1zM89.58 277.3h9.1v2h-9.1zM89.58 283.3h9.1v3h-9.1zM89.58 289.3h9.1v3h-9.1zM89.58 296.3h9.1v2h-9.1zM89.58 310.3h9.1v10h-9.1zM89.58 321.3h9.1v2h-9.1zM89.58 334.3h9.1v2h-9.1zM89.58 343.3h9.1v4h-9.1zM89.58 350.3h9.1v2h-9.1zM89.58 353.3h9.1v2h-9.1zM89.58 360.3h9.1v6h-9.1zM89.58 368.3h9.1v2h-9.1zM89.58 372.3h9.1v2h-9.1zM89.58 376.3h9.1v1h-9.1zM89.58 380.3h9.1v2h-9.1zM98.68 45.3h9.1v2h-9.1zM98.68 54.3h9.1v2h-9.1zM98.68 62.3h9.1v3h-9.1zM98.68 72.3h9.1v10h-9.1zM98.68 84.3h9.1v1h-9.1zM98.68 86.3h9.1v2h-9.1zM98.68 90.3h9.1v4h-9.1zM98.68 107.3h9.1v3h-9.1zM98.68 123.3h9.1v1h-9.1zM98.68 127.3h9.1v2h-9.1zM98.68 131.3h9.1v3h-9.1zM98.68 151.3h9.1v3h-9.1zM98.68 155.3h9.1v3h-9.1zM98.68 161.3h9.1v1h-9.1zM98.68 171.3h9.1v2h-9.1zM98.68 176.3h9.1v2h-9.1zM98.68 187.3h9.1v5h-9.1zM98.68 193.3h9.1v2h-9.1zM98.68 198.3h9.1v2h-9.1zM98.68 202.3h9.1v3h-9.1zM98.68 208.3h9.1v1h-9.1zM98.68 212.3h9.1v2h-9.1zM98.68 223.3h9.1v1h-9.1zM98.68 226.3h9.1v3h-9.1zM98.68 242.3h9.1v1h-9.1zM98.68 247.3h9.1v1h-9.1zM98.68 251.3h9.1v2h-9.1zM98.68 257.3h9.1v2h-9.1zM98.68 260.3h9.1v1h-9.1zM98.68 265.3h9.1v3h-9.1zM98.68 271.3h9.1v4h-9.1zM98.68 286.3h9.1v4h-9.1zM98.68 313.3h9.1v1h-9.1zM98.68 318.3h9.1v2h-9.1zM98.68 321.3h9.1v9h-9.1zM98.68 332.3h9.1v6h-9.1zM98.68 343.3h9.1v6h-9.1zM98.68 350.3h9.1v1h-9.1zM98.68 358.3h9.1v1h-9.1zM98.68 372.3h9.1v1h-9.1zM98.68 377.3h9.1v1h-9.1zM98.68 385.3h9.1v0.9h-9.1zM107.77 33.3h9.1v2h-9.1zM107.77 38.3h9.1v2h-9.1zM107.77 54.3h9.1v2h-9.1zM107.77 57.3h9.1v3h-9.1zM107.77 77.3h9.1v6h-9.1zM107.77 88.3h9.1v3h-9.1zM107.77 98.3h9.1v3h-9.1zM107.77 108.3h9.1v2h-9.1zM107.77 114.3h9.1v3h-9.1zM107.77 140.3h9.1v10h-9.1zM107.77 152.3h9.1v2h-9.1zM107.77 166.3h9.1v3h-9.1zM107.77 176.3h9.1v1h-9.1zM107.77 180.3h9.1v2h-9.1zM107.77 184.3h9.1v1h-9.1zM107.77 191.3h9.1v3h-9.1zM107.77 198.3h9.1v3h-9.1zM107.77 204.3h9.1v3h-9.1zM107.77 212.3h9.1v3h-9.1zM107.77 219.3h9.1v3h-9.1zM107.77 235.3h9.1v1h-9.1zM107.77 242.3h9.1v5h-9.1zM107.77 257.3h9.1v5h-9.1zM107.77 263.3h9.1v3h-9.1zM107.77 272.3h9.1v1h-9.1zM107.77 278.3h9.1v2h-9.1zM107.77 283.3h9.1v3h-9.1zM107.77 291.3h9.1v10h-9.1zM107.77 305.3h9.1v4h-9.1zM107.77 320.3h9.1v3h-9.1zM107.77 324.3h9.1v4h-9.1zM107.77 333.3h9.1v3h-9.1zM107.77 343.3h9.1v2h-9.1zM107.77 347.3h9.1v6h-9.1zM107.77 354.3h9.1v2h-9.1zM107.77 359.3h9.1v3h-9.1zM107.77 363.3h9.1v1h-9.1zM107.77 366.3h9.1v1h-9.1zM107.77 368.3h9.1v1h-9.1zM107.77 376.3h9.1v3h-9.1zM107.77 382.3h9.1v1h-9.1zM116.87 50.3h9.1v4h-9.1zM116.87 62.3h9.1v6h-9.1zM116.87 73.3h9.1v2h-9.1zM116.87 80.3h9.1v1h-9.1zM116.87 87.3h9.1v1h-9.1zM116.87 95.3h9.1v4h-9.1zM116.87 102.3h9.1v2h-9.1zM116.87 107.3h9.1v3h-9.1zM116.87 112.3h9.1v1h-9.1zM116.87 116.3h9.1v3h-9.1zM116.87 121.3h9.1v1h-9.1zM116.87 124.3h9.1v2h-9.1zM116.87 144.3h9.1v4h-9.1zM116.87 150.3h9.1v2h-9.1zM116.87 159.3h9.1v3h-9.1zM116.87 165.3h9.1v2h-9.1zM116.87 186.3h9.1v2h-9.1zM116.87 200.3h9.1v2h-9.1zM116.87 217.3h9.1v1h-9.1zM116.87 222.3h9.1v3h-9.1zM116.87 233.3h9.1v2h-9.1zM116.87 237.3h9.1v3h-9.1zM116.87 242.3h9.1v2h-9.1zM116.87 271.3h9.1v2h-9.1zM116.87 277.3h9.1v3h-9.1zM116.87 285.3h9.1v2h-9.1zM116.87 288.3h9.1v2h-9.1zM116.87 292.3h9.1v1h-9.1zM116.87 295.3h9.1v3h-9.1zM116.87 300.3h9.1v2h-9.1zM116.87 303.3h9.1v2h-9.1zM116.87 308.3h9.1v3h-9.1zM116.87 323.3h9.1v3h-9.1zM116.87 331.3h9.1v3h-9.1zM116.87 343.3h9.1v1h-9.1zM116.87 362.3h9.1v1h-9.1zM116.87 365.3h9.1v1h-9.1zM116.87 368.3h9.1v2h-9.1zM116.87 378.3h9.1v3h-9.1zM116.87 385.3h9.1v0.9h-9.1zM125.97 36.3h9.1v2h-9.1zM125.97 39.3h9.1v3h-9.1zM125.97 43.3h9.1v3h-9.1zM125.97 56.3h9.1v2h-9.1zM125.97 67.3h9.1v3h-9.1zM125.97 79.3h9.1v1h-9.1zM125.97 81.3h9.1v1h-9.1zM125.97 99.3h9.1v1h-9.1zM125.97 107.3h9.1v2h-9.1zM125.97 116.3h9.1v2h-9.1zM125.97 120.3h9.1v1h-9.1zM125.97 126.3h9.1v3h-9.1zM125.97 131.3h9.1v7h-9.1zM125.97 147.3h9.1v2h-9.1zM125.97 152.3h9.1v3h-9.1zM125.97 156.3h9.1v2h-9.1zM125.97 168.3h9.1v4h-9.1zM125.97 184.3h9.1v6h-9.1zM125.97 193.3h9.1v2h-9.1zM125.97 200.3h9.1v3h-9.1zM125.97 206.3h9.1v4h-9.1zM125.97 213.3h9.1v2h-9.1zM125.97 226.3h9.1v2h-9.1zM125.97 231.3h9.1v2h-9.1zM125.97 246.3h9.1v2h-9.1zM125.97 250.3h9.1v1h-9.1zM125.97 259.3h9.1v2h-9.1zM125.97 262.3h9.1v1h-9.1zM125.97 265.3h9.1v4h-9.1zM125.97 277.3h9.1v1h-9.1zM125.97 281.3h9.1v1h-9.1zM125.97 286.3h9.1v8h-9.1zM125.97 302.3h9.1v6h-9.1zM125.97 312.3h9.1v1h-9.1zM125.97 319.3h9.1v5h-9.1zM125.97 339.3h9.1v6h-9.1zM125.97 359.3h9.1v5h-9.1zM125.97 372.3h9.1v12h-9.1zM135.06 36.3h9.1v3h-9.1zM135.06 41.3h9.1v3h-9.1zM135.06 47.3h9.1v3h-9.1zM135.06 59.3h9.1v3h-9.1zM135.06 73.3h9.1v3h-9.1zM135.06 98.3h9.1v3h-9.1zM135.06 105.3h9.1v3h-9.1zM135.06 111.3h9.1v2h-9.1zM135.06 124.3h9.1v2h-9.1zM135.06 132.3h9.1v1h-9.1zM135.06 142.3h9.1v7h-9.1zM135.06 150.3h9.1v3h-9.1zM135.06 155.3h9.1v1h-9.1zM135.06 164.3h9.1v3h-9.1zM135.06 168.3h9.1v5h-9.1zM135.06 175.3h9.1v5h-9.1zM135.06 185.3h9.1v2h-9.1zM135.06 189.3h9.1v2h-9.1zM135.06 194.3h9.1v4h-9.1zM135.06 199.3h9.1v1h-9.1zM135.06 201.3h9.1v1h-9.1zM135.06 207.3h9.1v5h-9.1zM135.06 213.3h9.1v2h-9.1zM135.06 216.3h9.1v4h-9.1zM135.06 221.3h9.1v4h-9.1zM135.06 240.3h9.1v6h-9.1zM135.06 263.3h9.1v4h-9.1zM135.06 268.3h9.1v1h-9.1zM135.06 279.3h9.1v5h-9.1zM135.06 286.3h9.1v4h-9.1zM135.06 294.3h9.1v1h-9.1zM135.06 298.3h9.1v6h-9.1zM135.06 308.3h9.1v5h-9.1zM135.06 315.3h9.1v2h-9.1zM135.06 318.3h9.1v6h-9.1zM135.06 330.3h9.1v1h-9.1zM135.06 335.3h9.1v3h-9.1zM135.06 339.3h9.1v6h-9.1zM135.06 346.3h9.1v3h-9.1zM135.06 352.3h9.1v1h-9.1zM135.06 358.3h9.1v1h-9.1zM135.06 369.3h9.1v4h-9.1zM135.06 382.3h9.1v3.9h-9.1zM144.16 61.3h9.1v1h-9.1zM144.16 63.3h9.1v1h-9.1zM144.16 71.3h9.1v2h-9.1zM144.16 89.3h9.1v2h-9.1zM144.16 94.3h9.1v2h-9.1zM144.16 99.3h9.1v3h-9.1zM144.16 108.3h9.1v3h-9.1zM144.16 113.3h9.1v3h-9.1zM144.16 119.3h9.1v2h-9.1zM144.16 124.3h9.1v4h-9.1zM144.16 141.3h9.1v2h-9.1zM144.16 157.3h9.1v1h-9.1zM144.16 160.3h9.1v2h-9.1zM144.16 178.3h9.1v1h-9.1zM144.16 221.3h9.1v3h-9.1zM144.16 234.3h9.1v3h-9.1zM144.16 257.3h9.1v3h-9.1zM144.16 279.3h9.1v2h-9.1zM144.16 282.3h9.1v1h-9.1zM144.16 295.3h9.1v3h-9.1zM144.16 300.3h9.1v2h-9.1zM144.16 304.3h9.1v3h-9.1zM144.16 309.3h9.1v7h-9.1zM144.16 318.3h9.1v2h-9.1zM144.16 323.3h9.1v1h-9.1zM144.16 335.3h9.1v2h-9.1zM144.16 340.3h9.1v2h-9.1zM144.16 344.3h9.1v1h-9.1zM144.16 346.3h9.1v1h-9.1zM144.16 362.3h9.1v2h-9.1zM144.16 378.3h9.1v3h-9.1zM153.26 35.3h9.1v2h-9.1zM153.26 43.3h9.1v2h-9.1zM153.26 50.3h9.1v5h-9.1zM153.26 60.3h9.1v3h-9.1zM153.26 72.3h9.1v7h-9.1zM153.26 84.3h9.1v1h-9.1zM153.26 86.3h9.1v2h-9.1zM153.26 98.3h9.1v4h-9.1zM153.26 105.3h9.1v1h-9.1zM153.26 109.3h9.1v9h-9.1zM153.26 121.3h9.1v3h-9.1zM153.26 125.3h9.1v4h-9.1zM153.26 138.3h9.1v2h-9.1zM153.26 143.3h9.1v2h-9.1zM153.26 147.3h9.1v2h-9.1zM153.26 150.3h9.1v3h-9.1zM153.26 161.3h9.1v4h-9.1zM153.26 172.3h9.1v3h-9.1zM153.26 178.3h9.1v3h-9.1zM153.26 185.3h9.1v4h-9.1zM153.26 192.3h9.1v5h-9.1zM153.26 201.3h9.1v3h-9.1zM153.26 212.3h9.1v3h-9.1zM153.26 229.3h9.1v5h-9.1zM153.26 236.3h9.1v6h-9.1zM153.26 243.3h9.1v4h-9.1zM153.26 251.3h9.1v1h-9.1zM153.26 254.3h9.1v3h-9.1zM153.26 268.3h9.1v8h-9.1zM153.26 277.3h9.1v1h-9.1zM153.26 281.3h9.1v4h-9.1zM153.26 288.3h9.1v3h-9.1zM153.26 302.3h9.1v1h-9.1zM153.26 305.3h9.1v15h-9.1zM153.26 323.3h9.1v3h-9.1zM153.26 330.3h9.1v2h-9.1zM153.26 338.3h9.1v16h-9.1zM153.26 355.3h9.1v5h-9.1zM153.26 362.3h9.1v4h-9.1zM153.26 376.3h9.1v5h-9.1zM153.26 383.3h9.1v1h-9.1zM162.35 45.3h9.1v7h-9.1zM162.35 58.3h9.1v1h-9.1zM162.35 64.3h9.1v3h-9.1zM162.35 71.3h9.1v4h-9.1zM162.35 78.3h9.1v3h-9.1zM162.35 83.3h9.1v2h-9.1zM162.35 93.3h9.1v3h-9.1zM162.35 99.3h9.1v2h-9.1zM162.35 110.3h9.1v3h-9.1zM162.35 116.3h9.1v6h-9.1zM162.35 147.3h9.1v3h-9.1zM162.35 153.3h9.1v3h-9.1zM162.35 159.3h9.1v2h-9.1zM162.35 164.3h9.1v3h-9.1zM162.35 176.3h9.1v3h-9.1zM162.35 180.3h9.1v3h-9.1zM162.35 197.3h9.1v6h-9.1zM162.35 210.3h9.1v2h-9.1zM162.35 216.3h9.1v2h-9.1zM162.35 225.3h9.1v3h-9.1zM162.35 229.3h9.1v2h-9.1zM162.35 233.3h9.1v4h-9.1zM162.35 257.3h9.1v3h-9.1zM162.35 261.3h9.1v1h-9.1zM162.35 266.3h9.1v4h-9.1zM162.35 285.3h9.1v4h-9.1zM162.35 293.3h9.1v2h-9.1zM162.35 296.3h9.1v3h-9.1zM162.35 303.3h9.1v4h-9.1zM162.35 315.3h9.1v1h-9.1zM162.35 322.3h9.1v2h-9.1zM162.35 327.3h9.1v3h-9.1zM162.35 334.3h9.1v4h-9.1zM162.35 340.3h9.1v3h-9.1zM162.35 344.3h9.1v1h-9.1zM162.35 359.3h9.1v8h-9.1zM162.35 372.3h9.1v4h-9.1zM162.35 378.3h9.1v1h-9.1zM162.35 385.3h9.1v0.9h-9.1zM180.55 78.3h9.1v1h-9.1zM180.55 166.3h9.1v1h-9.1zM189.65 123.3h9.1v1h-9.1zM189.65 360.3h9.1v1h-9.1zM198.74 203.3h9.1v3h-9.1zM198.74 360.3h9.1v1h-9.1zM207.84 68.3h9.1v1h-9.1zM207.84 124.3h9.1v2h-9.1zM207.84 203.3h9.1v3h-9.1zM207.84 217.3h9.1v1h-9.1zM207.84 251.3h9.1v2h-9.1zM207.84 302.3h9.1v2h-9.1zM207.84 305.3h9.1v3h-9.1zM207.84 326.3h9.1v1h-9.1zM216.94 274.3h9.1v2h-9.1zM226.03 175.3h9.1v2h-9.1zM226.03 213.3h9.1v3h-9.1zM235.13 197.3h9.1v2h-9.1zM235.13 217.3h9.1v1h-9.1zM244.23 67.3h9.1v1h-9.1zM244.23 175.3h9.1v2h-9.1zM244.23 346.3h9.1v3h-9.1zM244.23 360.3h9.1v1h-9.1zM253.32 242.3h9.1v2h-9.1zM253.32 254.3h9.1v1h-9.1zM262.42 124.3h9.1v1h-9.1zM262.42 327.3h9.1v1h-9.1zM271.52 250.3h9.1v1h-9.1zM271.52 272.3h9.1v2h-9.1zM271.52 327.3h9.1v1h-9.1zM271.52 360.3h9.1v1h-9.1zM280.61 67.3h9.1v1h-9.1zM280.61 174.3h9.1v1h-9.1zM280.61 326.3h9.1v1h-9.1zM280.61 333.3h9.1v1h-9.1zM289.71 360.3h9.1v1h-9.1zM289.71 365.3h9.1v2h-9.1zM298.81 68.3h9.1v1h-9.1zM298.81 134.3h9.1v1h-9.1zM298.81 268.3h9.1v3h-9.1zM298.81 285.3h9.1v2h-9.1zM298.81 360.3h9.1v1h-9.1zM307.9 326.3h9.1v1h-9.1zM307.9 365.3h9.1v2h-9.1zM35 631.6h9.1v3h-9.1zM44.1 395.6h9.1v2h-9.1zM44.1 410.6h9.1v5h-9.1zM44.1 416.6h9.1v2h-9.1zM44.1 423.6h9.1v2h-9.1zM44.1 437.6h9.1v1h-9.1zM44.1 454.6h9.1v1h-9.1zM44.1 456.6h9.1v3h-9.1zM44.1 462.6h9.1v5h-9.1zM44.1 471.6h9.1v2h-9.1zM44.1 479.6h9.1v6h-9.1zM44.1 489.6h9.1v3h-9.1zM44.1 496.6h9.1v2h-9.1zM44.1 504.6h9.1v1h-9.1zM44.1 511.6h9.1v5h-9.1zM44.1 523.6h9.1v1h-9.1zM44.1 528.6h9.1v3h-9.1zM44.1 545.6h9.1v6h-9.1zM44.1 565.6h9.1v1h-9.1zM44.1 569.6h9.1v3h-9.1zM44.1 580.6h9.1v1h-9.1zM44.1 582.6h9.1v3h-9.1zM44.1 588.6h9.1v4h-9.1zM44.1 596.6h9.1v6h-9.1zM44.1 611.6h9.1v5h-9.1zM44.1 624.6h9.1v3h-9.1zM44.1 630.6h9.1v3h-9.1zM44.1 644.6h9.1v3h-9.1zM44.1 649.6h9.1v3h-9.1zM44.1 654.6h9.1v2h-9.1zM44.1 657.6h9.1v2h-9.1zM44.1 663.6h9.1v1h-9.1zM44.1 666.6h9.1v12h-9.1zM44.1 683.6h9.1v1h-9.1zM44.1 686.6h9.1v1h-9.1zM44.1 688.6h9.1v2h-9.1zM44.1 694.6h9.1v1h-9.1zM44.1 704.6h9.1v2h-9.1zM44.1 715.6h9.1v1h-9.1zM44.1 720.6h9.1v2h-9.1zM44.1 726.6h9.1v2h-9.1zM44.1 731.6h9.1v9h-9.1zM44.1 745.6h9.1v4h-9.1zM44.1 752.6h9.1v6h-9.1zM53.19 397.6h9.1v1h-9.1zM53.19 401.6h9.1v4h-9.1zM53.19 440.6h9.1v2h-9.1zM53.19 453.6h9.1v1h-9.1zM53.19 460.6h9.1v2h-9.1zM53.19 482.6h9.1v1h-9.1zM53.19 485.6h9.1v2h-9.1zM53.19 498.6h9.1v5h-9.1zM53.19 514.6h9.1v2h-9.1zM53.19 533.6h9.1v4h-9.1zM53.19 540.6h9.1v5h-9.1zM53.19 546.6h9.1v4h-9.1zM53.19 553.6h9.1v2h-9.1zM53.19 568.6h9.1v1h-9.1zM53.19 580.6h9.1v2h-9.1zM53.19 599.6h9.1v6h-9.1zM53.19 606.6h9.1v8h-9.1zM53.19 616.6h9.1v1h-9.1zM53.19 623.6h9.1v2h-9.1zM53.19 636.6h9.1v3h-9.1zM53.19 644.6h9.1v1h-9.1zM53.19 649.6h9.1v3h-9.1zM53.19 666.6h9.1v4h-9.1zM53.19 681.6h9.1v3h-9.1zM53.19 701.6h9.1v1h-9.1zM53.19 709.6h9.1v6h-9.1zM53.19 727.6h9.1v3h-9.1zM53.19 741.6h9.1v2h-9.1zM53.19 744.6h9.1v7h-9.1zM53.19 758.6h9.1v2h-9.1zM62.29 389.6h9.1v3h-9.1zM62.29 395.6h9.1v3h-9.1zM62.29 402.6h9.1v1h-9.1zM62.29 404.6h9.1v3h-9.1zM62.29 417.6h9.1v1h-9.1zM62.29 423.6h9.1v1h-9.1zM62.29 427.6h9.1v8h-9.1zM62.29 437.6h9.1v3h-9.1zM62.29 449.6h9.1v3h-9.1zM62.29 455.6h9.1v1h-9.1zM62.29 457.6h9.1v9h-9.1zM62.29 468.6h9.1v2h-9.1zM62.29 476.6h9.1v4h-9.1zM62.29 483.6h9.1v1h-9.1zM62.29 491.6h9.1v7h-9.1zM62.29 504.6h9.1v3h-9.1zM62.29 510.6h9.1v5h-9.1zM62.29 517.6h9.1v3h-9.1zM62.29 523.6h9.1v6h-9.1zM62.29 531.6h9.1v7h-9.1zM62.29 541.6h9.1v1h-9.1zM62.29 545.6h9.1v2h-9.1zM62.29 549.6h9.1v7h-9.1zM62.29 562.6h9.1v4h-9.1zM62.29 567.6h9.1v3h-9.1zM62.29 583.6h9.1v1h-9.1zM62.29 586.6h9.1v1h-9.1zM62.29 592.6h9.1v3h-9.1zM62.29 597.6h9.1v2h-9.1zM62.29 601.6h9.1v2h-9.1zM62.29 605.6h9.1v7h-9.1zM62.29 615.6h9.1v3h-9.1zM62.29 623.6h9.1v3h-9.1zM62.29 629.6h9.1v3h-9.1zM62.29 633.6h9.1v4h-9.1zM62.29 640.6h9.1v7h-9.1zM62.29 649.6h9.1v3h-9.1zM62.29 657.6h9.1v2h-9.1zM62.29 660.6h9.1v9h-9.1zM62.29 671.6h9.1v3h-9.1zM62.29 676.6h9.1v16h-9.1zM62.29 694.6h9.1v2h-9.1zM62.29 697.6h9.1v3h-9.1zM62.29 702.6h9.1v3h-9.1zM62.29 708.6h9.1v3h-9.1zM62.29 714.6h9.1v3h-9.1zM62.29 718.6h9.1v5h-9.1zM62.29 726.6h9.1v4h-9.1zM62.29 731.6h9.1v2h-9.1zM62.29 735.6h9.1v6h-9.1zM62.29 745.6h9.1v8h-9.1zM62.29 754.6h9.1v2h-9.1zM62.29 760.6h9.1v2h-9.1zM71.39 396.6h9.1v3h-9.1zM71.39 411.6h9.1v1h-9.1zM71.39 429.6h9.1v3h-9.1zM71.39 440.6h9.1v2h-9.1zM71.39 445.6h9.1v1h-9.1zM71.39 453.6h9.1v3h-9.1zM71.39 467.6h9.1v3h-9.1zM71.39 475.6h9.1v2h-9.1zM71.39 492.6h9.1v2h-9.1zM71.39 498.6h9.1v1h-9.1zM71.39 508.6h9.1v2h-9.1zM71.39 524.6h9.1v4h-9.1zM71.39 530.6h9.1v2h-9.1zM71.39 535.6h9.1v2h-9.1zM71.39 541.6h9.1v1h-9.1zM71.39 545.6h9.1v3h-9.1zM71.39 551.6h9.1v3h-9.1zM71.39 557.6h9.1v1h-9.1zM71.39 560.6h9.1v2h-9.1zM71.39 567.6h9.1v1h-9.1zM71.39 571.6h9.1v3h-9.1zM71.39 576.6h9.1v2h-9.1zM71.39 579.6h9.1v6h-9.1zM71.39 594.6h9.1v2h-9.1zM71.39 611.6h9.1v3h-9.1zM71.39 615.6h9.1v1h-9.1zM71.39 621.6h9.1v1h-9.1zM71.39 628.6h9.1v1h-9.1zM71.39 635.6h9.1v3h-9.1zM71.39 640.6h9.1v3h-9.1zM71.39 651.6h9.1v2h-9.1zM71.39 660.6h9.1v2h-9.1zM71.39 666.6h9.1v1h-9.1zM71.39 672.6h9.1v2h-9.1zM71.39 679.6h9.1v2h-9.1zM71.39 684.6h9.1v3h-9.1zM71.39 692.6h9.1v2h-9.1zM71.39 702.6h9.1v4h-9.1zM71.39 716.6h9.1v3h-9.1zM71.39 722.6h9.1v1h-9.1zM71.39 747.6h9.1v3h-9.1zM71.39 755.6h9.1v2h-9.1zM171.45 389.6h9.1v2h-9.1zM171.45 628.6h9.1v1h-9.1zM171.45 639.6h9.1v1h-9.1zM171.45 643.6h9.1v2h-9.1zM171.45 677.6h9.1v1h-9.1zM171.45 699.6h9.1v1h-9.1zM180.55 489.6h9.1v2h-9.1zM189.65 599.6h9.1v1h-9.1zM189.65 728.6h9.1v2h-9.1zM198.74 496.6h9.1v3h-9.1zM198.74 601.6h9.1v3h-9.1zM198.74 650.6h9.1v2h-9.1zM198.74 677.6h9.1v1h-9.1zM198.74 695.6h9.1v1h-9.1zM198.74 718.6h9.1v1h-9.1zM207.84 586.6h9.1v3h-9.1zM207.84 724.6h9.1v1h-9.1zM207.84 733.6h9.1v1h-9.1zM216.94 756.6h9.1v2h-9.1zM226.03 570.6h9.1v1h-9.1zM226.03 640.6h9.1v1h-9.1zM226.03 746.6h9.1v1h-9.1zM235.13 503.6h9.1v2h-9.1zM235.13 700.6h9.1v2h-9.1zM235.13 762.6h9.1v0.8h-9.1zM244.23 720.6h9.1v1h-9.1zM244.23 756.6h9.1v2h-9.1zM253.32 589.6h9.1v2h-9.1zM253.32 756.6h9.1v2h-9.1zM262.42 389.6h9.1v2h-9.1zM262.42 642.6h9.1v3h-9.1zM262.42 753.6h9.1v3h-9.1zM271.52 642.6h9.1v1h-9.1zM280.61 389.6h9.1v2h-9.1zM280.61 512.6h9.1v2h-9.1zM280.61 547.6h9.1v2h-9.1zM280.61 579.6h9.1v3h-9.1zM280.61 718.6h9.1v1h-9.1zM280.61 731.6h9.1v1h-9.1zM289.71 566.6h9.1v1h-9.1zM289.71 671.6h9.1v2h-9.1zM289.71 718.6h9.1v1h-9.1zM298.81 639.6h9.1v1h-9.1zM298.81 645.6h9.1v2h-9.1zM307.9 655.6h9.1v1h-9.1zM307.9 731.6h9.1v1h-9.1z"/><path fill="#ea1500" d="M216.94 293.3h9.1v1h-9.1z"/><path fill="#ea2a00" d="M226.03 293.3h9.1v1h-9.1zM289.71 113.3h9.1v2h-9.1z"/><path fill="#ea4000" d="M253.32 472.6h9.1v3h-9.1z"/><path fill="#ea5500" d="M298.81 522.6h9.1v2h-9.1z"/><path fill="#ea6a00" d="M171.45 522.6h9.1v2h-9.1zM235.13 522.6h9.1v2h-9.1zM280.61 472.6h9.1v3h-9.1z"/><path fill="#ea8000" d="M207.84 522.6h9.1v2h-9.1z"/><path fill="#ff0000" d="M80.48 33.3h9.1v3h-9.1zM80.48 39.3h9.1v5h-9.1zM80.48 49.3h9.1v5h-9.1zM80.48 60.3h9.1v3h-9.1zM80.48 68.3h9.1v2h-9.1zM80.48 71.3h9.1v5h-9.1zM80.48 80.3h9.1v1h-9.1zM80.48 109.3h9.1v3h-9.1zM80.48 133.3h9.1v4h-9.1zM80.48 142.3h9.1v5h-9.1zM80.48 149.3h9.1v2h-9.1zM80.48 153.3h9.1v1h-9.1zM80.48 178.3h9.1v3h-9.1zM80.48 189.3h9.1v2h-9.1zM80.48 193.3h9.1v2h-9.1zM80.48 204.3h9.1v4h-9.1zM80.48 214.3h9.1v5h-9.1zM80.48 223.3h9.1v3h-9.1zM80.48 229.3h9.1v1h-9.1zM80.48 241.3h9.1v3h-9.1zM80.48 251.3h9.1v2h-9.1zM80.48 266.3h9.1v2h-9.1zM80.48 273.3h9.1v2h-9.1zM80.48 278.3h9.1v1h-9.1zM80.48 287.3h9.1v1h-9.1zM80.48 295.3h9.1v4h-9.1zM80.48 304.3h9.1v1h-9.1zM80.48 306.3h9.1v1h-9.1zM80.48 312.3h9.1v3h-9.1zM80.48 321.3h9.1v1h-9.1zM80.48 337.3h9.1v4h-9.1zM80.48 347.3h9.1v3h-9.1zM80.48 352.3h9.1v2h-9.1zM80.48 364.3h9.1v1h-9.1zM80.48 370.3h9.1v3h-9.1zM80.48 380.3h9.1v3h-9.1zM89.58 43.3h9.1v1h-9.1zM89.58 47.3h9.1v1h-9.1zM89.58 49.3h9.1v1h-9.1zM89.58 69.3h9.1v1h-9.1zM89.58 73.3h9.1v1h-9.1zM89.58 95.3h9.1v2h-9.1zM89.58 98.3h9.1v2h-9.1zM89.58 104.3h9.1v3h-9.1zM89.58 110.3h9.1v3h-9.1zM89.58 115.3h9.1v1h-9.1zM89.58 124.3h9.1v1h-9.1zM89.58 130.3h9.1v3h-9.1zM89.58 138.3h9.1v4h-9.1zM89.58 145.3h9.1v5h-9.1zM89.58 151.3h9.1v1h-9.1zM89.58 153.3h9.1v3h-9.1zM89.58 160.3h9.1v1h-9.1zM89.58 168.3h9.1v2h-9.1zM89.58 173.3h9.1v3h-9.1zM89.58 178.3h9.1v3h-9.1zM89.58 183.3h9.1v1h-9.1zM89.58 190.3h9.1v7h-9.1zM89.58 200.3h9.1v2h-9.1zM89.58 206.3h9.1v3h-9.1zM89.58 216.3h9.1v2h-9.1zM89.58 228.3h9.1v3h-9.1zM89.58 236.3h9.1v5h-9.1zM89.58 248.3h9.1v2h-9.1zM89.58 257.3h9.1v3h-9.1zM89.58 265.3h9.1v1h-9.1zM89.58 275.3h9.1v2h-9.1zM89.58 279.3h9.1v4h-9.1zM89.58 294.3h9.1v2h-9.1zM89.58 299.3h9.1v2h-9.1zM89.58 302.3h9.1v5h-9.1zM89.58 308.3h9.1v2h-9.1zM89.58 327.3h9.1v7h-9.1zM89.58 336.3h9.1v7h-9.1zM89.58 347.3h9.1v3h-9.1zM89.58 357.3h9.1v3h-9.1zM89.58 366.3h9.1v1h-9.1zM89.58 370.3h9.1v2h-9.1zM89.58 374.3h9.1v2h-9.1zM89.58 377.3h9.1v1h-9.1zM89.58 382.3h9.1v3h-9.1zM98.68 33.3h9.1v12h-9.1zM98.68 47.3h9.1v7h-9.1zM98.68 56.3h9.1v6h-9.1zM98.68 65.3h9.1v7h-9.1zM98.68 82.3h9.1v2h-9.1zM98.68 85.3h9.1v1h-9.1zM98.68 88.3h9.1v2h-9.1zM98.68 94.3h9.1v5h-9.1zM98.68 100.3h9.1v7h-9.1zM98.68 110.3h9.1v13h-9.1zM98.68 124.3h9.1v3h-9.1zM98.68 129.3h9.1v2h-9.1zM98.68 134.3h9.1v17h-9.1zM98.68 154.3h9.1v1h-9.1zM98.68 158.3h9.1v3h-9.1zM98.68 162.3h9.1v9h-9.1zM98.68 173.3h9.1v3h-9.1zM98.68 178.3h9.1v9h-9.1zM98.68 192.3h9.1v1h-9.1zM98.68 195.3h9.1v3h-9.1zM98.68 200.3h9.1v2h-9.1zM98.68 205.3h9.1v3h-9.1zM98.68 209.3h9.1v3h-9.1zM98.68 214.3h9.1v9h-9.1zM98.68 224.3h9.1v2h-9.1zM98.68 229.3h9.1v13h-9.1zM98.68 243.3h9.1v4h-9.1zM98.68 248.3h9.1v3h-9.1zM98.68 253.3h9.1v4h-9.1zM98.68 259.3h9.1v1h-9.1zM98.68 261.3h9.1v4h-9.1zM98.68 268.3h9.1v1h-9.1zM98.68 270.3h9.1v1h-9.1zM98.68 275.3h9.1v7h-9.1zM98.68 285.3h9.1v1h-9.1zM98.68 290.3h9.1v23h-9.1zM98.68 314.3h9.1v4h-9.1zM98.68 320.3h9.1v1h-9.1zM98.68 330.3h9.1v1h-9.1zM98.68 338.3h9.1v5h-9.1zM98.68 349.3h9.1v1h-9.1zM98.68 351.3h9.1v5h-9.1zM98.68 359.3h9.1v3h-9.1zM98.68 364.3h9.1v8h-9.1zM98.68 373.3h9.1v4h-9.1zM98.68 378.3h9.1v7h-9.1zM107.77 35.3h9.1v3h-9.1zM107.77 40.3h9.1v14h-9.1zM107.77 56.3h9.1v1h-9.1zM107.77 60.3h9.1v17h-9.1zM107.77 85.3h9.1v3h-9.1zM107.77 91.3h9.1v7h-9.1zM107.77 101.3h9.1v7h-9.1zM107.77 110.3h9.1v4h-9.1zM107.77 117.3h9.1v23h-9.1zM107.77 150.3h9.1v2h-9.1zM107.77 154.3h9.1v12h-9.1zM107.77 169.3h9.1v7h-9.1zM107.77 177.3h9.1v3h-9.1zM107.77 182.3h9.1v2h-9.1zM107.77 185.3h9.1v6h-9.1zM107.77 194.3h9.1v4h-9.1zM107.77 201.3h9.1v3h-9.1zM107.77 207.3h9.1v5h-9.1zM107.77 215.3h9.1v4h-9.1zM107.77 222.3h9.1v13h-9.1zM107.77 236.3h9.1v2h-9.1zM107.77 239.3h9.1v3h-9.1zM107.77 247.3h9.1v2h-9.1zM107.77 251.3h9.1v5h-9.1zM107.77 262.3h9.1v1h-9.1zM107.77 266.3h9.1v1h-9.1zM107.77 268.3h9.1v4h-9.1zM107.77 273.3h9.1v5h-9.1zM107.77 280.3h9.1v3h-9.1zM107.77 286.3h9.1v5h-9.1zM107.77 301.3h9.1v4h-9.1zM107.77 309.3h9.1v2h-9.1zM107.77 312.3h9.1v3h-9.1zM107.77 318.3h9.1v2h-9.1zM107.77 323.3h9.1v1h-9.1zM107.77 330.3h9.1v3h-9.1zM107.77 336.3h9.1v7h-9.1zM107.77 345.3h9.1v2h-9.1zM107.77 353.3h9.1v1h-9.1zM107.77 356.3h9.1v3h-9.1zM107.77 362.3h9.1v1h-9.1zM107.77 364.3h9.1v2h-9.1zM107.77 369.3h9.1v7h-9.1zM107.77 379.3h9.1v3h-9.1zM107.77 383.3h9.1v2h-9.1zM116.87 78.3h9.1v1h-9.1zM116.87 120.3h9.1v1h-9.1zM116.87 273.3h9.1v3h-9.1zM116.87 290.3h9.1v2h-9.1zM116.87 357.3h9.1v2h-9.1zM116.87 374.3h9.1v3h-9.1zM125.97 33.3h9.1v3h-9.1zM125.97 42.3h9.1v1h-9.1zM125.97 46.3h9.1v10h-9.1zM125.97 58.3h9.1v9h-9.1zM125.97 70.3h9.1v9h-9.1zM125.97 80.3h9.1v1h-9.1zM125.97 82.3h9.1v17h-9.1zM125.97 100.3h9.1v7h-9.1zM125.97 109.3h9.1v7h-9.1zM125.97 118.3h9.1v2h-9.1zM125.97 121.3h9.1v5h-9.1zM125.97 129.3h9.1v2h-9.1zM125.97 138.3h9.1v9h-9.1zM125.97 149.3h9.1v3h-9.1zM125.97 155.3h9.1v1h-9.1zM125.97 158.3h9.1v10h-9.1zM125.97 172.3h9.1v12h-9.1zM125.97 190.3h9.1v3h-9.1zM125.97 195.3h9.1v5h-9.1zM125.97 210.3h9.1v3h-9.1zM125.97 215.3h9.1v8h-9.1zM125.97 224.3h9.1v2h-9.1zM125.97 228.3h9.1v3h-9.1zM125.97 233.3h9.1v13h-9.1zM125.97 248.3h9.1v2h-9.1zM125.97 251.3h9.1v8h-9.1zM125.97 261.3h9.1v1h-9.1zM125.97 263.3h9.1v2h-9.1zM125.97 269.3h9.1v8h-9.1zM125.97 278.3h9.1v3h-9.1zM125.97 282.3h9.1v4h-9.1zM125.97 294.3h9.1v8h-9.1zM125.97 308.3h9.1v4h-9.1zM125.97 313.3h9.1v6h-9.1zM125.97 324.3h9.1v11h-9.1zM125.97 338.3h9.1v1h-9.1zM125.97 345.3h9.1v14h-9.1zM125.97 364.3h9.1v8h-9.1zM125.97 384.3h9.1v1.9h-9.1zM135.06 33.3h9.1v3h-9.1zM135.06 39.3h9.1v2h-9.1zM135.06 44.3h9.1v3h-9.1zM135.06 50.3h9.1v3h-9.1zM135.06 54.3h9.1v4h-9.1zM135.06 62.3h9.1v11h-9.1zM135.06 78.3h9.1v20h-9.1zM135.06 101.3h9.1v4h-9.1zM135.06 108.3h9.1v3h-9.1zM135.06 113.3h9.1v11h-9.1zM135.06 126.3h9.1v6h-9.1zM135.06 133.3h9.1v9h-9.1zM135.06 153.3h9.1v2h-9.1zM135.06 157.3h9.1v7h-9.1zM135.06 173.3h9.1v2h-9.1zM135.06 180.3h9.1v4h-9.1zM135.06 187.3h9.1v2h-9.1zM135.06 191.3h9.1v3h-9.1zM135.06 200.3h9.1v1h-9.1zM135.06 202.3h9.1v5h-9.1zM135.06 212.3h9.1v1h-9.1zM135.06 225.3h9.1v9h-9.1zM135.06 237.3h9.1v3h-9.1zM135.06 246.3h9.1v13h-9.1zM135.06 262.3h9.1v1h-9.1zM135.06 269.3h9.1v10h-9.1zM135.06 284.3h9.1v2h-9.1zM135.06 290.3h9.1v4h-9.1zM135.06 295.3h9.1v3h-9.1zM135.06 304.3h9.1v4h-9.1zM135.06 313.3h9.1v2h-9.1zM135.06 324.3h9.1v3h-9.1zM135.06 328.3h9.1v2h-9.1zM135.06 331.3h9.1v4h-9.1zM135.06 338.3h9.1v1h-9.1zM135.06 345.3h9.1v1h-9.1zM135.06 349.3h9.1v3h-9.1zM135.06 353.3h9.1v3h-9.1zM135.06 359.3h9.1v10h-9.1zM135.06 373.3h9.1v6h-9.1zM144.16 355.3h9.1v2h-9.1zM153.26 33.3h9.1v2h-9.1zM153.26 39.3h9.1v2h-9.1zM153.26 46.3h9.1v4h-9.1zM153.26 55.3h9.1v3h-9.1zM153.26 63.3h9.1v3h-9.1zM153.26 68.3h9.1v4h-9.1zM153.26 79.3h9.1v5h-9.1zM153.26 85.3h9.1v1h-9.1zM153.26 89.3h9.1v3h-9.1zM153.26 96.3h9.1v2h-9.1zM153.26 102.3h9.1v3h-9.1zM153.26 106.3h9.1v3h-9.1zM153.26 118.3h9.1v2h-9.1zM153.26 124.3h9.1v1h-9.1zM153.26 129.3h9.1v8h-9.1zM153.26 140.3h9.1v3h-9.1zM153.26 145.3h9.1v2h-9.1zM153.26 153.3h9.1v8h-9.1zM153.26 166.3h9.1v6h-9.1zM153.26 175.3h9.1v3h-9.1zM153.26 183.3h9.1v2h-9.1zM153.26 189.3h9.1v3h-9.1zM153.26 197.3h9.1v4h-9.1zM153.26 205.3h9.1v6h-9.1zM153.26 216.3h9.1v3h-9.1zM153.26 221.3h9.1v5h-9.1zM153.26 234.3h9.1v2h-9.1zM153.26 242.3h9.1v1h-9.1zM153.26 247.3h9.1v4h-9.1zM153.26 252.3h9.1v2h-9.1zM153.26 257.3h9.1v3h-9.1zM153.26 262.3h9.1v5h-9.1zM153.26 276.3h9.1v1h-9.1zM153.26 278.3h9.1v3h-9.1zM153.26 285.3h9.1v3h-9.1zM153.26 292.3h9.1v10h-9.1zM153.26 303.3h9.1v2h-9.1zM153.26 326.3h9.1v3h-9.1zM153.26 332.3h9.1v1h-9.1zM153.26 354.3h9.1v1h-9.1zM153.26 366.3h9.1v1h-9.1zM153.26 369.3h9.1v2h-9.1zM153.26 372.3h9.1v4h-9.1zM153.26 384.3h9.1v1h-9.1zM162.35 33.3h9.1v12h-9.1zM162.35 52.3h9.1v6h-9.1zM162.35 59.3h9.1v2h-9.1zM162.35 62.3h9.1v2h-9.1zM162.35 67.3h9.1v4h-9.1zM162.35 75.3h9.1v3h-9.1zM162.35 81.3h9.1v2h-9.1zM162.35 85.3h9.1v8h-9.1zM162.35 98.3h9.1v1h-9.1zM162.35 101.3h9.1v3h-9.1zM162.35 105.3h9.1v4h-9.1zM162.35 113.3h9.1v3h-9.1zM162.35 122.3h9.1v25h-9.1zM162.35 150.3h9.1v3h-9.1zM162.35 156.3h9.1v3h-9.1zM162.35 161.3h9.1v3h-9.1zM162.35 167.3h9.1v9h-9.1zM162.35 183.3h9.1v1h-9.1zM162.35 185.3h9.1v12h-9.1zM162.35 203.3h9.1v2h-9.1zM162.35 206.3h9.1v4h-9.1zM162.35 212.3h9.1v4h-9.1zM162.35 218.3h9.1v6h-9.1zM162.35 228.3h9.1v1h-9.1zM162.35 231.3h9.1v2h-9.1zM162.35 237.3h9.1v20h-9.1zM162.35 260.3h9.1v1h-9.1zM162.35 262.3h9.1v4h-9.1zM162.35 270.3h9.1v15h-9.1zM162.35 289.3h9.1v4h-9.1zM162.35 295.3h9.1v1h-9.1zM162.35 301.3h9.1v2h-9.1zM162.35 307.3h9.1v8h-9.1zM162.35 316.3h9.1v4h-9.1zM162.35 324.3h9.1v3h-9.1zM162.35 330.3h9.1v4h-9.1zM162.35 338.3h9.1v2h-9.1zM162.35 343.3h9.1v1h-9.1zM162.35 345.3h9.1v3h-9.1zM162.35 349.3h9.1v7h-9.1zM162.35 367.3h9.1v5h-9.1zM162.35 376.3h9.1v2h-9.1zM162.35 379.3h9.1v6h-9.1zM171.45 124.3h9.1v1h-9.1zM189.65 124.3h9.1v1h-9.1zM189.65 217.3h9.1v1h-9.1zM216.94 349.3h9.1v1h-9.1zM226.03 309.3h9.1v2h-9.1zM226.03 365.3h9.1v2h-9.1zM235.13 308.3h9.1v1h-9.1zM253.32 308.3h9.1v1h-9.1zM262.42 72.3h9.1v1h-9.1zM289.71 67.3h9.1v1h-9.1zM298.81 326.3h9.1v1h-9.1zM307.9 167.3h9.1v1h-9.1zM44.1 389.6h9.1v6h-9.1zM44.1 397.6h9.1v13h-9.1zM44.1 415.6h9.1v1h-9.1zM44.1 418.6h9.1v5h-9.1zM44.1 425.6h9.1v3h-9.1zM44.1 430.6h9.1v7h-9.1zM44.1 438.6h9.1v11h-9.1zM44.1 450.6h9.1v4h-9.1zM44.1 459.6h9.1v3h-9.1zM44.1 467.6h9.1v4h-9.1zM44.1 473.6h9.1v6h-9.1zM44.1 485.6h9.1v4h-9.1zM44.1 492.6h9.1v4h-9.1zM44.1 498.6h9.1v6h-9.1zM44.1 505.6h9.1v6h-9.1zM44.1 516.6h9.1v7h-9.1zM44.1 524.6h9.1v4h-9.1zM44.1 531.6h9.1v14h-9.1zM44.1 551.6h9.1v14h-9.1zM44.1 566.6h9.1v3h-9.1zM44.1 572.6h9.1v8h-9.1zM44.1 581.6h9.1v1h-9.1zM44.1 585.6h9.1v3h-9.1zM44.1 592.6h9.1v4h-9.1zM44.1 602.6h9.1v9h-9.1zM44.1 616.6h9.1v4h-9.1zM44.1 621.6h9.1v3h-9.1zM44.1 627.6h9.1v3h-9.1zM44.1 633.6h9.1v11h-9.1zM44.1 647.6h9.1v2h-9.1zM44.1 652.6h9.1v2h-9.1zM44.1 656.6h9.1v1h-9.1zM44.1 659.6h9.1v4h-9.1zM44.1 664.6h9.1v2h-9.1zM44.1 678.6h9.1v5h-9.1zM44.1 684.6h9.1v2h-9.1zM44.1 687.6h9.1v1h-9.1zM44.1 690.6h9.1v2h-9.1zM44.1 693.6h9.1v1h-9.1zM44.1 695.6h9.1v9h-9.1zM44.1 706.6h9.1v9h-9.1zM44.1 716.6h9.1v4h-9.1zM44.1 724.6h9.1v2h-9.1zM44.1 728.6h9.1v3h-9.1zM44.1 740.6h9.1v5h-9.1zM44.1 749.6h9.1v3h-9.1zM44.1 758.6h9.1v4.8h-9.1zM53.19 389.6h9.1v8h-9.1zM53.19 398.6h9.1v2h-9.1zM53.19 405.6h9.1v1h-9.1zM53.19 407.6h9.1v13h-9.1zM53.19 421.6h9.1v19h-9.1zM53.19 442.6h9.1v11h-9.1zM53.19 454.6h9.1v6h-9.1zM53.19 462.6h9.1v20h-9.1zM53.19 483.6h9.1v2h-9.1zM53.19 487.6h9.1v11h-9.1zM53.19 503.6h9.1v11h-9.1zM53.19 516.6h9.1v17h-9.1zM53.19 537.6h9.1v3h-9.1zM53.19 545.6h9.1v1h-9.1zM53.19 550.6h9.1v3h-9.1zM53.19 556.6h9.1v12h-9.1zM53.19 569.6h9.1v11h-9.1zM53.19 582.6h9.1v9h-9.1zM53.19 593.6h9.1v6h-9.1zM53.19 605.6h9.1v1h-9.1zM53.19 614.6h9.1v2h-9.1zM53.19 617.6h9.1v6h-9.1zM53.19 625.6h9.1v11h-9.1zM53.19 639.6h9.1v5h-9.1zM53.19 645.6h9.1v4h-9.1zM53.19 652.6h9.1v14h-9.1zM53.19 670.6h9.1v11h-9.1zM53.19 684.6h9.1v14h-9.1zM53.19 699.6h9.1v2h-9.1zM53.19 702.6h9.1v7h-9.1zM53.19 715.6h9.1v12h-9.1zM53.19 730.6h9.1v11h-9.1zM53.19 743.6h9.1v1h-9.1zM53.19 751.6h9.1v7h-9.1zM53.19 760.6h9.1v2.8h-9.1zM62.29 392.6h9.1v3h-9.1zM62.29 398.6h9.1v4h-9.1zM62.29 403.6h9.1v1h-9.1zM62.29 408.6h9.1v5h-9.1zM62.29 414.6h9.1v3h-9.1zM62.29 418.6h9.1v5h-9.1zM62.29 424.6h9.1v3h-9.1zM62.29 435.6h9.1v2h-9.1zM62.29 443.6h9.1v1h-9.1zM62.29 446.6h9.1v3h-9.1zM62.29 452.6h9.1v3h-9.1zM62.29 471.6h9.1v3h-9.1zM62.29 480.6h9.1v2h-9.1zM62.29 484.6h9.1v1h-9.1zM62.29 487.6h9.1v2h-9.1zM62.29 498.6h9.1v6h-9.1zM62.29 515.6h9.1v2h-9.1zM62.29 520.6h9.1v3h-9.1zM62.29 529.6h9.1v2h-9.1zM62.29 538.6h9.1v3h-9.1zM62.29 542.6h9.1v1h-9.1zM62.29 547.6h9.1v2h-9.1zM62.29 556.6h9.1v6h-9.1zM62.29 566.6h9.1v1h-9.1zM62.29 570.6h9.1v13h-9.1zM62.29 584.6h9.1v2h-9.1zM62.29 587.6h9.1v5h-9.1zM62.29 595.6h9.1v2h-9.1zM62.29 599.6h9.1v2h-9.1zM62.29 612.6h9.1v3h-9.1zM62.29 618.6h9.1v3h-9.1zM62.29 632.6h9.1v1h-9.1zM62.29 637.6h9.1v3h-9.1zM62.29 647.6h9.1v2h-9.1zM62.29 652.6h9.1v5h-9.1zM62.29 659.6h9.1v1h-9.1zM62.29 669.6h9.1v2h-9.1zM62.29 692.6h9.1v1h-9.1zM62.29 696.6h9.1v1h-9.1zM62.29 700.6h9.1v2h-9.1zM62.29 705.6h9.1v3h-9.1zM62.29 711.6h9.1v3h-9.1zM62.29 723.6h9.1v3h-9.1zM62.29 730.6h9.1v1h-9.1zM62.29 743.6h9.1v2h-9.1zM62.29 753.6h9.1v1h-9.1zM62.29 756.6h9.1v4h-9.1zM62.29 762.6h9.1v0.8h-9.1zM71.39 389.6h9.1v5h-9.1zM71.39 395.6h9.1v1h-9.1zM71.39 399.6h9.1v12h-9.1zM71.39 412.6h9.1v4h-9.1zM71.39 418.6h9.1v11h-9.1zM71.39 432.6h9.1v8h-9.1zM71.39 442.6h9.1v3h-9.1zM71.39 446.6h9.1v7h-9.1zM71.39 457.6h9.1v10h-9.1zM71.39 470.6h9.1v5h-9.1zM71.39 477.6h9.1v8h-9.1zM71.39 486.6h9.1v6h-9.1zM71.39 494.6h9.1v4h-9.1zM71.39 499.6h9.1v9h-9.1zM71.39 510.6h9.1v14h-9.1zM71.39 528.6h9.1v2h-9.1zM71.39 532.6h9.1v3h-9.1zM71.39 537.6h9.1v4h-9.1zM71.39 542.6h9.1v3h-9.1zM71.39 548.6h9.1v3h-9.1zM71.39 554.6h9.1v3h-9.1zM71.39 558.6h9.1v2h-9.1zM71.39 562.6h9.1v5h-9.1zM71.39 568.6h9.1v3h-9.1zM71.39 574.6h9.1v2h-9.1zM71.39 578.6h9.1v1h-9.1zM71.39 585.6h9.1v9h-9.1zM71.39 596.6h9.1v6h-9.1zM71.39 603.6h9.1v8h-9.1zM71.39 614.6h9.1v1h-9.1zM71.39 616.6h9.1v5h-9.1zM71.39 622.6h9.1v6h-9.1zM71.39 629.6h9.1v6h-9.1zM71.39 638.6h9.1v2h-9.1zM71.39 643.6h9.1v8h-9.1zM71.39 653.6h9.1v7h-9.1zM71.39 662.6h9.1v3h-9.1zM71.39 667.6h9.1v5h-9.1zM71.39 674.6h9.1v5h-9.1zM71.39 681.6h9.1v3h-9.1zM71.39 687.6h9.1v5h-9.1zM71.39 694.6h9.1v8h-9.1zM71.39 706.6h9.1v10h-9.1zM71.39 719.6h9.1v2h-9.1zM71.39 723.6h9.1v24h-9.1zM71.39 750.6h9.1v5h-9.1zM71.39 757.6h9.1v5.8h-9.1zM189.65 695.6h9.1v1h-9.1zM189.65 718.6h9.1v1h-9.1zM189.65 756.6h9.1v2h-9.1zM198.74 389.6h9.1v2h-9.1zM198.74 716.6h9.1v2h-9.1zM216.94 718.6h9.1v1h-9.1zM262.42 640.6h9.1v1h-9.1zM289.71 389.6h9.1v2h-9.1z"/></g><path fill="#000" fill-opacity="1" d="M34.3 33.3h1.4v352.9h-1.4zM43.4 33.3h1.4v352.9h-1.4zM52.49 33.3h1.4v352.9h-1.4zM61.59 33.3h1.4v352.9h-1.4zM70.69 33.3h1.4v352.9h-1.4zM79.78 33.3h1.4v352.9h-1.4zM88.88 33.3h1.4v352.9h-1.4zM97.98 33.3h1.4v352.9h-1.4zM107.07 33.3h1.4v352.9h-1.4zM116.17 33.3h1.4v352.9h-1.4zM125.27 33.3h1.4v352.9h-1.4zM134.36 33.3h1.4v352.9h-1.4zM143.46 33.3h1.4v352.9h-1.4zM152.56 33.3h1.4v352.9h-1.4zM161.65 33.3h1.4v352.9h-1.4zM170.75 33.3h1.4v352.9h-1.4zM179.85 33.3h1.4v352.9h-1.4zM188.95 33.3h1.4v352.9h-1.4zM198.04 33.3h1.4v352.9h-1.4zM207.14 33.3h1.4v352.9h-1.4zM216.24 33.3h1.4v352.9h-1.4zM225.33 33.3h1.4v352.9h-1.4zM234.43 33.3h1.4v352.9h-1.4zM243.53 33.3h1.4v352.9h-1.4zM252.62 33.3h1.4v352.9h-1.4zM261.72 33.3h1.4v352.9h-1.4zM270.82 33.3h1.4v352.9h-1.4zM279.91 33.3h1.4v352.9h-1.4zM289.01 33.3h1.4v352.9h-1.4zM298.11 33.3h1.4v352.9h-1.4zM307.2 33.3h1.4v352.9h-1.4zM316.3 33.3h1.4v352.9h-1.4zM34.5 385.2h283v1h-283zM34.3 389.6h1.4v373.8h-1.4zM43.4 389.6h1.4v373.8h-1.4zM52.49 389.6h1.4v373.8h-1.4zM61.59 389.6h1.4v373.8h-1.4zM70.69 389.6h1.4v373.8h-1.4zM79.78 389.6h1.4v373.8h-1.4zM88.88 389.6h1.4v373.8h-1.4zM97.98 389.6h1.4v373.8h-1.4zM107.07 389.6h1.4v373.8h-1.4zM116.17 389.6h1.4v373.8h-1.4zM125.27 389.6h1.4v373.8h-1.4zM134.36 389.6h1.4v373.8h-1.4zM143.46 389.6h1.4v373.8h-1.4zM152.56 389.6h1.4v373.8h-1.4zM161.65 389.6h1.4v373.8h-1.4zM170.75 389.6h1.4v373.8h-1.4zM179.85 389.6h1.4v373.8h-1.4zM188.95 389.6h1.4v373.8h-1.4zM198.04 389.6h1.4v373.8h-1.4zM207.14 389.6h1.4v373.8h-1.4zM216.24 389.6h1.4v373.8h-1.4zM225.33 389.6h1.4v373.8h-1.4zM234.43 389.6h1.4v373.8h-1.4zM243.53 389.6h1.4v373.8h-1.4zM252.62 389.6h1.4v373.8h-1.4zM261.72 389.6h1.4v373.8h-1.4zM270.82 389.6h1.4v373.8h-1.4zM279.91 389.6h1.4v373.8h-1.4zM289.01 389.6h1.4v373.8h-1.4zM298.11 389.6h1.4v373.8h-1.4zM307.2 389.6h1.4v373.8h-1.4zM316.3 389.6h1.4v373.8h-1.4zM34.5 762.4h283v1h-283z"/></g></svg>
<div class="vl" style="left:78.9px;top:3.7px;height:30px"></div>
<div class="vl" style="left:169.8px;top:3.7px;height:30px"></div>
<div class="t hd" style="left:32.9px;top:5.6px;transform:scaleX(1.06)">plasma</div>
<div class="t hd" style="left:40.6px;top:21.1px;transform:scaleX(1.06)">cells</div>
<div class="t hd" style="left:97.9px;top:5.0px;transform:scaleX(1.085)">germinal</div>
<div class="t hd" style="left:83.8px;top:20.7px;transform:scaleX(1.06)">center B cells</div>
<div class="t hd" style="left:230.6px;top:10.0px;transform:scaleX(1.06)">cHL</div>
<div class="rot" style="left:3.5px;top:334.2px;transform:rotate(-90deg)">germinal center B cell genes</div>
<div class="rot" style="left:4.7px;top:671.5px;transform:rotate(-90deg)">plasma cell genes</div>
<div class="bar" style="left:361px;top:135.7px;height:150.2px"></div>
<div class="bar" style="left:367.4px;top:509.2px;height:149.6px"></div>
<div class="cb" style="left:383.4px;top:135.4px;transform:none">1X (median GC B cells)</div>
<div class="cb" style="left:390px;top:508.4px;transform:none">1X (median plasma cells)</div>
<div class="cb" style="left:379.6px;top:207.6px">-</div>
<div class="cb" style="left:387.35px;top:209.0px">4X</div>
<div class="cb" style="left:381.2px;top:280.9px">-</div>
<div class="cb" style="left:389.35px;top:282.4px">16X</div>
<div class="cb" style="left:385.6px;top:579.6px">-</div>
<div class="cb" style="left:393.65px;top:581.3px">4X</div>
<div class="cb" style="left:387.2px;top:652.8px">-</div>
<div class="cb" style="left:395.65px;top:654.4px">16X</div>
</body></html>
